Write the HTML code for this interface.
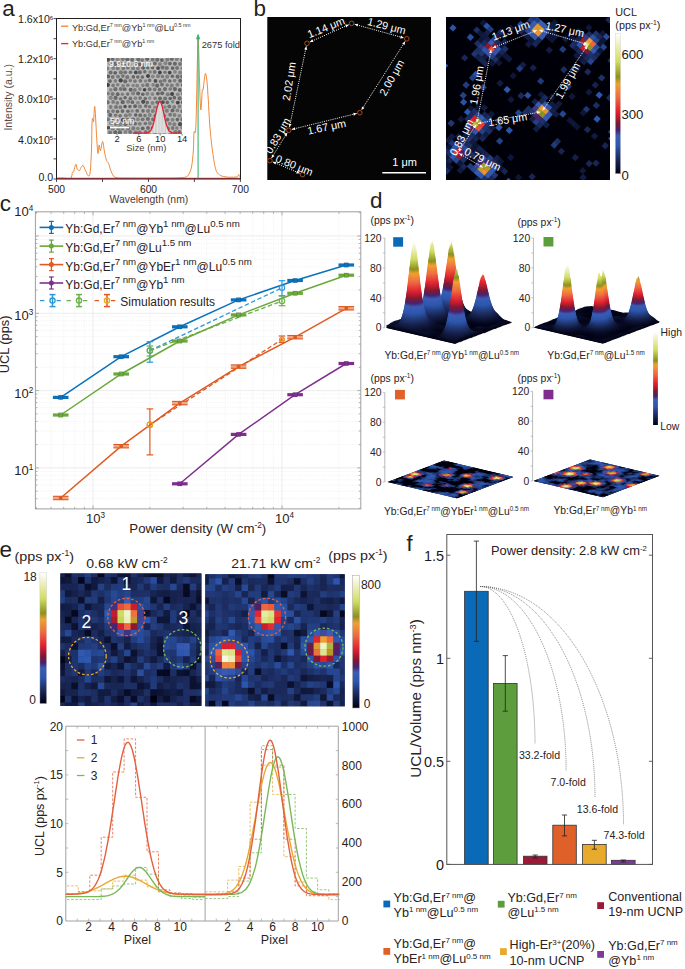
<!DOCTYPE html>
<html><head><meta charset="utf-8"><title>Figure</title>
<style>html,body{margin:0;padding:0;background:#fff;}body{width:685px;height:969px;overflow:hidden;font-family:"Liberation Sans", sans-serif;}svg{display:block;}</style>
</head><body>
<svg width="685" height="969" viewBox="0 0 685 969" font-family="&quot;Liberation Sans&quot;, sans-serif">
<rect width="685" height="969" fill="#ffffff"/>
<line x1="61.1" y1="26.2" x2="68.3" y2="26.2" stroke="#f08a3c" stroke-width="1.4"/>
<line x1="61.1" y1="43.6" x2="68.3" y2="43.6" stroke="#e0303e" stroke-width="1.4"/>
<text x="71.9" y="31.3" font-size="9.6" fill="#3a3030" textLength="118.6" lengthAdjust="spacingAndGlyphs"><tspan font-size="9.6">Yb:Gd,Er</tspan><tspan font-size="5.6" dy="-4">7 nm</tspan><tspan font-size="9.6" dy="4">@Yb</tspan><tspan font-size="5.6" dy="-4">1 nm</tspan><tspan font-size="9.6" dy="4">@Lu</tspan><tspan font-size="5.6" dy="-4">0.5 nm</tspan></text>
<text x="71.9" y="46.8" font-size="9.6" fill="#3a3030" textLength="82.4" lengthAdjust="spacingAndGlyphs"><tspan font-size="9.6">Yb:Gd,Er</tspan><tspan font-size="5.6" dy="-4">7 nm</tspan><tspan font-size="9.6" dy="4">@Yb</tspan><tspan font-size="5.6" dy="-4">1 nm</tspan></text>
<defs><clipPath id="temc"><rect x="107" y="58" width="75" height="76"/></clipPath></defs>
<rect x="107" y="58" width="75" height="76" fill="#b8b8b8"/>
<g clip-path="url(#temc)"><circle cx="108.1" cy="59.8" r="2" fill="#4e4e4e"/><circle cx="112.6" cy="59" r="1.9" fill="#6c6c6c"/><circle cx="117.6" cy="59.6" r="2" fill="#868686"/><circle cx="122.7" cy="59.1" r="2" fill="#7a7a7a"/><circle cx="127.4" cy="59.6" r="2.1" fill="#6a6a6a"/><circle cx="132.2" cy="59.8" r="1.9" fill="#6c6c6c"/><circle cx="138.3" cy="59.5" r="2.1" fill="#6f6f6f"/><circle cx="142.3" cy="60.1" r="1.9" fill="#7a7a7a"/><circle cx="147.2" cy="59.1" r="2" fill="#666666"/><circle cx="152.7" cy="59.6" r="1.9" fill="#777777"/><circle cx="157.3" cy="59.7" r="2" fill="#6d6d6d"/><circle cx="161.9" cy="60.1" r="1.9" fill="#636363"/><circle cx="167.3" cy="59.6" r="2" fill="#7c7c7c"/><circle cx="171.8" cy="59" r="2.1" fill="#6d6d6d"/><circle cx="176.8" cy="59.2" r="1.9" fill="#7f7f7f"/><circle cx="182.3" cy="59.8" r="2" fill="#686868"/><circle cx="110.3" cy="63.5" r="1.8" fill="#7d7d7d"/><circle cx="115.2" cy="63.9" r="2.1" fill="#6b6b6b"/><circle cx="120.4" cy="63.6" r="2" fill="#767676"/><circle cx="125.5" cy="64.1" r="1.8" fill="#757575"/><circle cx="129.7" cy="64.4" r="1.8" fill="#848484"/><circle cx="135.5" cy="63.6" r="1.9" fill="#727272"/><circle cx="139.6" cy="64.3" r="1.9" fill="#646464"/><circle cx="144.8" cy="64.4" r="2" fill="#868686"/><circle cx="150.4" cy="63.3" r="1.8" fill="#7d7d7d"/><circle cx="154.9" cy="63.4" r="1.9" fill="#6c6c6c"/><circle cx="160" cy="64.1" r="1.9" fill="#808080"/><circle cx="165.4" cy="63.3" r="2" fill="#848484"/><circle cx="169.9" cy="63.6" r="1.9" fill="#676767"/><circle cx="174.9" cy="63.8" r="2" fill="#666666"/><circle cx="180" cy="64" r="2" fill="#757575"/><circle cx="184.5" cy="63.8" r="1.9" fill="#747474"/><circle cx="107.6" cy="68.5" r="1.8" fill="#808080"/><circle cx="113.2" cy="68" r="2" fill="#828282"/><circle cx="117.7" cy="68.2" r="2" fill="#7c7c7c"/><circle cx="123.3" cy="68.3" r="1.9" fill="#797979"/><circle cx="127.8" cy="67.7" r="1.9" fill="#797979"/><circle cx="133" cy="68.3" r="2" fill="#7c7c7c"/><circle cx="137.8" cy="68.3" r="1.9" fill="#7c7c7c"/><circle cx="143.1" cy="67.8" r="2" fill="#636363"/><circle cx="147.7" cy="67.7" r="1.8" fill="#6d6d6d"/><circle cx="152.5" cy="67.7" r="1.8" fill="#656565"/><circle cx="158.1" cy="68.1" r="1.9" fill="#4e4e4e"/><circle cx="162.6" cy="67.6" r="2.1" fill="#6f6f6f"/><circle cx="166.8" cy="68" r="2.1" fill="#737373"/><circle cx="172.6" cy="68.1" r="1.9" fill="#646464"/><circle cx="177.1" cy="68.1" r="2" fill="#747474"/><circle cx="182.2" cy="68.4" r="1.8" fill="#848484"/><circle cx="110.6" cy="72.4" r="2" fill="#6e6e6e"/><circle cx="115.2" cy="72.8" r="1.9" fill="#626262"/><circle cx="120.9" cy="72.4" r="2.1" fill="#767676"/><circle cx="125.2" cy="72.3" r="1.9" fill="#707070"/><circle cx="130.5" cy="72.2" r="1.8" fill="#6c6c6c"/><circle cx="135.8" cy="72.4" r="1.9" fill="#494949"/><circle cx="139.9" cy="72.3" r="2.1" fill="#696969"/><circle cx="144.8" cy="71.8" r="1.8" fill="#6a6a6a"/><circle cx="150.1" cy="72.1" r="1.8" fill="#808080"/><circle cx="154.7" cy="71.9" r="2" fill="#747474"/><circle cx="159.9" cy="72.5" r="1.9" fill="#444444"/><circle cx="165" cy="72.2" r="1.8" fill="#747474"/><circle cx="169.7" cy="72.6" r="1.9" fill="#484848"/><circle cx="175" cy="71.9" r="1.9" fill="#848484"/><circle cx="180.1" cy="72.5" r="2" fill="#808080"/><circle cx="184.7" cy="72.6" r="1.9" fill="#6e6e6e"/><circle cx="108.3" cy="76.4" r="1.9" fill="#626262"/><circle cx="112.7" cy="77" r="1.9" fill="#757575"/><circle cx="118" cy="76.6" r="1.9" fill="#777777"/><circle cx="122.9" cy="76.1" r="1.8" fill="#707070"/><circle cx="127.3" cy="77.2" r="2.1" fill="#777777"/><circle cx="133.3" cy="76.9" r="1.8" fill="#656565"/><circle cx="137.8" cy="77" r="1.8" fill="#696969"/><circle cx="142.4" cy="77.1" r="1.8" fill="#6b6b6b"/><circle cx="148" cy="76.1" r="2" fill="#434343"/><circle cx="152.8" cy="76.4" r="2" fill="#868686"/><circle cx="158" cy="76.2" r="2" fill="#7d7d7d"/><circle cx="162.4" cy="76.5" r="1.8" fill="#797979"/><circle cx="167.2" cy="76.7" r="2.1" fill="#828282"/><circle cx="172.4" cy="76.3" r="1.8" fill="#666666"/><circle cx="177.6" cy="76.7" r="2.1" fill="#6a6a6a"/><circle cx="182.2" cy="76.5" r="2" fill="#6a6a6a"/><circle cx="110" cy="81.1" r="1.9" fill="#676767"/><circle cx="115.4" cy="80.8" r="1.9" fill="#7f7f7f"/><circle cx="120.7" cy="80.4" r="2.1" fill="#444444"/><circle cx="125.2" cy="81.3" r="2.1" fill="#696969"/><circle cx="130.3" cy="80.6" r="1.8" fill="#7a7a7a"/><circle cx="135" cy="81.1" r="1.9" fill="#787878"/><circle cx="140.4" cy="80.8" r="1.9" fill="#747474"/><circle cx="145.5" cy="81" r="1.8" fill="#868686"/><circle cx="149.6" cy="80.4" r="1.8" fill="#6d6d6d"/><circle cx="155.5" cy="80.9" r="1.9" fill="#4f4f4f"/><circle cx="160.5" cy="81.4" r="1.8" fill="#767676"/><circle cx="164.5" cy="80.5" r="2.1" fill="#797979"/><circle cx="169.8" cy="81" r="1.8" fill="#696969"/><circle cx="174.6" cy="80.6" r="1.9" fill="#808080"/><circle cx="180.1" cy="80.7" r="2" fill="#656565"/><circle cx="184.7" cy="81.5" r="1.9" fill="#696969"/><circle cx="107.9" cy="84.9" r="2" fill="#404040"/><circle cx="113.1" cy="85.4" r="1.8" fill="#797979"/><circle cx="117.7" cy="84.7" r="1.8" fill="#7f7f7f"/><circle cx="123.1" cy="85.7" r="1.8" fill="#7d7d7d"/><circle cx="127.8" cy="85.2" r="1.8" fill="#7c7c7c"/><circle cx="133.2" cy="85.6" r="1.8" fill="#868686"/><circle cx="137.2" cy="85.7" r="1.9" fill="#818181"/><circle cx="142.9" cy="85.4" r="1.8" fill="#818181"/><circle cx="147.3" cy="85.1" r="2.1" fill="#757575"/><circle cx="153.1" cy="84.9" r="1.8" fill="#828282"/><circle cx="157.2" cy="85.7" r="2.1" fill="#686868"/><circle cx="162" cy="84.7" r="1.9" fill="#6f6f6f"/><circle cx="167.2" cy="85.1" r="1.8" fill="#7a7a7a"/><circle cx="171.8" cy="85.5" r="2.1" fill="#7e7e7e"/><circle cx="177.4" cy="84.8" r="2" fill="#808080"/><circle cx="182.6" cy="85" r="1.9" fill="#6a6a6a"/><circle cx="110.7" cy="89.9" r="1.8" fill="#868686"/><circle cx="115.4" cy="89.2" r="2.1" fill="#6e6e6e"/><circle cx="120.8" cy="89" r="2" fill="#767676"/><circle cx="124.7" cy="89.2" r="1.9" fill="#6a6a6a"/><circle cx="130.7" cy="89.7" r="2" fill="#636363"/><circle cx="134.9" cy="89.9" r="1.9" fill="#7a7a7a"/><circle cx="139.9" cy="89.1" r="1.8" fill="#818181"/><circle cx="144.6" cy="89.8" r="1.8" fill="#434343"/><circle cx="149.6" cy="89.3" r="2" fill="#727272"/><circle cx="154.7" cy="89.4" r="1.9" fill="#797979"/><circle cx="159.6" cy="89.6" r="1.8" fill="#6c6c6c"/><circle cx="165" cy="89.1" r="2.1" fill="#6b6b6b"/><circle cx="170.2" cy="89" r="1.8" fill="#767676"/><circle cx="174.9" cy="89.1" r="2.1" fill="#656565"/><circle cx="179.8" cy="90.1" r="2" fill="#626262"/><circle cx="184.6" cy="89" r="1.8" fill="#525252"/><circle cx="108.2" cy="93.6" r="1.8" fill="#7f7f7f"/><circle cx="112.6" cy="93.9" r="2" fill="#787878"/><circle cx="117.7" cy="94.2" r="1.9" fill="#656565"/><circle cx="122.4" cy="94.2" r="1.8" fill="#818181"/><circle cx="127.7" cy="94.1" r="1.8" fill="#747474"/><circle cx="133.1" cy="93.6" r="2" fill="#808080"/><circle cx="138.1" cy="93.6" r="2" fill="#626262"/><circle cx="142.8" cy="94.2" r="1.8" fill="#636363"/><circle cx="147.4" cy="93.7" r="2" fill="#808080"/><circle cx="152.5" cy="94.1" r="1.9" fill="#858585"/><circle cx="157.9" cy="93.6" r="1.9" fill="#636363"/><circle cx="162.2" cy="93.3" r="2" fill="#676767"/><circle cx="167.8" cy="94.3" r="2.1" fill="#7c7c7c"/><circle cx="172.1" cy="94.1" r="2" fill="#424242"/><circle cx="177.8" cy="94.3" r="1.9" fill="#858585"/><circle cx="182.7" cy="93.5" r="2.1" fill="#848484"/><circle cx="110.7" cy="97.9" r="2.1" fill="#838383"/><circle cx="115.6" cy="97.9" r="2.1" fill="#686868"/><circle cx="120.6" cy="98.7" r="1.8" fill="#717171"/><circle cx="125.1" cy="97.8" r="1.8" fill="#666666"/><circle cx="130.4" cy="98.4" r="1.9" fill="#707070"/><circle cx="135.4" cy="98.2" r="1.9" fill="#848484"/><circle cx="140.1" cy="98.1" r="1.8" fill="#717171"/><circle cx="145.3" cy="98.6" r="1.8" fill="#6d6d6d"/><circle cx="149.8" cy="98.1" r="1.8" fill="#868686"/><circle cx="155.1" cy="98.3" r="1.8" fill="#777777"/><circle cx="160" cy="98.5" r="2" fill="#666666"/><circle cx="165.1" cy="98.6" r="2" fill="#707070"/><circle cx="170.2" cy="98.5" r="1.8" fill="#626262"/><circle cx="174.3" cy="97.7" r="1.9" fill="#686868"/><circle cx="179.6" cy="98.4" r="2.1" fill="#6d6d6d"/><circle cx="185.3" cy="98.2" r="2" fill="#686868"/><circle cx="107.6" cy="102.2" r="2" fill="#6d6d6d"/><circle cx="113.2" cy="101.9" r="1.9" fill="#7b7b7b"/><circle cx="117.3" cy="102.9" r="1.8" fill="#797979"/><circle cx="122.7" cy="102.2" r="2.1" fill="#666666"/><circle cx="128.1" cy="101.8" r="2" fill="#808080"/><circle cx="132.4" cy="102.2" r="1.9" fill="#6b6b6b"/><circle cx="137.9" cy="102.7" r="1.9" fill="#868686"/><circle cx="143.2" cy="101.8" r="2.1" fill="#4d4d4d"/><circle cx="147.3" cy="102.6" r="1.8" fill="#6b6b6b"/><circle cx="152.5" cy="102.9" r="2" fill="#848484"/><circle cx="157.2" cy="102.3" r="1.8" fill="#6a6a6a"/><circle cx="162.8" cy="102.2" r="1.9" fill="#515151"/><circle cx="167.3" cy="102.4" r="1.8" fill="#656565"/><circle cx="172.7" cy="101.8" r="1.8" fill="#838383"/><circle cx="177.8" cy="102.6" r="1.9" fill="#454545"/><circle cx="182.6" cy="102.3" r="1.9" fill="#646464"/><circle cx="110.7" cy="107" r="1.9" fill="#7d7d7d"/><circle cx="116" cy="107" r="2" fill="#777777"/><circle cx="120.3" cy="107.2" r="1.9" fill="#797979"/><circle cx="125.1" cy="106.6" r="1.8" fill="#545454"/><circle cx="129.9" cy="106.6" r="1.8" fill="#666666"/><circle cx="135.1" cy="106.2" r="1.9" fill="#636363"/><circle cx="140" cy="106.6" r="2.1" fill="#7f7f7f"/><circle cx="145.7" cy="106.1" r="1.8" fill="#6d6d6d"/><circle cx="149.6" cy="106.8" r="1.8" fill="#777777"/><circle cx="155" cy="107.2" r="1.8" fill="#858585"/><circle cx="160.1" cy="106.5" r="1.9" fill="#797979"/><circle cx="164.9" cy="107.1" r="1.8" fill="#868686"/><circle cx="169.3" cy="106.5" r="2" fill="#717171"/><circle cx="174.2" cy="107" r="2" fill="#7c7c7c"/><circle cx="179.5" cy="106.4" r="2" fill="#828282"/><circle cx="185.2" cy="107" r="1.9" fill="#858585"/><circle cx="108.2" cy="111.5" r="1.8" fill="#797979"/><circle cx="113" cy="111.1" r="1.9" fill="#7a7a7a"/><circle cx="117.5" cy="111.5" r="1.8" fill="#666666"/><circle cx="122.5" cy="111.1" r="1.9" fill="#686868"/><circle cx="127.9" cy="111.3" r="1.8" fill="#6a6a6a"/><circle cx="132.2" cy="111" r="1.8" fill="#868686"/><circle cx="137.2" cy="110.8" r="1.9" fill="#6b6b6b"/><circle cx="143" cy="110.9" r="1.8" fill="#6b6b6b"/><circle cx="148" cy="111.1" r="2" fill="#7a7a7a"/><circle cx="152.8" cy="111.1" r="2" fill="#7e7e7e"/><circle cx="157.6" cy="111" r="1.8" fill="#787878"/><circle cx="161.9" cy="111.3" r="2" fill="#818181"/><circle cx="166.8" cy="110.8" r="2" fill="#7c7c7c"/><circle cx="172.5" cy="110.6" r="2" fill="#696969"/><circle cx="177.4" cy="110.4" r="1.9" fill="#7f7f7f"/><circle cx="182.3" cy="111.3" r="2" fill="#737373"/><circle cx="110.2" cy="115" r="1.9" fill="#626262"/><circle cx="115.6" cy="115.2" r="1.8" fill="#7a7a7a"/><circle cx="120.1" cy="115.8" r="1.8" fill="#6f6f6f"/><circle cx="125.9" cy="115.4" r="2" fill="#7e7e7e"/><circle cx="129.9" cy="114.8" r="1.9" fill="#818181"/><circle cx="135.7" cy="115" r="1.8" fill="#636363"/><circle cx="140.2" cy="115.3" r="2" fill="#6f6f6f"/><circle cx="145" cy="115.6" r="1.8" fill="#767676"/><circle cx="149.8" cy="115.1" r="2" fill="#838383"/><circle cx="155.2" cy="115.8" r="1.8" fill="#696969"/><circle cx="159.5" cy="115.7" r="2" fill="#747474"/><circle cx="164.4" cy="115.8" r="1.9" fill="#7a7a7a"/><circle cx="170.2" cy="114.7" r="1.9" fill="#777777"/><circle cx="174.6" cy="115" r="1.9" fill="#7c7c7c"/><circle cx="179.4" cy="115.8" r="1.9" fill="#828282"/><circle cx="184.2" cy="115.1" r="2" fill="#868686"/><circle cx="108.2" cy="119.3" r="1.9" fill="#797979"/><circle cx="112.5" cy="119.8" r="1.8" fill="#696969"/><circle cx="118.1" cy="119.7" r="1.8" fill="#7a7a7a"/><circle cx="122.9" cy="120.1" r="2.1" fill="#505050"/><circle cx="127.4" cy="119.7" r="1.9" fill="#6d6d6d"/><circle cx="133.1" cy="119.5" r="2" fill="#6a6a6a"/><circle cx="137.9" cy="119.3" r="2" fill="#858585"/><circle cx="142.7" cy="119.3" r="1.9" fill="#727272"/><circle cx="147.9" cy="119" r="2.1" fill="#6e6e6e"/><circle cx="152.9" cy="119.4" r="1.8" fill="#707070"/><circle cx="157" cy="119.4" r="1.8" fill="#7f7f7f"/><circle cx="162.7" cy="119" r="2" fill="#727272"/><circle cx="167.5" cy="119.6" r="1.9" fill="#6f6f6f"/><circle cx="172.5" cy="119.7" r="1.9" fill="#818181"/><circle cx="177.4" cy="119.6" r="1.8" fill="#656565"/><circle cx="182.2" cy="119.4" r="1.8" fill="#6a6a6a"/><circle cx="111" cy="123.2" r="1.9" fill="#818181"/><circle cx="115.8" cy="124" r="2" fill="#7c7c7c"/><circle cx="120.3" cy="124.3" r="2" fill="#838383"/><circle cx="125.5" cy="124.2" r="2" fill="#6c6c6c"/><circle cx="130.3" cy="123.8" r="1.8" fill="#7f7f7f"/><circle cx="135.3" cy="123.8" r="1.8" fill="#696969"/><circle cx="139.8" cy="123.8" r="1.9" fill="#7b7b7b"/><circle cx="145.3" cy="123.5" r="1.8" fill="#737373"/><circle cx="149.8" cy="123.3" r="2" fill="#828282"/><circle cx="154.7" cy="123.3" r="2" fill="#858585"/><circle cx="159.9" cy="124" r="1.9" fill="#656565"/><circle cx="164.3" cy="123.7" r="1.8" fill="#464646"/><circle cx="169.8" cy="123.7" r="1.9" fill="#808080"/><circle cx="174.3" cy="124.2" r="2" fill="#7f7f7f"/><circle cx="180" cy="124.2" r="2.1" fill="#4e4e4e"/><circle cx="184.4" cy="123.3" r="1.9" fill="#777777"/><circle cx="108.5" cy="127.7" r="1.8" fill="#4d4d4d"/><circle cx="112.6" cy="128.5" r="2.1" fill="#7b7b7b"/><circle cx="118.4" cy="128.3" r="2.1" fill="#6f6f6f"/><circle cx="122.4" cy="128.6" r="2" fill="#737373"/><circle cx="128" cy="128.5" r="2.1" fill="#737373"/><circle cx="133.3" cy="128.4" r="2.1" fill="#7c7c7c"/><circle cx="137.8" cy="128.5" r="1.8" fill="#7e7e7e"/><circle cx="142.7" cy="128.3" r="1.9" fill="#646464"/><circle cx="148" cy="127.9" r="1.9" fill="#686868"/><circle cx="152.9" cy="128.2" r="2" fill="#444444"/><circle cx="158" cy="128.4" r="2" fill="#858585"/><circle cx="162.9" cy="128.4" r="1.9" fill="#676767"/><circle cx="168" cy="128.4" r="1.9" fill="#797979"/><circle cx="172.7" cy="128" r="1.9" fill="#777777"/><circle cx="176.9" cy="128" r="1.8" fill="#7e7e7e"/><circle cx="182.2" cy="127.6" r="1.9" fill="#828282"/><circle cx="110.1" cy="132.6" r="2" fill="#767676"/><circle cx="115.3" cy="132.2" r="2" fill="#646464"/><circle cx="119.9" cy="132.4" r="2.1" fill="#676767"/><circle cx="125.5" cy="131.9" r="1.9" fill="#818181"/><circle cx="130.2" cy="132" r="2" fill="#737373"/><circle cx="135.8" cy="132.4" r="2" fill="#747474"/><circle cx="139.7" cy="132.2" r="1.9" fill="#7c7c7c"/><circle cx="145.7" cy="131.9" r="1.9" fill="#777777"/><circle cx="149.6" cy="132.2" r="2" fill="#818181"/><circle cx="155" cy="132.8" r="2.1" fill="#656565"/><circle cx="159.7" cy="132.3" r="1.9" fill="#828282"/><circle cx="164.4" cy="132.4" r="1.8" fill="#7e7e7e"/><circle cx="170.1" cy="132.9" r="1.9" fill="#696969"/><circle cx="175.3" cy="132.1" r="2.1" fill="#797979"/><circle cx="179.3" cy="131.8" r="1.8" fill="#6b6b6b"/><circle cx="184.3" cy="132.7" r="1.8" fill="#656565"/><circle cx="108.2" cy="136.4" r="1.9" fill="#4e4e4e"/><circle cx="113.2" cy="136.7" r="1.9" fill="#828282"/><circle cx="117.9" cy="136.6" r="1.9" fill="#646464"/><circle cx="122.6" cy="136.8" r="1.8" fill="#696969"/><circle cx="128.3" cy="136.5" r="2" fill="#696969"/><circle cx="133.3" cy="136.2" r="1.8" fill="#848484"/><circle cx="137.3" cy="136.6" r="1.8" fill="#7b7b7b"/><circle cx="142.2" cy="137.2" r="1.9" fill="#838383"/><circle cx="147" cy="137" r="1.9" fill="#7b7b7b"/><circle cx="152.6" cy="136.7" r="1.9" fill="#696969"/><circle cx="157.3" cy="136.8" r="1.8" fill="#6c6c6c"/><circle cx="162.1" cy="136.1" r="1.8" fill="#808080"/><circle cx="167.1" cy="137.2" r="1.9" fill="#767676"/><circle cx="171.8" cy="136.2" r="2" fill="#6e6e6e"/><circle cx="176.8" cy="137.1" r="2.1" fill="#696969"/><circle cx="182.4" cy="137.2" r="1.8" fill="#787878"/></g>
<text x="109" y="67.2" font-size="8.8" fill="#ffffff">9.9±0.6 nm</text>
<text x="110" y="124" font-size="8.8" fill="#ffffff">50 nm</text>
<line x1="110" y1="127.6" x2="129" y2="127.6" stroke="#ffffff" stroke-width="1.5"/>
<defs><clipPath id="histc"><path d="M149,133.2 149,132.2 149.6,131.8 150.1,131.3 150.7,130.7 151.2,129.8 151.8,128.7 152.3,127.4 152.8,125.9 153.4,124.1 153.9,122.1 154.5,119.9 155.1,117.5 155.6,115 156.2,112.5 156.7,110.1 157.2,107.9 157.8,105.9 158.3,104.3 158.9,103.2 159.4,102.6 160,102.5 160.6,103 161.1,104 161.7,105.4 162.2,107.3 162.8,109.5 163.3,111.8 163.8,114.3 164.4,116.8 164.9,119.2 165.5,121.5 166.1,123.6 166.6,125.4 167.2,127 167.7,128.4 168.2,129.5 168.8,130.4 169.3,131.2 169.9,131.7 170.4,132.1 171,132.5 171,133.2Z"/></clipPath></defs>
<path d="M149,133.2 149,132.2 149.6,131.8 150.1,131.3 150.7,130.7 151.2,129.8 151.8,128.7 152.3,127.4 152.8,125.9 153.4,124.1 153.9,122.1 154.5,119.9 155.1,117.5 155.6,115 156.2,112.5 156.7,110.1 157.2,107.9 157.8,105.9 158.3,104.3 158.9,103.2 159.4,102.6 160,102.5 160.6,103 161.1,104 161.7,105.4 162.2,107.3 162.8,109.5 163.3,111.8 163.8,114.3 164.4,116.8 164.9,119.2 165.5,121.5 166.1,123.6 166.6,125.4 167.2,127 167.7,128.4 168.2,129.5 168.8,130.4 169.3,131.2 169.9,131.7 170.4,132.1 171,132.5 171,133.2Z" fill="#f6f6f6"/>
<g clip-path="url(#histc)"><line x1="149.6" y1="100" x2="149.6" y2="133.2" stroke="#8a8a8a" stroke-width="0.4"/><line x1="151" y1="100" x2="151" y2="133.2" stroke="#8a8a8a" stroke-width="0.4"/><line x1="152.5" y1="100" x2="152.5" y2="133.2" stroke="#8a8a8a" stroke-width="0.4"/><line x1="153.9" y1="100" x2="153.9" y2="133.2" stroke="#8a8a8a" stroke-width="0.4"/><line x1="155.4" y1="100" x2="155.4" y2="133.2" stroke="#8a8a8a" stroke-width="0.4"/><line x1="156.8" y1="100" x2="156.8" y2="133.2" stroke="#8a8a8a" stroke-width="0.4"/><line x1="158.3" y1="100" x2="158.3" y2="133.2" stroke="#8a8a8a" stroke-width="0.4"/><line x1="159.8" y1="100" x2="159.8" y2="133.2" stroke="#8a8a8a" stroke-width="0.4"/><line x1="161.2" y1="100" x2="161.2" y2="133.2" stroke="#8a8a8a" stroke-width="0.4"/><line x1="162.7" y1="100" x2="162.7" y2="133.2" stroke="#8a8a8a" stroke-width="0.4"/><line x1="164.1" y1="100" x2="164.1" y2="133.2" stroke="#8a8a8a" stroke-width="0.4"/><line x1="165.5" y1="100" x2="165.5" y2="133.2" stroke="#8a8a8a" stroke-width="0.4"/><line x1="167" y1="100" x2="167" y2="133.2" stroke="#8a8a8a" stroke-width="0.4"/><line x1="168.4" y1="100" x2="168.4" y2="133.2" stroke="#8a8a8a" stroke-width="0.4"/><line x1="169.9" y1="100" x2="169.9" y2="133.2" stroke="#8a8a8a" stroke-width="0.4"/><line x1="171.3" y1="100" x2="171.3" y2="133.2" stroke="#8a8a8a" stroke-width="0.4"/></g>
<path d="M132.8,133.2 146,133.1 146.4,133 146.9,133 147.3,132.9 147.8,132.8 148.2,132.6 148.7,132.4 149.2,132.1 149.6,131.8 150.1,131.3 150.5,130.8 150.9,130.1 151.4,129.3 151.8,128.4 152.3,127.3 152.8,126 153.2,124.5 153.7,122.9 154.1,121.1 154.6,119.2 155,117.2 155.4,115.1 155.9,113 156.3,111 156.8,108.9 157.2,107.1 157.7,105.4 158.2,104 158.6,102.8 159.1,102 159.5,101.6 159.9,101.5 160.4,101.8 160.8,102.5 161.3,103.6 161.8,104.9 162.2,106.5 162.7,108.3 163.1,110.3 163.6,112.3 164,114.4 164.4,116.5 164.9,118.6 165.3,120.5 165.8,122.3 166.2,124 166.7,125.5 167.2,126.8 167.6,128 168.1,129 168.5,129.9 168.9,130.6 169.4,131.2 169.8,131.6 170.3,132 170.8,132.3 171.2,132.5 171.7,132.7 172.1,132.8 172.6,132.9 173,133 182,133.2" fill="none" stroke="#e02030" stroke-width="1.3"/>
<text x="117.1" y="142.2" font-size="9.4" fill="#2a2222" text-anchor="middle">2</text>
<line x1="117.1" y1="134" x2="117.1" y2="135.5" stroke="#2a2222" stroke-width="0.6"/>
<text x="138.8" y="142.2" font-size="9.4" fill="#2a2222" text-anchor="middle">6</text>
<line x1="138.8" y1="134" x2="138.8" y2="135.5" stroke="#2a2222" stroke-width="0.6"/>
<text x="160.2" y="142.2" font-size="9.4" fill="#2a2222" text-anchor="middle">10</text>
<line x1="160.2" y1="134" x2="160.2" y2="135.5" stroke="#2a2222" stroke-width="0.6"/>
<text x="182.1" y="142.2" font-size="9.4" fill="#2a2222" text-anchor="middle">14</text>
<line x1="182.1" y1="134" x2="182.1" y2="135.5" stroke="#2a2222" stroke-width="0.6"/>
<text x="146.4" y="150.8" font-size="9.4" fill="#4a3a36" text-anchor="middle">Size (nm)</text>
<path d="M56.5,178.3 57.5,178.2 59,178.1 60.6,178 62,177.9 63.1,178 64,178.1 65,178.2 66,178.3 67.2,178.4 68.5,178.6 69.8,178.6 70.8,178.2 71.5,177 71.9,175.3 72.2,173.5 72.5,172.3 72.8,171.9 73,172 73.3,172.1 73.6,171.6 74.1,169.9 74.7,167.6 75.3,165.3 75.8,164.2 76.2,164.6 76.5,166 76.8,167.7 77.2,169 77.7,169.7 78.3,170.3 79,170.6 79.5,170.6 79.9,170.2 80.3,169.3 80.6,168.4 81,167.6 81.5,166.8 82,166 82.5,165.4 83,165.3 83.5,165.8 83.9,166.9 84.4,168.2 85,169.5 85.8,171.2 86.7,173.2 87.5,174.9 88.3,175.8 88.9,176 89.4,175.7 89.8,174.5 90.2,172 90.6,167.9 90.9,162.5 91.2,156.4 91.5,150 91.7,142.7 91.8,134.5 91.9,126.9 92.1,121.5 92.3,118.9 92.5,118.3 92.8,118.7 93,119 93.2,119.7 93.3,121 93.4,122 93.6,121.5 93.8,118.3 94.1,113.4 94.4,108.7 94.7,106.4 94.9,107.2 95.1,109.9 95.4,113.7 95.6,118 95.9,123 96.2,128.9 96.5,134.8 96.8,140 97.1,144.5 97.4,148.7 97.7,152 98,153.6 98.3,152.7 98.5,149.7 98.8,146.6 99.1,144.9 99.4,145.7 99.7,147.8 100.1,150 100.5,150.7 101,149 101.5,145.8 102.1,142.7 102.6,141.4 103.1,142.7 103.6,145.6 104,149 104.5,152 105,154.4 105.5,156.7 106,158.8 106.5,160.5 107,161.6 107.6,162.1 108.2,162.7 108.7,163.6 109.2,165.1 109.7,166.9 110.2,168.8 110.8,170.5 111.4,172.1 112.1,173.6 112.8,174.9 113.5,176 114.2,176.7 114.9,177.2 115.8,177.5 117,177.8 118.3,178 119.7,178.1 121.7,178.1 125,178.1 130.1,178.1 136.4,178.2 143.4,178.2 150,178.2 156.7,178.2 163.6,178.1 170,178.1 175,178 178.1,177.9 179.9,177.8 181,177.7 182,177.6 183,177.5 183.7,177.5 184.3,177.4 185,177.2 185.8,177 186.6,176.7 187.4,176.3 188.2,175.3 189.1,173.9 189.9,172.1 190.8,169.8 191.5,167 192.1,163.4 192.6,159.1 193,154.5 193.4,150 193.6,145.2 193.7,140.2 193.8,135.6 194,132.3 194.3,131.5 194.8,132.3 195.2,132.8 195.6,130.7 195.9,125.3 196.2,117.7 196.4,109 196.6,100 196.8,90.3 197,79.6 197.2,69.1 197.4,60 197.6,51.6 197.7,43.7 197.9,37.8 198.1,35.5 198.3,38 198.5,44.3 198.8,52.3 199,60 199.2,67.6 199.4,75.8 199.6,83.9 199.8,91 200,97.5 200.3,103.6 200.6,108.2 200.9,110 201.2,107.5 201.6,101.8 201.9,95.4 202.2,91 202.4,89.6 202.7,89.8 202.9,90 203.2,89 203.6,85.6 204.2,80.8 204.7,76.3 205.2,73.7 205.6,73.4 206,74.6 206.4,77 206.8,80 207.2,83.9 207.6,88.9 207.9,94.4 208.3,100 208.6,105.7 208.9,111.7 209.3,117.8 209.7,124 210.2,130.3 210.8,136.7 211.5,142.9 212.2,148.8 213,154.4 213.8,159.9 214.6,164.8 215.5,168.7 216.4,171.3 217.4,172.9 218.4,173.9 219.5,174.8 220.7,175.6 222.1,176.2 223.5,176.5 225,176.8 226.7,177 228.5,177.2 230.3,177.2 232,177.2 233.6,177.2 235.1,177.1 236.5,176.9 237.5,176.6 238.1,176.1 238.3,175.3 238.4,174.7 238.6,174.4 238.9,174.7 239.1,175.3 239.4,176 239.6,176.5 239.9,176.7 240.1,176.9 240.3,176.9 240.5,177" fill="none" stroke="#f08a3c" stroke-width="1" stroke-linejoin="round"/>
<line x1="57" y1="178.4" x2="240" y2="178.4" stroke="#e0404a" stroke-width="1.3"/>
<line x1="198.1" y1="178.6" x2="198.1" y2="38" stroke="#3cb371" stroke-width="1.1"/>
<path d="M198.1,33.4 L195.9,39.2 L200.3,39.2Z" fill="#3cb371"/>
<text x="201.7" y="48.4" font-size="9.3" fill="#3a3030">2675 fold</text>
<rect x="56.5" y="18.5" width="184" height="160.5" fill="none" stroke="#231f20" stroke-width="1"/>
<line x1="53.5" y1="179" x2="56.5" y2="179" stroke="#231f20" stroke-width="0.8"/>
<line x1="53.5" y1="158.9" x2="56.5" y2="158.9" stroke="#231f20" stroke-width="0.8"/>
<line x1="53.5" y1="138.9" x2="56.5" y2="138.9" stroke="#231f20" stroke-width="0.8"/>
<line x1="53.5" y1="118.8" x2="56.5" y2="118.8" stroke="#231f20" stroke-width="0.8"/>
<line x1="53.5" y1="98.8" x2="56.5" y2="98.8" stroke="#231f20" stroke-width="0.8"/>
<line x1="53.5" y1="78.8" x2="56.5" y2="78.8" stroke="#231f20" stroke-width="0.8"/>
<line x1="53.5" y1="58.7" x2="56.5" y2="58.7" stroke="#231f20" stroke-width="0.8"/>
<line x1="53.5" y1="38.7" x2="56.5" y2="38.7" stroke="#231f20" stroke-width="0.8"/>
<line x1="53.5" y1="18.6" x2="56.5" y2="18.6" stroke="#231f20" stroke-width="0.8"/>
<text x="53.2" y="180.8" font-size="10.6" fill="#222" text-anchor="end">0.0</text>
<text x="53.2" y="143.5" font-size="10.6" fill="#222" text-anchor="end">4.0x10<tspan font-size="6.0" dy="-3.6">5</tspan></text>
<text x="53.2" y="103.4" font-size="10.6" fill="#222" text-anchor="end">8.0x10<tspan font-size="6.0" dy="-3.6">5</tspan></text>
<text x="53.2" y="63.3" font-size="10.6" fill="#222" text-anchor="end">1.2x10<tspan font-size="6.0" dy="-3.6">6</tspan></text>
<text x="53.2" y="23.2" font-size="10.6" fill="#222" text-anchor="end">1.6x10<tspan font-size="6.0" dy="-3.6">6</tspan></text>
<line x1="56.5" y1="179" x2="56.5" y2="182" stroke="#231f20" stroke-width="0.8"/>
<line x1="102.5" y1="179" x2="102.5" y2="182" stroke="#231f20" stroke-width="0.8"/>
<line x1="148.5" y1="179" x2="148.5" y2="182" stroke="#231f20" stroke-width="0.8"/>
<line x1="194.4" y1="179" x2="194.4" y2="182" stroke="#231f20" stroke-width="0.8"/>
<line x1="240.4" y1="179" x2="240.4" y2="182" stroke="#231f20" stroke-width="0.8"/>
<text x="56.5" y="192.7" font-size="10.3" fill="#222" text-anchor="middle">500</text>
<text x="148.5" y="192.7" font-size="10.3" fill="#222" text-anchor="middle">600</text>
<text x="240.4" y="192.7" font-size="10.3" fill="#222" text-anchor="middle">700</text>
<text x="148.9" y="203.2" font-size="10.4" fill="#4a3a36" text-anchor="middle">Wavelength (nm)</text>
<text transform="translate(11.6,97.3) rotate(-90)" font-size="10.5" fill="#5a4844" text-anchor="middle">Intensity (a.u.)</text>
<rect x="267.3" y="17" width="163.7" height="163" fill="#050505"/>
<line x1="309.9" y1="42" x2="348.7" y2="24.7" stroke="#ffffff" stroke-width="0.9" stroke-dasharray="1.1,1.1"/><path d="M309.9,42 L313.5,42.1 L312.2,39.3 Z" fill="#ffffff"/><path d="M348.7,24.7 L346.4,27.4 L345.1,24.6 Z" fill="#ffffff"/>
<line x1="354.7" y1="24.3" x2="403.7" y2="37.9" stroke="#ffffff" stroke-width="0.9" stroke-dasharray="1.1,1.1"/><path d="M354.7,24.3 L357.4,26.6 L358.2,23.7 Z" fill="#ffffff"/><path d="M403.7,37.9 L400.2,38.5 L401,35.6 Z" fill="#ffffff"/>
<line x1="306.3" y1="46.4" x2="289.5" y2="127.1" stroke="#ffffff" stroke-width="0.9" stroke-dasharray="1.1,1.1"/><path d="M306.3,46.4 L304.2,49.3 L307.2,49.9 Z" fill="#ffffff"/><path d="M289.5,127.1 L288.6,123.6 L291.6,124.2 Z" fill="#ffffff"/>
<line x1="405.1" y1="41.5" x2="361.5" y2="110" stroke="#ffffff" stroke-width="0.9" stroke-dasharray="1.1,1.1"/><path d="M405.1,41.5 L402.1,43.4 L404.6,45 Z" fill="#ffffff"/><path d="M361.5,110 L362,106.5 L364.5,108.1 Z" fill="#ffffff"/>
<line x1="291.9" y1="129.4" x2="356.7" y2="113.5" stroke="#ffffff" stroke-width="0.9" stroke-dasharray="1.1,1.1"/><path d="M291.9,129.4 L295.4,130.1 L294.7,127.2 Z" fill="#ffffff"/><path d="M356.7,113.5 L353.9,115.7 L353.2,112.8 Z" fill="#ffffff"/>
<line x1="287.1" y1="132.9" x2="271.6" y2="157.9" stroke="#ffffff" stroke-width="0.9" stroke-dasharray="1.1,1.1"/><path d="M287.1,132.9 L284.1,134.8 L286.7,136.4 Z" fill="#ffffff"/><path d="M271.6,157.9 L272,154.4 L274.6,156 Z" fill="#ffffff"/>
<line x1="272.8" y1="161.9" x2="299.7" y2="173.3" stroke="#ffffff" stroke-width="0.9" stroke-dasharray="1.1,1.1"/><path d="M272.8,161.9 L275.2,164.5 L276.4,161.7 Z" fill="#ffffff"/><path d="M299.7,173.3 L296.1,173.5 L297.3,170.7 Z" fill="#ffffff"/>
<circle cx="307" cy="43.3" r="2.3" fill="none" stroke="#c0501c" stroke-width="0.9"/>
<circle cx="351.6" cy="23.4" r="2.3" fill="none" stroke="#c0501c" stroke-width="0.9"/>
<circle cx="406.8" cy="38.8" r="2.3" fill="none" stroke="#c0501c" stroke-width="0.9"/>
<circle cx="359.8" cy="112.7" r="2.3" fill="none" stroke="#c0501c" stroke-width="0.9"/>
<circle cx="288.8" cy="130.2" r="2.3" fill="none" stroke="#c0501c" stroke-width="0.9"/>
<circle cx="269.9" cy="160.6" r="2.3" fill="none" stroke="#c0501c" stroke-width="0.9"/>
<circle cx="302.6" cy="174.6" r="2.3" fill="none" stroke="#c0501c" stroke-width="0.9"/>
<text transform="translate(327.4,31) rotate(-22)" font-size="10.8" fill="#ffffff" text-anchor="middle">1.14 μm</text>
<text transform="translate(385.8,29.6) rotate(14)" font-size="10.8" fill="#ffffff" text-anchor="middle">1.29 μm</text>
<text transform="translate(292.8,82) rotate(-81)" font-size="10.8" fill="#ffffff" text-anchor="middle">2.02 μm</text>
<text transform="translate(395,79.5) rotate(-61)" font-size="10.8" fill="#ffffff" text-anchor="middle">2.00 μm</text>
<text transform="translate(327.4,130.6) rotate(-12)" font-size="10.8" fill="#ffffff" text-anchor="middle">1.67 μm</text>
<text transform="translate(281,137.5) rotate(-60)" font-size="10.8" fill="#ffffff" text-anchor="middle">0.83 μm</text>
<text transform="translate(293,168.8) rotate(22)" font-size="10.8" fill="#ffffff" text-anchor="middle">0.80 μm</text>
<text x="404.7" y="166" font-size="11" fill="#ffffff" text-anchor="middle">1 μm</text>
<line x1="382.3" y1="172.8" x2="426" y2="172.8" stroke="#ffffff" stroke-width="1.6"/>
<defs><clipPath id="cb2"><rect x="446" y="17" width="164" height="163"/></clipPath></defs>
<rect x="446" y="17" width="164" height="163" fill="#000008"/>
<g clip-path="url(#cb2)"><g transform="translate(528,98.5) rotate(42)"><rect x="-105.6" y="-4.8" width="5.2" height="5.2" fill="#2b54a9"/><rect x="-86.4" y="-28.8" width="5.2" height="5.2" fill="#0d1535"/><rect x="-86.4" y="-19.2" width="5.2" height="5.2" fill="#1c2e63"/><rect x="-86.4" y="-9.6" width="5.2" height="5.2" fill="#294e9e"/><rect x="-86.4" y="28.8" width="5.2" height="5.2" fill="#2a51a2"/><rect x="-81.6" y="-28.8" width="5.2" height="5.2" fill="#2b54a8"/><rect x="-81.6" y="-19.2" width="5.2" height="5.2" fill="#0f183a"/><rect x="-76.8" y="-28.8" width="5.2" height="5.2" fill="#213977"/><rect x="-76.8" y="-24" width="5.2" height="5.2" fill="#141f48"/><rect x="-76.8" y="-19.2" width="5.2" height="5.2" fill="#11193e"/><rect x="-76.8" y="-14.4" width="5.2" height="5.2" fill="#0e1537"/><rect x="-76.8" y="-9.6" width="5.2" height="5.2" fill="#1c2e63"/><rect x="-76.8" y="9.6" width="5.2" height="5.2" fill="#192756"/><rect x="-72" y="-19.2" width="5.2" height="5.2" fill="#141f48"/><rect x="-72" y="-14.4" width="5.2" height="5.2" fill="#1b2b5d"/><rect x="-72" y="-9.6" width="5.2" height="5.2" fill="#223e7f"/><rect x="-72" y="-4.8" width="5.2" height="5.2" fill="#1c2d61"/><rect x="-72" y="0" width="5.2" height="5.2" fill="#1f3671"/><rect x="-67.2" y="-33.6" width="5.2" height="5.2" fill="#1b2a5b"/><rect x="-67.2" y="-28.8" width="5.2" height="5.2" fill="#141f47"/><rect x="-67.2" y="-24" width="5.2" height="5.2" fill="#25448c"/><rect x="-67.2" y="-19.2" width="5.2" height="5.2" fill="#3a5cb4"/><rect x="-67.2" y="-14.4" width="5.2" height="5.2" fill="#8b1930"/><rect x="-67.2" y="-9.6" width="5.2" height="5.2" fill="#2c56ac"/><rect x="-67.2" y="-4.8" width="5.2" height="5.2" fill="#1f3671"/><rect x="-67.2" y="0" width="5.2" height="5.2" fill="#131e45"/><rect x="-62.4" y="-43.2" width="5.2" height="5.2" fill="#121c42"/><rect x="-62.4" y="-33.6" width="5.2" height="5.2" fill="#0f173a"/><rect x="-62.4" y="-24" width="5.2" height="5.2" fill="#1b2b5e"/><rect x="-62.4" y="-19.2" width="5.2" height="5.2" fill="#8c1930"/><rect x="-62.4" y="-14.4" width="5.2" height="5.2" fill="#e9513a"/><rect x="-62.4" y="-9.6" width="5.2" height="5.2" fill="#3d50a6"/><rect x="-62.4" y="-4.8" width="5.2" height="5.2" fill="#111a3f"/><rect x="-62.4" y="0" width="5.2" height="5.2" fill="#172450"/><rect x="-57.6" y="-52.8" width="5.2" height="5.2" fill="#274893"/><rect x="-57.6" y="-28.8" width="5.2" height="5.2" fill="#172451"/><rect x="-57.6" y="-24" width="5.2" height="5.2" fill="#0f183a"/><rect x="-57.6" y="-19.2" width="5.2" height="5.2" fill="#2d56ac"/><rect x="-57.6" y="-14.4" width="5.2" height="5.2" fill="#3d4ea4"/><rect x="-57.6" y="-9.6" width="5.2" height="5.2" fill="#244084"/><rect x="-57.6" y="0" width="5.2" height="5.2" fill="#182552"/><rect x="-57.6" y="14.4" width="5.2" height="5.2" fill="#294fa0"/><rect x="-57.6" y="19.2" width="5.2" height="5.2" fill="#223c7c"/><rect x="-57.6" y="28.8" width="5.2" height="5.2" fill="#223c7d"/><rect x="-52.8" y="-72" width="5.2" height="5.2" fill="#16224c"/><rect x="-52.8" y="-67.2" width="5.2" height="5.2" fill="#1d3168"/><rect x="-52.8" y="-62.4" width="5.2" height="5.2" fill="#233e80"/><rect x="-52.8" y="-57.6" width="5.2" height="5.2" fill="#10183c"/><rect x="-52.8" y="-52.8" width="5.2" height="5.2" fill="#0f1739"/><rect x="-52.8" y="-48" width="5.2" height="5.2" fill="#1b295a"/><rect x="-52.8" y="-24" width="5.2" height="5.2" fill="#1d3168"/><rect x="-52.8" y="-19.2" width="5.2" height="5.2" fill="#182654"/><rect x="-52.8" y="-14.4" width="5.2" height="5.2" fill="#10183c"/><rect x="-52.8" y="-9.6" width="5.2" height="5.2" fill="#1d3066"/><rect x="-52.8" y="-4.8" width="5.2" height="5.2" fill="#0f1739"/><rect x="-52.8" y="38.4" width="5.2" height="5.2" fill="#244288"/><rect x="-48" y="-67.2" width="5.2" height="5.2" fill="#223c7c"/><rect x="-48" y="-62.4" width="5.2" height="5.2" fill="#395cb4"/><rect x="-48" y="-57.6" width="5.2" height="5.2" fill="#385bb3"/><rect x="-48" y="-52.8" width="5.2" height="5.2" fill="#264791"/><rect x="-48" y="-48" width="5.2" height="5.2" fill="#0e1536"/><rect x="-48" y="-19.2" width="5.2" height="5.2" fill="#0f183b"/><rect x="-48" y="-9.6" width="5.2" height="5.2" fill="#0e1637"/><rect x="-48" y="43.2" width="5.2" height="5.2" fill="#2a51a2"/><rect x="-43.2" y="-67.2" width="5.2" height="5.2" fill="#395cb4"/><rect x="-43.2" y="-62.4" width="5.2" height="5.2" fill="#d79c2c"/><rect x="-43.2" y="-57.6" width="5.2" height="5.2" fill="#f09d31"/><rect x="-43.2" y="-52.8" width="5.2" height="5.2" fill="#355ab1"/><rect x="-43.2" y="-48" width="5.2" height="5.2" fill="#111a3f"/><rect x="-43.2" y="-19.2" width="5.2" height="5.2" fill="#10183c"/><rect x="-43.2" y="19.2" width="5.2" height="5.2" fill="#223d7e"/><rect x="-43.2" y="67.2" width="5.2" height="5.2" fill="#203773"/><rect x="-38.4" y="-67.2" width="5.2" height="5.2" fill="#385bb3"/><rect x="-38.4" y="-62.4" width="5.2" height="5.2" fill="#f09d31"/><rect x="-38.4" y="-57.6" width="5.2" height="5.2" fill="#f09434"/><rect x="-38.4" y="-52.8" width="5.2" height="5.2" fill="#3459b0"/><rect x="-38.4" y="-48" width="5.2" height="5.2" fill="#0e1638"/><rect x="-38.4" y="-43.2" width="5.2" height="5.2" fill="#111b40"/><rect x="-38.4" y="43.2" width="5.2" height="5.2" fill="#0e1537"/><rect x="-38.4" y="48" width="5.2" height="5.2" fill="#2d56ad"/><rect x="-38.4" y="57.6" width="5.2" height="5.2" fill="#0e1536"/><rect x="-33.6" y="-76.8" width="5.2" height="5.2" fill="#0f183a"/><rect x="-33.6" y="-72" width="5.2" height="5.2" fill="#121c42"/><rect x="-33.6" y="-67.2" width="5.2" height="5.2" fill="#223c7d"/><rect x="-33.6" y="-62.4" width="5.2" height="5.2" fill="#355ab1"/><rect x="-33.6" y="-57.6" width="5.2" height="5.2" fill="#3459b1"/><rect x="-33.6" y="-52.8" width="5.2" height="5.2" fill="#182553"/><rect x="-33.6" y="-48" width="5.2" height="5.2" fill="#192654"/><rect x="-33.6" y="4.8" width="5.2" height="5.2" fill="#121b41"/><rect x="-33.6" y="38.4" width="5.2" height="5.2" fill="#0e1637"/><rect x="-33.6" y="43.2" width="5.2" height="5.2" fill="#1c2e63"/><rect x="-33.6" y="48" width="5.2" height="5.2" fill="#1b2a5b"/><rect x="-33.6" y="52.8" width="5.2" height="5.2" fill="#1c2d60"/><rect x="-33.6" y="76.8" width="5.2" height="5.2" fill="#11193e"/><rect x="-33.6" y="81.6" width="5.2" height="5.2" fill="#121c42"/><rect x="-33.6" y="91.2" width="5.2" height="5.2" fill="#121c43"/><rect x="-28.8" y="-72" width="5.2" height="5.2" fill="#111b40"/><rect x="-28.8" y="-67.2" width="5.2" height="5.2" fill="#111a3f"/><rect x="-28.8" y="-62.4" width="5.2" height="5.2" fill="#0e1638"/><rect x="-28.8" y="-24" width="5.2" height="5.2" fill="#131e46"/><rect x="-28.8" y="-19.2" width="5.2" height="5.2" fill="#213a79"/><rect x="-28.8" y="-9.6" width="5.2" height="5.2" fill="#0e1536"/><rect x="-28.8" y="33.6" width="5.2" height="5.2" fill="#121b41"/><rect x="-28.8" y="43.2" width="5.2" height="5.2" fill="#25458c"/><rect x="-28.8" y="48" width="5.2" height="5.2" fill="#d81f30"/><rect x="-28.8" y="52.8" width="5.2" height="5.2" fill="#e32f33"/><rect x="-28.8" y="57.6" width="5.2" height="5.2" fill="#2b54a8"/><rect x="-28.8" y="72" width="5.2" height="5.2" fill="#10183c"/><rect x="-28.8" y="81.6" width="5.2" height="5.2" fill="#1f3570"/><rect x="-28.8" y="86.4" width="5.2" height="5.2" fill="#0d1435"/><rect x="-28.8" y="91.2" width="5.2" height="5.2" fill="#1a2857"/><rect x="-28.8" y="96" width="5.2" height="5.2" fill="#1c2d60"/><rect x="-24" y="-67.2" width="5.2" height="5.2" fill="#0e1637"/><rect x="-24" y="-62.4" width="5.2" height="5.2" fill="#0e1638"/><rect x="-24" y="4.8" width="5.2" height="5.2" fill="#2d56ad"/><rect x="-24" y="38.4" width="5.2" height="5.2" fill="#172350"/><rect x="-24" y="43.2" width="5.2" height="5.2" fill="#3a5bb3"/><rect x="-24" y="48" width="5.2" height="5.2" fill="#a1a733"/><rect x="-24" y="52.8" width="5.2" height="5.2" fill="#bdc74e"/><rect x="-24" y="57.6" width="5.2" height="5.2" fill="#581f5c"/><rect x="-24" y="62.4" width="5.2" height="5.2" fill="#1c2d61"/><rect x="-24" y="67.2" width="5.2" height="5.2" fill="#10183b"/><rect x="-24" y="72" width="5.2" height="5.2" fill="#233f82"/><rect x="-24" y="76.8" width="5.2" height="5.2" fill="#1a2859"/><rect x="-24" y="81.6" width="5.2" height="5.2" fill="#2f57ae"/><rect x="-24" y="86.4" width="5.2" height="5.2" fill="#365ab1"/><rect x="-24" y="91.2" width="5.2" height="5.2" fill="#1c2e63"/><rect x="-24" y="96" width="5.2" height="5.2" fill="#0e1536"/><rect x="-19.2" y="-52.8" width="5.2" height="5.2" fill="#121b41"/><rect x="-19.2" y="-28.8" width="5.2" height="5.2" fill="#15214b"/><rect x="-19.2" y="33.6" width="5.2" height="5.2" fill="#0f173a"/><rect x="-19.2" y="38.4" width="5.2" height="5.2" fill="#1b2b5d"/><rect x="-19.2" y="43.2" width="5.2" height="5.2" fill="#284d9b"/><rect x="-19.2" y="48" width="5.2" height="5.2" fill="#e53c36"/><rect x="-19.2" y="52.8" width="5.2" height="5.2" fill="#e9523a"/><rect x="-19.2" y="57.6" width="5.2" height="5.2" fill="#2f57ae"/><rect x="-19.2" y="62.4" width="5.2" height="5.2" fill="#1b2c5f"/><rect x="-19.2" y="67.2" width="5.2" height="5.2" fill="#1f346d"/><rect x="-19.2" y="72" width="5.2" height="5.2" fill="#1a295a"/><rect x="-19.2" y="76.8" width="5.2" height="5.2" fill="#264690"/><rect x="-19.2" y="81.6" width="5.2" height="5.2" fill="#c71e30"/><rect x="-19.2" y="86.4" width="5.2" height="5.2" fill="#e53d36"/><rect x="-19.2" y="91.2" width="5.2" height="5.2" fill="#3058ae"/><rect x="-19.2" y="96" width="5.2" height="5.2" fill="#172450"/><rect x="-19.2" y="100.8" width="5.2" height="5.2" fill="#0e1536"/><rect x="-14.4" y="-72" width="5.2" height="5.2" fill="#11193e"/><rect x="-14.4" y="9.6" width="5.2" height="5.2" fill="#10183b"/><rect x="-14.4" y="43.2" width="5.2" height="5.2" fill="#1f346f"/><rect x="-14.4" y="48" width="5.2" height="5.2" fill="#1f346e"/><rect x="-14.4" y="52.8" width="5.2" height="5.2" fill="#244186"/><rect x="-14.4" y="57.6" width="5.2" height="5.2" fill="#0f1739"/><rect x="-14.4" y="62.4" width="5.2" height="5.2" fill="#16224e"/><rect x="-14.4" y="67.2" width="5.2" height="5.2" fill="#111a3f"/><rect x="-14.4" y="72" width="5.2" height="5.2" fill="#1c2c5f"/><rect x="-14.4" y="76.8" width="5.2" height="5.2" fill="#284d9b"/><rect x="-14.4" y="81.6" width="5.2" height="5.2" fill="#551f5f"/><rect x="-14.4" y="86.4" width="5.2" height="5.2" fill="#8d1930"/><rect x="-14.4" y="91.2" width="5.2" height="5.2" fill="#264892"/><rect x="-14.4" y="100.8" width="5.2" height="5.2" fill="#0d1434"/><rect x="-14.4" y="105.6" width="5.2" height="5.2" fill="#1b2a5c"/><rect x="-9.6" y="-86.4" width="5.2" height="5.2" fill="#0f183b"/><rect x="-9.6" y="-76.8" width="5.2" height="5.2" fill="#10193e"/><rect x="-9.6" y="-62.4" width="5.2" height="5.2" fill="#213a79"/><rect x="-9.6" y="0" width="5.2" height="5.2" fill="#1a295a"/><rect x="-9.6" y="33.6" width="5.2" height="5.2" fill="#1b2c5e"/><rect x="-9.6" y="43.2" width="5.2" height="5.2" fill="#131d44"/><rect x="-9.6" y="48" width="5.2" height="5.2" fill="#1c2d61"/><rect x="-9.6" y="52.8" width="5.2" height="5.2" fill="#121b41"/><rect x="-9.6" y="57.6" width="5.2" height="5.2" fill="#192654"/><rect x="-9.6" y="67.2" width="5.2" height="5.2" fill="#0d1535"/><rect x="-9.6" y="72" width="5.2" height="5.2" fill="#0e1536"/><rect x="-9.6" y="76.8" width="5.2" height="5.2" fill="#1c2e62"/><rect x="-9.6" y="81.6" width="5.2" height="5.2" fill="#1a2857"/><rect x="-9.6" y="86.4" width="5.2" height="5.2" fill="#1c2e64"/><rect x="-9.6" y="91.2" width="5.2" height="5.2" fill="#0e1535"/><rect x="-4.8" y="-96" width="5.2" height="5.2" fill="#0f1638"/><rect x="-4.8" y="-86.4" width="5.2" height="5.2" fill="#1e3169"/><rect x="-4.8" y="-81.6" width="5.2" height="5.2" fill="#152049"/><rect x="-4.8" y="-76.8" width="5.2" height="5.2" fill="#192755"/><rect x="-4.8" y="-72" width="5.2" height="5.2" fill="#1c2e63"/><rect x="-4.8" y="-24" width="5.2" height="5.2" fill="#213977"/><rect x="-4.8" y="-4.8" width="5.2" height="5.2" fill="#294e9e"/><rect x="-4.8" y="38.4" width="5.2" height="5.2" fill="#2e57ad"/><rect x="-4.8" y="67.2" width="5.2" height="5.2" fill="#16234e"/><rect x="-4.8" y="72" width="5.2" height="5.2" fill="#10193d"/><rect x="-4.8" y="76.8" width="5.2" height="5.2" fill="#1c2d61"/><rect x="-4.8" y="91.2" width="5.2" height="5.2" fill="#192655"/><rect x="-4.8" y="96" width="5.2" height="5.2" fill="#111a3e"/><rect x="0" y="-91.2" width="5.2" height="5.2" fill="#1b2b5e"/><rect x="0" y="-86.4" width="5.2" height="5.2" fill="#423384"/><rect x="0" y="-81.6" width="5.2" height="5.2" fill="#9e1b30"/><rect x="0" y="-76.8" width="5.2" height="5.2" fill="#2c55aa"/><rect x="0" y="-72" width="5.2" height="5.2" fill="#15204a"/><rect x="0" y="14.4" width="5.2" height="5.2" fill="#25448a"/><rect x="0" y="67.2" width="5.2" height="5.2" fill="#16214c"/><rect x="0" y="76.8" width="5.2" height="5.2" fill="#0e1536"/><rect x="0" y="86.4" width="5.2" height="5.2" fill="#223c7c"/><rect x="0" y="110.4" width="5.2" height="5.2" fill="#10183c"/><rect x="4.8" y="-115.2" width="5.2" height="5.2" fill="#182552"/><rect x="4.8" y="-96" width="5.2" height="5.2" fill="#1e326a"/><rect x="4.8" y="-91.2" width="5.2" height="5.2" fill="#2b54a8"/><rect x="4.8" y="-86.4" width="5.2" height="5.2" fill="#f09d31"/><rect x="4.8" y="-81.6" width="5.2" height="5.2" fill="#d5df70"/><rect x="4.8" y="-76.8" width="5.2" height="5.2" fill="#ca1e30"/><rect x="4.8" y="-72" width="5.2" height="5.2" fill="#1b295a"/><rect x="4.8" y="-67.2" width="5.2" height="5.2" fill="#0f173a"/><rect x="4.8" y="-48" width="5.2" height="5.2" fill="#1c2c60"/><rect x="4.8" y="-14.4" width="5.2" height="5.2" fill="#10193d"/><rect x="4.8" y="-4.8" width="5.2" height="5.2" fill="#15204a"/><rect x="4.8" y="4.8" width="5.2" height="5.2" fill="#1b2c5f"/><rect x="4.8" y="9.6" width="5.2" height="5.2" fill="#1c2e62"/><rect x="4.8" y="33.6" width="5.2" height="5.2" fill="#2b55a9"/><rect x="4.8" y="48" width="5.2" height="5.2" fill="#244288"/><rect x="4.8" y="67.2" width="5.2" height="5.2" fill="#192756"/><rect x="4.8" y="72" width="5.2" height="5.2" fill="#2a50a1"/><rect x="4.8" y="76.8" width="5.2" height="5.2" fill="#452675"/><rect x="4.8" y="81.6" width="5.2" height="5.2" fill="#3e499e"/><rect x="4.8" y="86.4" width="5.2" height="5.2" fill="#26468e"/><rect x="9.6" y="-100.8" width="5.2" height="5.2" fill="#0e1537"/><rect x="9.6" y="-96" width="5.2" height="5.2" fill="#1a295a"/><rect x="9.6" y="-91.2" width="5.2" height="5.2" fill="#26468f"/><rect x="9.6" y="-86.4" width="5.2" height="5.2" fill="#ec653e"/><rect x="9.6" y="-81.6" width="5.2" height="5.2" fill="#8f9423"/><rect x="9.6" y="-76.8" width="5.2" height="5.2" fill="#7d1833"/><rect x="9.6" y="-72" width="5.2" height="5.2" fill="#152049"/><rect x="9.6" y="-67.2" width="5.2" height="5.2" fill="#0e1536"/><rect x="9.6" y="-14.4" width="5.2" height="5.2" fill="#1b2a5c"/><rect x="9.6" y="-9.6" width="5.2" height="5.2" fill="#182552"/><rect x="9.6" y="-4.8" width="5.2" height="5.2" fill="#385bb3"/><rect x="9.6" y="0" width="5.2" height="5.2" fill="#423789"/><rect x="9.6" y="4.8" width="5.2" height="5.2" fill="#203774"/><rect x="9.6" y="67.2" width="5.2" height="5.2" fill="#233e80"/><rect x="9.6" y="72" width="5.2" height="5.2" fill="#462371"/><rect x="9.6" y="76.8" width="5.2" height="5.2" fill="#9ca22f"/><rect x="9.6" y="81.6" width="5.2" height="5.2" fill="#c89a2a"/><rect x="9.6" y="86.4" width="5.2" height="5.2" fill="#345ab1"/><rect x="14.4" y="-100.8" width="5.2" height="5.2" fill="#284c9b"/><rect x="14.4" y="-96" width="5.2" height="5.2" fill="#0e1536"/><rect x="14.4" y="-91.2" width="5.2" height="5.2" fill="#0f1638"/><rect x="14.4" y="-86.4" width="5.2" height="5.2" fill="#294d9c"/><rect x="14.4" y="-81.6" width="5.2" height="5.2" fill="#3359b0"/><rect x="14.4" y="-76.8" width="5.2" height="5.2" fill="#1e3169"/><rect x="14.4" y="-72" width="5.2" height="5.2" fill="#1b295b"/><rect x="14.4" y="-67.2" width="5.2" height="5.2" fill="#131e45"/><rect x="14.4" y="-57.6" width="5.2" height="5.2" fill="#10183c"/><rect x="14.4" y="-19.2" width="5.2" height="5.2" fill="#0e1535"/><rect x="14.4" y="-9.6" width="5.2" height="5.2" fill="#3158af"/><rect x="14.4" y="-4.8" width="5.2" height="5.2" fill="#f09c31"/><rect x="14.4" y="0" width="5.2" height="5.2" fill="#9ca22f"/><rect x="14.4" y="4.8" width="5.2" height="5.2" fill="#542060"/><rect x="14.4" y="9.6" width="5.2" height="5.2" fill="#152049"/><rect x="14.4" y="62.4" width="5.2" height="5.2" fill="#141f48"/><rect x="14.4" y="67.2" width="5.2" height="5.2" fill="#1a2858"/><rect x="14.4" y="72" width="5.2" height="5.2" fill="#3f4396"/><rect x="14.4" y="76.8" width="5.2" height="5.2" fill="#bd9828"/><rect x="14.4" y="81.6" width="5.2" height="5.2" fill="#ef9135"/><rect x="14.4" y="86.4" width="5.2" height="5.2" fill="#3158af"/><rect x="14.4" y="91.2" width="5.2" height="5.2" fill="#10183b"/><rect x="19.2" y="-91.2" width="5.2" height="5.2" fill="#25448b"/><rect x="19.2" y="-86.4" width="5.2" height="5.2" fill="#0e1637"/><rect x="19.2" y="-81.6" width="5.2" height="5.2" fill="#192756"/><rect x="19.2" y="-76.8" width="5.2" height="5.2" fill="#1d2f65"/><rect x="19.2" y="-72" width="5.2" height="5.2" fill="#25458d"/><rect x="19.2" y="-38.4" width="5.2" height="5.2" fill="#1f346e"/><rect x="19.2" y="-14.4" width="5.2" height="5.2" fill="#121c42"/><rect x="19.2" y="-9.6" width="5.2" height="5.2" fill="#2f57ae"/><rect x="19.2" y="-4.8" width="5.2" height="5.2" fill="#ef9035"/><rect x="19.2" y="0" width="5.2" height="5.2" fill="#8c9120"/><rect x="19.2" y="4.8" width="5.2" height="5.2" fill="#47226f"/><rect x="19.2" y="9.6" width="5.2" height="5.2" fill="#233f81"/><rect x="19.2" y="62.4" width="5.2" height="5.2" fill="#0e1637"/><rect x="19.2" y="67.2" width="5.2" height="5.2" fill="#141f48"/><rect x="19.2" y="72" width="5.2" height="5.2" fill="#2c55aa"/><rect x="19.2" y="76.8" width="5.2" height="5.2" fill="#355ab1"/><rect x="19.2" y="81.6" width="5.2" height="5.2" fill="#3158af"/><rect x="19.2" y="86.4" width="5.2" height="5.2" fill="#1c2d62"/><rect x="24" y="-62.4" width="5.2" height="5.2" fill="#1a2959"/><rect x="24" y="-19.2" width="5.2" height="5.2" fill="#10183b"/><rect x="24" y="-14.4" width="5.2" height="5.2" fill="#111b40"/><rect x="24" y="-9.6" width="5.2" height="5.2" fill="#15214b"/><rect x="24" y="-4.8" width="5.2" height="5.2" fill="#3359b0"/><rect x="24" y="0" width="5.2" height="5.2" fill="#395cb3"/><rect x="24" y="4.8" width="5.2" height="5.2" fill="#1d3168"/><rect x="24" y="9.6" width="5.2" height="5.2" fill="#1a2959"/><rect x="24" y="14.4" width="5.2" height="5.2" fill="#121c43"/><rect x="24" y="52.8" width="5.2" height="5.2" fill="#0e1638"/><rect x="24" y="67.2" width="5.2" height="5.2" fill="#0d1535"/><rect x="24" y="76.8" width="5.2" height="5.2" fill="#213977"/><rect x="24" y="81.6" width="5.2" height="5.2" fill="#192756"/><rect x="24" y="86.4" width="5.2" height="5.2" fill="#0e1536"/><rect x="28.8" y="-33.6" width="5.2" height="5.2" fill="#0f1739"/><rect x="28.8" y="-9.6" width="5.2" height="5.2" fill="#121c42"/><rect x="28.8" y="4.8" width="5.2" height="5.2" fill="#131d43"/><rect x="28.8" y="67.2" width="5.2" height="5.2" fill="#182552"/><rect x="33.6" y="-86.4" width="5.2" height="5.2" fill="#1b2c5f"/><rect x="33.6" y="-14.4" width="5.2" height="5.2" fill="#264791"/><rect x="38.4" y="-67.2" width="5.2" height="5.2" fill="#1e3168"/><rect x="38.4" y="-57.6" width="5.2" height="5.2" fill="#16224d"/><rect x="38.4" y="-48" width="5.2" height="5.2" fill="#10183b"/><rect x="38.4" y="72" width="5.2" height="5.2" fill="#2e57ad"/><rect x="43.2" y="-14.4" width="5.2" height="5.2" fill="#0e1536"/><rect x="43.2" y="62.4" width="5.2" height="5.2" fill="#0e1536"/><rect x="48" y="-52.8" width="5.2" height="5.2" fill="#2c56ac"/><rect x="48" y="-33.6" width="5.2" height="5.2" fill="#203773"/><rect x="48" y="-28.8" width="5.2" height="5.2" fill="#0e1536"/><rect x="48" y="-14.4" width="5.2" height="5.2" fill="#10193c"/><rect x="48" y="9.6" width="5.2" height="5.2" fill="#1c2d62"/><rect x="48" y="14.4" width="5.2" height="5.2" fill="#213a79"/><rect x="52.8" y="-43.2" width="5.2" height="5.2" fill="#1c2e63"/><rect x="52.8" y="-14.4" width="5.2" height="5.2" fill="#0d1434"/><rect x="52.8" y="52.8" width="5.2" height="5.2" fill="#192655"/><rect x="57.6" y="-62.4" width="5.2" height="5.2" fill="#131d45"/><rect x="57.6" y="-57.6" width="5.2" height="5.2" fill="#1b295b"/><rect x="57.6" y="14.4" width="5.2" height="5.2" fill="#172451"/><rect x="57.6" y="57.6" width="5.2" height="5.2" fill="#223c7d"/><rect x="62.4" y="-33.6" width="5.2" height="5.2" fill="#2d56ad"/><rect x="62.4" y="-19.2" width="5.2" height="5.2" fill="#1a2858"/><rect x="72" y="-19.2" width="5.2" height="5.2" fill="#111a40"/><rect x="72" y="9.6" width="5.2" height="5.2" fill="#141f47"/><rect x="81.6" y="-33.6" width="5.2" height="5.2" fill="#1f346e"/><rect x="86.4" y="-28.8" width="5.2" height="5.2" fill="#26468e"/><rect x="86.4" y="-19.2" width="5.2" height="5.2" fill="#182452"/><rect x="86.4" y="4.8" width="5.2" height="5.2" fill="#192757"/><rect x="86.4" y="14.4" width="5.2" height="5.2" fill="#10183b"/><rect x="91.2" y="0" width="5.2" height="5.2" fill="#192756"/><rect x="91.2" y="19.2" width="5.2" height="5.2" fill="#131d44"/><rect x="115.2" y="0" width="5.2" height="5.2" fill="#0f1638"/></g></g>
<line x1="492.8" y1="47.8" x2="536.6" y2="30.4" stroke="#ffffff" stroke-width="0.9" stroke-dasharray="1.1,1.1"/><path d="M492.8,47.8 L496.3,48.1 L495.2,45.3 Z" fill="#ffffff"/><path d="M536.6,30.4 L534.2,32.9 L533.1,30.1 Z" fill="#ffffff"/>
<line x1="539.4" y1="30.2" x2="586.8" y2="44.3" stroke="#ffffff" stroke-width="0.9" stroke-dasharray="1.1,1.1"/><path d="M539.4,30.2 L542.1,32.6 L542.9,29.7 Z" fill="#ffffff"/><path d="M586.8,44.3 L583.3,44.8 L584.1,41.9 Z" fill="#ffffff"/>
<line x1="491.1" y1="49.9" x2="476.9" y2="122.2" stroke="#ffffff" stroke-width="0.9" stroke-dasharray="1.1,1.1"/><path d="M491.1,49.9 L489,52.7 L492,53.3 Z" fill="#ffffff"/><path d="M476.9,122.2 L476,118.8 L479,119.4 Z" fill="#ffffff"/>
<line x1="587.3" y1="45.9" x2="542.6" y2="110.5" stroke="#ffffff" stroke-width="0.9" stroke-dasharray="1.1,1.1"/><path d="M587.3,45.9 L584.3,47.7 L586.8,49.4 Z" fill="#ffffff"/><path d="M542.6,110.5 L543.1,107 L545.6,108.7 Z" fill="#ffffff"/>
<line x1="478.1" y1="123.4" x2="540.2" y2="112" stroke="#ffffff" stroke-width="0.9" stroke-dasharray="1.1,1.1"/><path d="M478.1,123.4 L481.5,124.3 L481,121.4 Z" fill="#ffffff"/><path d="M540.2,112 L537.3,114 L536.8,111.1 Z" fill="#ffffff"/>
<line x1="475.8" y1="125" x2="458.8" y2="151.4" stroke="#ffffff" stroke-width="0.9" stroke-dasharray="1.1,1.1"/><path d="M475.8,125 L472.8,126.8 L475.3,128.5 Z" fill="#ffffff"/><path d="M458.8,151.4 L459.3,147.9 L461.8,149.6 Z" fill="#ffffff"/>
<line x1="459.3" y1="153.5" x2="482.8" y2="167.4" stroke="#ffffff" stroke-width="0.9" stroke-dasharray="1.1,1.1"/><path d="M459.3,153.5 L461.3,156.4 L462.8,153.8 Z" fill="#ffffff"/><path d="M482.8,167.4 L479.3,167.1 L480.8,164.5 Z" fill="#ffffff"/>
<text transform="translate(511.9,34) rotate(-20)" font-size="10.8" fill="#ffffff" text-anchor="middle">1.13 μm</text>
<text transform="translate(564,33) rotate(12)" font-size="10.8" fill="#ffffff" text-anchor="middle">1.27 μm</text>
<text transform="translate(480.5,86) rotate(-80)" font-size="10.8" fill="#ffffff" text-anchor="middle">1.96 μm</text>
<text transform="translate(571,82.5) rotate(-61)" font-size="10.8" fill="#ffffff" text-anchor="middle">1.99 μm</text>
<text transform="translate(508.2,123.2) rotate(-9)" font-size="10.8" fill="#ffffff" text-anchor="middle">1.65 μm</text>
<text transform="translate(465,139) rotate(-63)" font-size="10.8" fill="#ffffff" text-anchor="middle">0.83 μm</text>
<text transform="translate(481,162.6) rotate(26)" font-size="10.8" fill="#ffffff" text-anchor="middle">0.79 μm</text>
<defs><linearGradient id="cbar" x1="0" y1="0" x2="0" y2="1"><stop offset="0" stop-color="#ffffff"/><stop offset="0.08" stop-color="#eef0c0"/><stop offset="0.2" stop-color="#d0dc60"/><stop offset="0.31" stop-color="#8c9020"/><stop offset="0.36" stop-color="#f0a030"/><stop offset="0.45" stop-color="#ee6e40"/><stop offset="0.56" stop-color="#e02030"/><stop offset="0.64" stop-color="#801830"/><stop offset="0.69" stop-color="#462270"/><stop offset="0.73" stop-color="#3a5cb4"/><stop offset="0.8" stop-color="#2c56ac"/><stop offset="0.9" stop-color="#1a2858"/><stop offset="1" stop-color="#000010"/></linearGradient></defs>
<rect x="615.3" y="33.4" width="5.3" height="140.3" fill="url(#cbar)" stroke="#cccccc" stroke-width="0.4"/>
<text x="615.3" y="15.6" font-size="10.8" fill="#2a2222">UCL</text>
<text x="615.3" y="28.8" font-size="10.8" fill="#2a2222"><tspan font-size="10.8">(pps px</tspan><tspan font-size="6.8" dy="-3.8">-1</tspan><tspan font-size="10.8" dy="3.8">)</tspan></text>
<text x="621.4" y="59.1" font-size="13.2" fill="#1a1a1a">600</text>
<text x="621.4" y="119.2" font-size="13.2" fill="#1a1a1a">300</text>
<text x="621.4" y="180.3" font-size="13.2" fill="#1a1a1a">0</text>
<line x1="36.1" y1="211.8" x2="36.1" y2="508.9" stroke="#ebebeb" stroke-width="0.6" stroke-dasharray="1.2,1.2"/><line x1="51.1" y1="211.8" x2="51.1" y2="508.9" stroke="#ebebeb" stroke-width="0.6" stroke-dasharray="1.2,1.2"/><line x1="63.7" y1="211.8" x2="63.7" y2="508.9" stroke="#ebebeb" stroke-width="0.6" stroke-dasharray="1.2,1.2"/><line x1="74.7" y1="211.8" x2="74.7" y2="508.9" stroke="#ebebeb" stroke-width="0.6" stroke-dasharray="1.2,1.2"/><line x1="84.4" y1="211.8" x2="84.4" y2="508.9" stroke="#ebebeb" stroke-width="0.6" stroke-dasharray="1.2,1.2"/><line x1="93" y1="211.8" x2="93" y2="508.9" stroke="#e4e4e4" stroke-width="0.7"/><line x1="149.9" y1="211.8" x2="149.9" y2="508.9" stroke="#ebebeb" stroke-width="0.6" stroke-dasharray="1.2,1.2"/><line x1="183.2" y1="211.8" x2="183.2" y2="508.9" stroke="#ebebeb" stroke-width="0.6" stroke-dasharray="1.2,1.2"/><line x1="206.8" y1="211.8" x2="206.8" y2="508.9" stroke="#ebebeb" stroke-width="0.6" stroke-dasharray="1.2,1.2"/><line x1="225.1" y1="211.8" x2="225.1" y2="508.9" stroke="#ebebeb" stroke-width="0.6" stroke-dasharray="1.2,1.2"/><line x1="240.1" y1="211.8" x2="240.1" y2="508.9" stroke="#ebebeb" stroke-width="0.6" stroke-dasharray="1.2,1.2"/><line x1="252.7" y1="211.8" x2="252.7" y2="508.9" stroke="#ebebeb" stroke-width="0.6" stroke-dasharray="1.2,1.2"/><line x1="263.7" y1="211.8" x2="263.7" y2="508.9" stroke="#ebebeb" stroke-width="0.6" stroke-dasharray="1.2,1.2"/><line x1="273.4" y1="211.8" x2="273.4" y2="508.9" stroke="#ebebeb" stroke-width="0.6" stroke-dasharray="1.2,1.2"/><line x1="282" y1="211.8" x2="282" y2="508.9" stroke="#e4e4e4" stroke-width="0.7"/><line x1="338.9" y1="211.8" x2="338.9" y2="508.9" stroke="#ebebeb" stroke-width="0.6" stroke-dasharray="1.2,1.2"/><line x1="35.4" y1="508.3" x2="360.8" y2="508.3" stroke="#ebebeb" stroke-width="0.6" stroke-dasharray="1.2,1.2"/><line x1="35.4" y1="498.7" x2="360.8" y2="498.7" stroke="#ebebeb" stroke-width="0.6" stroke-dasharray="1.2,1.2"/><line x1="35.4" y1="491.2" x2="360.8" y2="491.2" stroke="#ebebeb" stroke-width="0.6" stroke-dasharray="1.2,1.2"/><line x1="35.4" y1="485" x2="360.8" y2="485" stroke="#ebebeb" stroke-width="0.6" stroke-dasharray="1.2,1.2"/><line x1="35.4" y1="479.9" x2="360.8" y2="479.9" stroke="#ebebeb" stroke-width="0.6" stroke-dasharray="1.2,1.2"/><line x1="35.4" y1="475.4" x2="360.8" y2="475.4" stroke="#ebebeb" stroke-width="0.6" stroke-dasharray="1.2,1.2"/><line x1="35.4" y1="471.4" x2="360.8" y2="471.4" stroke="#ebebeb" stroke-width="0.6" stroke-dasharray="1.2,1.2"/><line x1="35.4" y1="467.9" x2="360.8" y2="467.9" stroke="#e4e4e4" stroke-width="0.7"/><line x1="35.4" y1="444.6" x2="360.8" y2="444.6" stroke="#ebebeb" stroke-width="0.6" stroke-dasharray="1.2,1.2"/><line x1="35.4" y1="431" x2="360.8" y2="431" stroke="#ebebeb" stroke-width="0.6" stroke-dasharray="1.2,1.2"/><line x1="35.4" y1="421.4" x2="360.8" y2="421.4" stroke="#ebebeb" stroke-width="0.6" stroke-dasharray="1.2,1.2"/><line x1="35.4" y1="413.9" x2="360.8" y2="413.9" stroke="#ebebeb" stroke-width="0.6" stroke-dasharray="1.2,1.2"/><line x1="35.4" y1="407.7" x2="360.8" y2="407.7" stroke="#ebebeb" stroke-width="0.6" stroke-dasharray="1.2,1.2"/><line x1="35.4" y1="402.6" x2="360.8" y2="402.6" stroke="#ebebeb" stroke-width="0.6" stroke-dasharray="1.2,1.2"/><line x1="35.4" y1="398.1" x2="360.8" y2="398.1" stroke="#ebebeb" stroke-width="0.6" stroke-dasharray="1.2,1.2"/><line x1="35.4" y1="394.1" x2="360.8" y2="394.1" stroke="#ebebeb" stroke-width="0.6" stroke-dasharray="1.2,1.2"/><line x1="35.4" y1="390.6" x2="360.8" y2="390.6" stroke="#e4e4e4" stroke-width="0.7"/><line x1="35.4" y1="367.3" x2="360.8" y2="367.3" stroke="#ebebeb" stroke-width="0.6" stroke-dasharray="1.2,1.2"/><line x1="35.4" y1="353.7" x2="360.8" y2="353.7" stroke="#ebebeb" stroke-width="0.6" stroke-dasharray="1.2,1.2"/><line x1="35.4" y1="344.1" x2="360.8" y2="344.1" stroke="#ebebeb" stroke-width="0.6" stroke-dasharray="1.2,1.2"/><line x1="35.4" y1="336.6" x2="360.8" y2="336.6" stroke="#ebebeb" stroke-width="0.6" stroke-dasharray="1.2,1.2"/><line x1="35.4" y1="330.4" x2="360.8" y2="330.4" stroke="#ebebeb" stroke-width="0.6" stroke-dasharray="1.2,1.2"/><line x1="35.4" y1="325.3" x2="360.8" y2="325.3" stroke="#ebebeb" stroke-width="0.6" stroke-dasharray="1.2,1.2"/><line x1="35.4" y1="320.8" x2="360.8" y2="320.8" stroke="#ebebeb" stroke-width="0.6" stroke-dasharray="1.2,1.2"/><line x1="35.4" y1="316.8" x2="360.8" y2="316.8" stroke="#ebebeb" stroke-width="0.6" stroke-dasharray="1.2,1.2"/><line x1="35.4" y1="313.3" x2="360.8" y2="313.3" stroke="#e4e4e4" stroke-width="0.7"/><line x1="35.4" y1="290" x2="360.8" y2="290" stroke="#ebebeb" stroke-width="0.6" stroke-dasharray="1.2,1.2"/><line x1="35.4" y1="276.4" x2="360.8" y2="276.4" stroke="#ebebeb" stroke-width="0.6" stroke-dasharray="1.2,1.2"/><line x1="35.4" y1="266.8" x2="360.8" y2="266.8" stroke="#ebebeb" stroke-width="0.6" stroke-dasharray="1.2,1.2"/><line x1="35.4" y1="259.3" x2="360.8" y2="259.3" stroke="#ebebeb" stroke-width="0.6" stroke-dasharray="1.2,1.2"/><line x1="35.4" y1="253.1" x2="360.8" y2="253.1" stroke="#ebebeb" stroke-width="0.6" stroke-dasharray="1.2,1.2"/><line x1="35.4" y1="248" x2="360.8" y2="248" stroke="#ebebeb" stroke-width="0.6" stroke-dasharray="1.2,1.2"/><line x1="35.4" y1="243.5" x2="360.8" y2="243.5" stroke="#ebebeb" stroke-width="0.6" stroke-dasharray="1.2,1.2"/><line x1="35.4" y1="239.5" x2="360.8" y2="239.5" stroke="#ebebeb" stroke-width="0.6" stroke-dasharray="1.2,1.2"/><line x1="35.4" y1="236" x2="360.8" y2="236" stroke="#e4e4e4" stroke-width="0.7"/><line x1="35.4" y1="212.7" x2="360.8" y2="212.7" stroke="#ebebeb" stroke-width="0.6" stroke-dasharray="1.2,1.2"/>
<line x1="36.1" y1="508.9" x2="36.1" y2="506.9" stroke="#909090" stroke-width="0.7"/><line x1="36.1" y1="211.8" x2="36.1" y2="213.8" stroke="#909090" stroke-width="0.7"/><line x1="51.1" y1="508.9" x2="51.1" y2="506.9" stroke="#909090" stroke-width="0.7"/><line x1="51.1" y1="211.8" x2="51.1" y2="213.8" stroke="#909090" stroke-width="0.7"/><line x1="63.7" y1="508.9" x2="63.7" y2="506.9" stroke="#909090" stroke-width="0.7"/><line x1="63.7" y1="211.8" x2="63.7" y2="213.8" stroke="#909090" stroke-width="0.7"/><line x1="74.7" y1="508.9" x2="74.7" y2="506.9" stroke="#909090" stroke-width="0.7"/><line x1="74.7" y1="211.8" x2="74.7" y2="213.8" stroke="#909090" stroke-width="0.7"/><line x1="84.4" y1="508.9" x2="84.4" y2="506.9" stroke="#909090" stroke-width="0.7"/><line x1="84.4" y1="211.8" x2="84.4" y2="213.8" stroke="#909090" stroke-width="0.7"/><line x1="93" y1="508.9" x2="93" y2="505.4" stroke="#909090" stroke-width="0.7"/><line x1="93" y1="211.8" x2="93" y2="215.3" stroke="#909090" stroke-width="0.7"/><line x1="149.9" y1="508.9" x2="149.9" y2="506.9" stroke="#909090" stroke-width="0.7"/><line x1="149.9" y1="211.8" x2="149.9" y2="213.8" stroke="#909090" stroke-width="0.7"/><line x1="183.2" y1="508.9" x2="183.2" y2="506.9" stroke="#909090" stroke-width="0.7"/><line x1="183.2" y1="211.8" x2="183.2" y2="213.8" stroke="#909090" stroke-width="0.7"/><line x1="206.8" y1="508.9" x2="206.8" y2="506.9" stroke="#909090" stroke-width="0.7"/><line x1="206.8" y1="211.8" x2="206.8" y2="213.8" stroke="#909090" stroke-width="0.7"/><line x1="225.1" y1="508.9" x2="225.1" y2="506.9" stroke="#909090" stroke-width="0.7"/><line x1="225.1" y1="211.8" x2="225.1" y2="213.8" stroke="#909090" stroke-width="0.7"/><line x1="240.1" y1="508.9" x2="240.1" y2="506.9" stroke="#909090" stroke-width="0.7"/><line x1="240.1" y1="211.8" x2="240.1" y2="213.8" stroke="#909090" stroke-width="0.7"/><line x1="252.7" y1="508.9" x2="252.7" y2="506.9" stroke="#909090" stroke-width="0.7"/><line x1="252.7" y1="211.8" x2="252.7" y2="213.8" stroke="#909090" stroke-width="0.7"/><line x1="263.7" y1="508.9" x2="263.7" y2="506.9" stroke="#909090" stroke-width="0.7"/><line x1="263.7" y1="211.8" x2="263.7" y2="213.8" stroke="#909090" stroke-width="0.7"/><line x1="273.4" y1="508.9" x2="273.4" y2="506.9" stroke="#909090" stroke-width="0.7"/><line x1="273.4" y1="211.8" x2="273.4" y2="213.8" stroke="#909090" stroke-width="0.7"/><line x1="282" y1="508.9" x2="282" y2="505.4" stroke="#909090" stroke-width="0.7"/><line x1="282" y1="211.8" x2="282" y2="215.3" stroke="#909090" stroke-width="0.7"/><line x1="338.9" y1="508.9" x2="338.9" y2="506.9" stroke="#909090" stroke-width="0.7"/><line x1="338.9" y1="211.8" x2="338.9" y2="213.8" stroke="#909090" stroke-width="0.7"/><line x1="35.4" y1="508.3" x2="37.4" y2="508.3" stroke="#909090" stroke-width="0.7"/><line x1="360.8" y1="508.3" x2="358.8" y2="508.3" stroke="#909090" stroke-width="0.7"/><line x1="35.4" y1="498.7" x2="37.4" y2="498.7" stroke="#909090" stroke-width="0.7"/><line x1="360.8" y1="498.7" x2="358.8" y2="498.7" stroke="#909090" stroke-width="0.7"/><line x1="35.4" y1="491.2" x2="37.4" y2="491.2" stroke="#909090" stroke-width="0.7"/><line x1="360.8" y1="491.2" x2="358.8" y2="491.2" stroke="#909090" stroke-width="0.7"/><line x1="35.4" y1="485" x2="37.4" y2="485" stroke="#909090" stroke-width="0.7"/><line x1="360.8" y1="485" x2="358.8" y2="485" stroke="#909090" stroke-width="0.7"/><line x1="35.4" y1="479.9" x2="37.4" y2="479.9" stroke="#909090" stroke-width="0.7"/><line x1="360.8" y1="479.9" x2="358.8" y2="479.9" stroke="#909090" stroke-width="0.7"/><line x1="35.4" y1="475.4" x2="37.4" y2="475.4" stroke="#909090" stroke-width="0.7"/><line x1="360.8" y1="475.4" x2="358.8" y2="475.4" stroke="#909090" stroke-width="0.7"/><line x1="35.4" y1="471.4" x2="37.4" y2="471.4" stroke="#909090" stroke-width="0.7"/><line x1="360.8" y1="471.4" x2="358.8" y2="471.4" stroke="#909090" stroke-width="0.7"/><line x1="35.4" y1="467.9" x2="38.9" y2="467.9" stroke="#909090" stroke-width="0.7"/><line x1="360.8" y1="467.9" x2="357.3" y2="467.9" stroke="#909090" stroke-width="0.7"/><line x1="35.4" y1="444.6" x2="37.4" y2="444.6" stroke="#909090" stroke-width="0.7"/><line x1="360.8" y1="444.6" x2="358.8" y2="444.6" stroke="#909090" stroke-width="0.7"/><line x1="35.4" y1="431" x2="37.4" y2="431" stroke="#909090" stroke-width="0.7"/><line x1="360.8" y1="431" x2="358.8" y2="431" stroke="#909090" stroke-width="0.7"/><line x1="35.4" y1="421.4" x2="37.4" y2="421.4" stroke="#909090" stroke-width="0.7"/><line x1="360.8" y1="421.4" x2="358.8" y2="421.4" stroke="#909090" stroke-width="0.7"/><line x1="35.4" y1="413.9" x2="37.4" y2="413.9" stroke="#909090" stroke-width="0.7"/><line x1="360.8" y1="413.9" x2="358.8" y2="413.9" stroke="#909090" stroke-width="0.7"/><line x1="35.4" y1="407.7" x2="37.4" y2="407.7" stroke="#909090" stroke-width="0.7"/><line x1="360.8" y1="407.7" x2="358.8" y2="407.7" stroke="#909090" stroke-width="0.7"/><line x1="35.4" y1="402.6" x2="37.4" y2="402.6" stroke="#909090" stroke-width="0.7"/><line x1="360.8" y1="402.6" x2="358.8" y2="402.6" stroke="#909090" stroke-width="0.7"/><line x1="35.4" y1="398.1" x2="37.4" y2="398.1" stroke="#909090" stroke-width="0.7"/><line x1="360.8" y1="398.1" x2="358.8" y2="398.1" stroke="#909090" stroke-width="0.7"/><line x1="35.4" y1="394.1" x2="37.4" y2="394.1" stroke="#909090" stroke-width="0.7"/><line x1="360.8" y1="394.1" x2="358.8" y2="394.1" stroke="#909090" stroke-width="0.7"/><line x1="35.4" y1="390.6" x2="38.9" y2="390.6" stroke="#909090" stroke-width="0.7"/><line x1="360.8" y1="390.6" x2="357.3" y2="390.6" stroke="#909090" stroke-width="0.7"/><line x1="35.4" y1="367.3" x2="37.4" y2="367.3" stroke="#909090" stroke-width="0.7"/><line x1="360.8" y1="367.3" x2="358.8" y2="367.3" stroke="#909090" stroke-width="0.7"/><line x1="35.4" y1="353.7" x2="37.4" y2="353.7" stroke="#909090" stroke-width="0.7"/><line x1="360.8" y1="353.7" x2="358.8" y2="353.7" stroke="#909090" stroke-width="0.7"/><line x1="35.4" y1="344.1" x2="37.4" y2="344.1" stroke="#909090" stroke-width="0.7"/><line x1="360.8" y1="344.1" x2="358.8" y2="344.1" stroke="#909090" stroke-width="0.7"/><line x1="35.4" y1="336.6" x2="37.4" y2="336.6" stroke="#909090" stroke-width="0.7"/><line x1="360.8" y1="336.6" x2="358.8" y2="336.6" stroke="#909090" stroke-width="0.7"/><line x1="35.4" y1="330.4" x2="37.4" y2="330.4" stroke="#909090" stroke-width="0.7"/><line x1="360.8" y1="330.4" x2="358.8" y2="330.4" stroke="#909090" stroke-width="0.7"/><line x1="35.4" y1="325.3" x2="37.4" y2="325.3" stroke="#909090" stroke-width="0.7"/><line x1="360.8" y1="325.3" x2="358.8" y2="325.3" stroke="#909090" stroke-width="0.7"/><line x1="35.4" y1="320.8" x2="37.4" y2="320.8" stroke="#909090" stroke-width="0.7"/><line x1="360.8" y1="320.8" x2="358.8" y2="320.8" stroke="#909090" stroke-width="0.7"/><line x1="35.4" y1="316.8" x2="37.4" y2="316.8" stroke="#909090" stroke-width="0.7"/><line x1="360.8" y1="316.8" x2="358.8" y2="316.8" stroke="#909090" stroke-width="0.7"/><line x1="35.4" y1="313.3" x2="38.9" y2="313.3" stroke="#909090" stroke-width="0.7"/><line x1="360.8" y1="313.3" x2="357.3" y2="313.3" stroke="#909090" stroke-width="0.7"/><line x1="35.4" y1="290" x2="37.4" y2="290" stroke="#909090" stroke-width="0.7"/><line x1="360.8" y1="290" x2="358.8" y2="290" stroke="#909090" stroke-width="0.7"/><line x1="35.4" y1="276.4" x2="37.4" y2="276.4" stroke="#909090" stroke-width="0.7"/><line x1="360.8" y1="276.4" x2="358.8" y2="276.4" stroke="#909090" stroke-width="0.7"/><line x1="35.4" y1="266.8" x2="37.4" y2="266.8" stroke="#909090" stroke-width="0.7"/><line x1="360.8" y1="266.8" x2="358.8" y2="266.8" stroke="#909090" stroke-width="0.7"/><line x1="35.4" y1="259.3" x2="37.4" y2="259.3" stroke="#909090" stroke-width="0.7"/><line x1="360.8" y1="259.3" x2="358.8" y2="259.3" stroke="#909090" stroke-width="0.7"/><line x1="35.4" y1="253.1" x2="37.4" y2="253.1" stroke="#909090" stroke-width="0.7"/><line x1="360.8" y1="253.1" x2="358.8" y2="253.1" stroke="#909090" stroke-width="0.7"/><line x1="35.4" y1="248" x2="37.4" y2="248" stroke="#909090" stroke-width="0.7"/><line x1="360.8" y1="248" x2="358.8" y2="248" stroke="#909090" stroke-width="0.7"/><line x1="35.4" y1="243.5" x2="37.4" y2="243.5" stroke="#909090" stroke-width="0.7"/><line x1="360.8" y1="243.5" x2="358.8" y2="243.5" stroke="#909090" stroke-width="0.7"/><line x1="35.4" y1="239.5" x2="37.4" y2="239.5" stroke="#909090" stroke-width="0.7"/><line x1="360.8" y1="239.5" x2="358.8" y2="239.5" stroke="#909090" stroke-width="0.7"/><line x1="35.4" y1="236" x2="38.9" y2="236" stroke="#909090" stroke-width="0.7"/><line x1="360.8" y1="236" x2="357.3" y2="236" stroke="#909090" stroke-width="0.7"/><line x1="35.4" y1="212.7" x2="37.4" y2="212.7" stroke="#909090" stroke-width="0.7"/><line x1="360.8" y1="212.7" x2="358.8" y2="212.7" stroke="#909090" stroke-width="0.7"/>
<rect x="35.4" y="211.8" width="325.4" height="297.1" fill="none" stroke="#a0a0a0" stroke-width="1"/>
<text x="33.4" y="216" font-size="13" fill="#2a2222" text-anchor="end"><tspan font-size="13">10</tspan><tspan font-size="8.2" dy="-5">4</tspan></text>
<text x="33.4" y="320.4" font-size="13" fill="#2a2222" text-anchor="end"><tspan font-size="13">10</tspan><tspan font-size="8.2" dy="-5">3</tspan></text>
<text x="33.4" y="398" font-size="13" fill="#2a2222" text-anchor="end"><tspan font-size="13">10</tspan><tspan font-size="8.2" dy="-5">2</tspan></text>
<text x="33.4" y="475" font-size="13" fill="#2a2222" text-anchor="end"><tspan font-size="13">10</tspan><tspan font-size="8.2" dy="-5">1</tspan></text>
<text x="95.5" y="522.6" font-size="13" fill="#2a2222" text-anchor="middle"><tspan font-size="13">10</tspan><tspan font-size="8.2" dy="-5">3</tspan></text>
<text x="284.5" y="522.6" font-size="13" fill="#2a2222" text-anchor="middle"><tspan font-size="13">10</tspan><tspan font-size="8.2" dy="-5">4</tspan></text>
<text x="197.8" y="533" font-size="13" fill="#2a2222" text-anchor="middle" textLength="137" lengthAdjust="spacingAndGlyphs"><tspan font-size="13">Power density (W cm</tspan><tspan font-size="8.2" dy="-4.6">-2</tspan><tspan font-size="13" dy="4.6">)</tspan></text>
<text transform="translate(9.4,344.4) rotate(-90)" font-size="12.8" fill="#2a2222" text-anchor="middle">UCL (pps)</text>
<path d="M149.9,350.6 282,287.8" fill="none" stroke="#2c98d8" stroke-width="1.3" stroke-dasharray="4.5,2.5"/>
<path d="M149.9,350.6 282,301" fill="none" stroke="#6ab04a" stroke-width="1.3" stroke-dasharray="4.5,2.5"/>
<path d="M149.9,424.7 282,339.4" fill="none" stroke="#df5a22" stroke-width="1.3" stroke-dasharray="4.5,2.5"/>
<path d="M60.7,415 121.2,374 179.8,341 238.6,314.9 295.1,293.3 346.3,275.2" fill="none" stroke="#6aa83a" stroke-width="1.5"/><rect x="52.9" y="413.4" width="15.6" height="3.2" fill="#6aa83a"/><rect x="58.5" y="412.8" width="4.4" height="4.4" fill="#6aa83a" stroke="#000" stroke-opacity="0.25" stroke-width="0.5"/><rect x="113.4" y="372.4" width="15.6" height="3.2" fill="#6aa83a"/><rect x="119" y="371.8" width="4.4" height="4.4" fill="#6aa83a" stroke="#000" stroke-opacity="0.25" stroke-width="0.5"/><rect x="172" y="339.4" width="15.6" height="3.2" fill="#6aa83a"/><rect x="177.6" y="338.8" width="4.4" height="4.4" fill="#6aa83a" stroke="#000" stroke-opacity="0.25" stroke-width="0.5"/><rect x="230.8" y="313.3" width="15.6" height="3.2" fill="#6aa83a"/><rect x="236.4" y="312.7" width="4.4" height="4.4" fill="#6aa83a" stroke="#000" stroke-opacity="0.25" stroke-width="0.5"/><rect x="287.3" y="291.7" width="15.6" height="3.2" fill="#6aa83a"/><rect x="292.9" y="291.1" width="4.4" height="4.4" fill="#6aa83a" stroke="#000" stroke-opacity="0.25" stroke-width="0.5"/><rect x="338.5" y="273.6" width="15.6" height="3.2" fill="#6aa83a"/><rect x="344.1" y="273" width="4.4" height="4.4" fill="#6aa83a" stroke="#000" stroke-opacity="0.25" stroke-width="0.5"/>
<path d="M60.7,397.4 121.2,356.7 179.8,326.8 238.6,299.9 295.1,280.5 346.3,265" fill="none" stroke="#0a72bd" stroke-width="1.5"/><rect x="52.9" y="395.8" width="15.6" height="3.2" fill="#0a72bd"/><rect x="58.5" y="395.2" width="4.4" height="4.4" fill="#0a72bd" stroke="#000" stroke-opacity="0.25" stroke-width="0.5"/><rect x="113.4" y="355.1" width="15.6" height="3.2" fill="#0a72bd"/><rect x="119" y="354.5" width="4.4" height="4.4" fill="#0a72bd" stroke="#000" stroke-opacity="0.25" stroke-width="0.5"/><rect x="172" y="325.2" width="15.6" height="3.2" fill="#0a72bd"/><rect x="177.6" y="324.6" width="4.4" height="4.4" fill="#0a72bd" stroke="#000" stroke-opacity="0.25" stroke-width="0.5"/><rect x="230.8" y="298.3" width="15.6" height="3.2" fill="#0a72bd"/><rect x="236.4" y="297.7" width="4.4" height="4.4" fill="#0a72bd" stroke="#000" stroke-opacity="0.25" stroke-width="0.5"/><rect x="287.3" y="278.9" width="15.6" height="3.2" fill="#0a72bd"/><rect x="292.9" y="278.3" width="4.4" height="4.4" fill="#0a72bd" stroke="#000" stroke-opacity="0.25" stroke-width="0.5"/><rect x="338.5" y="263.4" width="15.6" height="3.2" fill="#0a72bd"/><rect x="344.1" y="262.8" width="4.4" height="4.4" fill="#0a72bd" stroke="#000" stroke-opacity="0.25" stroke-width="0.5"/>
<path d="M60.7,498 121.2,446.2 179.8,403.1 238.6,366.6 295.1,337.2 346.3,308.3" fill="none" stroke="#df5a22" stroke-width="1.5"/><rect x="52.9" y="496.3" width="15.6" height="3.4" fill="#eea888"/><line x1="52.9" y1="496.3" x2="68.5" y2="496.3" stroke="#df5a22" stroke-width="1.1"/><line x1="52.9" y1="499.7" x2="68.5" y2="499.7" stroke="#df5a22" stroke-width="1.1"/><rect x="58.9" y="496.2" width="3.6" height="3.6" fill="#df5a22"/><rect x="113.4" y="444.5" width="15.6" height="3.4" fill="#eea888"/><line x1="113.4" y1="444.5" x2="129" y2="444.5" stroke="#df5a22" stroke-width="1.1"/><line x1="113.4" y1="447.9" x2="129" y2="447.9" stroke="#df5a22" stroke-width="1.1"/><rect x="119.4" y="444.4" width="3.6" height="3.6" fill="#df5a22"/><rect x="172" y="401.4" width="15.6" height="3.4" fill="#eea888"/><line x1="172" y1="401.4" x2="187.6" y2="401.4" stroke="#df5a22" stroke-width="1.1"/><line x1="172" y1="404.8" x2="187.6" y2="404.8" stroke="#df5a22" stroke-width="1.1"/><rect x="178" y="401.3" width="3.6" height="3.6" fill="#df5a22"/><rect x="230.8" y="364.9" width="15.6" height="3.4" fill="#eea888"/><line x1="230.8" y1="364.9" x2="246.4" y2="364.9" stroke="#df5a22" stroke-width="1.1"/><line x1="230.8" y1="368.3" x2="246.4" y2="368.3" stroke="#df5a22" stroke-width="1.1"/><rect x="236.8" y="364.8" width="3.6" height="3.6" fill="#df5a22"/><rect x="287.3" y="335.5" width="15.6" height="3.4" fill="#eea888"/><line x1="287.3" y1="335.5" x2="302.9" y2="335.5" stroke="#df5a22" stroke-width="1.1"/><line x1="287.3" y1="338.9" x2="302.9" y2="338.9" stroke="#df5a22" stroke-width="1.1"/><rect x="293.3" y="335.4" width="3.6" height="3.6" fill="#df5a22"/><rect x="338.5" y="306.6" width="15.6" height="3.4" fill="#eea888"/><line x1="338.5" y1="306.6" x2="354.1" y2="306.6" stroke="#df5a22" stroke-width="1.1"/><line x1="338.5" y1="310" x2="354.1" y2="310" stroke="#df5a22" stroke-width="1.1"/><rect x="344.5" y="306.5" width="3.6" height="3.6" fill="#df5a22"/>
<path d="M179.8,483.8 238.6,434.4 295.1,394.7 346.3,363.5" fill="none" stroke="#7e2f8e" stroke-width="1.5"/><rect x="172" y="482.2" width="15.6" height="3.2" fill="#7e2f8e"/><rect x="177.6" y="481.6" width="4.4" height="4.4" fill="#7e2f8e" stroke="#000" stroke-opacity="0.25" stroke-width="0.5"/><rect x="230.8" y="432.8" width="15.6" height="3.2" fill="#7e2f8e"/><rect x="236.4" y="432.2" width="4.4" height="4.4" fill="#7e2f8e" stroke="#000" stroke-opacity="0.25" stroke-width="0.5"/><rect x="287.3" y="393.1" width="15.6" height="3.2" fill="#7e2f8e"/><rect x="292.9" y="392.5" width="4.4" height="4.4" fill="#7e2f8e" stroke="#000" stroke-opacity="0.25" stroke-width="0.5"/><rect x="338.5" y="361.9" width="15.6" height="3.2" fill="#7e2f8e"/><rect x="344.1" y="361.3" width="4.4" height="4.4" fill="#7e2f8e" stroke="#000" stroke-opacity="0.25" stroke-width="0.5"/>
<line x1="149.9" y1="341.7" x2="149.9" y2="362.2" stroke="#2c98d8" stroke-width="1.2"/><line x1="146.6" y1="341.7" x2="153.2" y2="341.7" stroke="#2c98d8" stroke-width="1.2"/><line x1="146.6" y1="362.2" x2="153.2" y2="362.2" stroke="#2c98d8" stroke-width="1.2"/><circle cx="149.9" cy="350.6" r="2.7" fill="none" stroke="#2c98d8" stroke-width="1.1"/>
<line x1="149.9" y1="346" x2="149.9" y2="356" stroke="#6ab04a" stroke-width="1.2"/><line x1="146.6" y1="346" x2="153.2" y2="346" stroke="#6ab04a" stroke-width="1.2"/><line x1="146.6" y1="356" x2="153.2" y2="356" stroke="#6ab04a" stroke-width="1.2"/><circle cx="149.9" cy="350.6" r="2.7" fill="none" stroke="#6ab04a" stroke-width="1.1"/>
<line x1="149.9" y1="408.9" x2="149.9" y2="454.9" stroke="#df5a22" stroke-width="1.2"/><line x1="146.6" y1="408.9" x2="153.2" y2="408.9" stroke="#df5a22" stroke-width="1.2"/><line x1="146.6" y1="454.9" x2="153.2" y2="454.9" stroke="#df5a22" stroke-width="1.2"/><circle cx="149.9" cy="424.7" r="2.7" fill="none" stroke="#df5a22" stroke-width="1.1"/>
<circle cx="149.9" cy="424.7" r="2.7" fill="none" stroke="#e8a820" stroke-width="1.1"/>
<line x1="282" y1="280.7" x2="282" y2="295.7" stroke="#2c98d8" stroke-width="1.2"/><line x1="278.7" y1="280.7" x2="285.3" y2="280.7" stroke="#2c98d8" stroke-width="1.2"/><line x1="278.7" y1="295.7" x2="285.3" y2="295.7" stroke="#2c98d8" stroke-width="1.2"/><circle cx="282" cy="287.8" r="2.7" fill="none" stroke="#2c98d8" stroke-width="1.1"/>
<line x1="282" y1="296" x2="282" y2="305.7" stroke="#6ab04a" stroke-width="1.2"/><line x1="278.7" y1="296" x2="285.3" y2="296" stroke="#6ab04a" stroke-width="1.2"/><line x1="278.7" y1="305.7" x2="285.3" y2="305.7" stroke="#6ab04a" stroke-width="1.2"/><circle cx="282" cy="301" r="2.7" fill="none" stroke="#6ab04a" stroke-width="1.1"/>
<line x1="282" y1="336" x2="282" y2="342.5" stroke="#df5a22" stroke-width="1.2"/><line x1="278.7" y1="336" x2="285.3" y2="336" stroke="#df5a22" stroke-width="1.2"/><line x1="278.7" y1="342.5" x2="285.3" y2="342.5" stroke="#df5a22" stroke-width="1.2"/><circle cx="282" cy="339.4" r="2.2" fill="none" stroke="#df5a22" stroke-width="1.1"/>
<circle cx="282" cy="339.4" r="2.2" fill="none" stroke="#e8a820" stroke-width="1.1"/>
<line x1="39.6" y1="227.4" x2="63.2" y2="227.4" stroke="#0a72bd" stroke-width="1.6"/>
<line x1="51.4" y1="221.4" x2="51.4" y2="233.4" stroke="#0a72bd" stroke-width="1.2"/>
<line x1="49" y1="221.4" x2="53.8" y2="221.4" stroke="#0a72bd" stroke-width="1.2"/>
<line x1="49" y1="233.4" x2="53.8" y2="233.4" stroke="#0a72bd" stroke-width="1.2"/>
<circle cx="51.4" cy="227.4" r="2.5" fill="#0a72bd"/>
<text x="65.3" y="233.3" font-size="12" fill="#2a2222"><tspan font-size="12">Yb:Gd,Er</tspan><tspan font-size="9.7" dy="-5.9">7 nm</tspan><tspan font-size="12" dy="5.9">@Yb</tspan><tspan font-size="9.7" dy="-5.9">1 nm</tspan><tspan font-size="12" dy="5.9">@Lu</tspan><tspan font-size="9.7" dy="-5.9">0.5 nm</tspan></text>
<line x1="39.6" y1="246.1" x2="63.2" y2="246.1" stroke="#6aa83a" stroke-width="1.6"/>
<line x1="51.4" y1="240.1" x2="51.4" y2="252.1" stroke="#6aa83a" stroke-width="1.2"/>
<line x1="49" y1="240.1" x2="53.8" y2="240.1" stroke="#6aa83a" stroke-width="1.2"/>
<line x1="49" y1="252.1" x2="53.8" y2="252.1" stroke="#6aa83a" stroke-width="1.2"/>
<circle cx="51.4" cy="246.1" r="2.5" fill="#6aa83a"/>
<text x="65.3" y="252" font-size="12" fill="#2a2222"><tspan font-size="12">Yb:Gd,Er</tspan><tspan font-size="9.7" dy="-5.9">7 nm</tspan><tspan font-size="12" dy="5.9">@Lu</tspan><tspan font-size="9.7" dy="-5.9">1.5 nm</tspan></text>
<line x1="39.6" y1="264.6" x2="63.2" y2="264.6" stroke="#df5a22" stroke-width="1.6"/>
<line x1="51.4" y1="258.6" x2="51.4" y2="270.6" stroke="#df5a22" stroke-width="1.2"/>
<line x1="49" y1="258.6" x2="53.8" y2="258.6" stroke="#df5a22" stroke-width="1.2"/>
<line x1="49" y1="270.6" x2="53.8" y2="270.6" stroke="#df5a22" stroke-width="1.2"/>
<circle cx="51.4" cy="264.6" r="2.5" fill="#df5a22"/>
<text x="65.3" y="270.5" font-size="12" fill="#2a2222"><tspan font-size="12">Yb:Gd,Er</tspan><tspan font-size="9.7" dy="-5.9">7 nm</tspan><tspan font-size="12" dy="5.9">@YbEr</tspan><tspan font-size="9.7" dy="-5.9">1 nm</tspan><tspan font-size="12" dy="5.9">@Lu</tspan><tspan font-size="9.7" dy="-5.9">0.5 nm</tspan></text>
<line x1="39.6" y1="283" x2="63.2" y2="283" stroke="#7e2f8e" stroke-width="1.6"/>
<line x1="51.4" y1="277" x2="51.4" y2="289" stroke="#7e2f8e" stroke-width="1.2"/>
<line x1="49" y1="277" x2="53.8" y2="277" stroke="#7e2f8e" stroke-width="1.2"/>
<line x1="49" y1="289" x2="53.8" y2="289" stroke="#7e2f8e" stroke-width="1.2"/>
<circle cx="51.4" cy="283" r="2.5" fill="#7e2f8e"/>
<text x="65.3" y="288.9" font-size="12" fill="#2a2222"><tspan font-size="12">Yb:Gd,Er</tspan><tspan font-size="9.7" dy="-5.9">7 nm</tspan><tspan font-size="12" dy="5.9">@Yb</tspan><tspan font-size="9.7" dy="-5.9">1 nm</tspan></text>
<line x1="40" y1="300.6" x2="44.4" y2="300.6" stroke="#2c98d8" stroke-width="1.3"/>
<line x1="56.5" y1="300.6" x2="60.8" y2="300.6" stroke="#2c98d8" stroke-width="1.3"/>
<line x1="52.5" y1="294.6" x2="52.5" y2="306.6" stroke="#2c98d8" stroke-width="1.5"/>
<line x1="49.5" y1="294.6" x2="55.5" y2="294.6" stroke="#2c98d8" stroke-width="1.5"/>
<line x1="49.5" y1="306.6" x2="55.5" y2="306.6" stroke="#2c98d8" stroke-width="1.5"/>
<circle cx="52.5" cy="300.6" r="2.6" fill="none" stroke="#2c98d8" stroke-width="1.3"/>
<line x1="66.5" y1="300.6" x2="70.9" y2="300.6" stroke="#6ab04a" stroke-width="1.3"/>
<line x1="83" y1="300.6" x2="87.3" y2="300.6" stroke="#6ab04a" stroke-width="1.3"/>
<line x1="79" y1="294.6" x2="79" y2="306.6" stroke="#6ab04a" stroke-width="1.5"/>
<line x1="76" y1="294.6" x2="82" y2="294.6" stroke="#6ab04a" stroke-width="1.5"/>
<line x1="76" y1="306.6" x2="82" y2="306.6" stroke="#6ab04a" stroke-width="1.5"/>
<circle cx="79" cy="300.6" r="2.6" fill="none" stroke="#6ab04a" stroke-width="1.3"/>
<line x1="94.5" y1="300.6" x2="98.9" y2="300.6" stroke="#df5a22" stroke-width="1.3"/>
<line x1="111" y1="300.6" x2="115.3" y2="300.6" stroke="#df5a22" stroke-width="1.3"/>
<line x1="107" y1="294.6" x2="107" y2="306.6" stroke="#df5a22" stroke-width="1.5"/>
<line x1="104" y1="294.6" x2="110" y2="294.6" stroke="#df5a22" stroke-width="1.5"/>
<line x1="104" y1="306.6" x2="110" y2="306.6" stroke="#df5a22" stroke-width="1.5"/>
<circle cx="107" cy="300.6" r="2.6" fill="none" stroke="#e8a820" stroke-width="1.3"/>
<text x="120.3" y="306.2" font-size="12" fill="#2a2222">Simulation results</text>
<text x="370" y="208.2" font-size="22.5" fill="#231f20">d</text>
<line x1="384.8" y1="238.1" x2="384.8" y2="327.7" stroke="#a8a8a8" stroke-width="0.8"/><line x1="382.8" y1="327.7" x2="384.8" y2="327.7" stroke="#a8a8a8" stroke-width="0.7"/><line x1="382.8" y1="312.8" x2="384.8" y2="312.8" stroke="#a8a8a8" stroke-width="0.7"/><line x1="382.8" y1="297.8" x2="384.8" y2="297.8" stroke="#a8a8a8" stroke-width="0.7"/><line x1="382.8" y1="282.9" x2="384.8" y2="282.9" stroke="#a8a8a8" stroke-width="0.7"/><line x1="382.8" y1="267.9" x2="384.8" y2="267.9" stroke="#a8a8a8" stroke-width="0.7"/><line x1="382.8" y1="253" x2="384.8" y2="253" stroke="#a8a8a8" stroke-width="0.7"/><line x1="382.8" y1="238.1" x2="384.8" y2="238.1" stroke="#a8a8a8" stroke-width="0.7"/><text x="381.6" y="331.4" font-size="10.4" fill="#2a2222" text-anchor="end">0</text><text x="381.6" y="301.5" font-size="10.4" fill="#2a2222" text-anchor="end">40</text><text x="381.6" y="271.6" font-size="10.4" fill="#2a2222" text-anchor="end">80</text><text x="381.6" y="241.8" font-size="10.4" fill="#2a2222" text-anchor="end">120</text><text x="370.6" y="224" font-size="10.4" fill="#2a2222"><tspan font-size="10.4">(pps px</tspan><tspan font-size="6.5" dy="-3.8">-1</tspan><tspan font-size="10.4" dy="3.8">)</tspan></text><rect x="393.2" y="237.2" width="9.9" height="9.5" fill="#0a6ab8"/>
<defs><linearGradient id="g1" gradientUnits="userSpaceOnUse" x1="0" y1="0" x2="0" y2="-86.65"><stop offset="0" stop-color="#000010"/><stop offset="0.1" stop-color="#1a2858"/><stop offset="0.2" stop-color="#2c56ac"/><stop offset="0.27" stop-color="#3a5cb4"/><stop offset="0.31" stop-color="#462270"/><stop offset="0.36" stop-color="#801830"/><stop offset="0.44" stop-color="#e02030"/><stop offset="0.55" stop-color="#ee6e40"/><stop offset="0.64" stop-color="#f0a030"/><stop offset="0.69" stop-color="#8c9020"/><stop offset="0.8" stop-color="#d0dc60"/><stop offset="0.92" stop-color="#eef0c0"/><stop offset="1" stop-color="#ffffff"/></linearGradient></defs><g fill="url(#g1)"><path transform="matrix(0.69,0.16,0,1,443,306.4)" d="M0,-2.3 2.3,-2.3 4.5,-2.2 6.8,-2.1 9.1,-2.1 11.4,-2.3 13.6,-2.7 15.9,-3.3 18.2,-3.9 20.5,-4.5 22.7,-4.9 25,-5 27.3,-4.7 29.5,-4.1 31.8,-3.4 34.1,-2.8 36.4,-2.2 38.6,-1.7 40.9,-1.3 43.2,-1.1 45.5,-1 47.7,-1.1 50,-1.2 52.3,-1.4 54.5,-1.7 56.8,-2.2 59.1,-3.3 61.4,-4.7 63.6,-6.1 65.9,-7.1 68.2,-7.6 70.5,-7.7 72.7,-7.6 75,-7.1 77.3,-6.5 79.5,-5.5 81.8,-4.1 84.1,-2.8 86.4,-1.7 88.6,-1.1 90.9,-0.9 93.2,-0.7 95.5,-0.5 97.7,-0.4 100,-0.3 L98.2,1.1 L-1.8,1.1Z"/><path transform="matrix(0.69,0.16,0,1,441.74,306.87)" d="M0,-2.5 2.3,-2.5 4.5,-2.4 6.8,-2.4 9.1,-2.6 11.4,-3 13.6,-3.8 15.9,-4.7 18.2,-5.9 20.5,-7 22.7,-7.9 25,-8.2 27.3,-7.8 29.5,-6.8 31.8,-5.6 34.1,-4.4 36.4,-3.3 38.6,-2.4 40.9,-1.7 43.2,-1.3 45.5,-1.2 47.7,-1.2 50,-1.4 52.3,-1.7 54.5,-2.3 56.8,-3.1 59.1,-4.6 61.4,-6.6 63.6,-8.7 65.9,-10.3 68.2,-11.1 70.5,-11.3 72.7,-10.7 75,-9.5 77.3,-8.2 79.5,-6.6 81.8,-4.8 84.1,-3.2 86.4,-1.9 88.6,-1.2 90.9,-1.1 93.2,-0.9 95.5,-0.8 97.7,-0.7 100,-0.6 L98.2,1.1 L-1.8,1.1Z"/><path transform="matrix(0.69,0.16,0,1,440.49,307.35)" d="M0,-2.7 2.3,-2.8 4.5,-2.9 6.8,-3.1 9.1,-3.5 11.4,-4.3 13.6,-5.6 15.9,-7.2 18.2,-9.1 20.5,-11.2 22.7,-12.9 25,-13.7 27.3,-13.2 29.5,-11.6 31.8,-9.5 34.1,-7.2 36.4,-5.2 38.6,-3.5 40.9,-2.3 43.2,-1.6 45.5,-1.4 47.7,-1.4 50,-1.7 52.3,-2.2 54.5,-3.1 56.8,-4.4 59.1,-6.6 61.4,-9.4 63.6,-12.6 65.9,-15.2 68.2,-16.5 70.5,-16.5 72.7,-15.2 75,-13.1 77.3,-10.6 79.5,-8.1 81.8,-5.7 84.1,-3.8 86.4,-2.3 88.6,-1.5 90.9,-1.4 93.2,-1.3 95.5,-1.4 97.7,-1.5 100,-1.5 L98.2,1.1 L-1.8,1.1Z"/><path transform="matrix(0.69,0.16,0,1,439.23,307.82)" d="M0,-3.1 2.3,-3.2 4.5,-3.5 6.8,-3.9 9.1,-4.6 11.4,-6 13.6,-8 15.9,-10.7 18.2,-14.1 20.5,-17.7 22.7,-20.8 25,-22.2 27.3,-21.4 29.5,-18.7 31.8,-15 34.1,-11.2 36.4,-7.7 38.6,-5 40.9,-3.1 43.2,-2 45.5,-1.6 47.7,-1.7 50,-2.1 52.3,-2.8 54.5,-4 56.8,-5.9 59.1,-9 61.4,-13.1 63.6,-17.7 65.9,-21.6 68.2,-23.8 70.5,-23.7 72.7,-21.3 75,-17.7 77.3,-13.7 79.5,-10 81.8,-6.8 84.1,-4.4 86.4,-2.8 88.6,-1.9 90.9,-1.7 93.2,-1.8 95.5,-2.1 97.7,-2.4 100,-2.4 L98.2,1.1 L-1.8,1.1Z"/><path transform="matrix(0.69,0.16,0,1,437.98,308.29)" d="M0,-3.4 2.3,-3.6 4.5,-4 6.8,-4.6 9.1,-5.8 11.4,-7.8 13.6,-10.8 15.9,-15 18.2,-20.6 20.5,-26.6 22.7,-31.7 25,-34.1 27.3,-32.7 29.5,-28.1 31.8,-22 34.1,-15.9 36.4,-10.7 38.6,-6.7 40.9,-3.9 43.2,-2.3 45.5,-1.8 47.7,-1.9 50,-2.4 52.3,-3.3 54.5,-4.9 56.8,-7.4 59.1,-11.5 61.4,-17 63.6,-23.4 65.9,-29.1 68.2,-32.4 70.5,-32.1 72.7,-28.4 75,-22.8 77.3,-17 79.5,-12 81.8,-8 84.1,-5.1 86.4,-3.2 88.6,-2.2 90.9,-2 93.2,-2.2 95.5,-2.7 97.7,-3.1 100,-3.3 L98.2,1.1 L-1.8,1.1Z"/><path transform="matrix(0.69,0.16,0,1,436.72,308.77)" d="M0,-3.5 2.3,-3.8 4.5,-4.3 6.8,-5.1 9.1,-6.7 11.4,-9.4 13.6,-13.6 15.9,-19.7 18.2,-27.8 20.5,-37 22.7,-44.9 25,-48.4 27.3,-45.8 29.5,-38.5 31.8,-29.3 34.1,-20.6 36.4,-13.4 38.6,-8.1 40.9,-4.6 43.2,-2.7 45.5,-2 47.7,-2 50,-2.6 52.3,-3.7 54.5,-5.6 56.8,-8.7 59.1,-13.6 61.4,-20.4 63.6,-28.5 65.9,-36.1 68.2,-40.7 70.5,-40.1 72.7,-34.8 75,-27.3 77.3,-19.9 79.5,-13.7 81.8,-8.9 84.1,-5.6 86.4,-3.5 88.6,-2.4 90.9,-2.1 93.2,-2.4 95.5,-3 97.7,-3.4 100,-3.6 L98.2,1.1 L-1.8,1.1Z"/><path transform="matrix(0.69,0.16,0,1,435.47,309.24)" d="M0,-3.3 2.3,-3.6 4.5,-4.2 6.8,-5.3 9.1,-7.2 11.4,-10.5 13.6,-15.8 15.9,-23.7 18.2,-34.4 20.5,-46.8 22.7,-57.8 25,-62.6 27.3,-58.3 29.5,-47.8 31.8,-35.4 34.1,-24.2 36.4,-15.4 38.6,-9.2 40.9,-5.2 43.2,-3 45.5,-2.2 47.7,-2.2 50,-2.7 52.3,-3.9 54.5,-5.9 56.8,-9.3 59.1,-14.6 61.4,-22.2 63.6,-31.2 65.9,-40 68.2,-45.9 70.5,-45 72.7,-38.4 75,-29.7 77.3,-21.4 79.5,-14.5 81.8,-9.3 84.1,-5.8 86.4,-3.5 88.6,-2.3 90.9,-2.1 93.2,-2.4 95.5,-2.9 97.7,-3.4 100,-3.5 L98.2,1.1 L-1.8,1.1Z"/><path transform="matrix(0.69,0.16,0,1,434.21,309.71)" d="M0,-2.8 2.3,-3.2 4.5,-3.9 6.8,-5.2 9.1,-7.3 11.4,-11 13.6,-16.9 15.9,-25.9 18.2,-38.3 20.5,-52.6 22.7,-65.8 25,-72.1 27.3,-65.8 29.5,-52.9 31.8,-38.6 34.1,-26.1 36.4,-16.5 38.6,-9.9 40.9,-5.7 43.2,-3.4 45.5,-2.5 47.7,-2.4 50,-2.9 52.3,-3.9 54.5,-5.9 56.8,-9.1 59.1,-14.4 61.4,-21.7 63.6,-30.4 65.9,-38.9 68.2,-44.3 70.5,-43.5 72.7,-37.3 75,-29 77.3,-20.9 79.5,-14.2 81.8,-9.1 84.1,-5.5 86.4,-3.3 88.6,-2.1 90.9,-1.8 93.2,-2.2 95.5,-2.7 97.7,-3.2 100,-3.4 L98.2,1.1 L-1.8,1.1Z"/><path transform="matrix(0.69,0.16,0,1,432.96,310.19)" d="M0,-2.1 2.3,-2.6 4.5,-3.5 6.8,-4.9 9.1,-7.1 11.4,-10.7 13.6,-16.6 15.9,-25.6 18.2,-37.8 20.5,-51.8 22.7,-64.2 25,-69.5 27.3,-63.8 29.5,-51.5 31.8,-37.6 34.1,-25.5 36.4,-16.2 38.6,-9.9 40.9,-5.8 43.2,-3.6 45.5,-2.8 47.7,-2.6 50,-2.9 52.3,-3.8 54.5,-5.5 56.8,-8.3 59.1,-12.9 61.4,-19.1 63.6,-26.5 65.9,-33.3 68.2,-37.3 70.5,-36.8 72.7,-32.1 75,-25.4 77.3,-18.5 79.5,-12.7 81.8,-8.2 84.1,-5 86.4,-2.9 88.6,-1.8 90.9,-1.6 93.2,-1.9 95.5,-2.5 97.7,-3 100,-3.2 L98.2,1.1 L-1.8,1.1Z"/><path transform="matrix(0.69,0.16,0,1,431.7,310.66)" d="M0,-1.6 2.3,-2.1 4.5,-3 6.8,-4.5 9.1,-6.6 11.4,-9.9 13.6,-15.1 15.9,-23 18.2,-33.4 20.5,-45 22.7,-54.6 25,-58.3 27.3,-54.1 29.5,-44.3 31.8,-32.9 34.1,-22.7 36.4,-14.8 38.6,-9.2 40.9,-5.7 43.2,-3.7 45.5,-2.9 47.7,-2.7 50,-2.9 52.3,-3.5 54.5,-4.8 56.8,-7.1 59.1,-10.6 61.4,-15.4 63.6,-20.9 65.9,-25.8 68.2,-28.5 70.5,-28.3 72.7,-25.1 75,-20.2 77.3,-15.2 79.5,-10.7 81.8,-7 84.1,-4.2 86.4,-2.4 88.6,-1.4 90.9,-1.3 93.2,-1.7 95.5,-2.3 97.7,-2.8 100,-3 L98.2,1.1 L-1.8,1.1Z"/><path transform="matrix(0.69,0.16,0,1,430.44,311.13)" d="M0,-1.4 2.3,-1.8 4.5,-2.8 6.8,-4.2 9.1,-6.1 11.4,-8.7 13.6,-12.7 15.9,-18.9 18.2,-26.8 20.5,-35.2 22.7,-41.8 25,-44.2 27.3,-41.4 29.5,-34.5 31.8,-26.3 34.1,-18.7 36.4,-12.6 38.6,-8.1 40.9,-5.2 43.2,-3.5 45.5,-2.9 47.7,-2.7 50,-2.8 52.3,-3.2 54.5,-4.1 56.8,-5.7 59.1,-8.2 61.4,-11.5 63.6,-15.2 65.9,-18.4 68.2,-20.2 70.5,-20.1 72.7,-18.2 75,-15.1 77.3,-11.7 79.5,-8.5 81.8,-5.7 84.1,-3.5 86.4,-2 88.6,-1.2 90.9,-1.1 93.2,-1.6 95.5,-2.2 97.7,-2.7 100,-2.9 L98.2,1.1 L-1.8,1.1Z"/><path transform="matrix(0.69,0.16,0,1,429.19,311.61)" d="M0,-1.6 2.3,-2 4.5,-2.9 6.8,-4 9.1,-5.5 11.4,-7.5 13.6,-10.3 15.9,-14.5 18.2,-19.7 20.5,-25.1 22.7,-29.3 25,-30.8 27.3,-29.1 29.5,-24.9 31.8,-19.6 34.1,-14.5 36.4,-10.2 38.6,-6.9 40.9,-4.6 43.2,-3.3 45.5,-2.7 47.7,-2.6 50,-2.6 52.3,-2.9 54.5,-3.5 56.8,-4.5 59.1,-6.1 61.4,-8.2 63.6,-10.4 65.9,-12.3 68.2,-13.4 70.5,-13.4 72.7,-12.3 75,-10.5 77.3,-8.5 79.5,-6.4 81.8,-4.5 84.1,-2.9 86.4,-1.7 88.6,-1.1 90.9,-1.1 93.2,-1.6 95.5,-2.2 97.7,-2.8 100,-3 L98.2,1.1 L-1.8,1.1Z"/><path transform="matrix(0.69,0.16,0,1,427.93,312.08)" d="M0,-2.1 2.3,-2.5 4.5,-3.1 6.8,-4.1 9.1,-5.2 11.4,-6.5 13.6,-8.3 15.9,-10.8 18.2,-13.7 20.5,-16.8 22.7,-19.2 25,-20.1 27.3,-19.4 29.5,-17.1 31.8,-14.1 34.1,-11 36.4,-8.1 38.6,-5.8 40.9,-4.1 43.2,-3 45.5,-2.6 47.7,-2.5 50,-2.6 52.3,-2.8 54.5,-3.2 56.8,-3.8 59.1,-4.6 61.4,-5.6 63.6,-6.7 65.9,-7.6 68.2,-8.2 70.5,-8.2 72.7,-7.7 75,-6.8 77.3,-5.6 79.5,-4.4 81.8,-3.2 84.1,-2.2 86.4,-1.4 88.6,-1 90.9,-1.1 93.2,-1.6 95.5,-2.3 97.7,-2.9 100,-3.2 L98.2,1.1 L-1.8,1.1Z"/><path transform="matrix(0.69,0.16,0,1,426.68,312.55)" d="M0,-2.7 2.3,-3 4.5,-3.5 6.8,-4.2 9.1,-5 11.4,-6 13.6,-7 15.9,-8.3 18.2,-9.7 20.5,-11.2 22.7,-12.4 25,-13.1 27.3,-12.9 29.5,-11.9 31.8,-10.4 34.1,-8.5 36.4,-6.7 38.6,-5 40.9,-3.7 43.2,-2.9 45.5,-2.5 47.7,-2.5 50,-2.6 52.3,-2.8 54.5,-3 56.8,-3.3 59.1,-3.5 61.4,-3.8 63.6,-4.1 65.9,-4.4 68.2,-4.7 70.5,-4.7 72.7,-4.4 75,-4 77.3,-3.4 79.5,-2.7 81.8,-2.1 84.1,-1.6 86.4,-1.2 88.6,-1 90.9,-1.1 93.2,-1.7 95.5,-2.5 97.7,-3.1 100,-3.4 L98.2,1.1 L-1.8,1.1Z"/><path transform="matrix(0.69,0.16,0,1,425.42,313.03)" d="M0,-3.2 2.3,-3.5 4.5,-3.9 6.8,-4.4 9.1,-5.1 11.4,-5.9 13.6,-6.6 15.9,-7.2 18.2,-7.8 20.5,-8.5 22.7,-9.2 25,-9.7 27.3,-9.8 29.5,-9.4 31.8,-8.5 34.1,-7.2 36.4,-5.8 38.6,-4.5 40.9,-3.5 43.2,-2.8 45.5,-2.5 47.7,-2.5 50,-2.6 52.3,-2.8 54.5,-3 56.8,-3 59.1,-2.9 61.4,-2.6 63.6,-2.4 65.9,-2.3 68.2,-2.5 70.5,-2.5 72.7,-2.4 75,-2.1 77.3,-1.8 79.5,-1.5 81.8,-1.3 84.1,-1.2 86.4,-1.1 88.6,-1 90.9,-1.2 93.2,-1.8 95.5,-2.6 97.7,-3.3 100,-3.6 L98.2,1.1 L-1.8,1.1Z"/><path transform="matrix(0.69,0.16,0,1,424.17,313.5)" d="M0,-3.5 2.3,-3.7 4.5,-4.1 6.8,-4.6 9.1,-5.3 11.4,-6.3 13.6,-7.1 15.9,-7.8 18.2,-8.4 20.5,-9.1 22.7,-9.6 25,-9.9 27.3,-9.9 29.5,-9.3 31.8,-8.4 34.1,-7.1 36.4,-5.7 38.6,-4.4 40.9,-3.4 43.2,-2.7 45.5,-2.4 47.7,-2.4 50,-2.5 52.3,-2.7 54.5,-2.9 56.8,-2.9 59.1,-2.5 61.4,-2 63.6,-1.5 65.9,-1.3 68.2,-1.3 70.5,-1.3 72.7,-1.3 75,-1.2 77.3,-1 79.5,-0.9 81.8,-0.9 84.1,-0.9 86.4,-1 88.6,-0.9 90.9,-1.1 93.2,-1.8 95.5,-2.6 97.7,-3.4 100,-3.6 L98.2,1.1 L-1.8,1.1Z"/><path transform="matrix(0.69,0.16,0,1,422.91,313.97)" d="M0,-3.3 2.3,-3.6 4.5,-4.1 6.8,-4.7 9.1,-5.6 11.4,-7 13.6,-8.5 15.9,-10.1 18.2,-11.8 20.5,-13.2 22.7,-14.1 25,-14.1 27.3,-13.3 29.5,-11.7 31.8,-9.8 34.1,-7.9 36.4,-6.1 38.6,-4.6 40.9,-3.4 43.2,-2.7 45.5,-2.4 47.7,-2.4 50,-2.5 52.3,-2.6 54.5,-2.7 56.8,-2.7 59.1,-2.3 61.4,-1.8 63.6,-1.4 65.9,-1.1 68.2,-1.1 70.5,-1 72.7,-1 75,-0.8 77.3,-0.7 79.5,-0.7 81.8,-0.8 84.1,-1 86.4,-1.2 88.6,-1.2 90.9,-1.4 93.2,-1.9 95.5,-2.5 97.7,-3.1 100,-3.3 L98.2,1.1 L-1.8,1.1Z"/><path transform="matrix(0.69,0.16,0,1,421.66,314.45)" d="M0,-3 2.3,-3.3 4.5,-3.8 6.8,-4.6 9.1,-6 11.4,-8 13.6,-10.8 15.9,-14.3 18.2,-18 20.5,-21.2 22.7,-22.8 25,-22.3 27.3,-20 29.5,-16.4 31.8,-12.7 34.1,-9.4 36.4,-6.8 38.6,-4.9 40.9,-3.5 43.2,-2.7 45.5,-2.4 47.7,-2.3 50,-2.3 52.3,-2.5 54.5,-2.5 56.8,-2.5 59.1,-2.3 61.4,-1.9 63.6,-1.7 65.9,-1.5 68.2,-1.4 70.5,-1.3 72.7,-1 75,-0.8 77.3,-0.6 79.5,-0.7 81.8,-1 84.1,-1.4 86.4,-1.7 88.6,-1.9 90.9,-1.9 93.2,-2.1 95.5,-2.2 97.7,-2.4 100,-2.4 L98.2,1.1 L-1.8,1.1Z"/><path transform="matrix(0.69,0.16,0,1,420.4,314.92)" d="M0,-2.6 2.3,-2.9 4.5,-3.6 6.8,-4.6 9.1,-6.5 11.4,-9.5 13.6,-14.2 15.9,-20.3 18.2,-27 20.5,-32.8 22.7,-35.7 25,-34.5 27.3,-29.9 29.5,-23.4 31.8,-17 34.1,-11.7 36.4,-7.9 38.6,-5.3 40.9,-3.7 43.2,-2.8 45.5,-2.3 47.7,-2.2 50,-2.2 52.3,-2.3 54.5,-2.4 56.8,-2.3 59.1,-2.3 61.4,-2.2 63.6,-2.1 65.9,-2.1 68.2,-2 70.5,-1.7 72.7,-1.2 75,-0.8 77.3,-0.5 79.5,-0.7 81.8,-1.2 84.1,-1.9 86.4,-2.5 88.6,-2.8 90.9,-2.6 93.2,-2.3 95.5,-1.9 97.7,-1.5 100,-1.4 L98.2,1.1 L-1.8,1.1Z"/><path transform="matrix(0.69,0.16,0,1,419.14,315.39)" d="M0,-2.3 2.3,-2.7 4.5,-3.4 6.8,-4.7 9.1,-7.2 11.4,-11.4 13.6,-18.1 15.9,-27.3 18.2,-37.8 20.5,-47 22.7,-51.6 25,-49.6 27.3,-41.9 29.5,-31.7 31.8,-22 34.1,-14.5 36.4,-9.2 38.6,-5.9 40.9,-3.9 43.2,-2.8 45.5,-2.3 47.7,-2.1 50,-2.1 52.3,-2.2 54.5,-2.2 56.8,-2.2 59.1,-2.3 61.4,-2.4 63.6,-2.6 65.9,-2.7 68.2,-2.5 70.5,-2.1 72.7,-1.4 75,-0.8 77.3,-0.5 79.5,-0.7 81.8,-1.4 84.1,-2.3 86.4,-3.1 88.6,-3.5 90.9,-3.2 93.2,-2.5 95.5,-1.6 97.7,-0.8 100,-0.5 L98.2,1.1 L-1.8,1.1Z"/><path transform="matrix(0.69,0.16,0,1,417.89,315.87)" d="M0,-2.1 2.3,-2.6 4.5,-3.4 6.8,-5 9.1,-8.1 11.4,-13.4 13.6,-21.9 15.9,-33.9 18.2,-48 20.5,-60.9 22.7,-67.7 25,-64.6 27.3,-53.6 29.5,-39.7 31.8,-26.9 34.1,-17.1 36.4,-10.6 38.6,-6.5 40.9,-4.2 43.2,-2.9 45.5,-2.3 47.7,-2.1 50,-2.1 52.3,-2.2 54.5,-2.2 56.8,-2.2 59.1,-2.3 61.4,-2.5 63.6,-2.7 65.9,-2.9 68.2,-2.8 70.5,-2.2 72.7,-1.5 75,-0.8 77.3,-0.5 79.5,-0.7 81.8,-1.5 84.1,-2.5 86.4,-3.4 88.6,-3.8 90.9,-3.5 93.2,-2.6 95.5,-1.5 97.7,-0.6 100,-0.2 L98.2,1.1 L-1.8,1.1Z"/><path transform="matrix(0.69,0.16,0,1,416.63,316.34)" d="M0,-2.4 2.3,-2.8 4.5,-3.7 6.8,-5.4 9.1,-8.7 11.4,-14.6 13.6,-24.3 15.9,-38 18.2,-54.4 20.5,-70 22.7,-79.1 25,-74.9 27.3,-61.1 29.5,-44.6 31.8,-29.8 34.1,-18.7 36.4,-11.3 38.6,-6.8 40.9,-4.3 43.2,-2.9 45.5,-2.3 47.7,-2 50,-2 52.3,-2 54.5,-2 56.8,-2 59.1,-2.1 61.4,-2.3 63.6,-2.5 65.9,-2.7 68.2,-2.6 70.5,-2.1 72.7,-1.5 75,-1 77.3,-0.7 79.5,-0.9 81.8,-1.5 84.1,-2.4 86.4,-3.1 88.6,-3.5 90.9,-3.2 93.2,-2.4 95.5,-1.5 97.7,-0.8 100,-0.4 L98.2,1.1 L-1.8,1.1Z"/><path transform="matrix(0.69,0.16,0,1,415.38,316.81)" d="M0,-2.9 2.3,-3.3 4.5,-4 6.8,-5.6 9.1,-8.8 11.4,-14.6 13.6,-24.3 15.9,-37.8 18.2,-54.1 20.5,-69.7 22.7,-78.8 25,-74.6 27.3,-60.8 29.5,-44.3 31.8,-29.5 34.1,-18.4 36.4,-11 38.6,-6.6 40.9,-4.1 43.2,-2.8 45.5,-2.1 47.7,-1.8 50,-1.7 52.3,-1.6 54.5,-1.6 56.8,-1.6 59.1,-1.7 61.4,-1.9 63.6,-2.2 65.9,-2.3 68.2,-2.3 70.5,-2 72.7,-1.7 75,-1.4 77.3,-1.2 79.5,-1.3 81.8,-1.6 84.1,-2.1 86.4,-2.4 88.6,-2.6 90.9,-2.5 93.2,-2.1 95.5,-1.6 97.7,-1.3 100,-1.1 L98.2,1.1 L-1.8,1.1Z"/><path transform="matrix(0.69,0.16,0,1,414.12,317.29)" d="M0,-3.5 2.3,-3.8 4.5,-4.3 6.8,-5.5 9.1,-8.2 11.4,-13.4 13.6,-21.8 15.9,-33.6 18.2,-47.4 20.5,-60.1 22.7,-66.8 25,-63.8 27.3,-52.9 29.5,-39 31.8,-26.2 34.1,-16.4 36.4,-9.9 38.6,-5.9 40.9,-3.7 43.2,-2.5 45.5,-1.9 47.7,-1.6 50,-1.4 52.3,-1.2 54.5,-1.1 56.8,-1.1 59.1,-1.2 61.4,-1.5 63.6,-1.7 65.9,-1.9 68.2,-1.9 70.5,-1.9 72.7,-1.9 75,-1.8 77.3,-1.8 79.5,-1.8 81.8,-1.8 84.1,-1.7 86.4,-1.6 88.6,-1.6 90.9,-1.6 93.2,-1.7 95.5,-1.8 97.7,-1.8 100,-1.8 L98.2,1.1 L-1.8,1.1Z"/><path transform="matrix(0.69,0.16,0,1,412.87,317.76)" d="M0,-4 2.3,-4.1 4.5,-4.4 6.8,-5.1 9.1,-7.1 11.4,-11.2 13.6,-17.8 15.9,-26.8 18.2,-37 20.5,-46.1 22.7,-50.7 25,-48.6 27.3,-40.9 29.5,-30.7 31.8,-20.9 34.1,-13.3 36.4,-8.2 38.6,-5 40.9,-3.2 43.2,-2.2 45.5,-1.7 47.7,-1.3 50,-1.1 52.3,-0.9 54.5,-0.8 56.8,-0.7 59.1,-0.9 61.4,-1.1 63.6,-1.4 65.9,-1.5 68.2,-1.6 70.5,-1.8 72.7,-2 75,-2.3 77.3,-2.4 79.5,-2.3 81.8,-2 84.1,-1.5 86.4,-1 88.6,-0.8 90.9,-0.9 93.2,-1.4 95.5,-1.9 97.7,-2.3 100,-2.5 L98.2,1.1 L-1.8,1.1Z"/><path transform="matrix(0.69,0.16,0,1,411.61,318.23)" d="M0,-4.1 2.3,-4.2 4.5,-4.2 6.8,-4.6 9.1,-5.9 11.4,-8.8 13.6,-13.5 15.9,-19.6 18.2,-26.5 20.5,-32.3 22.7,-35.2 25,-33.9 27.3,-28.9 29.5,-22.1 31.8,-15.5 34.1,-10.2 36.4,-6.5 38.6,-4.1 40.9,-2.8 43.2,-2 45.5,-1.6 47.7,-1.2 50,-1 52.3,-0.8 54.5,-0.6 56.8,-0.6 59.1,-0.7 61.4,-1 63.6,-1.2 65.9,-1.4 68.2,-1.5 70.5,-1.8 72.7,-2.2 75,-2.5 77.3,-2.7 79.5,-2.6 81.8,-2.1 84.1,-1.5 86.4,-0.9 88.6,-0.6 90.9,-0.7 93.2,-1.3 95.5,-2 97.7,-2.6 100,-2.8 L98.2,1.1 L-1.8,1.1Z"/><path transform="matrix(0.69,0.16,0,1,410.36,318.71)" d="M0,-4.1 2.3,-4.2 4.5,-4.1 6.8,-4.3 9.1,-5.1 11.4,-6.9 13.6,-9.9 15.9,-13.7 18.2,-17.8 20.5,-21.3 22.7,-23 25,-22.3 27.3,-19.4 29.5,-15.3 31.8,-11.2 34.1,-7.8 36.4,-5.3 38.6,-3.7 40.9,-2.7 43.2,-2 45.5,-1.7 47.7,-1.4 50,-1.2 52.3,-1 54.5,-0.9 56.8,-0.8 59.1,-0.9 61.4,-1.1 63.6,-1.3 65.9,-1.4 68.2,-1.5 70.5,-1.9 72.7,-2.3 75,-2.8 77.3,-3 79.5,-3 81.8,-2.6 84.1,-2 86.4,-1.4 88.6,-1.1 90.9,-1.2 93.2,-1.7 95.5,-2.3 97.7,-2.9 100,-3 L98.2,1.1 L-1.8,1.1Z"/><path transform="matrix(0.69,0.16,0,1,409.1,319.18)" d="M0,-4.1 2.3,-4.2 4.5,-4.2 6.8,-4.2 9.1,-4.7 11.4,-5.9 13.6,-7.6 15.9,-9.7 18.2,-11.9 20.5,-13.7 22.7,-14.6 25,-14.4 27.3,-13 29.5,-10.9 31.8,-8.6 34.1,-6.6 36.4,-5 38.6,-3.8 40.9,-2.9 43.2,-2.3 45.5,-2 47.7,-1.8 50,-1.6 52.3,-1.5 54.5,-1.4 56.8,-1.4 59.1,-1.4 61.4,-1.3 63.6,-1.4 65.9,-1.4 68.2,-1.6 70.5,-2 72.7,-2.6 75,-3.3 77.3,-3.7 79.5,-3.7 81.8,-3.4 84.1,-3 86.4,-2.5 88.6,-2.2 90.9,-2.2 93.2,-2.5 95.5,-3 97.7,-3.3 100,-3.4 L98.2,1.1 L-1.8,1.1Z"/><path transform="matrix(0.69,0.16,0,1,407.84,319.65)" d="M0,-4.2 2.3,-4.3 4.5,-4.3 6.8,-4.4 9.1,-4.7 11.4,-5.5 13.6,-6.4 15.9,-7.4 18.2,-8.4 20.5,-9.3 22.7,-9.8 25,-9.9 27.3,-9.5 29.5,-8.7 31.8,-7.6 34.1,-6.4 36.4,-5.2 38.6,-4.2 40.9,-3.4 43.2,-2.8 45.5,-2.5 47.7,-2.3 50,-2.2 52.3,-2.2 54.5,-2.1 56.8,-2.1 59.1,-1.9 61.4,-1.6 63.6,-1.5 65.9,-1.4 68.2,-1.6 70.5,-2.2 72.7,-3.1 75,-4 77.3,-4.6 79.5,-4.9 81.8,-4.8 84.1,-4.6 86.4,-4.2 88.6,-3.8 90.9,-3.7 93.2,-3.7 95.5,-3.9 97.7,-4 100,-3.9 L98.2,1.1 L-1.8,1.1Z"/><path transform="matrix(0.69,0.16,0,1,406.59,320.13)" d="M0,-4.3 2.3,-4.4 4.5,-4.5 6.8,-4.7 9.1,-5 11.4,-5.5 13.6,-6.1 15.9,-6.6 18.2,-7 20.5,-7.5 22.7,-7.9 25,-8.4 27.3,-8.6 29.5,-8.4 31.8,-7.9 34.1,-7 36.4,-5.9 38.6,-4.8 40.9,-3.9 43.2,-3.2 45.5,-2.9 47.7,-2.7 50,-2.7 52.3,-2.7 54.5,-2.7 56.8,-2.6 59.1,-2.3 61.4,-1.9 63.6,-1.6 65.9,-1.4 68.2,-1.7 70.5,-2.5 72.7,-3.7 75,-4.9 77.3,-6 79.5,-6.6 81.8,-6.9 84.1,-7 86.4,-6.7 88.6,-6.1 90.9,-5.6 93.2,-5.2 95.5,-4.9 97.7,-4.7 100,-4.5 L98.2,1.1 L-1.8,1.1Z"/><path transform="matrix(0.69,0.16,0,1,405.33,320.6)" d="M0,-4.3 2.3,-4.5 4.5,-4.6 6.8,-4.8 9.1,-5.2 11.4,-5.7 13.6,-6.3 15.9,-6.8 18.2,-7.3 20.5,-7.9 22.7,-8.6 25,-9.4 27.3,-9.8 29.5,-9.7 31.8,-9.2 34.1,-8.1 36.4,-6.7 38.6,-5.4 40.9,-4.3 43.2,-3.5 45.5,-3.1 47.7,-3 50,-2.9 52.3,-3 54.5,-3 56.8,-2.9 59.1,-2.6 61.4,-2.1 63.6,-1.7 65.9,-1.5 68.2,-1.9 70.5,-3 72.7,-4.5 75,-6.2 77.3,-7.9 79.5,-9.2 81.8,-10.2 84.1,-10.6 86.4,-10.3 88.6,-9.4 90.9,-8.3 93.2,-7.2 95.5,-6.2 97.7,-5.5 100,-5 L98.2,1.1 L-1.8,1.1Z"/><path transform="matrix(0.69,0.16,0,1,404.08,321.07)" d="M0,-4.2 2.3,-4.4 4.5,-4.5 6.8,-4.7 9.1,-5.1 11.4,-5.8 13.6,-6.8 15.9,-7.9 18.2,-9.2 20.5,-10.7 22.7,-12.2 25,-13.2 27.3,-13.5 29.5,-12.9 31.8,-11.5 34.1,-9.7 36.4,-7.7 38.6,-6 40.9,-4.6 43.2,-3.7 45.5,-3.2 47.7,-3 50,-2.9 52.3,-2.9 54.5,-2.8 56.8,-2.7 59.1,-2.4 61.4,-2 63.6,-1.7 65.9,-1.6 68.2,-2.2 70.5,-3.5 72.7,-5.5 75,-8 77.3,-10.8 79.5,-13.3 81.8,-15.3 84.1,-16.4 86.4,-16 88.6,-14.4 90.9,-12.1 93.2,-9.7 95.5,-7.7 97.7,-6.3 100,-5.2 L98.2,1.1 L-1.8,1.1Z"/><path transform="matrix(0.69,0.16,0,1,402.82,321.55)" d="M0,-4 2.3,-4.1 4.5,-4.2 6.8,-4.3 9.1,-4.8 11.4,-5.9 13.6,-7.7 15.9,-10.1 18.2,-13.1 20.5,-16.3 22.7,-19 25,-20.6 27.3,-20.4 29.5,-18.5 31.8,-15.5 34.1,-12.2 36.4,-9.2 38.6,-6.8 40.9,-5.2 43.2,-4.1 45.5,-3.5 47.7,-3.1 50,-2.7 52.3,-2.5 54.5,-2.4 56.8,-2.3 59.1,-2 61.4,-1.7 63.6,-1.5 65.9,-1.6 68.2,-2.4 70.5,-4.1 72.7,-6.9 75,-10.6 77.3,-14.9 79.5,-19.3 81.8,-23 84.1,-25 86.4,-24.4 88.6,-21.6 90.9,-17.5 93.2,-13.2 95.5,-9.6 97.7,-7 100,-5.3 L98.2,1.1 L-1.8,1.1Z"/><path transform="matrix(0.69,0.16,0,1,401.57,322.02)" d="M0,-3.8 2.3,-3.9 4.5,-3.9 6.8,-4 9.1,-4.6 11.4,-6.3 13.6,-9.2 15.9,-13.4 18.2,-18.8 20.5,-24.6 22.7,-29.5 25,-31.9 27.3,-31.1 29.5,-27.3 31.8,-21.8 34.1,-16.2 36.4,-11.5 38.6,-8.1 40.9,-5.9 43.2,-4.6 45.5,-3.8 47.7,-3.1 50,-2.5 52.3,-2.1 54.5,-1.8 56.8,-1.7 59.1,-1.6 61.4,-1.4 63.6,-1.4 65.9,-1.6 68.2,-2.6 70.5,-4.9 72.7,-8.5 75,-13.7 77.3,-20.1 79.5,-27.1 81.8,-33.2 84.1,-36.6 86.4,-35.8 88.6,-31.2 90.9,-24.5 93.2,-17.6 95.5,-11.9 97.7,-7.9 100,-5.3 L98.2,1.1 L-1.8,1.1Z"/><path transform="matrix(0.69,0.16,0,1,400.31,322.49)" d="M0,-3.6 2.3,-3.7 4.5,-3.6 6.8,-3.8 9.1,-4.7 11.4,-7 13.6,-11.2 15.9,-17.7 18.2,-26.1 20.5,-35.4 22.7,-43.2 25,-47 27.3,-45.4 29.5,-39.1 31.8,-30.2 34.1,-21.5 36.4,-14.6 38.6,-9.8 40.9,-6.9 43.2,-5.2 45.5,-4.1 47.7,-3.2 50,-2.4 52.3,-1.7 54.5,-1.4 56.8,-1.3 59.1,-1.2 61.4,-1.1 63.6,-1.2 65.9,-1.6 68.2,-2.9 70.5,-5.6 72.7,-10.2 75,-16.9 77.3,-25.7 79.5,-35.6 81.8,-44.7 84.1,-50.1 86.4,-49.1 88.6,-42.1 90.9,-32.3 93.2,-22.4 95.5,-14.4 97.7,-8.9 100,-5.4 L98.2,1.1 L-1.8,1.1Z"/><path transform="matrix(0.69,0.16,0,1,399.06,322.97)" d="M0,-3.6 2.3,-3.6 4.5,-3.6 6.8,-3.9 9.1,-5.1 11.4,-8.1 13.6,-13.7 15.9,-22.4 18.2,-33.9 20.5,-46.9 22.7,-58.3 25,-64.2 27.3,-62 29.5,-52.6 31.8,-39.9 34.1,-27.7 36.4,-18.2 38.6,-11.7 40.9,-7.9 43.2,-5.7 45.5,-4.3 47.7,-3.3 50,-2.3 52.3,-1.6 54.5,-1.2 56.8,-1.1 59.1,-1 61.4,-1 63.6,-1.2 65.9,-1.7 68.2,-3.1 70.5,-6.2 72.7,-11.5 75,-19.5 77.3,-30.1 79.5,-42.6 81.8,-54.7 84.1,-62.5 86.4,-61.2 88.6,-51.7 90.9,-38.8 93.2,-26.4 95.5,-16.6 97.7,-9.9 100,-5.8 L98.2,1.1 L-1.8,1.1Z"/><path transform="matrix(0.69,0.16,0,1,397.8,323.44)" d="M0,-3.6 2.3,-3.7 4.5,-3.7 6.8,-4.1 9.1,-5.6 11.4,-9.1 13.6,-15.8 15.9,-26.1 18.2,-40.2 20.5,-56.5 22.7,-71.5 25,-80 27.3,-77.1 29.5,-64.5 31.8,-48.3 34.1,-33 36.4,-21.3 38.6,-13.4 40.9,-8.7 43.2,-6 45.5,-4.5 47.7,-3.3 50,-2.5 52.3,-1.8 54.5,-1.4 56.8,-1.3 59.1,-1.2 61.4,-1.1 63.6,-1.2 65.9,-1.8 68.2,-3.2 70.5,-6.5 72.7,-12 75,-20.3 77.3,-31.7 79.5,-45.3 81.8,-59 84.1,-68.5 86.4,-67.2 88.6,-56 90.9,-41.7 93.2,-28.2 95.5,-17.7 97.7,-10.6 100,-6.3 L98.2,1.1 L-1.8,1.1Z"/><path transform="matrix(0.69,0.16,0,1,396.54,323.91)" d="M0,-3.8 2.3,-3.8 4.5,-3.8 6.8,-4.2 9.1,-5.8 11.4,-9.5 13.6,-16.6 15.9,-27.7 18.2,-42.9 20.5,-60.9 22.7,-78 25,-88.8 27.3,-85.2 29.5,-70.4 31.8,-52.3 34.1,-35.6 36.4,-22.8 38.6,-14.2 40.9,-9 43.2,-6.1 45.5,-4.5 47.7,-3.4 50,-2.6 52.3,-2.1 54.5,-1.8 56.8,-1.7 59.1,-1.5 61.4,-1.3 63.6,-1.3 65.9,-1.7 68.2,-3.1 70.5,-6.1 72.7,-11.2 75,-18.9 77.3,-29.6 79.5,-42.3 81.8,-54.8 84.1,-63.1 86.4,-62.1 88.6,-52.4 90.9,-39.4 93.2,-27 95.5,-17.4 97.7,-10.8 100,-6.7 L98.2,1.1 L-1.8,1.1Z"/><path transform="matrix(0.69,0.16,0,1,395.29,324.39)" d="M0,-3.9 2.3,-3.9 4.5,-3.8 6.8,-4.1 9.1,-5.6 11.4,-9.2 13.6,-16 15.9,-26.6 18.2,-41.1 20.5,-58.1 22.7,-74.1 25,-83.6 27.3,-80.7 29.5,-67.4 31.8,-50.3 34.1,-34.4 36.4,-22.1 38.6,-13.8 40.9,-8.8 43.2,-6 45.5,-4.4 47.7,-3.4 50,-2.8 52.3,-2.4 54.5,-2.2 56.8,-2.1 59.1,-1.8 61.4,-1.5 63.6,-1.3 65.9,-1.6 68.2,-2.8 70.5,-5.2 72.7,-9.4 75,-15.8 77.3,-24.5 79.5,-34.8 81.8,-44.6 84.1,-50.7 86.4,-50.1 88.6,-43.1 90.9,-33.1 93.2,-23.3 95.5,-15.5 97.7,-10.3 100,-6.9 L98.2,1.1 L-1.8,1.1Z"/><path transform="matrix(0.69,0.16,0,1,394.03,324.86)" d="M0,-4 2.3,-4 4.5,-3.8 6.8,-3.9 9.1,-5.1 11.4,-8.2 13.6,-14.1 15.9,-23.1 18.2,-35.3 20.5,-49.3 22.7,-62 25,-69 27.3,-66.9 29.5,-56.8 31.8,-43.2 34.1,-29.9 36.4,-19.5 38.6,-12.3 40.9,-8 43.2,-5.5 45.5,-4.1 47.7,-3.4 50,-2.9 52.3,-2.7 54.5,-2.6 56.8,-2.5 59.1,-2.1 61.4,-1.6 63.6,-1.3 65.9,-1.4 68.2,-2.3 70.5,-4.2 72.7,-7.3 75,-12 77.3,-18.4 79.5,-25.7 81.8,-32.5 84.1,-36.7 86.4,-36.4 88.6,-31.8 90.9,-25 93.2,-18.3 95.5,-12.9 97.7,-9.2 100,-6.7 L98.2,1.1 L-1.8,1.1Z"/><path transform="matrix(0.69,0.16,0,1,392.78,325.33)" d="M0,-4 2.3,-3.9 4.5,-3.6 6.8,-3.6 9.1,-4.3 11.4,-6.8 13.6,-11.4 15.9,-18.4 18.2,-27.6 20.5,-37.9 22.7,-46.9 25,-51.5 27.3,-50.1 29.5,-43.2 31.8,-33.4 34.1,-23.6 36.4,-15.7 38.6,-10.3 40.9,-6.9 43.2,-5 45.5,-3.9 47.7,-3.2 50,-2.9 52.3,-2.8 54.5,-2.7 56.8,-2.6 59.1,-2.2 61.4,-1.7 63.6,-1.2 65.9,-1.2 68.2,-1.9 70.5,-3.2 72.7,-5.3 75,-8.6 77.3,-12.7 79.5,-17.4 81.8,-21.7 84.1,-24.3 86.4,-24.2 88.6,-21.5 90.9,-17.3 93.2,-13.3 95.5,-10 97.7,-7.7 100,-6.2 L98.2,1.1 L-1.8,1.1Z"/><path transform="matrix(0.69,0.16,0,1,391.52,325.81)" d="M0,-3.8 2.3,-3.8 4.5,-3.5 6.8,-3.3 9.1,-3.8 11.4,-5.5 13.6,-8.8 15.9,-13.8 18.2,-20.1 20.5,-27 22.7,-32.8 25,-35.7 27.3,-34.7 29.5,-30.3 31.8,-23.9 34.1,-17.4 36.4,-12 38.6,-8.2 40.9,-5.9 43.2,-4.5 45.5,-3.6 47.7,-3.2 50,-3 52.3,-2.9 54.5,-2.8 56.8,-2.7 59.1,-2.3 61.4,-1.7 63.6,-1.2 65.9,-1 68.2,-1.5 70.5,-2.4 72.7,-3.9 75,-6 77.3,-8.5 79.5,-11.3 81.8,-13.8 84.1,-15.3 86.4,-15.4 88.6,-13.8 90.9,-11.5 93.2,-9.3 95.5,-7.5 97.7,-6.3 100,-5.3 L98.2,1.1 L-1.8,1.1Z"/><path transform="matrix(0.69,0.16,0,1,390.27,326.28)" d="M0,-3.5 2.3,-3.5 4.5,-3.3 6.8,-3.3 9.1,-3.6 11.4,-4.8 13.6,-6.9 15.9,-10.1 18.2,-14.1 20.5,-18.3 22.7,-21.7 25,-23.5 27.3,-22.9 29.5,-20.3 31.8,-16.5 34.1,-12.6 36.4,-9.2 38.6,-6.7 40.9,-5.1 43.2,-4.2 45.5,-3.5 47.7,-3.2 50,-3.1 52.3,-3.1 54.5,-3.1 56.8,-3 59.1,-2.4 61.4,-1.7 63.6,-1.1 65.9,-0.9 68.2,-1.2 70.5,-1.9 72.7,-2.9 75,-4.2 77.3,-5.7 79.5,-7.3 81.8,-8.7 84.1,-9.7 86.4,-9.9 88.6,-9.1 90.9,-7.9 93.2,-6.7 95.5,-5.8 97.7,-5.1 100,-4.5 L98.2,1.1 L-1.8,1.1Z"/><path transform="matrix(0.69,0.16,0,1,389.01,326.75)" d="M0,-3.1 2.3,-3.2 4.5,-3.2 6.8,-3.3 9.1,-3.7 11.4,-4.4 13.6,-5.7 15.9,-7.6 18.2,-9.9 20.5,-12.3 22.7,-14.2 25,-15.2 27.3,-14.9 29.5,-13.6 31.8,-11.5 34.1,-9.3 36.4,-7.3 38.6,-5.7 40.9,-4.6 43.2,-3.9 45.5,-3.5 47.7,-3.4 50,-3.3 52.3,-3.4 54.5,-3.4 56.8,-3.3 59.1,-2.7 61.4,-1.9 63.6,-1.1 65.9,-0.7 68.2,-0.9 70.5,-1.5 72.7,-2.3 75,-3.2 77.3,-4.1 79.5,-5 81.8,-5.9 84.1,-6.6 86.4,-6.9 88.6,-6.7 90.9,-6 93.2,-5.3 95.5,-4.7 97.7,-4.2 100,-3.8 L98.2,1.1 L-1.8,1.1Z"/><path transform="matrix(0.69,0.16,0,1,387.76,327.23)" d="M0,-2.8 2.3,-2.9 4.5,-3.1 6.8,-3.4 9.1,-3.7 11.4,-4.2 13.6,-5 15.9,-6 18.2,-7.3 20.5,-8.5 22.7,-9.5 25,-10 27.3,-10 29.5,-9.5 31.8,-8.5 34.1,-7.3 36.4,-6.1 38.6,-5.1 40.9,-4.3 43.2,-3.8 45.5,-3.5 47.7,-3.4 50,-3.5 52.3,-3.6 54.5,-3.7 56.8,-3.5 59.1,-2.9 61.4,-1.9 63.6,-1.1 65.9,-0.6 68.2,-0.8 70.5,-1.3 72.7,-2 75,-2.7 77.3,-3.3 79.5,-3.7 81.8,-4.4 84.1,-5.1 86.4,-5.5 88.6,-5.5 90.9,-5.1 93.2,-4.6 95.5,-4 97.7,-3.6 100,-3.2 L98.2,1.1 L-1.8,1.1Z"/><path transform="matrix(0.69,0.16,0,1,386.5,327.7)" d="M0,-2.6 2.3,-2.8 4.5,-3 6.8,-3.3 9.1,-3.6 11.4,-4 13.6,-4.4 15.9,-5 18.2,-5.6 20.5,-6.2 22.7,-6.7 25,-7 27.3,-7.1 29.5,-7 31.8,-6.6 34.1,-6 36.4,-5.3 38.6,-4.6 40.9,-4 43.2,-3.6 45.5,-3.4 47.7,-3.4 50,-3.5 52.3,-3.6 54.5,-3.7 56.8,-3.6 59.1,-2.9 61.4,-2 63.6,-1 65.9,-0.5 68.2,-0.7 70.5,-1.1 72.7,-1.7 75,-2.3 77.3,-2.7 79.5,-3.1 81.8,-3.6 84.1,-4.2 86.4,-4.7 88.6,-4.8 90.9,-4.6 93.2,-4.2 95.5,-3.6 97.7,-3.2 100,-3 L100,0 L0,0Z"/></g>
<line x1="533.4" y1="238.1" x2="533.4" y2="327.7" stroke="#a8a8a8" stroke-width="0.8"/><line x1="531.4" y1="327.7" x2="533.4" y2="327.7" stroke="#a8a8a8" stroke-width="0.7"/><line x1="531.4" y1="312.8" x2="533.4" y2="312.8" stroke="#a8a8a8" stroke-width="0.7"/><line x1="531.4" y1="297.8" x2="533.4" y2="297.8" stroke="#a8a8a8" stroke-width="0.7"/><line x1="531.4" y1="282.9" x2="533.4" y2="282.9" stroke="#a8a8a8" stroke-width="0.7"/><line x1="531.4" y1="267.9" x2="533.4" y2="267.9" stroke="#a8a8a8" stroke-width="0.7"/><line x1="531.4" y1="253" x2="533.4" y2="253" stroke="#a8a8a8" stroke-width="0.7"/><line x1="531.4" y1="238.1" x2="533.4" y2="238.1" stroke="#a8a8a8" stroke-width="0.7"/><text x="530.2" y="331.4" font-size="10.4" fill="#2a2222" text-anchor="end">0</text><text x="530.2" y="301.5" font-size="10.4" fill="#2a2222" text-anchor="end">40</text><text x="530.2" y="271.6" font-size="10.4" fill="#2a2222" text-anchor="end">80</text><text x="530.2" y="241.8" font-size="10.4" fill="#2a2222" text-anchor="end">120</text><text x="517.5" y="225.6" font-size="10.4" fill="#2a2222"><tspan font-size="10.4">(pps px</tspan><tspan font-size="6.5" dy="-3.8">-1</tspan><tspan font-size="10.4" dy="3.8">)</tspan></text><rect x="543.5" y="237" width="9.9" height="9.5" fill="#5c9e3e"/>
<defs><linearGradient id="g2" gradientUnits="userSpaceOnUse" x1="0" y1="0" x2="0" y2="-64.99"><stop offset="0" stop-color="#000010"/><stop offset="0.1" stop-color="#1a2858"/><stop offset="0.2" stop-color="#2c56ac"/><stop offset="0.27" stop-color="#3a5cb4"/><stop offset="0.31" stop-color="#462270"/><stop offset="0.36" stop-color="#801830"/><stop offset="0.44" stop-color="#e02030"/><stop offset="0.55" stop-color="#ee6e40"/><stop offset="0.64" stop-color="#f0a030"/><stop offset="0.69" stop-color="#8c9020"/><stop offset="0.8" stop-color="#d0dc60"/><stop offset="0.92" stop-color="#eef0c0"/><stop offset="1" stop-color="#ffffff"/></linearGradient></defs><g fill="url(#g2)"><path transform="matrix(0.69,0.16,0,1,590.8,306.2)" d="M0,-0.2 2.3,-0.2 4.5,-0.2 6.8,-0.2 9.1,-0.2 11.4,-0.2 13.6,-0.2 15.9,-0.2 18.2,-0.3 20.5,-0.3 22.7,-0.3 25,-0.4 27.3,-0.7 29.5,-1.1 31.8,-1.3 34.1,-1.4 36.4,-1.3 38.6,-1.2 40.9,-1.1 43.2,-1 45.5,-1 47.7,-1.2 50,-1.6 52.3,-2 54.5,-2.2 56.8,-2.3 59.1,-2.2 61.4,-2 63.6,-1.9 65.9,-2 68.2,-2.3 70.5,-2.9 72.7,-3.6 75,-4.3 77.3,-4.9 79.5,-5.2 81.8,-5.3 84.1,-5.1 86.4,-4.7 88.6,-4.2 90.9,-3.5 93.2,-2.5 95.5,-1.6 97.7,-0.8 100,-0.4 L98.2,1.1 L-1.8,1.1Z"/><path transform="matrix(0.69,0.16,0,1,589.54,306.67)" d="M0,-0.4 2.3,-0.4 4.5,-0.4 6.8,-0.3 9.1,-0.3 11.4,-0.3 13.6,-0.3 15.9,-0.3 18.2,-0.3 20.5,-0.3 22.7,-0.3 25,-0.5 27.3,-0.7 29.5,-1.1 31.8,-1.3 34.1,-1.3 36.4,-1.3 38.6,-1.1 40.9,-1 43.2,-0.9 45.5,-1 47.7,-1.2 50,-1.5 52.3,-1.9 54.5,-2.1 56.8,-2.2 59.1,-2.1 61.4,-2.1 63.6,-2.1 65.9,-2.3 68.2,-2.8 70.5,-3.8 72.7,-5 75,-6.4 77.3,-7.5 79.5,-8.1 81.8,-8 84.1,-7.3 86.4,-6.3 88.6,-5.2 90.9,-4.1 93.2,-2.9 95.5,-1.8 97.7,-1 100,-0.6 L98.2,1.1 L-1.8,1.1Z"/><path transform="matrix(0.69,0.16,0,1,588.29,307.15)" d="M0,-0.9 2.3,-0.8 4.5,-0.7 6.8,-0.6 9.1,-0.5 11.4,-0.5 13.6,-0.4 15.9,-0.4 18.2,-0.4 20.5,-0.3 22.7,-0.3 25,-0.5 27.3,-0.7 29.5,-1 31.8,-1.2 34.1,-1.3 36.4,-1.2 38.6,-1.1 40.9,-0.9 43.2,-0.9 45.5,-0.9 47.7,-1.1 50,-1.4 52.3,-1.7 54.5,-1.9 56.8,-2 59.1,-2 61.4,-2 63.6,-2.2 65.9,-2.7 68.2,-3.6 70.5,-5.2 72.7,-7.3 75,-9.7 77.3,-11.8 79.5,-12.9 81.8,-12.6 84.1,-11.1 86.4,-8.9 88.6,-6.8 90.9,-4.9 93.2,-3.3 95.5,-2.1 97.7,-1.2 100,-0.8 L98.2,1.1 L-1.8,1.1Z"/><path transform="matrix(0.69,0.16,0,1,587.03,307.62)" d="M0,-1.4 2.3,-1.3 4.5,-1.1 6.8,-0.9 9.1,-0.7 11.4,-0.7 13.6,-0.6 15.9,-0.5 18.2,-0.5 20.5,-0.4 22.7,-0.4 25,-0.5 27.3,-0.7 29.5,-1 31.8,-1.2 34.1,-1.2 36.4,-1.1 38.6,-1 40.9,-0.9 43.2,-0.8 45.5,-0.8 47.7,-0.9 50,-1.2 52.3,-1.4 54.5,-1.6 56.8,-1.7 59.1,-1.8 61.4,-2 63.6,-2.3 65.9,-3.1 68.2,-4.6 70.5,-7.1 72.7,-10.6 75,-14.6 77.3,-18.3 79.5,-20.1 81.8,-19.4 84.1,-16.6 86.4,-12.7 88.6,-9 90.9,-6 93.2,-3.9 95.5,-2.4 97.7,-1.5 100,-1 L98.2,1.1 L-1.8,1.1Z"/><path transform="matrix(0.69,0.16,0,1,585.78,308.09)" d="M0,-1.8 2.3,-1.7 4.5,-1.5 6.8,-1.2 9.1,-0.9 11.4,-0.8 13.6,-0.8 15.9,-0.7 18.2,-0.5 20.5,-0.5 22.7,-0.4 25,-0.5 27.3,-0.7 29.5,-1 31.8,-1.1 34.1,-1.2 36.4,-1.1 38.6,-0.9 40.9,-0.8 43.2,-0.7 45.5,-0.7 47.7,-0.8 50,-1 52.3,-1.2 54.5,-1.4 56.8,-1.5 59.1,-1.7 61.4,-1.9 63.6,-2.5 65.9,-3.7 68.2,-5.8 70.5,-9.3 72.7,-14.4 75,-20.7 77.3,-26.5 79.5,-29.5 81.8,-28.3 84.1,-23.5 86.4,-17.3 88.6,-11.6 90.9,-7.4 93.2,-4.5 95.5,-2.7 97.7,-1.7 100,-1.3 L98.2,1.1 L-1.8,1.1Z"/><path transform="matrix(0.69,0.16,0,1,584.52,308.57)" d="M0,-2 2.3,-1.9 4.5,-1.6 6.8,-1.3 9.1,-1 11.4,-0.9 13.6,-0.8 15.9,-0.7 18.2,-0.6 20.5,-0.5 22.7,-0.4 25,-0.6 27.3,-0.7 29.5,-1 31.8,-1.1 34.1,-1.1 36.4,-1 38.6,-0.9 40.9,-0.8 43.2,-0.7 45.5,-0.7 47.7,-0.8 50,-1 52.3,-1.1 54.5,-1.3 56.8,-1.4 59.1,-1.6 61.4,-2 63.6,-2.7 65.9,-4.1 68.2,-6.8 70.5,-11.3 72.7,-18 75,-26.5 77.3,-34.6 79.5,-39.2 81.8,-37.2 84.1,-30.2 86.4,-21.6 88.6,-14.1 90.9,-8.6 93.2,-5.1 95.5,-3 97.7,-1.9 100,-1.4 L98.2,1.1 L-1.8,1.1Z"/><path transform="matrix(0.69,0.16,0,1,583.27,309.04)" d="M0,-2 2.3,-1.9 4.5,-1.6 6.8,-1.2 9.1,-1 11.4,-0.8 13.6,-0.8 15.9,-0.7 18.2,-0.6 20.5,-0.5 22.7,-0.5 25,-0.6 27.3,-0.7 29.5,-0.9 31.8,-1 34.1,-1.1 36.4,-1 38.6,-0.9 40.9,-0.8 43.2,-0.8 45.5,-0.8 47.7,-0.9 50,-1.1 52.3,-1.3 54.5,-1.5 56.8,-1.6 59.1,-1.7 61.4,-2.1 63.6,-2.8 65.9,-4.3 68.2,-7.3 70.5,-12.4 72.7,-20.1 75,-29.8 77.3,-39.7 79.5,-45.8 81.8,-42.9 84.1,-34.1 86.4,-24.1 88.6,-15.5 90.9,-9.3 93.2,-5.4 95.5,-3.1 97.7,-1.9 100,-1.3 L98.2,1.1 L-1.8,1.1Z"/><path transform="matrix(0.69,0.16,0,1,582.01,309.51)" d="M0,-2.1 2.3,-2 4.5,-1.6 6.8,-1.2 9.1,-0.9 11.4,-0.7 13.6,-0.7 15.9,-0.7 18.2,-0.7 20.5,-0.7 22.7,-0.7 25,-0.7 27.3,-0.8 29.5,-0.8 31.8,-0.9 34.1,-0.9 36.4,-0.9 38.6,-1 40.9,-1 43.2,-1 45.5,-1.1 47.7,-1.2 50,-1.4 52.3,-1.6 54.5,-1.8 56.8,-1.9 59.1,-2 61.4,-2.1 63.6,-2.7 65.9,-4.1 68.2,-7 70.5,-12 72.7,-19.6 75,-29.1 77.3,-38.6 79.5,-44.1 81.8,-41.5 84.1,-33.1 86.4,-23.3 88.6,-14.9 90.9,-8.9 93.2,-5.1 95.5,-2.9 97.7,-1.7 100,-1.1 L98.2,1.1 L-1.8,1.1Z"/><path transform="matrix(0.69,0.16,0,1,580.76,309.99)" d="M0,-2.2 2.3,-2 4.5,-1.6 6.8,-1.1 9.1,-0.8 11.4,-0.6 13.6,-0.6 15.9,-0.7 18.2,-0.8 20.5,-0.8 22.7,-0.8 25,-0.8 27.3,-0.8 29.5,-0.7 31.8,-0.7 34.1,-0.7 36.4,-0.8 38.6,-1 40.9,-1.2 43.2,-1.4 45.5,-1.4 47.7,-1.6 50,-1.8 52.3,-2.1 54.5,-2.3 56.8,-2.3 59.1,-2.2 61.4,-2.2 63.6,-2.5 65.9,-3.6 68.2,-6.1 70.5,-10.4 72.7,-16.9 75,-24.7 77.3,-32.1 79.5,-35.9 81.8,-34.1 84.1,-27.6 86.4,-19.7 88.6,-12.7 90.9,-7.7 93.2,-4.4 95.5,-2.5 97.7,-1.4 100,-0.9 L98.2,1.1 L-1.8,1.1Z"/><path transform="matrix(0.69,0.16,0,1,579.5,310.46)" d="M0,-2.3 2.3,-2.1 4.5,-1.6 6.8,-1.1 9.1,-0.7 11.4,-0.5 13.6,-0.6 15.9,-0.7 18.2,-0.8 20.5,-0.9 22.7,-1 25,-0.9 27.3,-0.8 29.5,-0.6 31.8,-0.5 34.1,-0.5 36.4,-0.7 38.6,-1 40.9,-1.4 43.2,-1.6 45.5,-1.7 47.7,-1.9 50,-2.1 52.3,-2.4 54.5,-2.6 56.8,-2.7 59.1,-2.4 61.4,-2.2 63.6,-2.2 65.9,-2.9 68.2,-4.8 70.5,-8.2 72.7,-13 75,-18.7 77.3,-23.7 79.5,-26.1 81.8,-24.8 84.1,-20.3 86.4,-14.7 88.6,-9.7 90.9,-6 93.2,-3.5 95.5,-1.9 97.7,-1.1 100,-0.6 L98.2,1.1 L-1.8,1.1Z"/><path transform="matrix(0.69,0.16,0,1,578.24,310.93)" d="M0,-2.3 2.3,-2.1 4.5,-1.6 6.8,-1.1 9.1,-0.6 11.4,-0.5 13.6,-0.5 15.9,-0.7 18.2,-0.9 20.5,-1 22.7,-1 25,-0.9 27.3,-0.8 29.5,-0.6 31.8,-0.5 34.1,-0.5 36.4,-0.7 38.6,-1.1 40.9,-1.5 43.2,-1.7 45.5,-1.8 47.7,-2 50,-2.3 52.3,-2.6 54.5,-2.8 56.8,-2.8 59.1,-2.5 61.4,-2.1 63.6,-1.9 65.9,-2.3 68.2,-3.6 70.5,-5.9 72.7,-9.2 75,-12.9 77.3,-16 79.5,-17.4 81.8,-16.4 84.1,-13.6 86.4,-10 88.6,-6.8 90.9,-4.4 93.2,-2.6 95.5,-1.5 97.7,-0.8 100,-0.5 L98.2,1.1 L-1.8,1.1Z"/><path transform="matrix(0.69,0.16,0,1,576.99,311.41)" d="M0,-2.2 2.3,-2.1 4.5,-1.6 6.8,-1.1 9.1,-0.7 11.4,-0.6 13.6,-0.7 15.9,-0.8 18.2,-0.9 20.5,-1 22.7,-1 25,-0.9 27.3,-0.8 29.5,-0.6 31.8,-0.5 34.1,-0.5 36.4,-0.7 38.6,-1 40.9,-1.3 43.2,-1.6 45.5,-1.6 47.7,-1.8 50,-2.1 52.3,-2.4 54.5,-2.6 56.8,-2.6 59.1,-2.4 61.4,-2 63.6,-1.7 65.9,-1.9 68.2,-2.7 70.5,-4.1 72.7,-6.2 75,-8.4 77.3,-10.1 79.5,-10.8 81.8,-10.2 84.1,-8.6 86.4,-6.5 88.6,-4.6 90.9,-3.2 93.2,-2.1 95.5,-1.4 97.7,-0.9 100,-0.6 L98.2,1.1 L-1.8,1.1Z"/><path transform="matrix(0.69,0.16,0,1,575.73,311.88)" d="M0,-2 2.3,-1.9 4.5,-1.6 6.8,-1.3 9.1,-1 11.4,-0.9 13.6,-0.9 15.9,-0.9 18.2,-0.9 20.5,-0.9 22.7,-0.9 25,-0.8 27.3,-0.7 29.5,-0.6 31.8,-0.5 34.1,-0.5 36.4,-0.6 38.6,-0.8 40.9,-1 43.2,-1.2 45.5,-1.2 47.7,-1.4 50,-1.7 52.3,-2 54.5,-2.2 56.8,-2.3 59.1,-2.1 61.4,-1.8 63.6,-1.5 65.9,-1.6 68.2,-2 70.5,-2.9 72.7,-4.1 75,-5.3 77.3,-6.2 79.5,-6.5 81.8,-6.2 84.1,-5.3 86.4,-4.1 88.6,-3.1 90.9,-2.4 93.2,-1.8 95.5,-1.5 97.7,-1.2 100,-1.1 L98.2,1.1 L-1.8,1.1Z"/><path transform="matrix(0.69,0.16,0,1,574.48,312.35)" d="M0,-1.7 2.3,-1.6 4.5,-1.6 6.8,-1.5 9.1,-1.4 11.4,-1.3 13.6,-1.3 15.9,-1.1 18.2,-0.9 20.5,-0.8 22.7,-0.7 25,-0.7 27.3,-0.7 29.5,-0.6 31.8,-0.6 34.1,-0.6 36.4,-0.6 38.6,-0.6 40.9,-0.7 43.2,-0.7 45.5,-0.8 47.7,-1 50,-1.2 52.3,-1.5 54.5,-1.8 56.8,-1.8 59.1,-1.7 61.4,-1.6 63.6,-1.4 65.9,-1.4 68.2,-1.7 70.5,-2.2 72.7,-2.8 75,-3.4 77.3,-3.9 79.5,-4 81.8,-3.8 84.1,-3.3 86.4,-2.8 88.6,-2.2 90.9,-1.9 93.2,-1.8 95.5,-1.7 97.7,-1.7 100,-1.7 L98.2,1.1 L-1.8,1.1Z"/><path transform="matrix(0.69,0.16,0,1,573.22,312.83)" d="M0,-1.4 2.3,-1.5 4.5,-1.5 6.8,-1.6 9.1,-1.7 11.4,-1.7 13.6,-1.6 15.9,-1.3 18.2,-0.9 20.5,-0.7 22.7,-0.6 25,-0.6 27.3,-0.6 29.5,-0.6 31.8,-0.6 34.1,-0.6 36.4,-0.6 38.6,-0.5 40.9,-0.4 43.2,-0.3 45.5,-0.4 47.7,-0.6 50,-0.9 52.3,-1.2 54.5,-1.4 56.8,-1.5 59.1,-1.5 61.4,-1.4 63.6,-1.4 65.9,-1.4 68.2,-1.5 70.5,-1.8 72.7,-2.1 75,-2.4 77.3,-2.6 79.5,-2.6 81.8,-2.5 84.1,-2.3 86.4,-2 88.6,-1.8 90.9,-1.7 93.2,-1.8 95.5,-2 97.7,-2.1 100,-2.2 L98.2,1.1 L-1.8,1.1Z"/><path transform="matrix(0.69,0.16,0,1,571.97,313.3)" d="M0,-1.3 2.3,-1.4 4.5,-1.5 6.8,-1.7 9.1,-1.8 11.4,-1.8 13.6,-1.7 15.9,-1.3 18.2,-1 20.5,-0.7 22.7,-0.6 25,-0.6 27.3,-0.6 29.5,-0.6 31.8,-0.7 34.1,-0.7 36.4,-0.6 38.6,-0.4 40.9,-0.3 43.2,-0.2 45.5,-0.2 47.7,-0.5 50,-0.8 52.3,-1.1 54.5,-1.4 56.8,-1.5 59.1,-1.5 61.4,-1.5 63.6,-1.5 65.9,-1.5 68.2,-1.5 70.5,-1.7 72.7,-1.8 75,-2 77.3,-2 79.5,-2 81.8,-1.9 84.1,-1.8 86.4,-1.7 88.6,-1.5 90.9,-1.5 93.2,-1.7 95.5,-2 97.7,-2.3 100,-2.3 L98.2,1.1 L-1.8,1.1Z"/><path transform="matrix(0.69,0.16,0,1,570.71,313.77)" d="M0,-1.4 2.3,-1.4 4.5,-1.6 6.8,-1.7 9.1,-1.9 11.4,-1.9 13.6,-1.7 15.9,-1.4 18.2,-1.1 20.5,-0.8 22.7,-0.7 25,-0.7 27.3,-0.7 29.5,-0.7 31.8,-0.7 34.1,-0.7 36.4,-0.7 38.6,-0.5 40.9,-0.4 43.2,-0.3 45.5,-0.3 47.7,-0.6 50,-0.9 52.3,-1.2 54.5,-1.5 56.8,-1.7 59.1,-1.8 61.4,-1.9 63.6,-1.9 65.9,-1.8 68.2,-1.8 70.5,-1.8 72.7,-1.8 75,-1.9 77.3,-1.9 79.5,-1.8 81.8,-1.7 84.1,-1.5 86.4,-1.4 88.6,-1.3 90.9,-1.3 93.2,-1.6 95.5,-1.9 97.7,-2.2 100,-2.3 L98.2,1.1 L-1.8,1.1Z"/><path transform="matrix(0.69,0.16,0,1,569.46,314.25)" d="M0,-1.5 2.3,-1.6 4.5,-1.7 6.8,-1.9 9.1,-2 11.4,-2.1 13.6,-1.9 15.9,-1.7 18.2,-1.4 20.5,-1.2 22.7,-1.2 25,-1.1 27.3,-1 29.5,-1 31.8,-0.9 34.1,-0.9 36.4,-0.8 38.6,-0.7 40.9,-0.5 43.2,-0.5 45.5,-0.5 47.7,-0.8 50,-1.1 52.3,-1.4 54.5,-1.8 56.8,-2.2 59.1,-2.5 61.4,-2.7 63.6,-2.7 65.9,-2.6 68.2,-2.3 70.5,-2.2 72.7,-2 75,-1.9 77.3,-1.9 79.5,-1.7 81.8,-1.6 84.1,-1.3 86.4,-1.1 88.6,-1 90.9,-1.1 93.2,-1.4 95.5,-1.8 97.7,-2.2 100,-2.3 L98.2,1.1 L-1.8,1.1Z"/><path transform="matrix(0.69,0.16,0,1,568.2,314.72)" d="M0,-1.7 2.3,-1.7 4.5,-1.9 6.8,-2.1 9.1,-2.2 11.4,-2.3 13.6,-2.2 15.9,-2 18.2,-1.8 20.5,-1.7 22.7,-1.6 25,-1.6 27.3,-1.4 29.5,-1.3 31.8,-1.2 34.1,-1.1 36.4,-1 38.6,-0.9 40.9,-0.7 43.2,-0.7 45.5,-0.8 47.7,-1 50,-1.4 52.3,-1.9 54.5,-2.5 56.8,-3.3 59.1,-4.1 61.4,-4.6 63.6,-4.6 65.9,-4.2 68.2,-3.5 70.5,-2.9 72.7,-2.4 75,-2.2 77.3,-2 79.5,-1.8 81.8,-1.5 84.1,-1.2 86.4,-0.9 88.6,-0.7 90.9,-0.8 93.2,-1.2 95.5,-1.8 97.7,-2.2 100,-2.4 L98.2,1.1 L-1.8,1.1Z"/><path transform="matrix(0.69,0.16,0,1,566.94,315.19)" d="M0,-1.8 2.3,-1.9 4.5,-2 6.8,-2.2 9.1,-2.4 11.4,-2.4 13.6,-2.4 15.9,-2.3 18.2,-2.2 20.5,-2.1 22.7,-2 25,-1.9 27.3,-1.7 29.5,-1.5 31.8,-1.3 34.1,-1.3 36.4,-1.2 38.6,-1.1 40.9,-0.9 43.2,-0.9 45.5,-1 47.7,-1.3 50,-1.8 52.3,-2.7 54.5,-4.1 56.8,-5.7 59.1,-7.4 61.4,-8.4 63.6,-8.3 65.9,-7.2 68.2,-5.5 70.5,-4.1 72.7,-3.1 75,-2.5 77.3,-2.2 79.5,-1.9 81.8,-1.5 84.1,-1.1 86.4,-0.7 88.6,-0.5 90.9,-0.6 93.2,-1.1 95.5,-1.7 97.7,-2.2 100,-2.4 L98.2,1.1 L-1.8,1.1Z"/><path transform="matrix(0.69,0.16,0,1,565.69,315.67)" d="M0,-1.8 2.3,-1.9 4.5,-2.1 6.8,-2.3 9.1,-2.4 11.4,-2.5 13.6,-2.5 15.9,-2.4 18.2,-2.3 20.5,-2.2 22.7,-2.2 25,-2.1 27.3,-1.9 29.5,-1.6 31.8,-1.4 34.1,-1.4 36.4,-1.3 38.6,-1.2 40.9,-1 43.2,-1 45.5,-1.3 47.7,-1.7 50,-2.6 52.3,-4.2 54.5,-6.8 56.8,-10.2 59.1,-13.6 61.4,-15.5 63.6,-15 65.9,-12.3 68.2,-8.9 70.5,-6 72.7,-4.1 75,-3 77.3,-2.4 79.5,-2 81.8,-1.5 84.1,-1 86.4,-0.6 88.6,-0.4 90.9,-0.5 93.2,-1 95.5,-1.7 97.7,-2.2 100,-2.4 L98.2,1.1 L-1.8,1.1Z"/><path transform="matrix(0.69,0.16,0,1,564.43,316.14)" d="M0,-1.8 2.3,-1.9 4.5,-2 6.8,-2.2 9.1,-2.4 11.4,-2.4 13.6,-2.4 15.9,-2.4 18.2,-2.3 20.5,-2.3 22.7,-2.2 25,-2.1 27.3,-1.9 29.5,-1.6 31.8,-1.4 34.1,-1.4 36.4,-1.3 38.6,-1.2 40.9,-1.1 43.2,-1.2 45.5,-1.5 47.7,-2.2 50,-3.7 52.3,-6.4 54.5,-11 56.8,-17.2 59.1,-23.4 61.4,-26.7 63.6,-25.2 65.9,-20 68.2,-13.7 70.5,-8.6 72.7,-5.3 75,-3.6 77.3,-2.7 79.5,-2.2 81.8,-1.6 84.1,-1.1 86.4,-0.7 88.6,-0.4 90.9,-0.5 93.2,-1 95.5,-1.6 97.7,-2.1 100,-2.3 L98.2,1.1 L-1.8,1.1Z"/><path transform="matrix(0.69,0.16,0,1,563.18,316.61)" d="M0,-1.7 2.3,-1.8 4.5,-1.9 6.8,-2.1 9.1,-2.2 11.4,-2.3 13.6,-2.3 15.9,-2.3 18.2,-2.3 20.5,-2.3 22.7,-2.3 25,-2.1 27.3,-1.8 29.5,-1.5 31.8,-1.3 34.1,-1.3 36.4,-1.3 38.6,-1.2 40.9,-1.2 43.2,-1.4 45.5,-1.8 47.7,-2.8 50,-4.9 52.3,-9.1 54.5,-16 56.8,-25.6 59.1,-35.4 61.4,-40.8 63.6,-38 65.9,-29.1 68.2,-19.2 70.5,-11.5 72.7,-6.8 75,-4.3 77.3,-3.2 79.5,-2.5 81.8,-1.8 84.1,-1.2 86.4,-0.7 88.6,-0.4 90.9,-0.5 93.2,-1 95.5,-1.5 97.7,-2 100,-2.2 L98.2,1.1 L-1.8,1.1Z"/><path transform="matrix(0.69,0.16,0,1,561.92,317.09)" d="M0,-1.6 2.3,-1.7 4.5,-1.8 6.8,-2 9.1,-2.1 11.4,-2.1 13.6,-2.2 15.9,-2.2 18.2,-2.3 20.5,-2.3 22.7,-2.3 25,-2.1 27.3,-1.8 29.5,-1.4 31.8,-1.2 34.1,-1.2 36.4,-1.2 38.6,-1.3 40.9,-1.4 43.2,-1.6 45.5,-2.1 47.7,-3.4 50,-6 52.3,-11.2 54.5,-20 56.8,-32.5 59.1,-45.8 61.4,-53.8 63.6,-49.3 65.9,-36.9 68.2,-23.8 70.5,-14 72.7,-8.1 75,-5.1 77.3,-3.6 79.5,-2.8 81.8,-2 84.1,-1.4 86.4,-0.8 88.6,-0.5 90.9,-0.5 93.2,-0.9 95.5,-1.4 97.7,-1.9 100,-2 L98.2,1.1 L-1.8,1.1Z"/><path transform="matrix(0.69,0.16,0,1,560.67,317.56)" d="M0,-1.6 2.3,-1.6 4.5,-1.7 6.8,-1.8 9.1,-2 11.4,-2 13.6,-2 15.9,-2.1 18.2,-2.3 20.5,-2.4 22.7,-2.4 25,-2.2 27.3,-1.8 29.5,-1.4 31.8,-1.1 34.1,-1.1 36.4,-1.2 38.6,-1.3 40.9,-1.5 43.2,-1.7 45.5,-2.3 47.7,-3.7 50,-6.6 52.3,-12.1 54.5,-21.4 56.8,-34.6 59.1,-49 61.4,-58 63.6,-53.4 65.9,-40.3 68.2,-26.5 70.5,-15.9 72.7,-9.3 75,-5.8 77.3,-4.1 79.5,-3.1 81.8,-2.2 84.1,-1.5 86.4,-0.8 88.6,-0.5 90.9,-0.6 93.2,-0.9 95.5,-1.3 97.7,-1.7 100,-1.9 L98.2,1.1 L-1.8,1.1Z"/><path transform="matrix(0.69,0.16,0,1,559.41,318.03)" d="M0,-1.5 2.3,-1.6 4.5,-1.7 6.8,-1.8 9.1,-1.9 11.4,-2 13.6,-2 15.9,-2.1 18.2,-2.3 20.5,-2.4 22.7,-2.4 25,-2.2 27.3,-1.8 29.5,-1.4 31.8,-1.1 34.1,-1.1 36.4,-1.2 38.6,-1.3 40.9,-1.5 43.2,-1.8 45.5,-2.4 47.7,-3.7 50,-6.4 52.3,-11.5 54.5,-19.9 56.8,-31.7 59.1,-44.3 61.4,-52.1 63.6,-50.1 65.9,-40.1 68.2,-27.8 70.5,-17.5 72.7,-10.5 75,-6.6 77.3,-4.6 79.5,-3.3 81.8,-2.4 84.1,-1.6 86.4,-0.9 88.6,-0.5 90.9,-0.6 93.2,-0.9 95.5,-1.3 97.7,-1.7 100,-1.8 L98.2,1.1 L-1.8,1.1Z"/><path transform="matrix(0.69,0.16,0,1,558.16,318.51)" d="M0,-1.5 2.3,-1.5 4.5,-1.7 6.8,-1.8 9.1,-1.9 11.4,-1.9 13.6,-2 15.9,-2.2 18.2,-2.3 20.5,-2.5 22.7,-2.5 25,-2.3 27.3,-1.9 29.5,-1.5 31.8,-1.3 34.1,-1.3 36.4,-1.3 38.6,-1.4 40.9,-1.6 43.2,-1.8 45.5,-2.3 47.7,-3.4 50,-5.7 52.3,-9.8 54.5,-16.8 56.8,-26.6 59.1,-37.5 61.4,-45.6 63.6,-46.8 65.9,-40.8 68.2,-30.6 70.5,-20.2 72.7,-12.4 75,-7.6 77.3,-5 79.5,-3.5 81.8,-2.4 84.1,-1.6 86.4,-0.9 88.6,-0.6 90.9,-0.6 93.2,-0.9 95.5,-1.4 97.7,-1.7 100,-1.9 L98.2,1.1 L-1.8,1.1Z"/><path transform="matrix(0.69,0.16,0,1,556.9,318.98)" d="M0,-1.5 2.3,-1.5 4.5,-1.6 6.8,-1.7 9.1,-1.9 11.4,-1.9 13.6,-2 15.9,-2.2 18.2,-2.4 20.5,-2.5 22.7,-2.6 25,-2.5 27.3,-2.1 29.5,-1.8 31.8,-1.6 34.1,-1.6 36.4,-1.6 38.6,-1.6 40.9,-1.6 43.2,-1.8 45.5,-2.1 47.7,-3 50,-4.7 52.3,-8 54.5,-13.7 56.8,-22.3 59.1,-33.1 61.4,-43.3 63.6,-48.6 65.9,-45.9 68.2,-36.3 70.5,-24.6 72.7,-15 75,-8.8 77.3,-5.4 79.5,-3.5 81.8,-2.4 84.1,-1.6 86.4,-1 88.6,-0.6 90.9,-0.7 93.2,-1 95.5,-1.5 97.7,-1.9 100,-2.1 L98.2,1.1 L-1.8,1.1Z"/><path transform="matrix(0.69,0.16,0,1,555.64,319.45)" d="M0,-1.4 2.3,-1.4 4.5,-1.6 6.8,-1.7 9.1,-1.8 11.4,-1.9 13.6,-2 15.9,-2.2 18.2,-2.4 20.5,-2.6 22.7,-2.7 25,-2.6 27.3,-2.4 29.5,-2.2 31.8,-2 34.1,-2 36.4,-1.9 38.6,-1.8 40.9,-1.7 43.2,-1.7 45.5,-1.9 47.7,-2.5 50,-3.8 52.3,-6.4 54.5,-11.3 56.8,-19.5 59.1,-31.3 61.4,-44.5 63.6,-54.2 65.9,-53.8 68.2,-43.1 70.5,-29.2 72.7,-17.5 75,-9.8 77.3,-5.6 79.5,-3.5 81.8,-2.3 84.1,-1.5 86.4,-1 88.6,-0.7 90.9,-0.8 93.2,-1.1 95.5,-1.6 97.7,-2.1 100,-2.3 L98.2,1.1 L-1.8,1.1Z"/><path transform="matrix(0.69,0.16,0,1,554.39,319.93)" d="M0,-1.3 2.3,-1.4 4.5,-1.5 6.8,-1.7 9.1,-1.8 11.4,-1.9 13.6,-2 15.9,-2.2 18.2,-2.5 20.5,-2.7 22.7,-2.9 25,-2.9 27.3,-2.8 29.5,-2.7 31.8,-2.6 34.1,-2.6 36.4,-2.4 38.6,-2.2 40.9,-1.9 43.2,-1.7 45.5,-1.8 47.7,-2.2 50,-3.2 52.3,-5.2 54.5,-9.5 56.8,-17.3 59.1,-29.4 61.4,-44.2 63.6,-56.6 65.9,-57.8 68.2,-46 70.5,-31 72.7,-18.4 75,-10.1 77.3,-5.5 79.5,-3.3 81.8,-2.2 84.1,-1.5 86.4,-1 88.6,-0.8 90.9,-0.8 93.2,-1.2 95.5,-1.8 97.7,-2.2 100,-2.4 L98.2,1.1 L-1.8,1.1Z"/><path transform="matrix(0.69,0.16,0,1,553.13,320.4)" d="M0,-1.3 2.3,-1.4 4.5,-1.5 6.8,-1.7 9.1,-1.8 11.4,-1.9 13.6,-2 15.9,-2.3 18.2,-2.6 20.5,-2.9 22.7,-3.2 25,-3.3 27.3,-3.4 29.5,-3.4 31.8,-3.5 34.1,-3.5 36.4,-3.3 38.6,-2.8 40.9,-2.3 43.2,-1.9 45.5,-1.9 47.7,-2.1 50,-2.7 52.3,-4.4 54.5,-7.9 56.8,-14.6 59.1,-25.2 61.4,-38.3 63.6,-49 65.9,-50.2 68.2,-40.9 70.5,-28 72.7,-16.8 75,-9.3 77.3,-5.1 79.5,-3.1 81.8,-2.1 84.1,-1.4 86.4,-1 88.6,-0.8 90.9,-0.8 93.2,-1.3 95.5,-1.8 97.7,-2.3 100,-2.5 L98.2,1.1 L-1.8,1.1Z"/><path transform="matrix(0.69,0.16,0,1,551.88,320.87)" d="M0,-1.3 2.3,-1.4 4.5,-1.5 6.8,-1.6 9.1,-1.7 11.4,-1.8 13.6,-2 15.9,-2.2 18.2,-2.6 20.5,-3 22.7,-3.4 25,-3.8 27.3,-4.3 29.5,-4.8 31.8,-5.2 34.1,-5.4 36.4,-5 38.6,-4.2 40.9,-3.3 43.2,-2.5 45.5,-2.2 47.7,-2.2 50,-2.6 52.3,-3.8 54.5,-6.4 56.8,-11.3 59.1,-19.1 61.4,-28.4 63.6,-35.6 65.9,-36.5 68.2,-30.5 70.5,-21.6 72.7,-13.4 75,-7.7 77.3,-4.5 79.5,-2.9 81.8,-2 84.1,-1.4 86.4,-1 88.6,-0.8 90.9,-0.9 93.2,-1.3 95.5,-1.8 97.7,-2.2 100,-2.4 L98.2,1.1 L-1.8,1.1Z"/><path transform="matrix(0.69,0.16,0,1,550.62,321.35)" d="M0,-1.2 2.3,-1.3 4.5,-1.3 6.8,-1.3 9.1,-1.4 11.4,-1.5 13.6,-1.7 15.9,-2 18.2,-2.4 20.5,-3 22.7,-3.7 25,-4.7 27.3,-6.1 29.5,-7.6 31.8,-8.8 34.1,-9.2 36.4,-8.5 38.6,-7 40.9,-5.1 43.2,-3.6 45.5,-2.7 47.7,-2.4 50,-2.6 52.3,-3.4 54.5,-5.1 56.8,-8.2 59.1,-12.9 61.4,-18.4 63.6,-22.5 65.9,-23.1 68.2,-19.7 70.5,-14.5 72.7,-9.5 75,-5.9 77.3,-3.7 79.5,-2.6 81.8,-1.9 84.1,-1.4 86.4,-1.1 88.6,-0.8 90.9,-0.9 93.2,-1.3 95.5,-1.7 97.7,-2.1 100,-2.3 L98.2,1.1 L-1.8,1.1Z"/><path transform="matrix(0.69,0.16,0,1,549.37,321.82)" d="M0,-1.1 2.3,-1.1 4.5,-1.1 6.8,-1.1 9.1,-1.1 11.4,-1.1 13.6,-1.3 15.9,-1.7 18.2,-2.2 20.5,-3 22.7,-4.3 25,-6.4 27.3,-9.3 29.5,-12.5 31.8,-15.1 34.1,-16 36.4,-14.7 38.6,-11.7 40.9,-8.3 43.2,-5.4 45.5,-3.6 47.7,-2.8 50,-2.7 52.3,-3.1 54.5,-4.1 56.8,-5.8 59.1,-8.2 61.4,-10.9 63.6,-12.9 65.9,-13.1 68.2,-11.4 70.5,-8.8 72.7,-6.2 75,-4.3 77.3,-3.2 79.5,-2.5 81.8,-1.9 84.1,-1.5 86.4,-1.1 88.6,-0.9 90.9,-1 93.2,-1.3 95.5,-1.6 97.7,-1.9 100,-2.1 L98.2,1.1 L-1.8,1.1Z"/><path transform="matrix(0.69,0.16,0,1,548.11,322.29)" d="M0,-1.1 2.3,-1 4.5,-0.9 6.8,-0.8 9.1,-0.8 11.4,-0.8 13.6,-1.1 15.9,-1.5 18.2,-2.2 20.5,-3.4 22.7,-5.5 25,-9 27.3,-14.2 29.5,-20 31.8,-24.8 34.1,-26.5 36.4,-24.2 38.6,-19 40.9,-13.1 43.2,-8.1 45.5,-4.9 47.7,-3.4 50,-2.9 52.3,-3.1 54.5,-3.6 56.8,-4.3 59.1,-5.3 61.4,-6.3 63.6,-7 65.9,-7 68.2,-6.2 70.5,-5.1 72.7,-4.1 75,-3.3 77.3,-2.7 79.5,-2.3 81.8,-1.9 84.1,-1.5 86.4,-1.2 88.6,-1 90.9,-1 93.2,-1.2 95.5,-1.5 97.7,-1.8 100,-1.9 L98.2,1.1 L-1.8,1.1Z"/><path transform="matrix(0.69,0.16,0,1,546.86,322.77)" d="M0,-1 2.3,-1 4.5,-0.9 6.8,-0.7 9.1,-0.6 11.4,-0.7 13.6,-1 15.9,-1.5 18.2,-2.4 20.5,-4.1 22.7,-7.1 25,-12.5 27.3,-20.4 29.5,-29.7 31.8,-37.5 34.1,-40.4 36.4,-36.7 38.6,-28.4 40.9,-19.1 43.2,-11.5 45.5,-6.6 47.7,-4.1 50,-3.1 52.3,-3 54.5,-3.2 56.8,-3.4 59.1,-3.6 61.4,-3.9 63.6,-4 65.9,-3.8 68.2,-3.5 70.5,-3.2 72.7,-2.9 75,-2.6 77.3,-2.4 79.5,-2.2 81.8,-1.8 84.1,-1.5 86.4,-1.2 88.6,-1 90.9,-1 93.2,-1.2 95.5,-1.5 97.7,-1.7 100,-1.8 L98.2,1.1 L-1.8,1.1Z"/><path transform="matrix(0.69,0.16,0,1,545.6,323.24)" d="M0,-1.1 2.3,-1 4.5,-0.9 6.8,-0.8 9.1,-0.8 11.4,-0.9 13.6,-1.1 15.9,-1.7 18.2,-2.7 20.5,-4.8 22.7,-8.8 25,-15.9 27.3,-26.5 29.5,-39.5 31.8,-51 34.1,-55.6 36.4,-50 38.6,-37.9 40.9,-25 43.2,-14.7 45.5,-8.1 47.7,-4.7 50,-3.3 52.3,-2.8 54.5,-2.8 56.8,-2.8 59.1,-2.7 61.4,-2.6 63.6,-2.5 65.9,-2.4 68.2,-2.2 70.5,-2.2 72.7,-2.2 75,-2.2 77.3,-2.1 79.5,-1.9 81.8,-1.7 84.1,-1.4 86.4,-1.1 88.6,-1 90.9,-1 93.2,-1.3 95.5,-1.5 97.7,-1.8 100,-1.9 L98.2,1.1 L-1.8,1.1Z"/><path transform="matrix(0.69,0.16,0,1,544.34,323.71)" d="M0,-1.1 2.3,-1.1 4.5,-1.1 6.8,-1 9.1,-1 11.4,-1.1 13.6,-1.4 15.9,-1.9 18.2,-3 20.5,-5.3 22.7,-9.8 25,-17.9 27.3,-30.3 29.5,-45.8 31.8,-60.3 34.1,-66.8 36.4,-59 38.6,-44 40.9,-28.6 43.2,-16.6 45.5,-9 47.7,-5 50,-3.2 52.3,-2.6 54.5,-2.4 56.8,-2.2 59.1,-2 61.4,-1.9 63.6,-1.7 65.9,-1.5 68.2,-1.5 70.5,-1.5 72.7,-1.6 75,-1.7 77.3,-1.7 79.5,-1.6 81.8,-1.4 84.1,-1.3 86.4,-1.1 88.6,-1 90.9,-1.1 93.2,-1.3 95.5,-1.6 97.7,-1.9 100,-2 L98.2,1.1 L-1.8,1.1Z"/><path transform="matrix(0.69,0.16,0,1,543.09,324.19)" d="M0,-1.2 2.3,-1.2 4.5,-1.2 6.8,-1.2 9.1,-1.3 11.4,-1.4 13.6,-1.6 15.9,-2 18.2,-3 20.5,-5.2 22.7,-9.7 25,-17.7 27.3,-30 29.5,-45.2 31.8,-59.5 34.1,-65.7 36.4,-58.3 38.6,-43.5 40.9,-28.3 43.2,-16.5 45.5,-8.9 47.7,-4.9 50,-3 52.3,-2.2 54.5,-1.9 56.8,-1.7 59.1,-1.5 61.4,-1.3 63.6,-1.1 65.9,-0.9 68.2,-0.9 70.5,-1 72.7,-1.1 75,-1.3 77.3,-1.3 79.5,-1.2 81.8,-1.2 84.1,-1.1 86.4,-1.1 88.6,-1.1 90.9,-1.1 93.2,-1.4 95.5,-1.8 97.7,-2 100,-2.2 L98.2,1.1 L-1.8,1.1Z"/><path transform="matrix(0.69,0.16,0,1,541.83,324.66)" d="M0,-1.2 2.3,-1.3 4.5,-1.3 6.8,-1.4 9.1,-1.5 11.4,-1.6 13.6,-1.8 15.9,-2.1 18.2,-2.8 20.5,-4.7 22.7,-8.5 25,-15.4 27.3,-25.7 29.5,-38.1 31.8,-49.1 34.1,-53.5 36.4,-48.2 38.6,-36.7 40.9,-24.2 43.2,-14.3 45.5,-7.9 47.7,-4.3 50,-2.6 52.3,-1.9 54.5,-1.6 56.8,-1.4 59.1,-1.1 61.4,-0.9 63.6,-0.7 65.9,-0.5 68.2,-0.5 70.5,-0.6 72.7,-0.8 75,-0.9 77.3,-1 79.5,-1 81.8,-1 84.1,-1 86.4,-1.1 88.6,-1.1 90.9,-1.2 93.2,-1.5 95.5,-1.9 97.7,-2.2 100,-2.3 L98.2,1.1 L-1.8,1.1Z"/><path transform="matrix(0.69,0.16,0,1,540.58,325.13)" d="M0,-1.2 2.3,-1.3 4.5,-1.4 6.8,-1.5 9.1,-1.6 11.4,-1.7 13.6,-1.8 15.9,-2 18.2,-2.5 20.5,-3.9 22.7,-6.7 25,-11.8 27.3,-19.3 29.5,-28.1 31.8,-35.5 34.1,-38.2 36.4,-34.8 38.6,-27 40.9,-18.2 43.2,-10.9 45.5,-6.2 47.7,-3.5 50,-2.2 52.3,-1.6 54.5,-1.3 56.8,-1.2 59.1,-0.9 61.4,-0.7 63.6,-0.5 65.9,-0.3 68.2,-0.3 70.5,-0.4 72.7,-0.6 75,-0.7 77.3,-0.8 79.5,-0.8 81.8,-0.9 84.1,-1 86.4,-1.1 88.6,-1.1 90.9,-1.2 93.2,-1.5 95.5,-1.9 97.7,-2.2 100,-2.4 L98.2,1.1 L-1.8,1.1Z"/><path transform="matrix(0.69,0.16,0,1,539.32,325.61)" d="M0,-1.2 2.3,-1.2 4.5,-1.4 6.8,-1.5 9.1,-1.7 11.4,-1.8 13.6,-1.8 15.9,-1.9 18.2,-2.2 20.5,-3 22.7,-4.9 25,-8.3 27.3,-13.1 29.5,-18.6 31.8,-23.1 34.1,-24.7 36.4,-22.6 38.6,-17.8 40.9,-12.2 43.2,-7.5 45.5,-4.5 47.7,-2.7 50,-1.8 52.3,-1.4 54.5,-1.2 56.8,-1.1 59.1,-0.9 61.4,-0.8 63.6,-0.6 65.9,-0.5 68.2,-0.5 70.5,-0.6 72.7,-0.6 75,-0.7 77.3,-0.8 79.5,-0.8 81.8,-0.9 84.1,-1 86.4,-1.1 88.6,-1.1 90.9,-1.2 93.2,-1.5 95.5,-1.8 97.7,-2.1 100,-2.2 L98.2,1.1 L-1.8,1.1Z"/><path transform="matrix(0.69,0.16,0,1,538.07,326.08)" d="M0,-1 2.3,-1.1 4.5,-1.4 6.8,-1.6 9.1,-1.9 11.4,-2 13.6,-2 15.9,-1.9 18.2,-1.9 20.5,-2.3 22.7,-3.3 25,-5.4 27.3,-8.3 29.5,-11.4 31.8,-14 34.1,-14.8 36.4,-13.6 38.6,-10.8 40.9,-7.6 43.2,-4.8 45.5,-3 47.7,-2 50,-1.5 52.3,-1.2 54.5,-1.1 56.8,-1 59.1,-1 61.4,-1 63.6,-1.1 65.9,-1.1 68.2,-1.1 70.5,-1 72.7,-0.9 75,-0.8 77.3,-0.7 79.5,-0.7 81.8,-0.9 84.1,-1 86.4,-1.2 88.6,-1.3 90.9,-1.3 93.2,-1.5 95.5,-1.7 97.7,-1.9 100,-2 L98.2,1.1 L-1.8,1.1Z"/><path transform="matrix(0.69,0.16,0,1,536.81,326.55)" d="M0,-0.8 2.3,-1 4.5,-1.4 6.8,-1.8 9.1,-2.2 11.4,-2.4 13.6,-2.2 15.9,-2 18.2,-1.7 20.5,-1.7 22.7,-2.2 25,-3.4 27.3,-5.1 29.5,-6.9 31.8,-8.2 34.1,-8.7 36.4,-7.9 38.6,-6.4 40.9,-4.5 43.2,-3 45.5,-2 47.7,-1.5 50,-1.2 52.3,-1.1 54.5,-1 56.8,-1 59.1,-1.1 61.4,-1.4 63.6,-1.7 65.9,-1.8 68.2,-1.7 70.5,-1.5 72.7,-1.1 75,-0.8 77.3,-0.6 79.5,-0.7 81.8,-0.9 84.1,-1.1 86.4,-1.4 88.6,-1.5 90.9,-1.5 93.2,-1.5 95.5,-1.6 97.7,-1.6 100,-1.6 L98.2,1.1 L-1.8,1.1Z"/><path transform="matrix(0.69,0.16,0,1,535.56,327.03)" d="M0,-0.7 2.3,-0.9 4.5,-1.4 6.8,-1.9 9.1,-2.4 11.4,-2.6 13.6,-2.4 15.9,-2 18.2,-1.5 20.5,-1.3 22.7,-1.5 25,-2.2 27.3,-3.2 29.5,-4.3 31.8,-5.1 34.1,-5.3 36.4,-4.8 38.6,-3.9 40.9,-2.8 43.2,-1.9 45.5,-1.4 47.7,-1.1 50,-1 52.3,-1 54.5,-1 56.8,-1 59.1,-1.2 61.4,-1.7 63.6,-2.1 65.9,-2.4 68.2,-2.3 70.5,-1.9 72.7,-1.4 75,-0.9 77.3,-0.6 79.5,-0.6 81.8,-0.9 84.1,-1.2 86.4,-1.5 88.6,-1.6 90.9,-1.6 93.2,-1.5 95.5,-1.4 97.7,-1.4 100,-1.3 L98.2,1.1 L-1.8,1.1Z"/><path transform="matrix(0.69,0.16,0,1,534.3,327.5)" d="M0,-0.6 2.3,-0.8 4.5,-1.4 6.8,-2 9.1,-2.5 11.4,-2.7 13.6,-2.5 15.9,-2 18.2,-1.4 20.5,-1.1 22.7,-1.1 25,-1.6 27.3,-2.2 29.5,-3 31.8,-3.5 34.1,-3.6 36.4,-3.2 38.6,-2.6 40.9,-1.8 43.2,-1.3 45.5,-1 47.7,-0.9 50,-0.9 52.3,-0.9 54.5,-0.9 56.8,-0.9 59.1,-1.3 61.4,-1.8 63.6,-2.3 65.9,-2.6 68.2,-2.5 70.5,-2.1 72.7,-1.5 75,-0.9 77.3,-0.6 79.5,-0.6 81.8,-0.9 84.1,-1.2 86.4,-1.5 88.6,-1.7 90.9,-1.6 93.2,-1.5 95.5,-1.4 97.7,-1.3 100,-1.2 L100,0 L0,0Z"/></g>
<line x1="384.8" y1="392.4" x2="384.8" y2="482" stroke="#a8a8a8" stroke-width="0.8"/><line x1="382.8" y1="482" x2="384.8" y2="482" stroke="#a8a8a8" stroke-width="0.7"/><line x1="382.8" y1="467.1" x2="384.8" y2="467.1" stroke="#a8a8a8" stroke-width="0.7"/><line x1="382.8" y1="452.1" x2="384.8" y2="452.1" stroke="#a8a8a8" stroke-width="0.7"/><line x1="382.8" y1="437.2" x2="384.8" y2="437.2" stroke="#a8a8a8" stroke-width="0.7"/><line x1="382.8" y1="422.2" x2="384.8" y2="422.2" stroke="#a8a8a8" stroke-width="0.7"/><line x1="382.8" y1="407.3" x2="384.8" y2="407.3" stroke="#a8a8a8" stroke-width="0.7"/><line x1="382.8" y1="392.4" x2="384.8" y2="392.4" stroke="#a8a8a8" stroke-width="0.7"/><text x="381.6" y="485.7" font-size="10.4" fill="#2a2222" text-anchor="end">0</text><text x="381.6" y="455.8" font-size="10.4" fill="#2a2222" text-anchor="end">40</text><text x="381.6" y="425.9" font-size="10.4" fill="#2a2222" text-anchor="end">80</text><text x="381.6" y="396.1" font-size="10.4" fill="#2a2222" text-anchor="end">120</text><text x="370.6" y="381.5" font-size="10.4" fill="#2a2222"><tspan font-size="10.4">(pps px</tspan><tspan font-size="6.5" dy="-3.8">-1</tspan><tspan font-size="10.4" dy="3.8">)</tspan></text><rect x="395" y="389.9" width="9.9" height="9.5" fill="#e0622a"/>
<defs><filter id="fb3" x="-5%" y="-5%" width="110%" height="110%"><feGaussianBlur stdDeviation="0.55"/></filter></defs><g filter="url(#fb3)"><g transform="matrix(2.04,0.48,1.66,-0.63,387.6,482)"><rect x="0" y="0" width="34" height="34" fill="#000010"/><rect x="0" y="0" width="3.7" height="1.7" fill="#000010"/><rect x="3" y="0" width="1.7" height="1.7" fill="#1e346d"/><rect x="4" y="0" width="1.7" height="1.7" fill="#2c56ac"/><rect x="5" y="0" width="1.7" height="1.7" fill="#284a97"/><rect x="6" y="0" width="1.7" height="1.7" fill="#1a2858"/><rect x="7" y="0" width="2.7" height="1.7" fill="#000010"/><rect x="9" y="0" width="4.7" height="1.7" fill="#233f82"/><rect x="13" y="0" width="2.7" height="1.7" fill="#2c56ac"/><rect x="15" y="0" width="2.7" height="1.7" fill="#284a97"/><rect x="17" y="0" width="3.7" height="1.7" fill="#000010"/><rect x="20" y="0" width="1.7" height="1.7" fill="#1a2858"/><rect x="21" y="0" width="1.7" height="1.7" fill="#000010"/><rect x="22" y="0" width="1.7" height="1.7" fill="#233f82"/><rect x="23" y="0" width="4.7" height="1.7" fill="#2c56ac"/><rect x="27" y="0" width="1.7" height="1.7" fill="#284a97"/><rect x="28" y="0" width="2.7" height="1.7" fill="#3158af"/><rect x="30" y="0" width="1.7" height="1.7" fill="#233f82"/><rect x="31" y="0" width="1.7" height="1.7" fill="#1e346d"/><rect x="32" y="0" width="1.7" height="1.7" fill="#233f82"/><rect x="33" y="0" width="1" height="1.7" fill="#000010"/><rect x="0" y="1" width="5.7" height="1.7" fill="#000010"/><rect x="5" y="1" width="1.7" height="1.7" fill="#1a2858"/><rect x="6" y="1" width="3.7" height="1.7" fill="#000010"/><rect x="9" y="1" width="1.7" height="1.7" fill="#1e346d"/><rect x="10" y="1" width="2.7" height="1.7" fill="#000010"/><rect x="12" y="1" width="2.7" height="1.7" fill="#1e346d"/><rect x="14" y="1" width="2.7" height="1.7" fill="#284a97"/><rect x="16" y="1" width="1.7" height="1.7" fill="#233f82"/><rect x="17" y="1" width="2.7" height="1.7" fill="#1e346d"/><rect x="19" y="1" width="3.7" height="1.7" fill="#000010"/><rect x="22" y="1" width="1.7" height="1.7" fill="#1a2858"/><rect x="23" y="1" width="1.7" height="1.7" fill="#1e346d"/><rect x="24" y="1" width="1.7" height="1.7" fill="#3158af"/><rect x="25" y="1" width="2.7" height="1.7" fill="#2c56ac"/><rect x="27" y="1" width="1.7" height="1.7" fill="#233f82"/><rect x="28" y="1" width="1.7" height="1.7" fill="#284a97"/><rect x="29" y="1" width="2.7" height="1.7" fill="#2c56ac"/><rect x="31" y="1" width="1.7" height="1.7" fill="#284a97"/><rect x="32" y="1" width="1.7" height="1.7" fill="#1a2858"/><rect x="33" y="1" width="1" height="1.7" fill="#000010"/><rect x="0" y="2" width="1.7" height="1.7" fill="#284a97"/><rect x="1" y="2" width="2.7" height="1.7" fill="#000010"/><rect x="3" y="2" width="1.7" height="1.7" fill="#1a2858"/><rect x="4" y="2" width="11.7" height="1.7" fill="#000010"/><rect x="15" y="2" width="1.7" height="1.7" fill="#233f82"/><rect x="16" y="2" width="1.7" height="1.7" fill="#1e346d"/><rect x="17" y="2" width="1.7" height="1.7" fill="#233f82"/><rect x="18" y="2" width="1.7" height="1.7" fill="#2c56ac"/><rect x="19" y="2" width="4.7" height="1.7" fill="#000010"/><rect x="23" y="2" width="1.7" height="1.7" fill="#1a2858"/><rect x="24" y="2" width="1.7" height="1.7" fill="#233f82"/><rect x="25" y="2" width="1.7" height="1.7" fill="#2c56ac"/><rect x="26" y="2" width="1.7" height="1.7" fill="#3158af"/><rect x="27" y="2" width="2.7" height="1.7" fill="#233f82"/><rect x="29" y="2" width="2.7" height="1.7" fill="#3158af"/><rect x="31" y="2" width="1.7" height="1.7" fill="#2c56ac"/><rect x="32" y="2" width="1.7" height="1.7" fill="#1a2858"/><rect x="33" y="2" width="1" height="1.7" fill="#000010"/><rect x="0" y="3" width="1.7" height="1.7" fill="#233f82"/><rect x="1" y="3" width="1.7" height="1.7" fill="#000010"/><rect x="2" y="3" width="2.7" height="1.7" fill="#1e346d"/><rect x="4" y="3" width="13.7" height="1.7" fill="#000010"/><rect x="17" y="3" width="1.7" height="1.7" fill="#1e346d"/><rect x="18" y="3" width="1.7" height="1.7" fill="#284a97"/><rect x="19" y="3" width="6.7" height="1.7" fill="#000010"/><rect x="25" y="3" width="1.7" height="1.7" fill="#1e346d"/><rect x="26" y="3" width="1.7" height="1.7" fill="#2c56ac"/><rect x="27" y="3" width="1.7" height="1.7" fill="#1a2858"/><rect x="28" y="3" width="1.7" height="1.7" fill="#233f82"/><rect x="29" y="3" width="1.7" height="1.7" fill="#3158af"/><rect x="30" y="3" width="1.7" height="1.7" fill="#2c56ac"/><rect x="31" y="3" width="1.7" height="1.7" fill="#284a97"/><rect x="32" y="3" width="2" height="1.7" fill="#000010"/><rect x="0" y="4" width="1.7" height="1.7" fill="#000010"/><rect x="1" y="4" width="1.7" height="1.7" fill="#233f82"/><rect x="2" y="4" width="1.7" height="1.7" fill="#1e346d"/><rect x="3" y="4" width="7.7" height="1.7" fill="#000010"/><rect x="10" y="4" width="2.7" height="1.7" fill="#1e346d"/><rect x="12" y="4" width="1.7" height="1.7" fill="#1a2858"/><rect x="13" y="4" width="1.7" height="1.7" fill="#284a97"/><rect x="14" y="4" width="1.7" height="1.7" fill="#3158af"/><rect x="15" y="4" width="1.7" height="1.7" fill="#284a97"/><rect x="16" y="4" width="2.7" height="1.7" fill="#000010"/><rect x="18" y="4" width="2.7" height="1.7" fill="#1e346d"/><rect x="20" y="4" width="8.7" height="1.7" fill="#000010"/><rect x="28" y="4" width="1.7" height="1.7" fill="#1e346d"/><rect x="29" y="4" width="1.7" height="1.7" fill="#233f82"/><rect x="30" y="4" width="1.7" height="1.7" fill="#1a2858"/><rect x="31" y="4" width="3" height="1.7" fill="#000010"/><rect x="0" y="5" width="1.7" height="1.7" fill="#000010"/><rect x="1" y="5" width="2.7" height="1.7" fill="#233f82"/><rect x="3" y="5" width="7.7" height="1.7" fill="#000010"/><rect x="10" y="5" width="2.7" height="1.7" fill="#1e346d"/><rect x="12" y="5" width="1.7" height="1.7" fill="#284a97"/><rect x="13" y="5" width="1.7" height="1.7" fill="#921a30"/><rect x="14" y="5" width="1.7" height="1.7" fill="#e84b39"/><rect x="15" y="5" width="1.7" height="1.7" fill="#921a30"/><rect x="16" y="5" width="1.7" height="1.7" fill="#233f82"/><rect x="17" y="5" width="11.7" height="1.7" fill="#000010"/><rect x="28" y="5" width="1.7" height="1.7" fill="#233f82"/><rect x="29" y="5" width="1.7" height="1.7" fill="#365ab2"/><rect x="30" y="5" width="1.7" height="1.7" fill="#571f5d"/><rect x="31" y="5" width="1.7" height="1.7" fill="#3c55ac"/><rect x="32" y="5" width="1.7" height="1.7" fill="#233f82"/><rect x="33" y="5" width="1" height="1.7" fill="#000010"/><rect x="0" y="6" width="7.7" height="1.7" fill="#000010"/><rect x="7" y="6" width="1.7" height="1.7" fill="#1a2858"/><rect x="8" y="6" width="2.7" height="1.7" fill="#000010"/><rect x="10" y="6" width="2.7" height="1.7" fill="#1e346d"/><rect x="12" y="6" width="1.7" height="1.7" fill="#3158af"/><rect x="13" y="6" width="1.7" height="1.7" fill="#e43935"/><rect x="14" y="6" width="1.7" height="1.7" fill="#ef8a37"/><rect x="15" y="6" width="1.7" height="1.7" fill="#e12731"/><rect x="16" y="6" width="1.7" height="1.7" fill="#2c56ac"/><rect x="17" y="6" width="11.7" height="1.7" fill="#000010"/><rect x="28" y="6" width="1.7" height="1.7" fill="#365ab2"/><rect x="29" y="6" width="1.7" height="1.7" fill="#e84b39"/><rect x="30" y="6" width="1.7" height="1.7" fill="#dc9d2d"/><rect x="31" y="6" width="1.7" height="1.7" fill="#ee6e40"/><rect x="32" y="6" width="1.7" height="1.7" fill="#433181"/><rect x="33" y="6" width="1" height="1.7" fill="#000010"/><rect x="0" y="7" width="7.7" height="1.7" fill="#000010"/><rect x="7" y="7" width="1.7" height="1.7" fill="#284a97"/><rect x="8" y="7" width="2.7" height="1.7" fill="#2c56ac"/><rect x="10" y="7" width="1.7" height="1.7" fill="#1e346d"/><rect x="11" y="7" width="1.7" height="1.7" fill="#233f82"/><rect x="12" y="7" width="1.7" height="1.7" fill="#2c56ac"/><rect x="13" y="7" width="1.7" height="1.7" fill="#571f5d"/><rect x="14" y="7" width="1.7" height="1.7" fill="#ce1e30"/><rect x="15" y="7" width="1.7" height="1.7" fill="#571f5d"/><rect x="16" y="7" width="1.7" height="1.7" fill="#1e346d"/><rect x="17" y="7" width="11.7" height="1.7" fill="#000010"/><rect x="28" y="7" width="1.7" height="1.7" fill="#571f5d"/><rect x="29" y="7" width="1.7" height="1.7" fill="#dc9d2d"/><rect x="30" y="7" width="1.7" height="1.7" fill="#dce488"/><rect x="31" y="7" width="1.7" height="1.7" fill="#a2a834"/><rect x="32" y="7" width="1.7" height="1.7" fill="#b01c30"/><rect x="33" y="7" width="1" height="1.7" fill="#233f82"/><rect x="0" y="8" width="1.7" height="1.7" fill="#000010"/><rect x="1" y="8" width="1.7" height="1.7" fill="#3158af"/><rect x="2" y="8" width="1.7" height="1.7" fill="#571f5d"/><rect x="3" y="8" width="1.7" height="1.7" fill="#3c55ac"/><rect x="4" y="8" width="1.7" height="1.7" fill="#1e346d"/><rect x="5" y="8" width="2.7" height="1.7" fill="#000010"/><rect x="7" y="8" width="1.7" height="1.7" fill="#284a97"/><rect x="8" y="8" width="2.7" height="1.7" fill="#3158af"/><rect x="10" y="8" width="3.7" height="1.7" fill="#2c56ac"/><rect x="13" y="8" width="1.7" height="1.7" fill="#233f82"/><rect x="14" y="8" width="1.7" height="1.7" fill="#284a97"/><rect x="15" y="8" width="3.7" height="1.7" fill="#000010"/><rect x="18" y="8" width="1.7" height="1.7" fill="#1a2858"/><rect x="19" y="8" width="1.7" height="1.7" fill="#1e346d"/><rect x="20" y="8" width="1.7" height="1.7" fill="#284a97"/><rect x="21" y="8" width="7.7" height="1.7" fill="#000010"/><rect x="28" y="8" width="1.7" height="1.7" fill="#3c55ac"/><rect x="29" y="8" width="1.7" height="1.7" fill="#ee6e40"/><rect x="30" y="8" width="1.7" height="1.7" fill="#a2a834"/><rect x="31" y="8" width="1.7" height="1.7" fill="#ef8a37"/><rect x="32" y="8" width="1.7" height="1.7" fill="#571f5d"/><rect x="33" y="8" width="1" height="1.7" fill="#1e346d"/><rect x="0" y="9" width="1.7" height="1.7" fill="#2c56ac"/><rect x="1" y="9" width="1.7" height="1.7" fill="#e43935"/><rect x="2" y="9" width="1.7" height="1.7" fill="#dc9d2d"/><rect x="3" y="9" width="1.7" height="1.7" fill="#ee6e40"/><rect x="4" y="9" width="1.7" height="1.7" fill="#3c55ac"/><rect x="5" y="9" width="2.7" height="1.7" fill="#000010"/><rect x="7" y="9" width="1.7" height="1.7" fill="#233f82"/><rect x="8" y="9" width="1.7" height="1.7" fill="#2c56ac"/><rect x="9" y="9" width="4.7" height="1.7" fill="#3158af"/><rect x="13" y="9" width="1.7" height="1.7" fill="#284a97"/><rect x="14" y="9" width="2.7" height="1.7" fill="#233f82"/><rect x="16" y="9" width="2.7" height="1.7" fill="#000010"/><rect x="18" y="9" width="1.7" height="1.7" fill="#1a2858"/><rect x="19" y="9" width="1.7" height="1.7" fill="#571f5d"/><rect x="20" y="9" width="1.7" height="1.7" fill="#ce1e30"/><rect x="21" y="9" width="1.7" height="1.7" fill="#3c55ac"/><rect x="22" y="9" width="1.7" height="1.7" fill="#1a2858"/><rect x="23" y="9" width="5.7" height="1.7" fill="#000010"/><rect x="28" y="9" width="1.7" height="1.7" fill="#233f82"/><rect x="29" y="9" width="1.7" height="1.7" fill="#433181"/><rect x="30" y="9" width="1.7" height="1.7" fill="#b01c30"/><rect x="31" y="9" width="1.7" height="1.7" fill="#571f5d"/><rect x="32" y="9" width="1.7" height="1.7" fill="#284a97"/><rect x="33" y="9" width="1" height="1.7" fill="#000010"/><rect x="0" y="10" width="1.7" height="1.7" fill="#3158af"/><rect x="1" y="10" width="1.7" height="1.7" fill="#ee6e40"/><rect x="2" y="10" width="1.7" height="1.7" fill="#d0dc60"/><rect x="3" y="10" width="1.7" height="1.7" fill="#dc9d2d"/><rect x="4" y="10" width="1.7" height="1.7" fill="#571f5d"/><rect x="5" y="10" width="2.7" height="1.7" fill="#000010"/><rect x="7" y="10" width="1.7" height="1.7" fill="#1a2858"/><rect x="8" y="10" width="1.7" height="1.7" fill="#284a97"/><rect x="9" y="10" width="1.7" height="1.7" fill="#2c56ac"/><rect x="10" y="10" width="3.7" height="1.7" fill="#3158af"/><rect x="13" y="10" width="1.7" height="1.7" fill="#284a97"/><rect x="14" y="10" width="1.7" height="1.7" fill="#1a2858"/><rect x="15" y="10" width="1.7" height="1.7" fill="#000010"/><rect x="16" y="10" width="1.7" height="1.7" fill="#1e346d"/><rect x="17" y="10" width="1.7" height="1.7" fill="#000010"/><rect x="18" y="10" width="1.7" height="1.7" fill="#1e346d"/><rect x="19" y="10" width="1.7" height="1.7" fill="#921a30"/><rect x="20" y="10" width="1.7" height="1.7" fill="#e43935"/><rect x="21" y="10" width="1.7" height="1.7" fill="#571f5d"/><rect x="22" y="10" width="2.7" height="1.7" fill="#233f82"/><rect x="24" y="10" width="1.7" height="1.7" fill="#000010"/><rect x="25" y="10" width="2.7" height="1.7" fill="#233f82"/><rect x="27" y="10" width="3.7" height="1.7" fill="#000010"/><rect x="30" y="10" width="2.7" height="1.7" fill="#233f82"/><rect x="32" y="10" width="1.7" height="1.7" fill="#1a2858"/><rect x="33" y="10" width="1" height="1.7" fill="#000010"/><rect x="0" y="11" width="1.7" height="1.7" fill="#2c56ac"/><rect x="1" y="11" width="1.7" height="1.7" fill="#921a30"/><rect x="2" y="11" width="1.7" height="1.7" fill="#ee6e40"/><rect x="3" y="11" width="1.7" height="1.7" fill="#e12731"/><rect x="4" y="11" width="1.7" height="1.7" fill="#3158af"/><rect x="5" y="11" width="2.7" height="1.7" fill="#000010"/><rect x="7" y="11" width="1.7" height="1.7" fill="#1e346d"/><rect x="8" y="11" width="1.7" height="1.7" fill="#284a97"/><rect x="9" y="11" width="4.7" height="1.7" fill="#2c56ac"/><rect x="13" y="11" width="1.7" height="1.7" fill="#1e346d"/><rect x="14" y="11" width="2.7" height="1.7" fill="#000010"/><rect x="16" y="11" width="2.7" height="1.7" fill="#1e346d"/><rect x="18" y="11" width="1.7" height="1.7" fill="#000010"/><rect x="19" y="11" width="1.7" height="1.7" fill="#2c56ac"/><rect x="20" y="11" width="1.7" height="1.7" fill="#3c55ac"/><rect x="21" y="11" width="1.7" height="1.7" fill="#284a97"/><rect x="22" y="11" width="2.7" height="1.7" fill="#1e346d"/><rect x="24" y="11" width="1.7" height="1.7" fill="#000010"/><rect x="25" y="11" width="1.7" height="1.7" fill="#233f82"/><rect x="26" y="11" width="2.7" height="1.7" fill="#284a97"/><rect x="28" y="11" width="1.7" height="1.7" fill="#233f82"/><rect x="29" y="11" width="2.7" height="1.7" fill="#000010"/><rect x="31" y="11" width="1.7" height="1.7" fill="#233f82"/><rect x="32" y="11" width="1.7" height="1.7" fill="#1a2858"/><rect x="33" y="11" width="1" height="1.7" fill="#000010"/><rect x="0" y="12" width="1.7" height="1.7" fill="#ce1e30"/><rect x="1" y="12" width="1.7" height="1.7" fill="#ef7c3c"/><rect x="2" y="12" width="1.7" height="1.7" fill="#ee6e40"/><rect x="3" y="12" width="1.7" height="1.7" fill="#741a3d"/><rect x="4" y="12" width="1.7" height="1.7" fill="#284a97"/><rect x="5" y="12" width="1.7" height="1.7" fill="#000010"/><rect x="6" y="12" width="2.7" height="1.7" fill="#1e346d"/><rect x="8" y="12" width="2.7" height="1.7" fill="#284a97"/><rect x="10" y="12" width="2.7" height="1.7" fill="#233f82"/><rect x="12" y="12" width="1.7" height="1.7" fill="#1e346d"/><rect x="13" y="12" width="2.7" height="1.7" fill="#000010"/><rect x="15" y="12" width="2.7" height="1.7" fill="#1e346d"/><rect x="17" y="12" width="2.7" height="1.7" fill="#233f82"/><rect x="19" y="12" width="1.7" height="1.7" fill="#1a2858"/><rect x="20" y="12" width="4.7" height="1.7" fill="#000010"/><rect x="24" y="12" width="1.7" height="1.7" fill="#233f82"/><rect x="25" y="12" width="1.7" height="1.7" fill="#3c55ac"/><rect x="26" y="12" width="1.7" height="1.7" fill="#b01c30"/><rect x="27" y="12" width="1.7" height="1.7" fill="#e12731"/><rect x="28" y="12" width="1.7" height="1.7" fill="#741a3d"/><rect x="29" y="12" width="1.7" height="1.7" fill="#284a97"/><rect x="30" y="12" width="1.7" height="1.7" fill="#1a2858"/><rect x="31" y="12" width="1.7" height="1.7" fill="#1e346d"/><rect x="32" y="12" width="1.7" height="1.7" fill="#000010"/><rect x="33" y="12" width="1" height="1.7" fill="#1e346d"/><rect x="0" y="13" width="1.7" height="1.7" fill="#dc9d2d"/><rect x="1" y="13" width="1.7" height="1.7" fill="#dce488"/><rect x="2" y="13" width="1.7" height="1.7" fill="#d6e074"/><rect x="3" y="13" width="1.7" height="1.7" fill="#ee6e40"/><rect x="4" y="13" width="1.7" height="1.7" fill="#365ab2"/><rect x="5" y="13" width="2.7" height="1.7" fill="#000010"/><rect x="7" y="13" width="1.7" height="1.7" fill="#284a97"/><rect x="8" y="13" width="1.7" height="1.7" fill="#3158af"/><rect x="9" y="13" width="1.7" height="1.7" fill="#2c56ac"/><rect x="10" y="13" width="1.7" height="1.7" fill="#3158af"/><rect x="11" y="13" width="1.7" height="1.7" fill="#284a97"/><rect x="12" y="13" width="1.7" height="1.7" fill="#1e346d"/><rect x="13" y="13" width="11.7" height="1.7" fill="#000010"/><rect x="24" y="13" width="1.7" height="1.7" fill="#3158af"/><rect x="25" y="13" width="1.7" height="1.7" fill="#e12731"/><rect x="26" y="13" width="1.7" height="1.7" fill="#929726"/><rect x="27" y="13" width="1.7" height="1.7" fill="#c1cb51"/><rect x="28" y="13" width="1.7" height="1.7" fill="#ef7c3c"/><rect x="29" y="13" width="1.7" height="1.7" fill="#571f5d"/><rect x="30" y="13" width="1.7" height="1.7" fill="#233f82"/><rect x="31" y="13" width="2.7" height="1.7" fill="#000010"/><rect x="33" y="13" width="1" height="1.7" fill="#233f82"/><rect x="0" y="14" width="1.7" height="1.7" fill="#aa9525"/><rect x="1" y="14" width="1.7" height="1.7" fill="#eff1c4"/><rect x="2" y="14" width="1.7" height="1.7" fill="#e3e89c"/><rect x="3" y="14" width="1.7" height="1.7" fill="#ef7c3c"/><rect x="4" y="14" width="1.7" height="1.7" fill="#3c55ac"/><rect x="5" y="14" width="2.7" height="1.7" fill="#000010"/><rect x="7" y="14" width="3.7" height="1.7" fill="#3158af"/><rect x="10" y="14" width="1.7" height="1.7" fill="#2c56ac"/><rect x="11" y="14" width="1.7" height="1.7" fill="#233f82"/><rect x="12" y="14" width="12.7" height="1.7" fill="#000010"/><rect x="24" y="14" width="1.7" height="1.7" fill="#365ab2"/><rect x="25" y="14" width="1.7" height="1.7" fill="#ef7c3c"/><rect x="26" y="14" width="1.7" height="1.7" fill="#e3e89c"/><rect x="27" y="14" width="1.7" height="1.7" fill="#eff1c4"/><rect x="28" y="14" width="1.7" height="1.7" fill="#a2a834"/><rect x="29" y="14" width="1.7" height="1.7" fill="#b01c30"/><rect x="30" y="14" width="1.7" height="1.7" fill="#233f82"/><rect x="31" y="14" width="2.7" height="1.7" fill="#1e346d"/><rect x="33" y="14" width="1" height="1.7" fill="#233f82"/><rect x="0" y="15" width="1.7" height="1.7" fill="#eb5c3c"/><rect x="1" y="15" width="1.7" height="1.7" fill="#929726"/><rect x="2" y="15" width="1.7" height="1.7" fill="#dc9d2d"/><rect x="3" y="15" width="1.7" height="1.7" fill="#ce1e30"/><rect x="4" y="15" width="1.7" height="1.7" fill="#2c56ac"/><rect x="5" y="15" width="1.7" height="1.7" fill="#000010"/><rect x="6" y="15" width="1.7" height="1.7" fill="#1e346d"/><rect x="7" y="15" width="3.7" height="1.7" fill="#3158af"/><rect x="10" y="15" width="1.7" height="1.7" fill="#284a97"/><rect x="11" y="15" width="1.7" height="1.7" fill="#1a2858"/><rect x="12" y="15" width="5.7" height="1.7" fill="#000010"/><rect x="17" y="15" width="1.7" height="1.7" fill="#233f82"/><rect x="18" y="15" width="6.7" height="1.7" fill="#000010"/><rect x="24" y="15" width="1.7" height="1.7" fill="#3158af"/><rect x="25" y="15" width="1.7" height="1.7" fill="#e84b39"/><rect x="26" y="15" width="1.7" height="1.7" fill="#b1b943"/><rect x="27" y="15" width="1.7" height="1.7" fill="#d0dc60"/><rect x="28" y="15" width="1.7" height="1.7" fill="#f09833"/><rect x="29" y="15" width="1.7" height="1.7" fill="#741a3d"/><rect x="30" y="15" width="2.7" height="1.7" fill="#233f82"/><rect x="32" y="15" width="2" height="1.7" fill="#284a97"/><rect x="0" y="16" width="1.7" height="1.7" fill="#3c55ac"/><rect x="1" y="16" width="1.7" height="1.7" fill="#921a30"/><rect x="2" y="16" width="1.7" height="1.7" fill="#741a3d"/><rect x="3" y="16" width="1.7" height="1.7" fill="#3158af"/><rect x="4" y="16" width="2.7" height="1.7" fill="#1e346d"/><rect x="6" y="16" width="1.7" height="1.7" fill="#284a97"/><rect x="7" y="16" width="3.7" height="1.7" fill="#3158af"/><rect x="10" y="16" width="1.7" height="1.7" fill="#1e346d"/><rect x="11" y="16" width="1.7" height="1.7" fill="#1a2858"/><rect x="12" y="16" width="6.7" height="1.7" fill="#000010"/><rect x="18" y="16" width="1.7" height="1.7" fill="#1e346d"/><rect x="19" y="16" width="1.7" height="1.7" fill="#1a2858"/><rect x="20" y="16" width="4.7" height="1.7" fill="#000010"/><rect x="24" y="16" width="1.7" height="1.7" fill="#233f82"/><rect x="25" y="16" width="1.7" height="1.7" fill="#433181"/><rect x="26" y="16" width="1.7" height="1.7" fill="#e12731"/><rect x="27" y="16" width="1.7" height="1.7" fill="#e84b39"/><rect x="28" y="16" width="1.7" height="1.7" fill="#921a30"/><rect x="29" y="16" width="1.7" height="1.7" fill="#2c56ac"/><rect x="30" y="16" width="2.7" height="1.7" fill="#284a97"/><rect x="32" y="16" width="1.7" height="1.7" fill="#233f82"/><rect x="33" y="16" width="1" height="1.7" fill="#1e346d"/><rect x="0" y="17" width="4.7" height="1.7" fill="#233f82"/><rect x="4" y="17" width="1.7" height="1.7" fill="#284a97"/><rect x="5" y="17" width="4.7" height="1.7" fill="#2c56ac"/><rect x="9" y="17" width="1.7" height="1.7" fill="#284a97"/><rect x="10" y="17" width="1.7" height="1.7" fill="#000010"/><rect x="11" y="17" width="1.7" height="1.7" fill="#1e346d"/><rect x="12" y="17" width="1.7" height="1.7" fill="#233f82"/><rect x="13" y="17" width="1.7" height="1.7" fill="#1a2858"/><rect x="14" y="17" width="1.7" height="1.7" fill="#1e346d"/><rect x="15" y="17" width="1.7" height="1.7" fill="#2c56ac"/><rect x="16" y="17" width="1.7" height="1.7" fill="#1a2858"/><rect x="17" y="17" width="1.7" height="1.7" fill="#000010"/><rect x="18" y="17" width="1.7" height="1.7" fill="#233f82"/><rect x="19" y="17" width="1.7" height="1.7" fill="#1e346d"/><rect x="20" y="17" width="1.7" height="1.7" fill="#1a2858"/><rect x="21" y="17" width="4.7" height="1.7" fill="#000010"/><rect x="25" y="17" width="1.7" height="1.7" fill="#233f82"/><rect x="26" y="17" width="1.7" height="1.7" fill="#2c56ac"/><rect x="27" y="17" width="1.7" height="1.7" fill="#3158af"/><rect x="28" y="17" width="1.7" height="1.7" fill="#284a97"/><rect x="29" y="17" width="1.7" height="1.7" fill="#233f82"/><rect x="30" y="17" width="1.7" height="1.7" fill="#2c56ac"/><rect x="31" y="17" width="1.7" height="1.7" fill="#284a97"/><rect x="32" y="17" width="1.7" height="1.7" fill="#1e346d"/><rect x="33" y="17" width="1" height="1.7" fill="#233f82"/><rect x="0" y="18" width="1.7" height="1.7" fill="#233f82"/><rect x="1" y="18" width="1.7" height="1.7" fill="#1e346d"/><rect x="2" y="18" width="1.7" height="1.7" fill="#1a2858"/><rect x="3" y="18" width="1.7" height="1.7" fill="#1e346d"/><rect x="4" y="18" width="1.7" height="1.7" fill="#284a97"/><rect x="5" y="18" width="2.7" height="1.7" fill="#3158af"/><rect x="7" y="18" width="2.7" height="1.7" fill="#1e346d"/><rect x="9" y="18" width="1.7" height="1.7" fill="#000010"/><rect x="10" y="18" width="1.7" height="1.7" fill="#3158af"/><rect x="11" y="18" width="2.7" height="1.7" fill="#571f5d"/><rect x="13" y="18" width="1.7" height="1.7" fill="#365ab2"/><rect x="14" y="18" width="1.7" height="1.7" fill="#233f82"/><rect x="15" y="18" width="1.7" height="1.7" fill="#3158af"/><rect x="16" y="18" width="1.7" height="1.7" fill="#233f82"/><rect x="17" y="18" width="1.7" height="1.7" fill="#1e346d"/><rect x="18" y="18" width="1.7" height="1.7" fill="#284a97"/><rect x="19" y="18" width="8.7" height="1.7" fill="#000010"/><rect x="27" y="18" width="1.7" height="1.7" fill="#233f82"/><rect x="28" y="18" width="1.7" height="1.7" fill="#2c56ac"/><rect x="29" y="18" width="1.7" height="1.7" fill="#284a97"/><rect x="30" y="18" width="1.7" height="1.7" fill="#2c56ac"/><rect x="31" y="18" width="1.7" height="1.7" fill="#1e346d"/><rect x="32" y="18" width="1.7" height="1.7" fill="#000010"/><rect x="33" y="18" width="1" height="1.7" fill="#233f82"/><rect x="0" y="19" width="5.7" height="1.7" fill="#000010"/><rect x="5" y="19" width="1.7" height="1.7" fill="#1a2858"/><rect x="6" y="19" width="1.7" height="1.7" fill="#1e346d"/><rect x="7" y="19" width="1.7" height="1.7" fill="#233f82"/><rect x="8" y="19" width="1.7" height="1.7" fill="#1e346d"/><rect x="9" y="19" width="1.7" height="1.7" fill="#2c56ac"/><rect x="10" y="19" width="1.7" height="1.7" fill="#b01c30"/><rect x="11" y="19" width="2.7" height="1.7" fill="#ef7c3c"/><rect x="13" y="19" width="1.7" height="1.7" fill="#ce1e30"/><rect x="14" y="19" width="1.7" height="1.7" fill="#2c56ac"/><rect x="15" y="19" width="1.7" height="1.7" fill="#1e346d"/><rect x="16" y="19" width="1.7" height="1.7" fill="#1a2858"/><rect x="17" y="19" width="1.7" height="1.7" fill="#1e346d"/><rect x="18" y="19" width="1.7" height="1.7" fill="#233f82"/><rect x="19" y="19" width="1.7" height="1.7" fill="#1a2858"/><rect x="20" y="19" width="6.7" height="1.7" fill="#000010"/><rect x="26" y="19" width="1.7" height="1.7" fill="#1e346d"/><rect x="27" y="19" width="1.7" height="1.7" fill="#233f82"/><rect x="28" y="19" width="1.7" height="1.7" fill="#2c56ac"/><rect x="29" y="19" width="2.7" height="1.7" fill="#3158af"/><rect x="31" y="19" width="1.7" height="1.7" fill="#284a97"/><rect x="32" y="19" width="1.7" height="1.7" fill="#000010"/><rect x="33" y="19" width="1" height="1.7" fill="#1e346d"/><rect x="0" y="20" width="7.7" height="1.7" fill="#000010"/><rect x="7" y="20" width="2.7" height="1.7" fill="#1e346d"/><rect x="9" y="20" width="1.7" height="1.7" fill="#365ab2"/><rect x="10" y="20" width="1.7" height="1.7" fill="#e84b39"/><rect x="11" y="20" width="1.7" height="1.7" fill="#929726"/><rect x="12" y="20" width="1.7" height="1.7" fill="#a2a834"/><rect x="13" y="20" width="1.7" height="1.7" fill="#eb5c3c"/><rect x="14" y="20" width="1.7" height="1.7" fill="#365ab2"/><rect x="15" y="20" width="2.7" height="1.7" fill="#000010"/><rect x="17" y="20" width="1.7" height="1.7" fill="#1e346d"/><rect x="18" y="20" width="1.7" height="1.7" fill="#233f82"/><rect x="19" y="20" width="4.7" height="1.7" fill="#000010"/><rect x="23" y="20" width="1.7" height="1.7" fill="#1e346d"/><rect x="24" y="20" width="1.7" height="1.7" fill="#1a2858"/><rect x="25" y="20" width="1.7" height="1.7" fill="#1e346d"/><rect x="26" y="20" width="1.7" height="1.7" fill="#284a97"/><rect x="27" y="20" width="1.7" height="1.7" fill="#233f82"/><rect x="28" y="20" width="1.7" height="1.7" fill="#284a97"/><rect x="29" y="20" width="3.7" height="1.7" fill="#3158af"/><rect x="32" y="20" width="1.7" height="1.7" fill="#1e346d"/><rect x="33" y="20" width="1" height="1.7" fill="#233f82"/><rect x="0" y="21" width="7.7" height="1.7" fill="#000010"/><rect x="7" y="21" width="2.7" height="1.7" fill="#233f82"/><rect x="9" y="21" width="1.7" height="1.7" fill="#3158af"/><rect x="10" y="21" width="1.7" height="1.7" fill="#ce1e30"/><rect x="11" y="21" width="2.7" height="1.7" fill="#f09833"/><rect x="13" y="21" width="1.7" height="1.7" fill="#e12731"/><rect x="14" y="21" width="1.7" height="1.7" fill="#3158af"/><rect x="15" y="21" width="2.7" height="1.7" fill="#000010"/><rect x="17" y="21" width="1.7" height="1.7" fill="#1e346d"/><rect x="18" y="21" width="1.7" height="1.7" fill="#233f82"/><rect x="19" y="21" width="4.7" height="1.7" fill="#000010"/><rect x="23" y="21" width="1.7" height="1.7" fill="#233f82"/><rect x="24" y="21" width="2.7" height="1.7" fill="#1e346d"/><rect x="26" y="21" width="1.7" height="1.7" fill="#284a97"/><rect x="27" y="21" width="5.7" height="1.7" fill="#2c56ac"/><rect x="32" y="21" width="1.7" height="1.7" fill="#284a97"/><rect x="33" y="21" width="1" height="1.7" fill="#233f82"/><rect x="0" y="22" width="1.7" height="1.7" fill="#000010"/><rect x="1" y="22" width="1.7" height="1.7" fill="#1e346d"/><rect x="2" y="22" width="4.7" height="1.7" fill="#000010"/><rect x="6" y="22" width="1.7" height="1.7" fill="#1e346d"/><rect x="7" y="22" width="1.7" height="1.7" fill="#2c56ac"/><rect x="8" y="22" width="2.7" height="1.7" fill="#3158af"/><rect x="10" y="22" width="1.7" height="1.7" fill="#3c55ac"/><rect x="11" y="22" width="1.7" height="1.7" fill="#921a30"/><rect x="12" y="22" width="1.7" height="1.7" fill="#b01c30"/><rect x="13" y="22" width="1.7" height="1.7" fill="#3c55ac"/><rect x="14" y="22" width="1.7" height="1.7" fill="#233f82"/><rect x="15" y="22" width="2.7" height="1.7" fill="#000010"/><rect x="17" y="22" width="1.7" height="1.7" fill="#3158af"/><rect x="18" y="22" width="1.7" height="1.7" fill="#433181"/><rect x="19" y="22" width="1.7" height="1.7" fill="#3c55ac"/><rect x="20" y="22" width="1.7" height="1.7" fill="#233f82"/><rect x="21" y="22" width="1.7" height="1.7" fill="#1a2858"/><rect x="22" y="22" width="1.7" height="1.7" fill="#284a97"/><rect x="23" y="22" width="1.7" height="1.7" fill="#2c56ac"/><rect x="24" y="22" width="1.7" height="1.7" fill="#1e346d"/><rect x="25" y="22" width="2.7" height="1.7" fill="#000010"/><rect x="27" y="22" width="1.7" height="1.7" fill="#1e346d"/><rect x="28" y="22" width="1.7" height="1.7" fill="#1a2858"/><rect x="29" y="22" width="1.7" height="1.7" fill="#000010"/><rect x="30" y="22" width="1.7" height="1.7" fill="#1a2858"/><rect x="31" y="22" width="1.7" height="1.7" fill="#1e346d"/><rect x="32" y="22" width="1.7" height="1.7" fill="#233f82"/><rect x="33" y="22" width="1" height="1.7" fill="#284a97"/><rect x="0" y="23" width="1.7" height="1.7" fill="#000010"/><rect x="1" y="23" width="2.7" height="1.7" fill="#284a97"/><rect x="3" y="23" width="1.7" height="1.7" fill="#000010"/><rect x="4" y="23" width="1.7" height="1.7" fill="#1a2858"/><rect x="5" y="23" width="1.7" height="1.7" fill="#000010"/><rect x="6" y="23" width="1.7" height="1.7" fill="#1e346d"/><rect x="7" y="23" width="5.7" height="1.7" fill="#3158af"/><rect x="12" y="23" width="1.7" height="1.7" fill="#284a97"/><rect x="13" y="23" width="3.7" height="1.7" fill="#000010"/><rect x="16" y="23" width="1.7" height="1.7" fill="#2c56ac"/><rect x="17" y="23" width="1.7" height="1.7" fill="#e12731"/><rect x="18" y="23" width="1.7" height="1.7" fill="#f09833"/><rect x="19" y="23" width="1.7" height="1.7" fill="#ee6e40"/><rect x="20" y="23" width="1.7" height="1.7" fill="#571f5d"/><rect x="21" y="23" width="1.7" height="1.7" fill="#2c56ac"/><rect x="22" y="23" width="2.7" height="1.7" fill="#3158af"/><rect x="24" y="23" width="1.7" height="1.7" fill="#233f82"/><rect x="25" y="23" width="7.7" height="1.7" fill="#000010"/><rect x="32" y="23" width="1.7" height="1.7" fill="#233f82"/><rect x="33" y="23" width="1" height="1.7" fill="#2c56ac"/><rect x="0" y="24" width="2.7" height="1.7" fill="#233f82"/><rect x="2" y="24" width="1.7" height="1.7" fill="#284a97"/><rect x="3" y="24" width="1.7" height="1.7" fill="#1e346d"/><rect x="4" y="24" width="2.7" height="1.7" fill="#000010"/><rect x="6" y="24" width="2.7" height="1.7" fill="#233f82"/><rect x="8" y="24" width="2.7" height="1.7" fill="#2c56ac"/><rect x="10" y="24" width="1.7" height="1.7" fill="#3158af"/><rect x="11" y="24" width="1.7" height="1.7" fill="#2c56ac"/><rect x="12" y="24" width="1.7" height="1.7" fill="#233f82"/><rect x="13" y="24" width="3.7" height="1.7" fill="#000010"/><rect x="16" y="24" width="1.7" height="1.7" fill="#3c55ac"/><rect x="17" y="24" width="1.7" height="1.7" fill="#ef8a37"/><rect x="18" y="24" width="1.7" height="1.7" fill="#d6e074"/><rect x="19" y="24" width="1.7" height="1.7" fill="#b1b943"/><rect x="20" y="24" width="1.7" height="1.7" fill="#e12731"/><rect x="21" y="24" width="1.7" height="1.7" fill="#3158af"/><rect x="22" y="24" width="1.7" height="1.7" fill="#284a97"/><rect x="23" y="24" width="1.7" height="1.7" fill="#233f82"/><rect x="24" y="24" width="1.7" height="1.7" fill="#2c56ac"/><rect x="25" y="24" width="1.7" height="1.7" fill="#1e346d"/><rect x="26" y="24" width="4.7" height="1.7" fill="#000010"/><rect x="30" y="24" width="2.7" height="1.7" fill="#1e346d"/><rect x="32" y="24" width="1.7" height="1.7" fill="#000010"/><rect x="33" y="24" width="1" height="1.7" fill="#2c56ac"/><rect x="0" y="25" width="1.7" height="1.7" fill="#3158af"/><rect x="1" y="25" width="2.7" height="1.7" fill="#2c56ac"/><rect x="3" y="25" width="4.7" height="1.7" fill="#233f82"/><rect x="7" y="25" width="1.7" height="1.7" fill="#284a97"/><rect x="8" y="25" width="3.7" height="1.7" fill="#3158af"/><rect x="11" y="25" width="1.7" height="1.7" fill="#284a97"/><rect x="12" y="25" width="4.7" height="1.7" fill="#000010"/><rect x="16" y="25" width="1.7" height="1.7" fill="#365ab2"/><rect x="17" y="25" width="1.7" height="1.7" fill="#eb5c3c"/><rect x="18" y="25" width="1.7" height="1.7" fill="#a2a834"/><rect x="19" y="25" width="1.7" height="1.7" fill="#dc9d2d"/><rect x="20" y="25" width="1.7" height="1.7" fill="#b01c30"/><rect x="21" y="25" width="1.7" height="1.7" fill="#284a97"/><rect x="22" y="25" width="2.7" height="1.7" fill="#1e346d"/><rect x="24" y="25" width="1.7" height="1.7" fill="#284a97"/><rect x="25" y="25" width="1.7" height="1.7" fill="#1a2858"/><rect x="26" y="25" width="4.7" height="1.7" fill="#000010"/><rect x="30" y="25" width="1.7" height="1.7" fill="#1a2858"/><rect x="31" y="25" width="1.7" height="1.7" fill="#1e346d"/><rect x="32" y="25" width="1.7" height="1.7" fill="#1a2858"/><rect x="33" y="25" width="1" height="1.7" fill="#1e346d"/><rect x="0" y="26" width="4.7" height="1.7" fill="#2c56ac"/><rect x="4" y="26" width="1.7" height="1.7" fill="#3158af"/><rect x="5" y="26" width="1.7" height="1.7" fill="#233f82"/><rect x="6" y="26" width="1.7" height="1.7" fill="#1e346d"/><rect x="7" y="26" width="1.7" height="1.7" fill="#433181"/><rect x="8" y="26" width="1.7" height="1.7" fill="#ce1e30"/><rect x="9" y="26" width="1.7" height="1.7" fill="#433181"/><rect x="10" y="26" width="1.7" height="1.7" fill="#3158af"/><rect x="11" y="26" width="1.7" height="1.7" fill="#233f82"/><rect x="12" y="26" width="4.7" height="1.7" fill="#000010"/><rect x="16" y="26" width="1.7" height="1.7" fill="#233f82"/><rect x="17" y="26" width="1.7" height="1.7" fill="#433181"/><rect x="18" y="26" width="1.7" height="1.7" fill="#ce1e30"/><rect x="19" y="26" width="1.7" height="1.7" fill="#921a30"/><rect x="20" y="26" width="1.7" height="1.7" fill="#3158af"/><rect x="21" y="26" width="2.7" height="1.7" fill="#1e346d"/><rect x="23" y="26" width="1.7" height="1.7" fill="#233f82"/><rect x="24" y="26" width="1.7" height="1.7" fill="#284a97"/><rect x="25" y="26" width="1.7" height="1.7" fill="#1a2858"/><rect x="26" y="26" width="1.7" height="1.7" fill="#000010"/><rect x="27" y="26" width="1.7" height="1.7" fill="#233f82"/><rect x="28" y="26" width="1.7" height="1.7" fill="#3158af"/><rect x="29" y="26" width="1.7" height="1.7" fill="#3c55ac"/><rect x="30" y="26" width="1.7" height="1.7" fill="#3158af"/><rect x="31" y="26" width="1.7" height="1.7" fill="#233f82"/><rect x="32" y="26" width="1.7" height="1.7" fill="#1e346d"/><rect x="33" y="26" width="1" height="1.7" fill="#000010"/><rect x="0" y="27" width="1.7" height="1.7" fill="#1a2858"/><rect x="1" y="27" width="3.7" height="1.7" fill="#000010"/><rect x="4" y="27" width="1.7" height="1.7" fill="#1e346d"/><rect x="5" y="27" width="2.7" height="1.7" fill="#000010"/><rect x="7" y="27" width="1.7" height="1.7" fill="#741a3d"/><rect x="8" y="27" width="1.7" height="1.7" fill="#e43935"/><rect x="9" y="27" width="1.7" height="1.7" fill="#741a3d"/><rect x="10" y="27" width="1.7" height="1.7" fill="#2c56ac"/><rect x="11" y="27" width="1.7" height="1.7" fill="#233f82"/><rect x="12" y="27" width="5.7" height="1.7" fill="#000010"/><rect x="17" y="27" width="1.7" height="1.7" fill="#233f82"/><rect x="18" y="27" width="1.7" height="1.7" fill="#284a97"/><rect x="19" y="27" width="1.7" height="1.7" fill="#2c56ac"/><rect x="20" y="27" width="1.7" height="1.7" fill="#3158af"/><rect x="21" y="27" width="1.7" height="1.7" fill="#233f82"/><rect x="22" y="27" width="2.7" height="1.7" fill="#284a97"/><rect x="24" y="27" width="3.7" height="1.7" fill="#000010"/><rect x="27" y="27" width="1.7" height="1.7" fill="#365ab2"/><rect x="28" y="27" width="1.7" height="1.7" fill="#e12731"/><rect x="29" y="27" width="1.7" height="1.7" fill="#ef7c3c"/><rect x="30" y="27" width="1.7" height="1.7" fill="#e84b39"/><rect x="31" y="27" width="1.7" height="1.7" fill="#571f5d"/><rect x="32" y="27" width="1.7" height="1.7" fill="#233f82"/><rect x="33" y="27" width="1" height="1.7" fill="#000010"/><rect x="0" y="28" width="7.7" height="1.7" fill="#000010"/><rect x="7" y="28" width="1.7" height="1.7" fill="#2c56ac"/><rect x="8" y="28" width="1.7" height="1.7" fill="#3c55ac"/><rect x="9" y="28" width="1.7" height="1.7" fill="#2c56ac"/><rect x="10" y="28" width="1.7" height="1.7" fill="#1e346d"/><rect x="11" y="28" width="8.7" height="1.7" fill="#000010"/><rect x="19" y="28" width="1.7" height="1.7" fill="#284a97"/><rect x="20" y="28" width="1.7" height="1.7" fill="#3158af"/><rect x="21" y="28" width="2.7" height="1.7" fill="#2c56ac"/><rect x="23" y="28" width="1.7" height="1.7" fill="#284a97"/><rect x="24" y="28" width="1.7" height="1.7" fill="#1e346d"/><rect x="25" y="28" width="1.7" height="1.7" fill="#1a2858"/><rect x="26" y="28" width="1.7" height="1.7" fill="#284a97"/><rect x="27" y="28" width="1.7" height="1.7" fill="#b01c30"/><rect x="28" y="28" width="1.7" height="1.7" fill="#929726"/><rect x="29" y="28" width="1.7" height="1.7" fill="#e3e89c"/><rect x="30" y="28" width="1.7" height="1.7" fill="#c1cb51"/><rect x="31" y="28" width="1.7" height="1.7" fill="#e43935"/><rect x="32" y="28" width="1.7" height="1.7" fill="#3158af"/><rect x="33" y="28" width="1" height="1.7" fill="#000010"/><rect x="0" y="29" width="10.7" height="1.7" fill="#000010"/><rect x="10" y="29" width="1.7" height="1.7" fill="#1a2858"/><rect x="11" y="29" width="8.7" height="1.7" fill="#000010"/><rect x="19" y="29" width="1.7" height="1.7" fill="#233f82"/><rect x="20" y="29" width="1.7" height="1.7" fill="#3158af"/><rect x="21" y="29" width="1.7" height="1.7" fill="#2c56ac"/><rect x="22" y="29" width="1.7" height="1.7" fill="#284a97"/><rect x="23" y="29" width="1.7" height="1.7" fill="#233f82"/><rect x="24" y="29" width="1.7" height="1.7" fill="#1e346d"/><rect x="25" y="29" width="1.7" height="1.7" fill="#1a2858"/><rect x="26" y="29" width="1.7" height="1.7" fill="#284a97"/><rect x="27" y="29" width="1.7" height="1.7" fill="#ce1e30"/><rect x="28" y="29" width="1.7" height="1.7" fill="#b1b943"/><rect x="29" y="29" width="1.7" height="1.7" fill="#eff1c4"/><rect x="30" y="29" width="1.7" height="1.7" fill="#d6e074"/><rect x="31" y="29" width="1.7" height="1.7" fill="#eb5c3c"/><rect x="32" y="29" width="1.7" height="1.7" fill="#3158af"/><rect x="33" y="29" width="1" height="1.7" fill="#000010"/><rect x="0" y="30" width="12.7" height="1.7" fill="#000010"/><rect x="12" y="30" width="1.7" height="1.7" fill="#233f82"/><rect x="13" y="30" width="1.7" height="1.7" fill="#1e346d"/><rect x="14" y="30" width="4.7" height="1.7" fill="#000010"/><rect x="18" y="30" width="1.7" height="1.7" fill="#233f82"/><rect x="19" y="30" width="2.7" height="1.7" fill="#1e346d"/><rect x="21" y="30" width="2.7" height="1.7" fill="#284a97"/><rect x="23" y="30" width="1.7" height="1.7" fill="#233f82"/><rect x="24" y="30" width="1.7" height="1.7" fill="#1e346d"/><rect x="25" y="30" width="2.7" height="1.7" fill="#233f82"/><rect x="27" y="30" width="1.7" height="1.7" fill="#571f5d"/><rect x="28" y="30" width="1.7" height="1.7" fill="#ef7c3c"/><rect x="29" y="30" width="1.7" height="1.7" fill="#929726"/><rect x="30" y="30" width="1.7" height="1.7" fill="#f09833"/><rect x="31" y="30" width="1.7" height="1.7" fill="#b01c30"/><rect x="32" y="30" width="1.7" height="1.7" fill="#284a97"/><rect x="33" y="30" width="1" height="1.7" fill="#000010"/><rect x="0" y="31" width="11.7" height="1.7" fill="#000010"/><rect x="11" y="31" width="1.7" height="1.7" fill="#1e346d"/><rect x="12" y="31" width="1.7" height="1.7" fill="#284a97"/><rect x="13" y="31" width="1.7" height="1.7" fill="#233f82"/><rect x="14" y="31" width="4.7" height="1.7" fill="#000010"/><rect x="18" y="31" width="1.7" height="1.7" fill="#1e346d"/><rect x="19" y="31" width="6.7" height="1.7" fill="#000010"/><rect x="25" y="31" width="2.7" height="1.7" fill="#1e346d"/><rect x="27" y="31" width="1.7" height="1.7" fill="#284a97"/><rect x="28" y="31" width="1.7" height="1.7" fill="#433181"/><rect x="29" y="31" width="1.7" height="1.7" fill="#921a30"/><rect x="30" y="31" width="1.7" height="1.7" fill="#571f5d"/><rect x="31" y="31" width="1.7" height="1.7" fill="#2c56ac"/><rect x="32" y="31" width="2" height="1.7" fill="#000010"/><rect x="0" y="32" width="6.7" height="1.7" fill="#000010"/><rect x="6" y="32" width="1.7" height="1.7" fill="#233f82"/><rect x="7" y="32" width="1.7" height="1.7" fill="#2c56ac"/><rect x="8" y="32" width="1.7" height="1.7" fill="#284a97"/><rect x="9" y="32" width="1.7" height="1.7" fill="#1e346d"/><rect x="10" y="32" width="1.7" height="1.7" fill="#2c56ac"/><rect x="11" y="32" width="1.7" height="1.7" fill="#284a97"/><rect x="12" y="32" width="2.7" height="1.7" fill="#233f82"/><rect x="14" y="32" width="11.7" height="1.7" fill="#000010"/><rect x="25" y="32" width="2.7" height="1.7" fill="#1a2858"/><rect x="27" y="32" width="1.7" height="1.7" fill="#000010"/><rect x="28" y="32" width="1.7" height="1.7" fill="#1e346d"/><rect x="29" y="32" width="2.7" height="1.7" fill="#233f82"/><rect x="31" y="32" width="2.7" height="1.7" fill="#284a97"/><rect x="33" y="32" width="1" height="1.7" fill="#1e346d"/><rect x="0" y="33" width="1.7" height="1" fill="#233f82"/><rect x="1" y="33" width="1.7" height="1" fill="#1a2858"/><rect x="2" y="33" width="4.7" height="1" fill="#000010"/><rect x="6" y="33" width="1.7" height="1" fill="#233f82"/><rect x="7" y="33" width="6.7" height="1" fill="#3158af"/><rect x="13" y="33" width="1.7" height="1" fill="#2c56ac"/><rect x="14" y="33" width="1.7" height="1" fill="#1a2858"/><rect x="15" y="33" width="12.7" height="1" fill="#000010"/><rect x="27" y="33" width="3.7" height="1" fill="#284a97"/><rect x="30" y="33" width="1.7" height="1" fill="#2c56ac"/><rect x="31" y="33" width="2.7" height="1" fill="#3158af"/><rect x="33" y="33" width="1" height="1" fill="#233f82"/></g></g>
<line x1="532.6" y1="391.4" x2="532.6" y2="481" stroke="#a8a8a8" stroke-width="0.8"/><line x1="530.6" y1="481" x2="532.6" y2="481" stroke="#a8a8a8" stroke-width="0.7"/><line x1="530.6" y1="466.1" x2="532.6" y2="466.1" stroke="#a8a8a8" stroke-width="0.7"/><line x1="530.6" y1="451.1" x2="532.6" y2="451.1" stroke="#a8a8a8" stroke-width="0.7"/><line x1="530.6" y1="436.2" x2="532.6" y2="436.2" stroke="#a8a8a8" stroke-width="0.7"/><line x1="530.6" y1="421.2" x2="532.6" y2="421.2" stroke="#a8a8a8" stroke-width="0.7"/><line x1="530.6" y1="406.3" x2="532.6" y2="406.3" stroke="#a8a8a8" stroke-width="0.7"/><line x1="530.6" y1="391.4" x2="532.6" y2="391.4" stroke="#a8a8a8" stroke-width="0.7"/><text x="529.4" y="484.7" font-size="10.4" fill="#2a2222" text-anchor="end">0</text><text x="529.4" y="454.8" font-size="10.4" fill="#2a2222" text-anchor="end">40</text><text x="529.4" y="424.9" font-size="10.4" fill="#2a2222" text-anchor="end">80</text><text x="529.4" y="395.1" font-size="10.4" fill="#2a2222" text-anchor="end">120</text><text x="517.5" y="381.5" font-size="10.4" fill="#2a2222"><tspan font-size="10.4">(pps px</tspan><tspan font-size="6.5" dy="-3.8">-1</tspan><tspan font-size="10.4" dy="3.8">)</tspan></text><rect x="543.5" y="389.8" width="9.9" height="9.5" fill="#7e2f8e"/>
<defs><filter id="fb4" x="-5%" y="-5%" width="110%" height="110%"><feGaussianBlur stdDeviation="0.55"/></filter></defs><g filter="url(#fb4)"><g transform="matrix(2.04,0.48,1.66,-0.63,533.6,480.9)"><rect x="0" y="0" width="34" height="34" fill="#000010"/><rect x="0" y="0" width="1.7" height="1.7" fill="#000010"/><rect x="1" y="0" width="1.7" height="1.7" fill="#1e346d"/><rect x="2" y="0" width="1.7" height="1.7" fill="#3158af"/><rect x="3" y="0" width="1.7" height="1.7" fill="#2c56ac"/><rect x="4" y="0" width="1.7" height="1.7" fill="#1a2858"/><rect x="5" y="0" width="1.7" height="1.7" fill="#233f82"/><rect x="6" y="0" width="1.7" height="1.7" fill="#2c56ac"/><rect x="7" y="0" width="3.7" height="1.7" fill="#3158af"/><rect x="10" y="0" width="1.7" height="1.7" fill="#1e346d"/><rect x="11" y="0" width="1.7" height="1.7" fill="#365ab2"/><rect x="12" y="0" width="1.7" height="1.7" fill="#e12731"/><rect x="13" y="0" width="2.7" height="1.7" fill="#ee6e40"/><rect x="15" y="0" width="1.7" height="1.7" fill="#b01c30"/><rect x="16" y="0" width="1.7" height="1.7" fill="#3158af"/><rect x="17" y="0" width="3.7" height="1.7" fill="#000010"/><rect x="20" y="0" width="2.7" height="1.7" fill="#1a2858"/><rect x="22" y="0" width="8.7" height="1.7" fill="#000010"/><rect x="30" y="0" width="1.7" height="1.7" fill="#1a2858"/><rect x="31" y="0" width="1.7" height="1.7" fill="#1e346d"/><rect x="32" y="0" width="1.7" height="1.7" fill="#000010"/><rect x="33" y="0" width="1" height="1.7" fill="#1e346d"/><rect x="0" y="1" width="1.7" height="1.7" fill="#1a2858"/><rect x="1" y="1" width="3.7" height="1.7" fill="#3158af"/><rect x="4" y="1" width="1.7" height="1.7" fill="#2c56ac"/><rect x="5" y="1" width="1.7" height="1.7" fill="#284a97"/><rect x="6" y="1" width="1.7" height="1.7" fill="#1e346d"/><rect x="7" y="1" width="2.7" height="1.7" fill="#284a97"/><rect x="9" y="1" width="1.7" height="1.7" fill="#1e346d"/><rect x="10" y="1" width="1.7" height="1.7" fill="#284a97"/><rect x="11" y="1" width="1.7" height="1.7" fill="#921a30"/><rect x="12" y="1" width="1.7" height="1.7" fill="#dc9d2d"/><rect x="13" y="1" width="1.7" height="1.7" fill="#d6e074"/><rect x="14" y="1" width="1.7" height="1.7" fill="#d0dc60"/><rect x="15" y="1" width="1.7" height="1.7" fill="#ef7c3c"/><rect x="16" y="1" width="1.7" height="1.7" fill="#571f5d"/><rect x="17" y="1" width="1.7" height="1.7" fill="#233f82"/><rect x="18" y="1" width="7.7" height="1.7" fill="#000010"/><rect x="25" y="1" width="2.7" height="1.7" fill="#1a2858"/><rect x="27" y="1" width="3.7" height="1.7" fill="#000010"/><rect x="30" y="1" width="1.7" height="1.7" fill="#1a2858"/><rect x="31" y="1" width="3" height="1.7" fill="#000010"/><rect x="0" y="2" width="1.7" height="1.7" fill="#2c56ac"/><rect x="1" y="2" width="1.7" height="1.7" fill="#3158af"/><rect x="2" y="2" width="1.7" height="1.7" fill="#2c56ac"/><rect x="3" y="2" width="1.7" height="1.7" fill="#284a97"/><rect x="4" y="2" width="1.7" height="1.7" fill="#233f82"/><rect x="5" y="2" width="1.7" height="1.7" fill="#1a2858"/><rect x="6" y="2" width="4.7" height="1.7" fill="#000010"/><rect x="10" y="2" width="1.7" height="1.7" fill="#284a97"/><rect x="11" y="2" width="1.7" height="1.7" fill="#ce1e30"/><rect x="12" y="2" width="1.7" height="1.7" fill="#a2a834"/><rect x="13" y="2" width="1.7" height="1.7" fill="#eff1c4"/><rect x="14" y="2" width="1.7" height="1.7" fill="#e9edb0"/><rect x="15" y="2" width="1.7" height="1.7" fill="#dc9d2d"/><rect x="16" y="2" width="1.7" height="1.7" fill="#741a3d"/><rect x="17" y="2" width="1.7" height="1.7" fill="#233f82"/><rect x="18" y="2" width="5.7" height="1.7" fill="#000010"/><rect x="23" y="2" width="1.7" height="1.7" fill="#131e46"/><rect x="24" y="2" width="1.7" height="1.7" fill="#233f82"/><rect x="25" y="2" width="1.7" height="1.7" fill="#2c56ac"/><rect x="26" y="2" width="1.7" height="1.7" fill="#233f82"/><rect x="27" y="2" width="1.7" height="1.7" fill="#1a2858"/><rect x="28" y="2" width="1.7" height="1.7" fill="#233f82"/><rect x="29" y="2" width="1.7" height="1.7" fill="#284a97"/><rect x="30" y="2" width="1.7" height="1.7" fill="#1a2858"/><rect x="31" y="2" width="3" height="1.7" fill="#000010"/><rect x="0" y="3" width="2.7" height="1.7" fill="#3158af"/><rect x="2" y="3" width="2.7" height="1.7" fill="#233f82"/><rect x="4" y="3" width="1.7" height="1.7" fill="#1e346d"/><rect x="5" y="3" width="1.7" height="1.7" fill="#1a2858"/><rect x="6" y="3" width="4.7" height="1.7" fill="#000010"/><rect x="10" y="3" width="1.7" height="1.7" fill="#284a97"/><rect x="11" y="3" width="1.7" height="1.7" fill="#741a3d"/><rect x="12" y="3" width="1.7" height="1.7" fill="#ef8a37"/><rect x="13" y="3" width="1.7" height="1.7" fill="#c1cb51"/><rect x="14" y="3" width="1.7" height="1.7" fill="#b1b943"/><rect x="15" y="3" width="1.7" height="1.7" fill="#ee6e40"/><rect x="16" y="3" width="1.7" height="1.7" fill="#433181"/><rect x="17" y="3" width="1.7" height="1.7" fill="#233f82"/><rect x="18" y="3" width="6.7" height="1.7" fill="#000010"/><rect x="24" y="3" width="1.7" height="1.7" fill="#284a97"/><rect x="25" y="3" width="1.7" height="1.7" fill="#2c56ac"/><rect x="26" y="3" width="2.7" height="1.7" fill="#284a97"/><rect x="28" y="3" width="1.7" height="1.7" fill="#2c56ac"/><rect x="29" y="3" width="1.7" height="1.7" fill="#3158af"/><rect x="30" y="3" width="1.7" height="1.7" fill="#1a2858"/><rect x="31" y="3" width="3" height="1.7" fill="#000010"/><rect x="0" y="4" width="1.7" height="1.7" fill="#3158af"/><rect x="1" y="4" width="1.7" height="1.7" fill="#284a97"/><rect x="2" y="4" width="1.7" height="1.7" fill="#1e346d"/><rect x="3" y="4" width="1.7" height="1.7" fill="#284a97"/><rect x="4" y="4" width="1.7" height="1.7" fill="#233f82"/><rect x="5" y="4" width="1.7" height="1.7" fill="#1a2858"/><rect x="6" y="4" width="5.7" height="1.7" fill="#000010"/><rect x="11" y="4" width="1.7" height="1.7" fill="#3158af"/><rect x="12" y="4" width="1.7" height="1.7" fill="#921a30"/><rect x="13" y="4" width="1.7" height="1.7" fill="#e84b39"/><rect x="14" y="4" width="1.7" height="1.7" fill="#e43935"/><rect x="15" y="4" width="1.7" height="1.7" fill="#741a3d"/><rect x="16" y="4" width="1.7" height="1.7" fill="#2c56ac"/><rect x="17" y="4" width="1.7" height="1.7" fill="#1a2858"/><rect x="18" y="4" width="6.7" height="1.7" fill="#000010"/><rect x="24" y="4" width="1.7" height="1.7" fill="#1e346d"/><rect x="25" y="4" width="2.7" height="1.7" fill="#284a97"/><rect x="27" y="4" width="1.7" height="1.7" fill="#233f82"/><rect x="28" y="4" width="1.7" height="1.7" fill="#284a97"/><rect x="29" y="4" width="1.7" height="1.7" fill="#2c56ac"/><rect x="30" y="4" width="1.7" height="1.7" fill="#1a2858"/><rect x="31" y="4" width="1.7" height="1.7" fill="#131e46"/><rect x="32" y="4" width="1.7" height="1.7" fill="#233f82"/><rect x="33" y="4" width="1" height="1.7" fill="#1e346d"/><rect x="0" y="5" width="1.7" height="1.7" fill="#233f82"/><rect x="1" y="5" width="1.7" height="1.7" fill="#1a2858"/><rect x="2" y="5" width="1.7" height="1.7" fill="#000010"/><rect x="3" y="5" width="1.7" height="1.7" fill="#1a2858"/><rect x="4" y="5" width="1.7" height="1.7" fill="#284a97"/><rect x="5" y="5" width="1.7" height="1.7" fill="#233f82"/><rect x="6" y="5" width="1.7" height="1.7" fill="#1a2858"/><rect x="7" y="5" width="1.7" height="1.7" fill="#233f82"/><rect x="8" y="5" width="1.7" height="1.7" fill="#1e346d"/><rect x="9" y="5" width="1.7" height="1.7" fill="#131e46"/><rect x="10" y="5" width="2.7" height="1.7" fill="#000010"/><rect x="12" y="5" width="1.7" height="1.7" fill="#284a97"/><rect x="13" y="5" width="2.7" height="1.7" fill="#3158af"/><rect x="15" y="5" width="1.7" height="1.7" fill="#284a97"/><rect x="16" y="5" width="1.7" height="1.7" fill="#233f82"/><rect x="17" y="5" width="1.7" height="1.7" fill="#1a2858"/><rect x="18" y="5" width="1.7" height="1.7" fill="#131e46"/><rect x="19" y="5" width="1.7" height="1.7" fill="#1a2858"/><rect x="20" y="5" width="4.7" height="1.7" fill="#000010"/><rect x="24" y="5" width="1.7" height="1.7" fill="#131e46"/><rect x="25" y="5" width="1.7" height="1.7" fill="#1e346d"/><rect x="26" y="5" width="1.7" height="1.7" fill="#233f82"/><rect x="27" y="5" width="1.7" height="1.7" fill="#1e346d"/><rect x="28" y="5" width="1.7" height="1.7" fill="#233f82"/><rect x="29" y="5" width="1.7" height="1.7" fill="#1e346d"/><rect x="30" y="5" width="1.7" height="1.7" fill="#233f82"/><rect x="31" y="5" width="1.7" height="1.7" fill="#1e346d"/><rect x="32" y="5" width="1.7" height="1.7" fill="#1a2858"/><rect x="33" y="5" width="1" height="1.7" fill="#1e346d"/><rect x="0" y="6" width="4.7" height="1.7" fill="#000010"/><rect x="4" y="6" width="2.7" height="1.7" fill="#284a97"/><rect x="6" y="6" width="1.7" height="1.7" fill="#2c56ac"/><rect x="7" y="6" width="1.7" height="1.7" fill="#3158af"/><rect x="8" y="6" width="1.7" height="1.7" fill="#2c56ac"/><rect x="9" y="6" width="1.7" height="1.7" fill="#1e346d"/><rect x="10" y="6" width="1.7" height="1.7" fill="#000010"/><rect x="11" y="6" width="1.7" height="1.7" fill="#1a2858"/><rect x="12" y="6" width="1.7" height="1.7" fill="#233f82"/><rect x="13" y="6" width="1.7" height="1.7" fill="#284a97"/><rect x="14" y="6" width="1.7" height="1.7" fill="#3c55ac"/><rect x="15" y="6" width="1.7" height="1.7" fill="#741a3d"/><rect x="16" y="6" width="1.7" height="1.7" fill="#571f5d"/><rect x="17" y="6" width="1.7" height="1.7" fill="#3158af"/><rect x="18" y="6" width="1.7" height="1.7" fill="#1e346d"/><rect x="19" y="6" width="1.7" height="1.7" fill="#1a2858"/><rect x="20" y="6" width="5.7" height="1.7" fill="#000010"/><rect x="25" y="6" width="1.7" height="1.7" fill="#1a2858"/><rect x="26" y="6" width="1.7" height="1.7" fill="#1e346d"/><rect x="27" y="6" width="1.7" height="1.7" fill="#233f82"/><rect x="28" y="6" width="1.7" height="1.7" fill="#1a2858"/><rect x="29" y="6" width="1.7" height="1.7" fill="#131e46"/><rect x="30" y="6" width="2.7" height="1.7" fill="#233f82"/><rect x="32" y="6" width="1.7" height="1.7" fill="#000010"/><rect x="33" y="6" width="1" height="1.7" fill="#1e346d"/><rect x="0" y="7" width="3.7" height="1.7" fill="#000010"/><rect x="3" y="7" width="2.7" height="1.7" fill="#131e46"/><rect x="5" y="7" width="1.7" height="1.7" fill="#233f82"/><rect x="6" y="7" width="1.7" height="1.7" fill="#2c56ac"/><rect x="7" y="7" width="1.7" height="1.7" fill="#3158af"/><rect x="8" y="7" width="1.7" height="1.7" fill="#233f82"/><rect x="9" y="7" width="1.7" height="1.7" fill="#131e46"/><rect x="10" y="7" width="2.7" height="1.7" fill="#1e346d"/><rect x="12" y="7" width="1.7" height="1.7" fill="#233f82"/><rect x="13" y="7" width="1.7" height="1.7" fill="#433181"/><rect x="14" y="7" width="1.7" height="1.7" fill="#e43935"/><rect x="15" y="7" width="1.7" height="1.7" fill="#f09833"/><rect x="16" y="7" width="1.7" height="1.7" fill="#ef7c3c"/><rect x="17" y="7" width="1.7" height="1.7" fill="#ce1e30"/><rect x="18" y="7" width="1.7" height="1.7" fill="#3158af"/><rect x="19" y="7" width="1.7" height="1.7" fill="#1a2858"/><rect x="20" y="7" width="3.7" height="1.7" fill="#000010"/><rect x="23" y="7" width="2.7" height="1.7" fill="#1a2858"/><rect x="25" y="7" width="1.7" height="1.7" fill="#1e346d"/><rect x="26" y="7" width="2.7" height="1.7" fill="#233f82"/><rect x="28" y="7" width="1.7" height="1.7" fill="#1a2858"/><rect x="29" y="7" width="1.7" height="1.7" fill="#000010"/><rect x="30" y="7" width="2.7" height="1.7" fill="#233f82"/><rect x="32" y="7" width="1.7" height="1.7" fill="#1a2858"/><rect x="33" y="7" width="1" height="1.7" fill="#131e46"/><rect x="0" y="8" width="5.7" height="1.7" fill="#000010"/><rect x="5" y="8" width="1.7" height="1.7" fill="#131e46"/><rect x="6" y="8" width="1.7" height="1.7" fill="#1a2858"/><rect x="7" y="8" width="1.7" height="1.7" fill="#2c56ac"/><rect x="8" y="8" width="1.7" height="1.7" fill="#1e346d"/><rect x="9" y="8" width="1.7" height="1.7" fill="#000010"/><rect x="10" y="8" width="1.7" height="1.7" fill="#1a2858"/><rect x="11" y="8" width="1.7" height="1.7" fill="#1e346d"/><rect x="12" y="8" width="1.7" height="1.7" fill="#284a97"/><rect x="13" y="8" width="1.7" height="1.7" fill="#921a30"/><rect x="14" y="8" width="1.7" height="1.7" fill="#dc9d2d"/><rect x="15" y="8" width="1.7" height="1.7" fill="#d0dc60"/><rect x="16" y="8" width="1.7" height="1.7" fill="#c1cb51"/><rect x="17" y="8" width="1.7" height="1.7" fill="#ee6e40"/><rect x="18" y="8" width="1.7" height="1.7" fill="#433181"/><rect x="19" y="8" width="1.7" height="1.7" fill="#233f82"/><rect x="20" y="8" width="2.7" height="1.7" fill="#284a97"/><rect x="22" y="8" width="1.7" height="1.7" fill="#1e346d"/><rect x="23" y="8" width="1.7" height="1.7" fill="#1a2858"/><rect x="24" y="8" width="1.7" height="1.7" fill="#000010"/><rect x="25" y="8" width="1.7" height="1.7" fill="#131e46"/><rect x="26" y="8" width="1.7" height="1.7" fill="#1a2858"/><rect x="27" y="8" width="1.7" height="1.7" fill="#233f82"/><rect x="28" y="8" width="1.7" height="1.7" fill="#131e46"/><rect x="29" y="8" width="1.7" height="1.7" fill="#000010"/><rect x="30" y="8" width="1.7" height="1.7" fill="#1a2858"/><rect x="31" y="8" width="1.7" height="1.7" fill="#284a97"/><rect x="32" y="8" width="1.7" height="1.7" fill="#233f82"/><rect x="33" y="8" width="1" height="1.7" fill="#1a2858"/><rect x="0" y="9" width="1.7" height="1.7" fill="#000010"/><rect x="1" y="9" width="2.7" height="1.7" fill="#131e46"/><rect x="3" y="9" width="1.7" height="1.7" fill="#000010"/><rect x="4" y="9" width="1.7" height="1.7" fill="#1a2858"/><rect x="5" y="9" width="2.7" height="1.7" fill="#000010"/><rect x="7" y="9" width="1.7" height="1.7" fill="#233f82"/><rect x="8" y="9" width="1.7" height="1.7" fill="#1a2858"/><rect x="9" y="9" width="2.7" height="1.7" fill="#000010"/><rect x="11" y="9" width="1.7" height="1.7" fill="#1a2858"/><rect x="12" y="9" width="1.7" height="1.7" fill="#284a97"/><rect x="13" y="9" width="1.7" height="1.7" fill="#921a30"/><rect x="14" y="9" width="1.7" height="1.7" fill="#dc9d2d"/><rect x="15" y="9" width="1.7" height="1.7" fill="#d0dc60"/><rect x="16" y="9" width="1.7" height="1.7" fill="#c1cb51"/><rect x="17" y="9" width="1.7" height="1.7" fill="#ee6e40"/><rect x="18" y="9" width="1.7" height="1.7" fill="#433181"/><rect x="19" y="9" width="1.7" height="1.7" fill="#571f5d"/><rect x="20" y="9" width="1.7" height="1.7" fill="#b01c30"/><rect x="21" y="9" width="1.7" height="1.7" fill="#921a30"/><rect x="22" y="9" width="1.7" height="1.7" fill="#365ab2"/><rect x="23" y="9" width="1.7" height="1.7" fill="#233f82"/><rect x="24" y="9" width="3.7" height="1.7" fill="#000010"/><rect x="27" y="9" width="1.7" height="1.7" fill="#233f82"/><rect x="28" y="9" width="1.7" height="1.7" fill="#131e46"/><rect x="29" y="9" width="1.7" height="1.7" fill="#000010"/><rect x="30" y="9" width="1.7" height="1.7" fill="#1a2858"/><rect x="31" y="9" width="2.7" height="1.7" fill="#2c56ac"/><rect x="33" y="9" width="1" height="1.7" fill="#1a2858"/><rect x="0" y="10" width="1.7" height="1.7" fill="#233f82"/><rect x="1" y="10" width="1.7" height="1.7" fill="#1a2858"/><rect x="2" y="10" width="1.7" height="1.7" fill="#1e346d"/><rect x="3" y="10" width="1.7" height="1.7" fill="#233f82"/><rect x="4" y="10" width="1.7" height="1.7" fill="#1a2858"/><rect x="5" y="10" width="1.7" height="1.7" fill="#131e46"/><rect x="6" y="10" width="5.7" height="1.7" fill="#000010"/><rect x="11" y="10" width="1.7" height="1.7" fill="#131e46"/><rect x="12" y="10" width="1.7" height="1.7" fill="#233f82"/><rect x="13" y="10" width="1.7" height="1.7" fill="#3c55ac"/><rect x="14" y="10" width="1.7" height="1.7" fill="#e43935"/><rect x="15" y="10" width="1.7" height="1.7" fill="#ef8a37"/><rect x="16" y="10" width="1.7" height="1.7" fill="#ef7c3c"/><rect x="17" y="10" width="1.7" height="1.7" fill="#b01c30"/><rect x="18" y="10" width="1.7" height="1.7" fill="#741a3d"/><rect x="19" y="10" width="1.7" height="1.7" fill="#ef7c3c"/><rect x="20" y="10" width="1.7" height="1.7" fill="#929726"/><rect x="21" y="10" width="1.7" height="1.7" fill="#dc9d2d"/><rect x="22" y="10" width="1.7" height="1.7" fill="#e12731"/><rect x="23" y="10" width="1.7" height="1.7" fill="#3158af"/><rect x="24" y="10" width="2.7" height="1.7" fill="#000010"/><rect x="26" y="10" width="1.7" height="1.7" fill="#131e46"/><rect x="27" y="10" width="1.7" height="1.7" fill="#1e346d"/><rect x="28" y="10" width="1.7" height="1.7" fill="#131e46"/><rect x="29" y="10" width="1.7" height="1.7" fill="#000010"/><rect x="30" y="10" width="1.7" height="1.7" fill="#1e346d"/><rect x="31" y="10" width="1.7" height="1.7" fill="#2c56ac"/><rect x="32" y="10" width="1.7" height="1.7" fill="#284a97"/><rect x="33" y="10" width="1" height="1.7" fill="#233f82"/><rect x="0" y="11" width="1.7" height="1.7" fill="#921a30"/><rect x="1" y="11" width="1.7" height="1.7" fill="#3158af"/><rect x="2" y="11" width="1.7" height="1.7" fill="#1a2858"/><rect x="3" y="11" width="1.7" height="1.7" fill="#233f82"/><rect x="4" y="11" width="2.7" height="1.7" fill="#284a97"/><rect x="6" y="11" width="1.7" height="1.7" fill="#233f82"/><rect x="7" y="11" width="5.7" height="1.7" fill="#000010"/><rect x="12" y="11" width="1.7" height="1.7" fill="#1e346d"/><rect x="13" y="11" width="1.7" height="1.7" fill="#284a97"/><rect x="14" y="11" width="1.7" height="1.7" fill="#3c55ac"/><rect x="15" y="11" width="2.7" height="1.7" fill="#571f5d"/><rect x="17" y="11" width="1.7" height="1.7" fill="#3158af"/><rect x="18" y="11" width="1.7" height="1.7" fill="#e43935"/><rect x="19" y="11" width="1.7" height="1.7" fill="#b1b943"/><rect x="20" y="11" width="1.7" height="1.7" fill="#eff1c4"/><rect x="21" y="11" width="1.7" height="1.7" fill="#dce488"/><rect x="22" y="11" width="1.7" height="1.7" fill="#ef7c3c"/><rect x="23" y="11" width="1.7" height="1.7" fill="#433181"/><rect x="24" y="11" width="1.7" height="1.7" fill="#1e346d"/><rect x="25" y="11" width="1.7" height="1.7" fill="#000010"/><rect x="26" y="11" width="2.7" height="1.7" fill="#131e46"/><rect x="28" y="11" width="2.7" height="1.7" fill="#000010"/><rect x="30" y="11" width="1.7" height="1.7" fill="#1e346d"/><rect x="31" y="11" width="1.7" height="1.7" fill="#3158af"/><rect x="32" y="11" width="1.7" height="1.7" fill="#2c56ac"/><rect x="33" y="11" width="1" height="1.7" fill="#284a97"/><rect x="0" y="12" width="1.7" height="1.7" fill="#ee6e40"/><rect x="1" y="12" width="1.7" height="1.7" fill="#571f5d"/><rect x="2" y="12" width="1.7" height="1.7" fill="#284a97"/><rect x="3" y="12" width="1.7" height="1.7" fill="#3c55ac"/><rect x="4" y="12" width="2.7" height="1.7" fill="#741a3d"/><rect x="6" y="12" width="1.7" height="1.7" fill="#3c55ac"/><rect x="7" y="12" width="1.7" height="1.7" fill="#284a97"/><rect x="8" y="12" width="1.7" height="1.7" fill="#1a2858"/><rect x="9" y="12" width="3.7" height="1.7" fill="#000010"/><rect x="12" y="12" width="1.7" height="1.7" fill="#1a2858"/><rect x="13" y="12" width="1.7" height="1.7" fill="#131e46"/><rect x="14" y="12" width="1.7" height="1.7" fill="#1e346d"/><rect x="15" y="12" width="1.7" height="1.7" fill="#2c56ac"/><rect x="16" y="12" width="1.7" height="1.7" fill="#284a97"/><rect x="17" y="12" width="1.7" height="1.7" fill="#3158af"/><rect x="18" y="12" width="1.7" height="1.7" fill="#e12731"/><rect x="19" y="12" width="1.7" height="1.7" fill="#b1b943"/><rect x="20" y="12" width="1.7" height="1.7" fill="#e9edb0"/><rect x="21" y="12" width="1.7" height="1.7" fill="#d6e074"/><rect x="22" y="12" width="1.7" height="1.7" fill="#ef7c3c"/><rect x="23" y="12" width="1.7" height="1.7" fill="#433181"/><rect x="24" y="12" width="1.7" height="1.7" fill="#1e346d"/><rect x="25" y="12" width="1.7" height="1.7" fill="#000010"/><rect x="26" y="12" width="1.7" height="1.7" fill="#1a2858"/><rect x="27" y="12" width="3.7" height="1.7" fill="#000010"/><rect x="30" y="12" width="1.7" height="1.7" fill="#1e346d"/><rect x="31" y="12" width="3" height="1.7" fill="#2c56ac"/><rect x="0" y="13" width="1.7" height="1.7" fill="#e43935"/><rect x="1" y="13" width="2.7" height="1.7" fill="#3c55ac"/><rect x="3" y="13" width="1.7" height="1.7" fill="#e43935"/><rect x="4" y="13" width="2.7" height="1.7" fill="#f09833"/><rect x="6" y="13" width="1.7" height="1.7" fill="#e84b39"/><rect x="7" y="13" width="1.7" height="1.7" fill="#571f5d"/><rect x="8" y="13" width="1.7" height="1.7" fill="#284a97"/><rect x="9" y="13" width="1.7" height="1.7" fill="#000010"/><rect x="10" y="13" width="1.7" height="1.7" fill="#131e46"/><rect x="11" y="13" width="4.7" height="1.7" fill="#000010"/><rect x="15" y="13" width="1.7" height="1.7" fill="#284a97"/><rect x="16" y="13" width="1.7" height="1.7" fill="#3158af"/><rect x="17" y="13" width="1.7" height="1.7" fill="#284a97"/><rect x="18" y="13" width="1.7" height="1.7" fill="#741a3d"/><rect x="19" y="13" width="1.7" height="1.7" fill="#ee6e40"/><rect x="20" y="13" width="1.7" height="1.7" fill="#aa9525"/><rect x="21" y="13" width="1.7" height="1.7" fill="#ef8a37"/><rect x="22" y="13" width="1.7" height="1.7" fill="#ce1e30"/><rect x="23" y="13" width="1.7" height="1.7" fill="#3158af"/><rect x="24" y="13" width="2.7" height="1.7" fill="#000010"/><rect x="26" y="13" width="1.7" height="1.7" fill="#1a2858"/><rect x="27" y="13" width="2.7" height="1.7" fill="#233f82"/><rect x="29" y="13" width="1.7" height="1.7" fill="#2c56ac"/><rect x="30" y="13" width="2.7" height="1.7" fill="#3158af"/><rect x="32" y="13" width="1.7" height="1.7" fill="#2c56ac"/><rect x="33" y="13" width="1" height="1.7" fill="#233f82"/><rect x="0" y="14" width="1.7" height="1.7" fill="#365ab2"/><rect x="1" y="14" width="1.7" height="1.7" fill="#2c56ac"/><rect x="2" y="14" width="1.7" height="1.7" fill="#b01c30"/><rect x="3" y="14" width="1.7" height="1.7" fill="#aa9525"/><rect x="4" y="14" width="1.7" height="1.7" fill="#e3e89c"/><rect x="5" y="14" width="1.7" height="1.7" fill="#e9edb0"/><rect x="6" y="14" width="1.7" height="1.7" fill="#a2a834"/><rect x="7" y="14" width="1.7" height="1.7" fill="#e12731"/><rect x="8" y="14" width="1.7" height="1.7" fill="#3158af"/><rect x="9" y="14" width="1.7" height="1.7" fill="#000010"/><rect x="10" y="14" width="1.7" height="1.7" fill="#1e346d"/><rect x="11" y="14" width="1.7" height="1.7" fill="#131e46"/><rect x="12" y="14" width="1.7" height="1.7" fill="#000010"/><rect x="13" y="14" width="1.7" height="1.7" fill="#131e46"/><rect x="14" y="14" width="1.7" height="1.7" fill="#1a2858"/><rect x="15" y="14" width="1.7" height="1.7" fill="#233f82"/><rect x="16" y="14" width="1.7" height="1.7" fill="#284a97"/><rect x="17" y="14" width="1.7" height="1.7" fill="#1a2858"/><rect x="18" y="14" width="1.7" height="1.7" fill="#2c56ac"/><rect x="19" y="14" width="1.7" height="1.7" fill="#433181"/><rect x="20" y="14" width="1.7" height="1.7" fill="#921a30"/><rect x="21" y="14" width="1.7" height="1.7" fill="#571f5d"/><rect x="22" y="14" width="1.7" height="1.7" fill="#3158af"/><rect x="23" y="14" width="1.7" height="1.7" fill="#233f82"/><rect x="24" y="14" width="2.7" height="1.7" fill="#000010"/><rect x="26" y="14" width="1.7" height="1.7" fill="#1e346d"/><rect x="27" y="14" width="1.7" height="1.7" fill="#233f82"/><rect x="28" y="14" width="1.7" height="1.7" fill="#284a97"/><rect x="29" y="14" width="3.7" height="1.7" fill="#3158af"/><rect x="32" y="14" width="1.7" height="1.7" fill="#2c56ac"/><rect x="33" y="14" width="1" height="1.7" fill="#233f82"/><rect x="0" y="15" width="1.7" height="1.7" fill="#1e346d"/><rect x="1" y="15" width="1.7" height="1.7" fill="#2c56ac"/><rect x="2" y="15" width="1.7" height="1.7" fill="#e12731"/><rect x="3" y="15" width="1.7" height="1.7" fill="#a2a834"/><rect x="4" y="15" width="1.7" height="1.7" fill="#f4f6d8"/><rect x="5" y="15" width="1.7" height="1.7" fill="#fafaeb"/><rect x="6" y="15" width="1.7" height="1.7" fill="#d0dc60"/><rect x="7" y="15" width="1.7" height="1.7" fill="#e84b39"/><rect x="8" y="15" width="1.7" height="1.7" fill="#365ab2"/><rect x="9" y="15" width="1.7" height="1.7" fill="#131e46"/><rect x="10" y="15" width="1.7" height="1.7" fill="#1e346d"/><rect x="11" y="15" width="1.7" height="1.7" fill="#1a2858"/><rect x="12" y="15" width="1.7" height="1.7" fill="#233f82"/><rect x="13" y="15" width="1.7" height="1.7" fill="#3158af"/><rect x="14" y="15" width="1.7" height="1.7" fill="#2c56ac"/><rect x="15" y="15" width="1.7" height="1.7" fill="#131e46"/><rect x="16" y="15" width="3.7" height="1.7" fill="#000010"/><rect x="19" y="15" width="1.7" height="1.7" fill="#233f82"/><rect x="20" y="15" width="1.7" height="1.7" fill="#284a97"/><rect x="21" y="15" width="1.7" height="1.7" fill="#233f82"/><rect x="22" y="15" width="3.7" height="1.7" fill="#000010"/><rect x="25" y="15" width="1.7" height="1.7" fill="#131e46"/><rect x="26" y="15" width="1.7" height="1.7" fill="#233f82"/><rect x="27" y="15" width="1.7" height="1.7" fill="#1a2858"/><rect x="28" y="15" width="1.7" height="1.7" fill="#233f82"/><rect x="29" y="15" width="1.7" height="1.7" fill="#2c56ac"/><rect x="30" y="15" width="2.7" height="1.7" fill="#3158af"/><rect x="32" y="15" width="2" height="1.7" fill="#284a97"/><rect x="0" y="16" width="1.7" height="1.7" fill="#131e46"/><rect x="1" y="16" width="1.7" height="1.7" fill="#284a97"/><rect x="2" y="16" width="1.7" height="1.7" fill="#921a30"/><rect x="3" y="16" width="1.7" height="1.7" fill="#f09833"/><rect x="4" y="16" width="1.7" height="1.7" fill="#d6e074"/><rect x="5" y="16" width="1.7" height="1.7" fill="#dce488"/><rect x="6" y="16" width="1.7" height="1.7" fill="#aa9525"/><rect x="7" y="16" width="1.7" height="1.7" fill="#ce1e30"/><rect x="8" y="16" width="1.7" height="1.7" fill="#3158af"/><rect x="9" y="16" width="2.7" height="1.7" fill="#2c56ac"/><rect x="11" y="16" width="2.7" height="1.7" fill="#233f82"/><rect x="13" y="16" width="1.7" height="1.7" fill="#3158af"/><rect x="14" y="16" width="1.7" height="1.7" fill="#284a97"/><rect x="15" y="16" width="1.7" height="1.7" fill="#000010"/><rect x="16" y="16" width="1.7" height="1.7" fill="#131e46"/><rect x="17" y="16" width="2.7" height="1.7" fill="#000010"/><rect x="19" y="16" width="1.7" height="1.7" fill="#233f82"/><rect x="20" y="16" width="1.7" height="1.7" fill="#284a97"/><rect x="21" y="16" width="1.7" height="1.7" fill="#233f82"/><rect x="22" y="16" width="1.7" height="1.7" fill="#000010"/><rect x="23" y="16" width="4.7" height="1.7" fill="#233f82"/><rect x="27" y="16" width="1.7" height="1.7" fill="#2c56ac"/><rect x="28" y="16" width="1.7" height="1.7" fill="#284a97"/><rect x="29" y="16" width="1.7" height="1.7" fill="#1e346d"/><rect x="30" y="16" width="1.7" height="1.7" fill="#233f82"/><rect x="31" y="16" width="1.7" height="1.7" fill="#433181"/><rect x="32" y="16" width="1.7" height="1.7" fill="#b01c30"/><rect x="33" y="16" width="1" height="1.7" fill="#ce1e30"/><rect x="0" y="17" width="1.7" height="1.7" fill="#000010"/><rect x="1" y="17" width="1.7" height="1.7" fill="#233f82"/><rect x="2" y="17" width="1.7" height="1.7" fill="#365ab2"/><rect x="3" y="17" width="1.7" height="1.7" fill="#ce1e30"/><rect x="4" y="17" width="2.7" height="1.7" fill="#ef7c3c"/><rect x="6" y="17" width="1.7" height="1.7" fill="#e43935"/><rect x="7" y="17" width="1.7" height="1.7" fill="#433181"/><rect x="8" y="17" width="1.7" height="1.7" fill="#365ab2"/><rect x="9" y="17" width="1.7" height="1.7" fill="#b01c30"/><rect x="10" y="17" width="1.7" height="1.7" fill="#ce1e30"/><rect x="11" y="17" width="1.7" height="1.7" fill="#433181"/><rect x="12" y="17" width="1.7" height="1.7" fill="#233f82"/><rect x="13" y="17" width="2.7" height="1.7" fill="#1e346d"/><rect x="15" y="17" width="1.7" height="1.7" fill="#131e46"/><rect x="16" y="17" width="2.7" height="1.7" fill="#1e346d"/><rect x="18" y="17" width="1.7" height="1.7" fill="#131e46"/><rect x="19" y="17" width="2.7" height="1.7" fill="#1e346d"/><rect x="21" y="17" width="1.7" height="1.7" fill="#131e46"/><rect x="22" y="17" width="1.7" height="1.7" fill="#284a97"/><rect x="23" y="17" width="1.7" height="1.7" fill="#433181"/><rect x="24" y="17" width="1.7" height="1.7" fill="#921a30"/><rect x="25" y="17" width="1.7" height="1.7" fill="#741a3d"/><rect x="26" y="17" width="1.7" height="1.7" fill="#365ab2"/><rect x="27" y="17" width="1.7" height="1.7" fill="#3158af"/><rect x="28" y="17" width="1.7" height="1.7" fill="#233f82"/><rect x="29" y="17" width="1.7" height="1.7" fill="#000010"/><rect x="30" y="17" width="1.7" height="1.7" fill="#3158af"/><rect x="31" y="17" width="1.7" height="1.7" fill="#e43935"/><rect x="32" y="17" width="2" height="1.7" fill="#aa9525"/><rect x="0" y="18" width="2.7" height="1.7" fill="#1a2858"/><rect x="2" y="18" width="2.7" height="1.7" fill="#3158af"/><rect x="4" y="18" width="2.7" height="1.7" fill="#433181"/><rect x="6" y="18" width="1.7" height="1.7" fill="#365ab2"/><rect x="7" y="18" width="1.7" height="1.7" fill="#2c56ac"/><rect x="8" y="18" width="1.7" height="1.7" fill="#571f5d"/><rect x="9" y="18" width="1.7" height="1.7" fill="#eb5c3c"/><rect x="10" y="18" width="1.7" height="1.7" fill="#ef7c3c"/><rect x="11" y="18" width="1.7" height="1.7" fill="#ce1e30"/><rect x="12" y="18" width="1.7" height="1.7" fill="#2c56ac"/><rect x="13" y="18" width="1.7" height="1.7" fill="#131e46"/><rect x="14" y="18" width="1.7" height="1.7" fill="#1a2858"/><rect x="15" y="18" width="3.7" height="1.7" fill="#1e346d"/><rect x="18" y="18" width="1.7" height="1.7" fill="#000010"/><rect x="19" y="18" width="2.7" height="1.7" fill="#1a2858"/><rect x="21" y="18" width="1.7" height="1.7" fill="#233f82"/><rect x="22" y="18" width="1.7" height="1.7" fill="#433181"/><rect x="23" y="18" width="1.7" height="1.7" fill="#e84b39"/><rect x="24" y="18" width="1.7" height="1.7" fill="#f09833"/><rect x="25" y="18" width="1.7" height="1.7" fill="#ef8a37"/><rect x="26" y="18" width="1.7" height="1.7" fill="#ce1e30"/><rect x="27" y="18" width="1.7" height="1.7" fill="#3158af"/><rect x="28" y="18" width="1.7" height="1.7" fill="#233f82"/><rect x="29" y="18" width="1.7" height="1.7" fill="#000010"/><rect x="30" y="18" width="1.7" height="1.7" fill="#3c55ac"/><rect x="31" y="18" width="1.7" height="1.7" fill="#eb5c3c"/><rect x="32" y="18" width="2" height="1.7" fill="#c1cb51"/><rect x="0" y="19" width="1.7" height="1.7" fill="#284a97"/><rect x="1" y="19" width="1.7" height="1.7" fill="#365ab2"/><rect x="2" y="19" width="1.7" height="1.7" fill="#3c55ac"/><rect x="3" y="19" width="1.7" height="1.7" fill="#3158af"/><rect x="4" y="19" width="2.7" height="1.7" fill="#233f82"/><rect x="6" y="19" width="1.7" height="1.7" fill="#2c56ac"/><rect x="7" y="19" width="1.7" height="1.7" fill="#233f82"/><rect x="8" y="19" width="1.7" height="1.7" fill="#3c55ac"/><rect x="9" y="19" width="1.7" height="1.7" fill="#e43935"/><rect x="10" y="19" width="1.7" height="1.7" fill="#eb5c3c"/><rect x="11" y="19" width="1.7" height="1.7" fill="#921a30"/><rect x="12" y="19" width="1.7" height="1.7" fill="#284a97"/><rect x="13" y="19" width="1.7" height="1.7" fill="#000010"/><rect x="14" y="19" width="1.7" height="1.7" fill="#131e46"/><rect x="15" y="19" width="1.7" height="1.7" fill="#233f82"/><rect x="16" y="19" width="4.7" height="1.7" fill="#1e346d"/><rect x="20" y="19" width="1.7" height="1.7" fill="#1a2858"/><rect x="21" y="19" width="1.7" height="1.7" fill="#284a97"/><rect x="22" y="19" width="1.7" height="1.7" fill="#b01c30"/><rect x="23" y="19" width="1.7" height="1.7" fill="#dc9d2d"/><rect x="24" y="19" width="1.7" height="1.7" fill="#d6e074"/><rect x="25" y="19" width="1.7" height="1.7" fill="#c1cb51"/><rect x="26" y="19" width="1.7" height="1.7" fill="#ee6e40"/><rect x="27" y="19" width="1.7" height="1.7" fill="#433181"/><rect x="28" y="19" width="1.7" height="1.7" fill="#233f82"/><rect x="29" y="19" width="1.7" height="1.7" fill="#284a97"/><rect x="30" y="19" width="1.7" height="1.7" fill="#3158af"/><rect x="31" y="19" width="1.7" height="1.7" fill="#ce1e30"/><rect x="32" y="19" width="2" height="1.7" fill="#f09833"/><rect x="0" y="20" width="1.7" height="1.7" fill="#571f5d"/><rect x="1" y="20" width="1.7" height="1.7" fill="#e84b39"/><rect x="2" y="20" width="1.7" height="1.7" fill="#ee6e40"/><rect x="3" y="20" width="1.7" height="1.7" fill="#e43935"/><rect x="4" y="20" width="1.7" height="1.7" fill="#433181"/><rect x="5" y="20" width="1.7" height="1.7" fill="#233f82"/><rect x="6" y="20" width="1.7" height="1.7" fill="#1e346d"/><rect x="7" y="20" width="1.7" height="1.7" fill="#1a2858"/><rect x="8" y="20" width="1.7" height="1.7" fill="#233f82"/><rect x="9" y="20" width="1.7" height="1.7" fill="#3c55ac"/><rect x="10" y="20" width="1.7" height="1.7" fill="#433181"/><rect x="11" y="20" width="1.7" height="1.7" fill="#2c56ac"/><rect x="12" y="20" width="2.7" height="1.7" fill="#000010"/><rect x="14" y="20" width="1.7" height="1.7" fill="#1a2858"/><rect x="15" y="20" width="2.7" height="1.7" fill="#284a97"/><rect x="17" y="20" width="1.7" height="1.7" fill="#233f82"/><rect x="18" y="20" width="1.7" height="1.7" fill="#2c56ac"/><rect x="19" y="20" width="1.7" height="1.7" fill="#284a97"/><rect x="20" y="20" width="1.7" height="1.7" fill="#1e346d"/><rect x="21" y="20" width="1.7" height="1.7" fill="#284a97"/><rect x="22" y="20" width="1.7" height="1.7" fill="#921a30"/><rect x="23" y="20" width="1.7" height="1.7" fill="#f09833"/><rect x="24" y="20" width="1.7" height="1.7" fill="#d0dc60"/><rect x="25" y="20" width="1.7" height="1.7" fill="#b1b943"/><rect x="26" y="20" width="1.7" height="1.7" fill="#eb5c3c"/><rect x="27" y="20" width="1.7" height="1.7" fill="#3c55ac"/><rect x="28" y="20" width="1.7" height="1.7" fill="#1e346d"/><rect x="29" y="20" width="1.7" height="1.7" fill="#3158af"/><rect x="30" y="20" width="1.7" height="1.7" fill="#2c56ac"/><rect x="31" y="20" width="1.7" height="1.7" fill="#365ab2"/><rect x="32" y="20" width="2" height="1.7" fill="#741a3d"/><rect x="0" y="21" width="1.7" height="1.7" fill="#e84b39"/><rect x="1" y="21" width="1.7" height="1.7" fill="#b1b943"/><rect x="2" y="21" width="1.7" height="1.7" fill="#d6e074"/><rect x="3" y="21" width="1.7" height="1.7" fill="#929726"/><rect x="4" y="21" width="1.7" height="1.7" fill="#e12731"/><rect x="5" y="21" width="1.7" height="1.7" fill="#3158af"/><rect x="6" y="21" width="7.7" height="1.7" fill="#000010"/><rect x="13" y="21" width="1.7" height="1.7" fill="#233f82"/><rect x="14" y="21" width="1.7" height="1.7" fill="#284a97"/><rect x="15" y="21" width="1.7" height="1.7" fill="#2c56ac"/><rect x="16" y="21" width="1.7" height="1.7" fill="#3158af"/><rect x="17" y="21" width="1.7" height="1.7" fill="#284a97"/><rect x="18" y="21" width="1.7" height="1.7" fill="#2c56ac"/><rect x="19" y="21" width="2.7" height="1.7" fill="#3158af"/><rect x="21" y="21" width="1.7" height="1.7" fill="#1e346d"/><rect x="22" y="21" width="1.7" height="1.7" fill="#3c55ac"/><rect x="23" y="21" width="1.7" height="1.7" fill="#e43935"/><rect x="24" y="21" width="1.7" height="1.7" fill="#ef7c3c"/><rect x="25" y="21" width="1.7" height="1.7" fill="#ee6e40"/><rect x="26" y="21" width="1.7" height="1.7" fill="#921a30"/><rect x="27" y="21" width="1.7" height="1.7" fill="#2c56ac"/><rect x="28" y="21" width="1.7" height="1.7" fill="#000010"/><rect x="29" y="21" width="1.7" height="1.7" fill="#284a97"/><rect x="30" y="21" width="1.7" height="1.7" fill="#233f82"/><rect x="31" y="21" width="1.7" height="1.7" fill="#131e46"/><rect x="32" y="21" width="2" height="1.7" fill="#233f82"/><rect x="0" y="22" width="1.7" height="1.7" fill="#ee6e40"/><rect x="1" y="22" width="1.7" height="1.7" fill="#dce488"/><rect x="2" y="22" width="1.7" height="1.7" fill="#f4f6d8"/><rect x="3" y="22" width="1.7" height="1.7" fill="#d0dc60"/><rect x="4" y="22" width="1.7" height="1.7" fill="#e84b39"/><rect x="5" y="22" width="1.7" height="1.7" fill="#365ab2"/><rect x="6" y="22" width="1.7" height="1.7" fill="#131e46"/><rect x="7" y="22" width="5.7" height="1.7" fill="#000010"/><rect x="12" y="22" width="1.7" height="1.7" fill="#1a2858"/><rect x="13" y="22" width="1.7" height="1.7" fill="#1e346d"/><rect x="14" y="22" width="1.7" height="1.7" fill="#233f82"/><rect x="15" y="22" width="1.7" height="1.7" fill="#2c56ac"/><rect x="16" y="22" width="1.7" height="1.7" fill="#284a97"/><rect x="17" y="22" width="2.7" height="1.7" fill="#233f82"/><rect x="19" y="22" width="1.7" height="1.7" fill="#2c56ac"/><rect x="20" y="22" width="1.7" height="1.7" fill="#3158af"/><rect x="21" y="22" width="2.7" height="1.7" fill="#2c56ac"/><rect x="23" y="22" width="1.7" height="1.7" fill="#365ab2"/><rect x="24" y="22" width="1.7" height="1.7" fill="#571f5d"/><rect x="25" y="22" width="1.7" height="1.7" fill="#433181"/><rect x="26" y="22" width="1.7" height="1.7" fill="#2c56ac"/><rect x="27" y="22" width="1.7" height="1.7" fill="#000010"/><rect x="28" y="22" width="1.7" height="1.7" fill="#131e46"/><rect x="29" y="22" width="1.7" height="1.7" fill="#284a97"/><rect x="30" y="22" width="1.7" height="1.7" fill="#131e46"/><rect x="31" y="22" width="3" height="1.7" fill="#000010"/><rect x="0" y="23" width="1.7" height="1.7" fill="#e43935"/><rect x="1" y="23" width="1.7" height="1.7" fill="#a2a834"/><rect x="2" y="23" width="1.7" height="1.7" fill="#d0dc60"/><rect x="3" y="23" width="1.7" height="1.7" fill="#aa9525"/><rect x="4" y="23" width="1.7" height="1.7" fill="#ce1e30"/><rect x="5" y="23" width="1.7" height="1.7" fill="#2c56ac"/><rect x="6" y="23" width="1.7" height="1.7" fill="#131e46"/><rect x="7" y="23" width="5.7" height="1.7" fill="#000010"/><rect x="12" y="23" width="2.7" height="1.7" fill="#131e46"/><rect x="14" y="23" width="1.7" height="1.7" fill="#1e346d"/><rect x="15" y="23" width="1.7" height="1.7" fill="#3158af"/><rect x="16" y="23" width="1.7" height="1.7" fill="#571f5d"/><rect x="17" y="23" width="1.7" height="1.7" fill="#741a3d"/><rect x="18" y="23" width="1.7" height="1.7" fill="#3c55ac"/><rect x="19" y="23" width="1.7" height="1.7" fill="#284a97"/><rect x="20" y="23" width="1.7" height="1.7" fill="#1e346d"/><rect x="21" y="23" width="1.7" height="1.7" fill="#284a97"/><rect x="22" y="23" width="1.7" height="1.7" fill="#233f82"/><rect x="23" y="23" width="1.7" height="1.7" fill="#1e346d"/><rect x="24" y="23" width="1.7" height="1.7" fill="#233f82"/><rect x="25" y="23" width="1.7" height="1.7" fill="#1e346d"/><rect x="26" y="23" width="2.7" height="1.7" fill="#000010"/><rect x="28" y="23" width="1.7" height="1.7" fill="#1e346d"/><rect x="29" y="23" width="1.7" height="1.7" fill="#2c56ac"/><rect x="30" y="23" width="1.7" height="1.7" fill="#131e46"/><rect x="31" y="23" width="3" height="1.7" fill="#000010"/><rect x="0" y="24" width="1.7" height="1.7" fill="#433181"/><rect x="1" y="24" width="1.7" height="1.7" fill="#e12731"/><rect x="2" y="24" width="1.7" height="1.7" fill="#eb5c3c"/><rect x="3" y="24" width="1.7" height="1.7" fill="#ce1e30"/><rect x="4" y="24" width="1.7" height="1.7" fill="#3c55ac"/><rect x="5" y="24" width="1.7" height="1.7" fill="#233f82"/><rect x="6" y="24" width="1.7" height="1.7" fill="#000010"/><rect x="7" y="24" width="1.7" height="1.7" fill="#131e46"/><rect x="8" y="24" width="5.7" height="1.7" fill="#000010"/><rect x="13" y="24" width="1.7" height="1.7" fill="#284a97"/><rect x="14" y="24" width="1.7" height="1.7" fill="#2c56ac"/><rect x="15" y="24" width="1.7" height="1.7" fill="#b01c30"/><rect x="16" y="24" width="1.7" height="1.7" fill="#ef7c3c"/><rect x="17" y="24" width="1.7" height="1.7" fill="#ef8a37"/><rect x="18" y="24" width="1.7" height="1.7" fill="#e43935"/><rect x="19" y="24" width="1.7" height="1.7" fill="#433181"/><rect x="20" y="24" width="1.7" height="1.7" fill="#233f82"/><rect x="21" y="24" width="1.7" height="1.7" fill="#1e346d"/><rect x="22" y="24" width="1.7" height="1.7" fill="#131e46"/><rect x="23" y="24" width="1.7" height="1.7" fill="#000010"/><rect x="24" y="24" width="2.7" height="1.7" fill="#284a97"/><rect x="26" y="24" width="1.7" height="1.7" fill="#1e346d"/><rect x="27" y="24" width="1.7" height="1.7" fill="#1a2858"/><rect x="28" y="24" width="2.7" height="1.7" fill="#233f82"/><rect x="30" y="24" width="2.7" height="1.7" fill="#2c56ac"/><rect x="32" y="24" width="1.7" height="1.7" fill="#233f82"/><rect x="33" y="24" width="1" height="1.7" fill="#000010"/><rect x="0" y="25" width="1.7" height="1.7" fill="#2c56ac"/><rect x="1" y="25" width="1.7" height="1.7" fill="#3158af"/><rect x="2" y="25" width="1.7" height="1.7" fill="#365ab2"/><rect x="3" y="25" width="1.7" height="1.7" fill="#2c56ac"/><rect x="4" y="25" width="1.7" height="1.7" fill="#233f82"/><rect x="5" y="25" width="5.7" height="1.7" fill="#000010"/><rect x="10" y="25" width="1.7" height="1.7" fill="#1a2858"/><rect x="11" y="25" width="1.7" height="1.7" fill="#131e46"/><rect x="12" y="25" width="1.7" height="1.7" fill="#000010"/><rect x="13" y="25" width="1.7" height="1.7" fill="#2c56ac"/><rect x="14" y="25" width="1.7" height="1.7" fill="#3c55ac"/><rect x="15" y="25" width="1.7" height="1.7" fill="#e84b39"/><rect x="16" y="25" width="1.7" height="1.7" fill="#a2a834"/><rect x="17" y="25" width="1.7" height="1.7" fill="#c1cb51"/><rect x="18" y="25" width="1.7" height="1.7" fill="#f09833"/><rect x="19" y="25" width="1.7" height="1.7" fill="#921a30"/><rect x="20" y="25" width="1.7" height="1.7" fill="#284a97"/><rect x="21" y="25" width="1.7" height="1.7" fill="#1a2858"/><rect x="22" y="25" width="1.7" height="1.7" fill="#000010"/><rect x="23" y="25" width="1.7" height="1.7" fill="#131e46"/><rect x="24" y="25" width="1.7" height="1.7" fill="#233f82"/><rect x="25" y="25" width="1.7" height="1.7" fill="#2c56ac"/><rect x="26" y="25" width="1.7" height="1.7" fill="#284a97"/><rect x="27" y="25" width="1.7" height="1.7" fill="#1a2858"/><rect x="28" y="25" width="1.7" height="1.7" fill="#1e346d"/><rect x="29" y="25" width="3.7" height="1.7" fill="#233f82"/><rect x="32" y="25" width="1.7" height="1.7" fill="#1e346d"/><rect x="33" y="25" width="1" height="1.7" fill="#000010"/><rect x="0" y="26" width="1.7" height="1.7" fill="#3158af"/><rect x="1" y="26" width="1.7" height="1.7" fill="#2c56ac"/><rect x="2" y="26" width="1.7" height="1.7" fill="#1a2858"/><rect x="3" y="26" width="1.7" height="1.7" fill="#131e46"/><rect x="4" y="26" width="1.7" height="1.7" fill="#1e346d"/><rect x="5" y="26" width="1.7" height="1.7" fill="#1a2858"/><rect x="6" y="26" width="3.7" height="1.7" fill="#000010"/><rect x="9" y="26" width="1.7" height="1.7" fill="#131e46"/><rect x="10" y="26" width="2.7" height="1.7" fill="#284a97"/><rect x="12" y="26" width="1.7" height="1.7" fill="#1e346d"/><rect x="13" y="26" width="1.7" height="1.7" fill="#284a97"/><rect x="14" y="26" width="1.7" height="1.7" fill="#365ab2"/><rect x="15" y="26" width="1.7" height="1.7" fill="#e84b39"/><rect x="16" y="26" width="1.7" height="1.7" fill="#929726"/><rect x="17" y="26" width="1.7" height="1.7" fill="#b1b943"/><rect x="18" y="26" width="1.7" height="1.7" fill="#ef8a37"/><rect x="19" y="26" width="1.7" height="1.7" fill="#921a30"/><rect x="20" y="26" width="1.7" height="1.7" fill="#284a97"/><rect x="21" y="26" width="1.7" height="1.7" fill="#233f82"/><rect x="22" y="26" width="1.7" height="1.7" fill="#1a2858"/><rect x="23" y="26" width="2.7" height="1.7" fill="#1e346d"/><rect x="25" y="26" width="1.7" height="1.7" fill="#2c56ac"/><rect x="26" y="26" width="1.7" height="1.7" fill="#3158af"/><rect x="27" y="26" width="1.7" height="1.7" fill="#1e346d"/><rect x="28" y="26" width="1.7" height="1.7" fill="#131e46"/><rect x="29" y="26" width="1.7" height="1.7" fill="#1a2858"/><rect x="30" y="26" width="4" height="1.7" fill="#000010"/><rect x="0" y="27" width="2.7" height="1.7" fill="#233f82"/><rect x="2" y="27" width="1.7" height="1.7" fill="#1e346d"/><rect x="3" y="27" width="1.7" height="1.7" fill="#1a2858"/><rect x="4" y="27" width="1.7" height="1.7" fill="#000010"/><rect x="5" y="27" width="1.7" height="1.7" fill="#131e46"/><rect x="6" y="27" width="3.7" height="1.7" fill="#000010"/><rect x="9" y="27" width="1.7" height="1.7" fill="#131e46"/><rect x="10" y="27" width="3.7" height="1.7" fill="#233f82"/><rect x="13" y="27" width="1.7" height="1.7" fill="#284a97"/><rect x="14" y="27" width="1.7" height="1.7" fill="#2c56ac"/><rect x="15" y="27" width="1.7" height="1.7" fill="#741a3d"/><rect x="16" y="27" width="1.7" height="1.7" fill="#e84b39"/><rect x="17" y="27" width="1.7" height="1.7" fill="#ee6e40"/><rect x="18" y="27" width="1.7" height="1.7" fill="#ce1e30"/><rect x="19" y="27" width="1.7" height="1.7" fill="#3c55ac"/><rect x="20" y="27" width="1.7" height="1.7" fill="#284a97"/><rect x="21" y="27" width="1.7" height="1.7" fill="#131e46"/><rect x="22" y="27" width="1.7" height="1.7" fill="#000010"/><rect x="23" y="27" width="1.7" height="1.7" fill="#131e46"/><rect x="24" y="27" width="1.7" height="1.7" fill="#1e346d"/><rect x="25" y="27" width="1.7" height="1.7" fill="#2c56ac"/><rect x="26" y="27" width="2.7" height="1.7" fill="#3158af"/><rect x="28" y="27" width="1.7" height="1.7" fill="#1e346d"/><rect x="29" y="27" width="5" height="1.7" fill="#000010"/><rect x="0" y="28" width="1.7" height="1.7" fill="#1e346d"/><rect x="1" y="28" width="1.7" height="1.7" fill="#284a97"/><rect x="2" y="28" width="1.7" height="1.7" fill="#1e346d"/><rect x="3" y="28" width="1.7" height="1.7" fill="#1a2858"/><rect x="4" y="28" width="2.7" height="1.7" fill="#131e46"/><rect x="6" y="28" width="2.7" height="1.7" fill="#000010"/><rect x="8" y="28" width="1.7" height="1.7" fill="#1a2858"/><rect x="9" y="28" width="1.7" height="1.7" fill="#284a97"/><rect x="10" y="28" width="1.7" height="1.7" fill="#3c55ac"/><rect x="11" y="28" width="1.7" height="1.7" fill="#741a3d"/><rect x="12" y="28" width="1.7" height="1.7" fill="#571f5d"/><rect x="13" y="28" width="1.7" height="1.7" fill="#365ab2"/><rect x="14" y="28" width="2.7" height="1.7" fill="#3158af"/><rect x="16" y="28" width="1.7" height="1.7" fill="#3c55ac"/><rect x="17" y="28" width="1.7" height="1.7" fill="#433181"/><rect x="18" y="28" width="1.7" height="1.7" fill="#365ab2"/><rect x="19" y="28" width="1.7" height="1.7" fill="#284a97"/><rect x="20" y="28" width="1.7" height="1.7" fill="#1a2858"/><rect x="21" y="28" width="1.7" height="1.7" fill="#000010"/><rect x="22" y="28" width="3.7" height="1.7" fill="#1a2858"/><rect x="25" y="28" width="1.7" height="1.7" fill="#233f82"/><rect x="26" y="28" width="2.7" height="1.7" fill="#2c56ac"/><rect x="28" y="28" width="1.7" height="1.7" fill="#1e346d"/><rect x="29" y="28" width="3.7" height="1.7" fill="#000010"/><rect x="32" y="28" width="2" height="1.7" fill="#1a2858"/><rect x="0" y="29" width="1.7" height="1.7" fill="#233f82"/><rect x="1" y="29" width="1.7" height="1.7" fill="#284a97"/><rect x="2" y="29" width="1.7" height="1.7" fill="#233f82"/><rect x="3" y="29" width="2.7" height="1.7" fill="#1e346d"/><rect x="5" y="29" width="1.7" height="1.7" fill="#131e46"/><rect x="6" y="29" width="1.7" height="1.7" fill="#000010"/><rect x="7" y="29" width="1.7" height="1.7" fill="#1a2858"/><rect x="8" y="29" width="1.7" height="1.7" fill="#284a97"/><rect x="9" y="29" width="1.7" height="1.7" fill="#3c55ac"/><rect x="10" y="29" width="1.7" height="1.7" fill="#e43935"/><rect x="11" y="29" width="1.7" height="1.7" fill="#f09833"/><rect x="12" y="29" width="1.7" height="1.7" fill="#ef7c3c"/><rect x="13" y="29" width="1.7" height="1.7" fill="#ce1e30"/><rect x="14" y="29" width="5.7" height="1.7" fill="#3158af"/><rect x="19" y="29" width="1.7" height="1.7" fill="#1e346d"/><rect x="20" y="29" width="2.7" height="1.7" fill="#000010"/><rect x="22" y="29" width="1.7" height="1.7" fill="#1e346d"/><rect x="23" y="29" width="1.7" height="1.7" fill="#233f82"/><rect x="24" y="29" width="1.7" height="1.7" fill="#000010"/><rect x="25" y="29" width="1.7" height="1.7" fill="#1e346d"/><rect x="26" y="29" width="1.7" height="1.7" fill="#2c56ac"/><rect x="27" y="29" width="2.7" height="1.7" fill="#233f82"/><rect x="29" y="29" width="3.7" height="1.7" fill="#000010"/><rect x="32" y="29" width="2" height="1.7" fill="#1e346d"/><rect x="0" y="30" width="1.7" height="1.7" fill="#1e346d"/><rect x="1" y="30" width="1.7" height="1.7" fill="#233f82"/><rect x="2" y="30" width="1.7" height="1.7" fill="#284a97"/><rect x="3" y="30" width="1.7" height="1.7" fill="#2c56ac"/><rect x="4" y="30" width="1.7" height="1.7" fill="#284a97"/><rect x="5" y="30" width="1.7" height="1.7" fill="#233f82"/><rect x="6" y="30" width="1.7" height="1.7" fill="#1e346d"/><rect x="7" y="30" width="1.7" height="1.7" fill="#284a97"/><rect x="8" y="30" width="1.7" height="1.7" fill="#3158af"/><rect x="9" y="30" width="1.7" height="1.7" fill="#921a30"/><rect x="10" y="30" width="1.7" height="1.7" fill="#dc9d2d"/><rect x="11" y="30" width="1.7" height="1.7" fill="#d0dc60"/><rect x="12" y="30" width="1.7" height="1.7" fill="#c1cb51"/><rect x="13" y="30" width="1.7" height="1.7" fill="#ee6e40"/><rect x="14" y="30" width="1.7" height="1.7" fill="#433181"/><rect x="15" y="30" width="1.7" height="1.7" fill="#3158af"/><rect x="16" y="30" width="1.7" height="1.7" fill="#2c56ac"/><rect x="17" y="30" width="2.7" height="1.7" fill="#3158af"/><rect x="19" y="30" width="1.7" height="1.7" fill="#284a97"/><rect x="20" y="30" width="1.7" height="1.7" fill="#1a2858"/><rect x="21" y="30" width="1.7" height="1.7" fill="#000010"/><rect x="22" y="30" width="2.7" height="1.7" fill="#131e46"/><rect x="24" y="30" width="1.7" height="1.7" fill="#1a2858"/><rect x="25" y="30" width="1.7" height="1.7" fill="#284a97"/><rect x="26" y="30" width="1.7" height="1.7" fill="#3158af"/><rect x="27" y="30" width="1.7" height="1.7" fill="#741a3d"/><rect x="28" y="30" width="1.7" height="1.7" fill="#921a30"/><rect x="29" y="30" width="1.7" height="1.7" fill="#433181"/><rect x="30" y="30" width="1.7" height="1.7" fill="#233f82"/><rect x="31" y="30" width="2.7" height="1.7" fill="#000010"/><rect x="33" y="30" width="1" height="1.7" fill="#1a2858"/><rect x="0" y="31" width="2.7" height="1.7" fill="#1a2858"/><rect x="2" y="31" width="1.7" height="1.7" fill="#1e346d"/><rect x="3" y="31" width="1.7" height="1.7" fill="#2c56ac"/><rect x="4" y="31" width="1.7" height="1.7" fill="#3158af"/><rect x="5" y="31" width="2.7" height="1.7" fill="#2c56ac"/><rect x="7" y="31" width="2.7" height="1.7" fill="#3158af"/><rect x="9" y="31" width="1.7" height="1.7" fill="#921a30"/><rect x="10" y="31" width="1.7" height="1.7" fill="#f09833"/><rect x="11" y="31" width="1.7" height="1.7" fill="#d0dc60"/><rect x="12" y="31" width="1.7" height="1.7" fill="#c1cb51"/><rect x="13" y="31" width="1.7" height="1.7" fill="#ee6e40"/><rect x="14" y="31" width="1.7" height="1.7" fill="#433181"/><rect x="15" y="31" width="1.7" height="1.7" fill="#284a97"/><rect x="16" y="31" width="1.7" height="1.7" fill="#233f82"/><rect x="17" y="31" width="2.7" height="1.7" fill="#284a97"/><rect x="19" y="31" width="1.7" height="1.7" fill="#233f82"/><rect x="20" y="31" width="1.7" height="1.7" fill="#1a2858"/><rect x="21" y="31" width="3.7" height="1.7" fill="#000010"/><rect x="24" y="31" width="1.7" height="1.7" fill="#1a2858"/><rect x="25" y="31" width="1.7" height="1.7" fill="#284a97"/><rect x="26" y="31" width="1.7" height="1.7" fill="#921a30"/><rect x="27" y="31" width="1.7" height="1.7" fill="#ef7c3c"/><rect x="28" y="31" width="1.7" height="1.7" fill="#f09833"/><rect x="29" y="31" width="1.7" height="1.7" fill="#e43935"/><rect x="30" y="31" width="1.7" height="1.7" fill="#3c55ac"/><rect x="31" y="31" width="3" height="1.7" fill="#000010"/><rect x="0" y="32" width="1.7" height="1.7" fill="#131e46"/><rect x="1" y="32" width="2.7" height="1.7" fill="#1a2858"/><rect x="3" y="32" width="1.7" height="1.7" fill="#284a97"/><rect x="4" y="32" width="4.7" height="1.7" fill="#3158af"/><rect x="8" y="32" width="1.7" height="1.7" fill="#2c56ac"/><rect x="9" y="32" width="1.7" height="1.7" fill="#3c55ac"/><rect x="10" y="32" width="1.7" height="1.7" fill="#e43935"/><rect x="11" y="32" width="1.7" height="1.7" fill="#ef8a37"/><rect x="12" y="32" width="1.7" height="1.7" fill="#ef7c3c"/><rect x="13" y="32" width="1.7" height="1.7" fill="#b01c30"/><rect x="14" y="32" width="1.7" height="1.7" fill="#3158af"/><rect x="15" y="32" width="2.7" height="1.7" fill="#233f82"/><rect x="17" y="32" width="1.7" height="1.7" fill="#284a97"/><rect x="18" y="32" width="1.7" height="1.7" fill="#1e346d"/><rect x="19" y="32" width="1.7" height="1.7" fill="#1a2858"/><rect x="20" y="32" width="2.7" height="1.7" fill="#000010"/><rect x="22" y="32" width="2.7" height="1.7" fill="#1e346d"/><rect x="24" y="32" width="1.7" height="1.7" fill="#000010"/><rect x="25" y="32" width="1.7" height="1.7" fill="#2c56ac"/><rect x="26" y="32" width="1.7" height="1.7" fill="#e12731"/><rect x="27" y="32" width="1.7" height="1.7" fill="#aa9525"/><rect x="28" y="32" width="1.7" height="1.7" fill="#b1b943"/><rect x="29" y="32" width="1.7" height="1.7" fill="#ef7c3c"/><rect x="30" y="32" width="1.7" height="1.7" fill="#571f5d"/><rect x="31" y="32" width="2.7" height="1.7" fill="#1a2858"/><rect x="33" y="32" width="1" height="1.7" fill="#000010"/><rect x="0" y="33" width="1.7" height="1" fill="#131e46"/><rect x="1" y="33" width="2.7" height="1" fill="#284a97"/><rect x="3" y="33" width="3.7" height="1" fill="#3158af"/><rect x="6" y="33" width="1.7" height="1" fill="#284a97"/><rect x="7" y="33" width="2.7" height="1" fill="#1a2858"/><rect x="9" y="33" width="1.7" height="1" fill="#233f82"/><rect x="10" y="33" width="1.7" height="1" fill="#3c55ac"/><rect x="11" y="33" width="2.7" height="1" fill="#571f5d"/><rect x="13" y="33" width="1.7" height="1" fill="#3158af"/><rect x="14" y="33" width="1.7" height="1" fill="#1e346d"/><rect x="15" y="33" width="1.7" height="1" fill="#000010"/><rect x="16" y="33" width="1.7" height="1" fill="#131e46"/><rect x="17" y="33" width="1.7" height="1" fill="#233f82"/><rect x="18" y="33" width="1.7" height="1" fill="#284a97"/><rect x="19" y="33" width="1.7" height="1" fill="#1a2858"/><rect x="20" y="33" width="2.7" height="1" fill="#000010"/><rect x="22" y="33" width="2.7" height="1" fill="#233f82"/><rect x="24" y="33" width="1.7" height="1" fill="#1a2858"/><rect x="25" y="33" width="1.7" height="1" fill="#284a97"/><rect x="26" y="33" width="1.7" height="1" fill="#921a30"/><rect x="27" y="33" width="1.7" height="1" fill="#ef7c3c"/><rect x="28" y="33" width="1.7" height="1" fill="#f09833"/><rect x="29" y="33" width="1.7" height="1" fill="#e43935"/><rect x="30" y="33" width="1.7" height="1" fill="#365ab2"/><rect x="31" y="33" width="2.7" height="1" fill="#233f82"/><rect x="33" y="33" width="1" height="1" fill="#1a2858"/></g></g>
<text x="384.5" y="359" font-size="10.3" fill="#2a2222"><tspan font-size="10.3">Yb:Gd,Er</tspan><tspan font-size="6.3" dy="-3.6">7 nm</tspan><tspan font-size="10.3" dy="3.6">@Yb</tspan><tspan font-size="6.3" dy="-3.6">1 nm</tspan><tspan font-size="10.3" dy="3.6">@Lu</tspan><tspan font-size="6.3" dy="-3.6">0.5 nm</tspan></text>
<text x="547.3" y="359" font-size="10.3" fill="#2a2222"><tspan font-size="10.3">Yb:Gd,Er</tspan><tspan font-size="6.3" dy="-3.6">7 nm</tspan><tspan font-size="10.3" dy="3.6">@Lu</tspan><tspan font-size="6.3" dy="-3.6">1.5 nm</tspan></text>
<text x="384" y="514.6" font-size="10.3" fill="#2a2222"><tspan font-size="10.3">Yb:Gd,Er</tspan><tspan font-size="6.3" dy="-3.6">7 nm</tspan><tspan font-size="10.3" dy="3.6">@YbEr</tspan><tspan font-size="6.3" dy="-3.6">1 nm</tspan><tspan font-size="10.3" dy="3.6">@Lu</tspan><tspan font-size="6.3" dy="-3.6">0.5 nm</tspan></text>
<text x="553.5" y="514.2" font-size="10.3" fill="#2a2222"><tspan font-size="10.3">Yb:Gd,Er</tspan><tspan font-size="6.3" dy="-3.6">7 nm</tspan><tspan font-size="10.3" dy="3.6">@Yb</tspan><tspan font-size="6.3" dy="-3.6">1 nm</tspan></text>
<defs><linearGradient id="cbd" x1="0" y1="0" x2="0" y2="1"><stop offset="0" stop-color="#ffffff"/><stop offset="0.08" stop-color="#eef0c0"/><stop offset="0.2" stop-color="#d0dc60"/><stop offset="0.31" stop-color="#8c9020"/><stop offset="0.36" stop-color="#f0a030"/><stop offset="0.45" stop-color="#ee6e40"/><stop offset="0.56" stop-color="#e02030"/><stop offset="0.64" stop-color="#801830"/><stop offset="0.69" stop-color="#462270"/><stop offset="0.73" stop-color="#3a5cb4"/><stop offset="0.8" stop-color="#2c56ac"/><stop offset="0.9" stop-color="#1a2858"/><stop offset="1" stop-color="#000010"/></linearGradient></defs>
<rect x="653.1" y="331.4" width="4.8" height="93.6" fill="url(#cbd)"/>
<text x="660.6" y="336.3" font-size="10.4" fill="#2a2222">High</text>
<text x="660.2" y="429.5" font-size="10.4" fill="#2a2222">Low</text>
<text x="-0.4" y="556.6" font-size="22.5" fill="#231f20">e</text>
<text x="14.4" y="561" font-size="13.6" fill="#2a2222" textLength="59.6" lengthAdjust="spacingAndGlyphs"><tspan font-size="13.6">(pps px</tspan><tspan font-size="8.2" dy="-5">-1</tspan><tspan font-size="13.6" dy="5">)</tspan></text>
<text x="86.2" y="567.8" font-size="13.7" fill="#2a2222" textLength="81.6" lengthAdjust="spacingAndGlyphs"><tspan font-size="13.7">0.68 kW cm</tspan><tspan font-size="8.2" dy="-5">-2</tspan></text>
<text x="231.3" y="568.2" font-size="13.7" fill="#2a2222" textLength="89.2" lengthAdjust="spacingAndGlyphs"><tspan font-size="13.7">21.71 kW cm</tspan><tspan font-size="8.2" dy="-5">-2</tspan></text>
<text x="328.2" y="560.4" font-size="13.6" fill="#2a2222" textLength="59.4" lengthAdjust="spacingAndGlyphs"><tspan font-size="13.6">(pps px</tspan><tspan font-size="8.2" dy="-5">-1</tspan><tspan font-size="13.6" dy="5">)</tspan></text>
<defs><linearGradient id="cbe" x1="0" y1="0" x2="0" y2="1"><stop offset="0" stop-color="#ffffff"/><stop offset="0.08" stop-color="#eef0c0"/><stop offset="0.2" stop-color="#d0dc60"/><stop offset="0.31" stop-color="#8c9020"/><stop offset="0.36" stop-color="#f0a030"/><stop offset="0.45" stop-color="#ee6e40"/><stop offset="0.56" stop-color="#e02030"/><stop offset="0.64" stop-color="#801830"/><stop offset="0.69" stop-color="#462270"/><stop offset="0.73" stop-color="#3a5cb4"/><stop offset="0.8" stop-color="#2c56ac"/><stop offset="0.9" stop-color="#1a2858"/><stop offset="1" stop-color="#000010"/></linearGradient></defs>
<rect x="39.9" y="572.4" width="6.7" height="131.2" fill="url(#cbe)" stroke="#c8c8c8" stroke-width="0.4"/>
<rect x="352.6" y="575.3" width="6.8" height="132.7" fill="url(#cbe)" stroke="#a0a0a0" stroke-width="0.5"/>
<text x="36.8" y="581.4" font-size="12" fill="#2a2222" text-anchor="end">18</text>
<text x="36" y="704" font-size="12" fill="#2a2222" text-anchor="end">0</text>
<text x="360.9" y="588.9" font-size="12" fill="#2a2222">800</text>
<text x="363.7" y="707.8" font-size="12" fill="#2a2222">0</text>
<defs><clipPath id="hm1"><rect x="60.4" y="573.4" width="141" height="132.5"/></clipPath></defs><rect x="60.4" y="573.4" width="141" height="132.5" fill="#182552"/><g clip-path="url(#hm1)"><rect x="58.33" y="570.5" width="7.02" height="7.05" fill="#16224d"/><rect x="64.9" y="570.5" width="7.02" height="7.05" fill="#090e29"/><rect x="71.47" y="570.5" width="7.02" height="7.05" fill="#1d3168"/><rect x="78.04" y="570.5" width="7.02" height="7.05" fill="#1c2c60"/><rect x="84.61" y="570.5" width="7.02" height="7.05" fill="#233f82"/><rect x="91.18" y="570.5" width="7.02" height="7.05" fill="#1c2d61"/><rect x="97.75" y="570.5" width="7.02" height="7.05" fill="#04061b"/><rect x="104.32" y="570.5" width="7.02" height="7.05" fill="#1e326b"/><rect x="110.89" y="570.5" width="7.02" height="7.05" fill="#1c2c60"/><rect x="117.46" y="570.5" width="7.02" height="7.05" fill="#0e1536"/><rect x="124.03" y="570.5" width="7.02" height="7.05" fill="#0e1637"/><rect x="130.6" y="570.5" width="7.02" height="7.05" fill="#1e326b"/><rect x="137.17" y="570.5" width="7.02" height="7.05" fill="#15214c"/><rect x="143.74" y="570.5" width="7.02" height="7.05" fill="#0f1739"/><rect x="150.31" y="570.5" width="7.02" height="7.05" fill="#0a0f2a"/><rect x="156.88" y="570.5" width="7.02" height="7.05" fill="#090e29"/><rect x="163.45" y="570.5" width="7.02" height="7.05" fill="#192654"/><rect x="170.02" y="570.5" width="7.02" height="7.05" fill="#141f47"/><rect x="176.59" y="570.5" width="7.02" height="7.05" fill="#1b2c5f"/><rect x="183.16" y="570.5" width="7.02" height="7.05" fill="#131d45"/><rect x="189.73" y="570.5" width="7.02" height="7.05" fill="#0e1536"/><rect x="196.3" y="570.5" width="7.02" height="7.05" fill="#192655"/><rect x="58.33" y="577.1" width="7.02" height="7.05" fill="#0e1638"/><rect x="64.9" y="577.1" width="7.02" height="7.05" fill="#10193c"/><rect x="71.47" y="577.1" width="7.02" height="7.05" fill="#1a295a"/><rect x="78.04" y="577.1" width="7.02" height="7.05" fill="#05071d"/><rect x="84.61" y="577.1" width="7.02" height="7.05" fill="#1e326b"/><rect x="91.18" y="577.1" width="7.02" height="7.05" fill="#111a3f"/><rect x="97.75" y="577.1" width="7.02" height="7.05" fill="#16224d"/><rect x="104.32" y="577.1" width="7.02" height="7.05" fill="#1a2858"/><rect x="110.89" y="577.1" width="7.02" height="7.05" fill="#0d1333"/><rect x="117.46" y="577.1" width="7.02" height="7.05" fill="#203774"/><rect x="124.03" y="577.1" width="7.02" height="7.05" fill="#0e1536"/><rect x="130.6" y="577.1" width="7.02" height="7.05" fill="#182654"/><rect x="137.17" y="577.1" width="7.02" height="7.05" fill="#1b2a5c"/><rect x="143.74" y="577.1" width="7.02" height="7.05" fill="#203875"/><rect x="150.31" y="577.1" width="7.02" height="7.05" fill="#284c9a"/><rect x="156.88" y="577.1" width="7.02" height="7.05" fill="#10183b"/><rect x="163.45" y="577.1" width="7.02" height="7.05" fill="#1c2d62"/><rect x="170.02" y="577.1" width="7.02" height="7.05" fill="#11193e"/><rect x="176.59" y="577.1" width="7.02" height="7.05" fill="#1d2f65"/><rect x="183.16" y="577.1" width="7.02" height="7.05" fill="#213a79"/><rect x="189.73" y="577.1" width="7.02" height="7.05" fill="#1b2a5b"/><rect x="196.3" y="577.1" width="7.02" height="7.05" fill="#1b2a5c"/><rect x="58.33" y="583.7" width="7.02" height="7.05" fill="#192655"/><rect x="64.9" y="583.7" width="7.02" height="7.05" fill="#192655"/><rect x="71.47" y="583.7" width="7.02" height="7.05" fill="#182552"/><rect x="78.04" y="583.7" width="7.02" height="7.05" fill="#1d3067"/><rect x="84.61" y="583.7" width="7.02" height="7.05" fill="#0a102c"/><rect x="91.18" y="583.7" width="7.02" height="7.05" fill="#111a3e"/><rect x="97.75" y="583.7" width="7.02" height="7.05" fill="#244186"/><rect x="104.32" y="583.7" width="7.02" height="7.05" fill="#1b2c5f"/><rect x="110.89" y="583.7" width="7.02" height="7.05" fill="#213b7a"/><rect x="117.46" y="583.7" width="7.02" height="7.05" fill="#213b7b"/><rect x="124.03" y="583.7" width="7.02" height="7.05" fill="#182452"/><rect x="130.6" y="583.7" width="7.02" height="7.05" fill="#182654"/><rect x="137.17" y="583.7" width="7.02" height="7.05" fill="#203874"/><rect x="143.74" y="583.7" width="7.02" height="7.05" fill="#192655"/><rect x="150.31" y="583.7" width="7.02" height="7.05" fill="#213b7a"/><rect x="156.88" y="583.7" width="7.02" height="7.05" fill="#1d2f65"/><rect x="163.45" y="583.7" width="7.02" height="7.05" fill="#1b2c5f"/><rect x="170.02" y="583.7" width="7.02" height="7.05" fill="#26468f"/><rect x="176.59" y="583.7" width="7.02" height="7.05" fill="#1a2859"/><rect x="183.16" y="583.7" width="7.02" height="7.05" fill="#070b23"/><rect x="189.73" y="583.7" width="7.02" height="7.05" fill="#223d7e"/><rect x="196.3" y="583.7" width="7.02" height="7.05" fill="#17234f"/><rect x="58.33" y="590.3" width="7.02" height="7.05" fill="#213a79"/><rect x="64.9" y="590.3" width="7.02" height="7.05" fill="#10193d"/><rect x="71.47" y="590.3" width="7.02" height="7.05" fill="#15214b"/><rect x="78.04" y="590.3" width="7.02" height="7.05" fill="#1a2857"/><rect x="84.61" y="590.3" width="7.02" height="7.05" fill="#141e47"/><rect x="91.18" y="590.3" width="7.02" height="7.05" fill="#203773"/><rect x="97.75" y="590.3" width="7.02" height="7.05" fill="#1d3066"/><rect x="104.32" y="590.3" width="7.02" height="7.05" fill="#213b7a"/><rect x="110.89" y="590.3" width="7.02" height="7.05" fill="#274a97"/><rect x="117.46" y="590.3" width="7.02" height="7.05" fill="#233f81"/><rect x="124.03" y="590.3" width="7.02" height="7.05" fill="#25458c"/><rect x="130.6" y="590.3" width="7.02" height="7.05" fill="#1c2e63"/><rect x="137.17" y="590.3" width="7.02" height="7.05" fill="#1d2f64"/><rect x="143.74" y="590.3" width="7.02" height="7.05" fill="#1d3168"/><rect x="150.31" y="590.3" width="7.02" height="7.05" fill="#182553"/><rect x="156.88" y="590.3" width="7.02" height="7.05" fill="#141f48"/><rect x="163.45" y="590.3" width="7.02" height="7.05" fill="#131e45"/><rect x="170.02" y="590.3" width="7.02" height="7.05" fill="#17234f"/><rect x="176.59" y="590.3" width="7.02" height="7.05" fill="#172450"/><rect x="183.16" y="590.3" width="7.02" height="7.05" fill="#070a22"/><rect x="189.73" y="590.3" width="7.02" height="7.05" fill="#182552"/><rect x="196.3" y="590.3" width="7.02" height="7.05" fill="#0d1333"/><rect x="58.33" y="596.9" width="7.02" height="7.05" fill="#223e7f"/><rect x="64.9" y="596.9" width="7.02" height="7.05" fill="#1b2c5f"/><rect x="71.47" y="596.9" width="7.02" height="7.05" fill="#1c2e62"/><rect x="78.04" y="596.9" width="7.02" height="7.05" fill="#0b112e"/><rect x="84.61" y="596.9" width="7.02" height="7.05" fill="#223c7d"/><rect x="91.18" y="596.9" width="7.02" height="7.05" fill="#213a78"/><rect x="97.75" y="596.9" width="7.02" height="7.05" fill="#141e47"/><rect x="104.32" y="596.9" width="7.02" height="7.05" fill="#203773"/><rect x="110.89" y="596.9" width="7.02" height="7.05" fill="#264790"/><rect x="117.46" y="596.9" width="7.02" height="7.05" fill="#233f82"/><rect x="124.03" y="596.9" width="7.02" height="7.05" fill="#385bb3"/><rect x="130.6" y="596.9" width="7.02" height="7.05" fill="#213b7b"/><rect x="137.17" y="596.9" width="7.02" height="7.05" fill="#223d7e"/><rect x="143.74" y="596.9" width="7.02" height="7.05" fill="#26468f"/><rect x="150.31" y="596.9" width="7.02" height="7.05" fill="#0f1739"/><rect x="156.88" y="596.9" width="7.02" height="7.05" fill="#1d2f65"/><rect x="163.45" y="596.9" width="7.02" height="7.05" fill="#060a21"/><rect x="170.02" y="596.9" width="7.02" height="7.05" fill="#16214c"/><rect x="176.59" y="596.9" width="7.02" height="7.05" fill="#192655"/><rect x="183.16" y="596.9" width="7.02" height="7.05" fill="#182553"/><rect x="189.73" y="596.9" width="7.02" height="7.05" fill="#182552"/><rect x="196.3" y="596.9" width="7.02" height="7.05" fill="#090e29"/><rect x="58.33" y="603.5" width="7.02" height="7.05" fill="#121b41"/><rect x="64.9" y="603.5" width="7.02" height="7.05" fill="#141f48"/><rect x="71.47" y="603.5" width="7.02" height="7.05" fill="#172451"/><rect x="78.04" y="603.5" width="7.02" height="7.05" fill="#203773"/><rect x="84.61" y="603.5" width="7.02" height="7.05" fill="#0e1638"/><rect x="91.18" y="603.5" width="7.02" height="7.05" fill="#182553"/><rect x="97.75" y="603.5" width="7.02" height="7.05" fill="#1a2858"/><rect x="104.32" y="603.5" width="7.02" height="7.05" fill="#264791"/><rect x="110.89" y="603.5" width="7.02" height="7.05" fill="#433182"/><rect x="117.46" y="603.5" width="7.02" height="7.05" fill="#e84d39"/><rect x="124.03" y="603.5" width="7.02" height="7.05" fill="#ed6b3f"/><rect x="130.6" y="603.5" width="7.02" height="7.05" fill="#c71e30"/><rect x="137.17" y="603.5" width="7.02" height="7.05" fill="#2a51a3"/><rect x="143.74" y="603.5" width="7.02" height="7.05" fill="#254389"/><rect x="150.31" y="603.5" width="7.02" height="7.05" fill="#1f3671"/><rect x="156.88" y="603.5" width="7.02" height="7.05" fill="#182452"/><rect x="163.45" y="603.5" width="7.02" height="7.05" fill="#223d7e"/><rect x="170.02" y="603.5" width="7.02" height="7.05" fill="#1b2a5c"/><rect x="176.59" y="603.5" width="7.02" height="7.05" fill="#1d2f65"/><rect x="183.16" y="603.5" width="7.02" height="7.05" fill="#172350"/><rect x="189.73" y="603.5" width="7.02" height="7.05" fill="#0d1433"/><rect x="196.3" y="603.5" width="7.02" height="7.05" fill="#1a295a"/><rect x="58.33" y="610.1" width="7.02" height="7.05" fill="#17234f"/><rect x="64.9" y="610.1" width="7.02" height="7.05" fill="#142049"/><rect x="71.47" y="610.1" width="7.02" height="7.05" fill="#05081f"/><rect x="78.04" y="610.1" width="7.02" height="7.05" fill="#1d2f65"/><rect x="84.61" y="610.1" width="7.02" height="7.05" fill="#213977"/><rect x="91.18" y="610.1" width="7.02" height="7.05" fill="#1d2f65"/><rect x="97.75" y="610.1" width="7.02" height="7.05" fill="#192655"/><rect x="104.32" y="610.1" width="7.02" height="7.05" fill="#3158af"/><rect x="110.89" y="610.1" width="7.02" height="7.05" fill="#c11d30"/><rect x="117.46" y="610.1" width="7.02" height="7.05" fill="#d0dc60"/><rect x="124.03" y="610.1" width="7.02" height="7.05" fill="#f1f3cb"/><rect x="130.6" y="610.1" width="7.02" height="7.05" fill="#ee713f"/><rect x="137.17" y="610.1" width="7.02" height="7.05" fill="#404194"/><rect x="143.74" y="610.1" width="7.02" height="7.05" fill="#0d1535"/><rect x="150.31" y="610.1" width="7.02" height="7.05" fill="#1a2857"/><rect x="156.88" y="610.1" width="7.02" height="7.05" fill="#1e336d"/><rect x="163.45" y="610.1" width="7.02" height="7.05" fill="#111a3f"/><rect x="170.02" y="610.1" width="7.02" height="7.05" fill="#213a79"/><rect x="176.59" y="610.1" width="7.02" height="7.05" fill="#1a2857"/><rect x="183.16" y="610.1" width="7.02" height="7.05" fill="#04051a"/><rect x="189.73" y="610.1" width="7.02" height="7.05" fill="#1d2e64"/><rect x="196.3" y="610.1" width="7.02" height="7.05" fill="#141e47"/><rect x="58.33" y="616.7" width="7.02" height="7.05" fill="#192654"/><rect x="64.9" y="616.7" width="7.02" height="7.05" fill="#070a23"/><rect x="71.47" y="616.7" width="7.02" height="7.05" fill="#182654"/><rect x="78.04" y="616.7" width="7.02" height="7.05" fill="#1f3570"/><rect x="84.61" y="616.7" width="7.02" height="7.05" fill="#182451"/><rect x="91.18" y="616.7" width="7.02" height="7.05" fill="#203875"/><rect x="97.75" y="616.7" width="7.02" height="7.05" fill="#1c2d61"/><rect x="104.32" y="616.7" width="7.02" height="7.05" fill="#294e9e"/><rect x="110.89" y="616.7" width="7.02" height="7.05" fill="#aa1b30"/><rect x="117.46" y="616.7" width="7.02" height="7.05" fill="#c9d55a"/><rect x="124.03" y="616.7" width="7.02" height="7.05" fill="#ecefba"/><rect x="130.6" y="616.7" width="7.02" height="7.05" fill="#c69929"/><rect x="137.17" y="616.7" width="7.02" height="7.05" fill="#3f4296"/><rect x="143.74" y="616.7" width="7.02" height="7.05" fill="#2b53a7"/><rect x="150.31" y="616.7" width="7.02" height="7.05" fill="#223c7c"/><rect x="156.88" y="616.7" width="7.02" height="7.05" fill="#0f1739"/><rect x="163.45" y="616.7" width="7.02" height="7.05" fill="#0f1739"/><rect x="170.02" y="616.7" width="7.02" height="7.05" fill="#213a79"/><rect x="176.59" y="616.7" width="7.02" height="7.05" fill="#16214c"/><rect x="183.16" y="616.7" width="7.02" height="7.05" fill="#1b2a5c"/><rect x="189.73" y="616.7" width="7.02" height="7.05" fill="#1b295a"/><rect x="196.3" y="616.7" width="7.02" height="7.05" fill="#1d2f65"/><rect x="58.33" y="623.3" width="7.02" height="7.05" fill="#1b2b5e"/><rect x="64.9" y="623.3" width="7.02" height="7.05" fill="#1a295a"/><rect x="71.47" y="623.3" width="7.02" height="7.05" fill="#0b112e"/><rect x="78.04" y="623.3" width="7.02" height="7.05" fill="#1f346e"/><rect x="84.61" y="623.3" width="7.02" height="7.05" fill="#1d2f64"/><rect x="91.18" y="623.3" width="7.02" height="7.05" fill="#16214c"/><rect x="97.75" y="623.3" width="7.02" height="7.05" fill="#1a2959"/><rect x="104.32" y="623.3" width="7.02" height="7.05" fill="#213a79"/><rect x="110.89" y="623.3" width="7.02" height="7.05" fill="#452776"/><rect x="117.46" y="623.3" width="7.02" height="7.05" fill="#d31f30"/><rect x="124.03" y="623.3" width="7.02" height="7.05" fill="#ed673f"/><rect x="130.6" y="623.3" width="7.02" height="7.05" fill="#8c1930"/><rect x="137.17" y="623.3" width="7.02" height="7.05" fill="#2a50a1"/><rect x="143.74" y="623.3" width="7.02" height="7.05" fill="#182552"/><rect x="150.31" y="623.3" width="7.02" height="7.05" fill="#233e81"/><rect x="156.88" y="623.3" width="7.02" height="7.05" fill="#203774"/><rect x="163.45" y="623.3" width="7.02" height="7.05" fill="#182654"/><rect x="170.02" y="623.3" width="7.02" height="7.05" fill="#1a2959"/><rect x="176.59" y="623.3" width="7.02" height="7.05" fill="#1c2d62"/><rect x="183.16" y="623.3" width="7.02" height="7.05" fill="#0d1333"/><rect x="189.73" y="623.3" width="7.02" height="7.05" fill="#16224e"/><rect x="196.3" y="623.3" width="7.02" height="7.05" fill="#182553"/><rect x="58.33" y="629.9" width="7.02" height="7.05" fill="#1e326a"/><rect x="64.9" y="629.9" width="7.02" height="7.05" fill="#274995"/><rect x="71.47" y="629.9" width="7.02" height="7.05" fill="#192655"/><rect x="78.04" y="629.9" width="7.02" height="7.05" fill="#15214b"/><rect x="84.61" y="629.9" width="7.02" height="7.05" fill="#080c26"/><rect x="91.18" y="629.9" width="7.02" height="7.05" fill="#1b2b5e"/><rect x="97.75" y="629.9" width="7.02" height="7.05" fill="#141f48"/><rect x="104.32" y="629.9" width="7.02" height="7.05" fill="#1e326b"/><rect x="110.89" y="629.9" width="7.02" height="7.05" fill="#203876"/><rect x="117.46" y="629.9" width="7.02" height="7.05" fill="#375bb2"/><rect x="124.03" y="629.9" width="7.02" height="7.05" fill="#433182"/><rect x="130.6" y="629.9" width="7.02" height="7.05" fill="#2f57ae"/><rect x="137.17" y="629.9" width="7.02" height="7.05" fill="#284c9a"/><rect x="143.74" y="629.9" width="7.02" height="7.05" fill="#25448b"/><rect x="150.31" y="629.9" width="7.02" height="7.05" fill="#1a2959"/><rect x="156.88" y="629.9" width="7.02" height="7.05" fill="#1d2f65"/><rect x="163.45" y="629.9" width="7.02" height="7.05" fill="#1e336c"/><rect x="170.02" y="629.9" width="7.02" height="7.05" fill="#1b2a5b"/><rect x="176.59" y="629.9" width="7.02" height="7.05" fill="#1a2857"/><rect x="183.16" y="629.9" width="7.02" height="7.05" fill="#172451"/><rect x="189.73" y="629.9" width="7.02" height="7.05" fill="#141f48"/><rect x="196.3" y="629.9" width="7.02" height="7.05" fill="#182452"/><rect x="58.33" y="636.5" width="7.02" height="7.05" fill="#111a3f"/><rect x="64.9" y="636.5" width="7.02" height="7.05" fill="#131d44"/><rect x="71.47" y="636.5" width="7.02" height="7.05" fill="#1a2959"/><rect x="78.04" y="636.5" width="7.02" height="7.05" fill="#1c2d61"/><rect x="84.61" y="636.5" width="7.02" height="7.05" fill="#233e81"/><rect x="91.18" y="636.5" width="7.02" height="7.05" fill="#1f346e"/><rect x="97.75" y="636.5" width="7.02" height="7.05" fill="#192654"/><rect x="104.32" y="636.5" width="7.02" height="7.05" fill="#0d1333"/><rect x="110.89" y="636.5" width="7.02" height="7.05" fill="#1f346e"/><rect x="117.46" y="636.5" width="7.02" height="7.05" fill="#1d2f65"/><rect x="124.03" y="636.5" width="7.02" height="7.05" fill="#182452"/><rect x="130.6" y="636.5" width="7.02" height="7.05" fill="#223c7d"/><rect x="137.17" y="636.5" width="7.02" height="7.05" fill="#284c99"/><rect x="143.74" y="636.5" width="7.02" height="7.05" fill="#223b7b"/><rect x="150.31" y="636.5" width="7.02" height="7.05" fill="#182452"/><rect x="156.88" y="636.5" width="7.02" height="7.05" fill="#111a3e"/><rect x="163.45" y="636.5" width="7.02" height="7.05" fill="#264892"/><rect x="170.02" y="636.5" width="7.02" height="7.05" fill="#264790"/><rect x="176.59" y="636.5" width="7.02" height="7.05" fill="#203875"/><rect x="183.16" y="636.5" width="7.02" height="7.05" fill="#1e336d"/><rect x="189.73" y="636.5" width="7.02" height="7.05" fill="#244287"/><rect x="196.3" y="636.5" width="7.02" height="7.05" fill="#1c2c5f"/><rect x="58.33" y="643.1" width="7.02" height="7.05" fill="#1e336c"/><rect x="64.9" y="643.1" width="7.02" height="7.05" fill="#1b2b5d"/><rect x="71.47" y="643.1" width="7.02" height="7.05" fill="#0c1333"/><rect x="78.04" y="643.1" width="7.02" height="7.05" fill="#203876"/><rect x="84.61" y="643.1" width="7.02" height="7.05" fill="#213b7a"/><rect x="91.18" y="643.1" width="7.02" height="7.05" fill="#234084"/><rect x="97.75" y="643.1" width="7.02" height="7.05" fill="#1d3066"/><rect x="104.32" y="643.1" width="7.02" height="7.05" fill="#1a295a"/><rect x="110.89" y="643.1" width="7.02" height="7.05" fill="#0a102c"/><rect x="117.46" y="643.1" width="7.02" height="7.05" fill="#233f82"/><rect x="124.03" y="643.1" width="7.02" height="7.05" fill="#121b41"/><rect x="130.6" y="643.1" width="7.02" height="7.05" fill="#1b2b5d"/><rect x="137.17" y="643.1" width="7.02" height="7.05" fill="#1f346d"/><rect x="143.74" y="643.1" width="7.02" height="7.05" fill="#203773"/><rect x="150.31" y="643.1" width="7.02" height="7.05" fill="#16214c"/><rect x="156.88" y="643.1" width="7.02" height="7.05" fill="#0c1331"/><rect x="163.45" y="643.1" width="7.02" height="7.05" fill="#274893"/><rect x="170.02" y="643.1" width="7.02" height="7.05" fill="#25448c"/><rect x="176.59" y="643.1" width="7.02" height="7.05" fill="#3258af"/><rect x="183.16" y="643.1" width="7.02" height="7.05" fill="#355ab1"/><rect x="189.73" y="643.1" width="7.02" height="7.05" fill="#203774"/><rect x="196.3" y="643.1" width="7.02" height="7.05" fill="#17234f"/><rect x="58.33" y="649.7" width="7.02" height="7.05" fill="#141e46"/><rect x="64.9" y="649.7" width="7.02" height="7.05" fill="#1d2f65"/><rect x="71.47" y="649.7" width="7.02" height="7.05" fill="#1e326a"/><rect x="78.04" y="649.7" width="7.02" height="7.05" fill="#3259af"/><rect x="84.61" y="649.7" width="7.02" height="7.05" fill="#2b53a7"/><rect x="91.18" y="649.7" width="7.02" height="7.05" fill="#25458e"/><rect x="97.75" y="649.7" width="7.02" height="7.05" fill="#274a95"/><rect x="104.32" y="649.7" width="7.02" height="7.05" fill="#1d3068"/><rect x="110.89" y="649.7" width="7.02" height="7.05" fill="#10183c"/><rect x="117.46" y="649.7" width="7.02" height="7.05" fill="#1a2959"/><rect x="124.03" y="649.7" width="7.02" height="7.05" fill="#26468f"/><rect x="130.6" y="649.7" width="7.02" height="7.05" fill="#0b112e"/><rect x="137.17" y="649.7" width="7.02" height="7.05" fill="#1a2858"/><rect x="143.74" y="649.7" width="7.02" height="7.05" fill="#1e3168"/><rect x="150.31" y="649.7" width="7.02" height="7.05" fill="#1b2b5d"/><rect x="156.88" y="649.7" width="7.02" height="7.05" fill="#0c1231"/><rect x="163.45" y="649.7" width="7.02" height="7.05" fill="#203773"/><rect x="170.02" y="649.7" width="7.02" height="7.05" fill="#1f3671"/><rect x="176.59" y="649.7" width="7.02" height="7.05" fill="#2c56ac"/><rect x="183.16" y="649.7" width="7.02" height="7.05" fill="#3158af"/><rect x="189.73" y="649.7" width="7.02" height="7.05" fill="#1e3169"/><rect x="196.3" y="649.7" width="7.02" height="7.05" fill="#141f47"/><rect x="58.33" y="656.3" width="7.02" height="7.05" fill="#030519"/><rect x="64.9" y="656.3" width="7.02" height="7.05" fill="#111b40"/><rect x="71.47" y="656.3" width="7.02" height="7.05" fill="#1f346f"/><rect x="78.04" y="656.3" width="7.02" height="7.05" fill="#2c56ac"/><rect x="84.61" y="656.3" width="7.02" height="7.05" fill="#3158af"/><rect x="91.18" y="656.3" width="7.02" height="7.05" fill="#1f346e"/><rect x="97.75" y="656.3" width="7.02" height="7.05" fill="#203874"/><rect x="104.32" y="656.3" width="7.02" height="7.05" fill="#1e326a"/><rect x="110.89" y="656.3" width="7.02" height="7.05" fill="#244287"/><rect x="117.46" y="656.3" width="7.02" height="7.05" fill="#1a2858"/><rect x="124.03" y="656.3" width="7.02" height="7.05" fill="#0c1331"/><rect x="130.6" y="656.3" width="7.02" height="7.05" fill="#111a3f"/><rect x="137.17" y="656.3" width="7.02" height="7.05" fill="#223c7c"/><rect x="143.74" y="656.3" width="7.02" height="7.05" fill="#1b2a5c"/><rect x="150.31" y="656.3" width="7.02" height="7.05" fill="#111a3f"/><rect x="156.88" y="656.3" width="7.02" height="7.05" fill="#1b2c5f"/><rect x="163.45" y="656.3" width="7.02" height="7.05" fill="#233e81"/><rect x="170.02" y="656.3" width="7.02" height="7.05" fill="#1e326a"/><rect x="176.59" y="656.3" width="7.02" height="7.05" fill="#213a79"/><rect x="183.16" y="656.3" width="7.02" height="7.05" fill="#16224d"/><rect x="189.73" y="656.3" width="7.02" height="7.05" fill="#213978"/><rect x="196.3" y="656.3" width="7.02" height="7.05" fill="#0a0f2b"/><rect x="58.33" y="662.9" width="7.02" height="7.05" fill="#0b1230"/><rect x="64.9" y="662.9" width="7.02" height="7.05" fill="#1c2e62"/><rect x="71.47" y="662.9" width="7.02" height="7.05" fill="#1f346e"/><rect x="78.04" y="662.9" width="7.02" height="7.05" fill="#1c2c60"/><rect x="84.61" y="662.9" width="7.02" height="7.05" fill="#244084"/><rect x="91.18" y="662.9" width="7.02" height="7.05" fill="#213a79"/><rect x="97.75" y="662.9" width="7.02" height="7.05" fill="#2b53a6"/><rect x="104.32" y="662.9" width="7.02" height="7.05" fill="#111b40"/><rect x="110.89" y="662.9" width="7.02" height="7.05" fill="#172350"/><rect x="117.46" y="662.9" width="7.02" height="7.05" fill="#0d1333"/><rect x="124.03" y="662.9" width="7.02" height="7.05" fill="#223c7d"/><rect x="130.6" y="662.9" width="7.02" height="7.05" fill="#1c2d61"/><rect x="137.17" y="662.9" width="7.02" height="7.05" fill="#182552"/><rect x="143.74" y="662.9" width="7.02" height="7.05" fill="#274893"/><rect x="150.31" y="662.9" width="7.02" height="7.05" fill="#1e326b"/><rect x="156.88" y="662.9" width="7.02" height="7.05" fill="#223d7e"/><rect x="163.45" y="662.9" width="7.02" height="7.05" fill="#121b41"/><rect x="170.02" y="662.9" width="7.02" height="7.05" fill="#203876"/><rect x="176.59" y="662.9" width="7.02" height="7.05" fill="#294f9f"/><rect x="183.16" y="662.9" width="7.02" height="7.05" fill="#213a79"/><rect x="189.73" y="662.9" width="7.02" height="7.05" fill="#0c1230"/><rect x="196.3" y="662.9" width="7.02" height="7.05" fill="#1e326b"/><rect x="58.33" y="669.5" width="7.02" height="7.05" fill="#0f1739"/><rect x="64.9" y="669.5" width="7.02" height="7.05" fill="#1c2e63"/><rect x="71.47" y="669.5" width="7.02" height="7.05" fill="#203774"/><rect x="78.04" y="669.5" width="7.02" height="7.05" fill="#111b40"/><rect x="84.61" y="669.5" width="7.02" height="7.05" fill="#203875"/><rect x="91.18" y="669.5" width="7.02" height="7.05" fill="#1a2858"/><rect x="97.75" y="669.5" width="7.02" height="7.05" fill="#223d7f"/><rect x="104.32" y="669.5" width="7.02" height="7.05" fill="#1e326b"/><rect x="110.89" y="669.5" width="7.02" height="7.05" fill="#1a2858"/><rect x="117.46" y="669.5" width="7.02" height="7.05" fill="#1c2d61"/><rect x="124.03" y="669.5" width="7.02" height="7.05" fill="#1e326a"/><rect x="130.6" y="669.5" width="7.02" height="7.05" fill="#182552"/><rect x="137.17" y="669.5" width="7.02" height="7.05" fill="#294e9d"/><rect x="143.74" y="669.5" width="7.02" height="7.05" fill="#1c2d62"/><rect x="150.31" y="669.5" width="7.02" height="7.05" fill="#1e336d"/><rect x="156.88" y="669.5" width="7.02" height="7.05" fill="#060920"/><rect x="163.45" y="669.5" width="7.02" height="7.05" fill="#060920"/><rect x="170.02" y="669.5" width="7.02" height="7.05" fill="#1c2e63"/><rect x="176.59" y="669.5" width="7.02" height="7.05" fill="#0c1332"/><rect x="183.16" y="669.5" width="7.02" height="7.05" fill="#0a0f2b"/><rect x="189.73" y="669.5" width="7.02" height="7.05" fill="#182553"/><rect x="196.3" y="669.5" width="7.02" height="7.05" fill="#1e3169"/><rect x="58.33" y="676.1" width="7.02" height="7.05" fill="#1b2c5f"/><rect x="64.9" y="676.1" width="7.02" height="7.05" fill="#1a2757"/><rect x="71.47" y="676.1" width="7.02" height="7.05" fill="#182553"/><rect x="78.04" y="676.1" width="7.02" height="7.05" fill="#1c2d61"/><rect x="84.61" y="676.1" width="7.02" height="7.05" fill="#25458d"/><rect x="91.18" y="676.1" width="7.02" height="7.05" fill="#1c2d61"/><rect x="97.75" y="676.1" width="7.02" height="7.05" fill="#1d3066"/><rect x="104.32" y="676.1" width="7.02" height="7.05" fill="#0f1739"/><rect x="110.89" y="676.1" width="7.02" height="7.05" fill="#16214c"/><rect x="117.46" y="676.1" width="7.02" height="7.05" fill="#0e1638"/><rect x="124.03" y="676.1" width="7.02" height="7.05" fill="#1c2c60"/><rect x="130.6" y="676.1" width="7.02" height="7.05" fill="#0e1638"/><rect x="137.17" y="676.1" width="7.02" height="7.05" fill="#17234f"/><rect x="143.74" y="676.1" width="7.02" height="7.05" fill="#1d2f64"/><rect x="150.31" y="676.1" width="7.02" height="7.05" fill="#213977"/><rect x="156.88" y="676.1" width="7.02" height="7.05" fill="#1c2c60"/><rect x="163.45" y="676.1" width="7.02" height="7.05" fill="#131d45"/><rect x="170.02" y="676.1" width="7.02" height="7.05" fill="#172450"/><rect x="176.59" y="676.1" width="7.02" height="7.05" fill="#192755"/><rect x="183.16" y="676.1" width="7.02" height="7.05" fill="#1b2a5b"/><rect x="189.73" y="676.1" width="7.02" height="7.05" fill="#0c1332"/><rect x="196.3" y="676.1" width="7.02" height="7.05" fill="#15214b"/><rect x="58.33" y="682.7" width="7.02" height="7.05" fill="#17234e"/><rect x="64.9" y="682.7" width="7.02" height="7.05" fill="#182552"/><rect x="71.47" y="682.7" width="7.02" height="7.05" fill="#090e2a"/><rect x="78.04" y="682.7" width="7.02" height="7.05" fill="#1e326a"/><rect x="84.61" y="682.7" width="7.02" height="7.05" fill="#16224d"/><rect x="91.18" y="682.7" width="7.02" height="7.05" fill="#111a3e"/><rect x="97.75" y="682.7" width="7.02" height="7.05" fill="#274893"/><rect x="104.32" y="682.7" width="7.02" height="7.05" fill="#1a295a"/><rect x="110.89" y="682.7" width="7.02" height="7.05" fill="#182654"/><rect x="117.46" y="682.7" width="7.02" height="7.05" fill="#192756"/><rect x="124.03" y="682.7" width="7.02" height="7.05" fill="#1d3066"/><rect x="130.6" y="682.7" width="7.02" height="7.05" fill="#1d3066"/><rect x="137.17" y="682.7" width="7.02" height="7.05" fill="#0c1332"/><rect x="143.74" y="682.7" width="7.02" height="7.05" fill="#121c42"/><rect x="150.31" y="682.7" width="7.02" height="7.05" fill="#213b7a"/><rect x="156.88" y="682.7" width="7.02" height="7.05" fill="#131d45"/><rect x="163.45" y="682.7" width="7.02" height="7.05" fill="#192756"/><rect x="170.02" y="682.7" width="7.02" height="7.05" fill="#16224c"/><rect x="176.59" y="682.7" width="7.02" height="7.05" fill="#1e326a"/><rect x="183.16" y="682.7" width="7.02" height="7.05" fill="#1b2b5d"/><rect x="189.73" y="682.7" width="7.02" height="7.05" fill="#0b112e"/><rect x="196.3" y="682.7" width="7.02" height="7.05" fill="#0d1434"/><rect x="58.33" y="689.3" width="7.02" height="7.05" fill="#10183b"/><rect x="64.9" y="689.3" width="7.02" height="7.05" fill="#17234f"/><rect x="71.47" y="689.3" width="7.02" height="7.05" fill="#17234f"/><rect x="78.04" y="689.3" width="7.02" height="7.05" fill="#1f346d"/><rect x="84.61" y="689.3" width="7.02" height="7.05" fill="#1e336c"/><rect x="91.18" y="689.3" width="7.02" height="7.05" fill="#1c2d62"/><rect x="97.75" y="689.3" width="7.02" height="7.05" fill="#111b40"/><rect x="104.32" y="689.3" width="7.02" height="7.05" fill="#121c42"/><rect x="110.89" y="689.3" width="7.02" height="7.05" fill="#1b2b5d"/><rect x="117.46" y="689.3" width="7.02" height="7.05" fill="#141e46"/><rect x="124.03" y="689.3" width="7.02" height="7.05" fill="#080c25"/><rect x="130.6" y="689.3" width="7.02" height="7.05" fill="#121b41"/><rect x="137.17" y="689.3" width="7.02" height="7.05" fill="#141f48"/><rect x="143.74" y="689.3" width="7.02" height="7.05" fill="#1d2f65"/><rect x="150.31" y="689.3" width="7.02" height="7.05" fill="#0a102d"/><rect x="156.88" y="689.3" width="7.02" height="7.05" fill="#0d1333"/><rect x="163.45" y="689.3" width="7.02" height="7.05" fill="#111a3e"/><rect x="170.02" y="689.3" width="7.02" height="7.05" fill="#141f48"/><rect x="176.59" y="689.3" width="7.02" height="7.05" fill="#10193d"/><rect x="183.16" y="689.3" width="7.02" height="7.05" fill="#1d2f66"/><rect x="189.73" y="689.3" width="7.02" height="7.05" fill="#1d2f65"/><rect x="196.3" y="689.3" width="7.02" height="7.05" fill="#1e336b"/><rect x="58.33" y="695.9" width="7.02" height="7.05" fill="#030519"/><rect x="64.9" y="695.9" width="7.02" height="7.05" fill="#1e326a"/><rect x="71.47" y="695.9" width="7.02" height="7.05" fill="#0c1332"/><rect x="78.04" y="695.9" width="7.02" height="7.05" fill="#17234f"/><rect x="84.61" y="695.9" width="7.02" height="7.05" fill="#121c43"/><rect x="91.18" y="695.9" width="7.02" height="7.05" fill="#1c2e63"/><rect x="97.75" y="695.9" width="7.02" height="7.05" fill="#131d44"/><rect x="104.32" y="695.9" width="7.02" height="7.05" fill="#1e326b"/><rect x="110.89" y="695.9" width="7.02" height="7.05" fill="#131d43"/><rect x="117.46" y="695.9" width="7.02" height="7.05" fill="#0a102d"/><rect x="124.03" y="695.9" width="7.02" height="7.05" fill="#1c2c60"/><rect x="130.6" y="695.9" width="7.02" height="7.05" fill="#080c26"/><rect x="137.17" y="695.9" width="7.02" height="7.05" fill="#1d3067"/><rect x="143.74" y="695.9" width="7.02" height="7.05" fill="#182553"/><rect x="150.31" y="695.9" width="7.02" height="7.05" fill="#000010"/><rect x="156.88" y="695.9" width="7.02" height="7.05" fill="#131d44"/><rect x="163.45" y="695.9" width="7.02" height="7.05" fill="#0a0f2a"/><rect x="170.02" y="695.9" width="7.02" height="7.05" fill="#16224d"/><rect x="176.59" y="695.9" width="7.02" height="7.05" fill="#1b2a5b"/><rect x="183.16" y="695.9" width="7.02" height="7.05" fill="#1c2e63"/><rect x="189.73" y="695.9" width="7.02" height="7.05" fill="#070a23"/><rect x="196.3" y="695.9" width="7.02" height="7.05" fill="#0e1637"/><rect x="58.33" y="702.5" width="7.02" height="7.05" fill="#1a295a"/><rect x="64.9" y="702.5" width="7.02" height="7.05" fill="#121b41"/><rect x="71.47" y="702.5" width="7.02" height="7.05" fill="#121c42"/><rect x="78.04" y="702.5" width="7.02" height="7.05" fill="#233f81"/><rect x="84.61" y="702.5" width="7.02" height="7.05" fill="#141f48"/><rect x="91.18" y="702.5" width="7.02" height="7.05" fill="#16234e"/><rect x="97.75" y="702.5" width="7.02" height="7.05" fill="#1a2859"/><rect x="104.32" y="702.5" width="7.02" height="7.05" fill="#1d2f64"/><rect x="110.89" y="702.5" width="7.02" height="7.05" fill="#1a2858"/><rect x="117.46" y="702.5" width="7.02" height="7.05" fill="#141f49"/><rect x="124.03" y="702.5" width="7.02" height="7.05" fill="#1c2d61"/><rect x="130.6" y="702.5" width="7.02" height="7.05" fill="#25458d"/><rect x="137.17" y="702.5" width="7.02" height="7.05" fill="#141f47"/><rect x="143.74" y="702.5" width="7.02" height="7.05" fill="#1c2c5f"/><rect x="150.31" y="702.5" width="7.02" height="7.05" fill="#0f183b"/><rect x="156.88" y="702.5" width="7.02" height="7.05" fill="#1e326a"/><rect x="163.45" y="702.5" width="7.02" height="7.05" fill="#1e326a"/><rect x="170.02" y="702.5" width="7.02" height="7.05" fill="#1d3066"/><rect x="176.59" y="702.5" width="7.02" height="7.05" fill="#16224e"/><rect x="183.16" y="702.5" width="7.02" height="7.05" fill="#1e326a"/><rect x="189.73" y="702.5" width="7.02" height="7.05" fill="#141f48"/><rect x="196.3" y="702.5" width="7.02" height="7.05" fill="#121b41"/></g>
<defs><clipPath id="hm2"><rect x="205.3" y="574.3" width="139.4" height="132"/></clipPath></defs><rect x="205.3" y="574.3" width="139.4" height="132" fill="#1c2e62"/><g clip-path="url(#hm2)"><rect x="202.25" y="571.75" width="7" height="6.9" fill="#16224c"/><rect x="208.8" y="571.75" width="7" height="6.9" fill="#1d3168"/><rect x="215.35" y="571.75" width="7" height="6.9" fill="#213b7a"/><rect x="221.9" y="571.75" width="7" height="6.9" fill="#1e3168"/><rect x="228.45" y="571.75" width="7" height="6.9" fill="#121b41"/><rect x="235" y="571.75" width="7" height="6.9" fill="#16224d"/><rect x="241.55" y="571.75" width="7" height="6.9" fill="#1c2d61"/><rect x="248.1" y="571.75" width="7" height="6.9" fill="#203875"/><rect x="254.65" y="571.75" width="7" height="6.9" fill="#223d7e"/><rect x="261.2" y="571.75" width="7" height="6.9" fill="#1e3168"/><rect x="267.75" y="571.75" width="7" height="6.9" fill="#04071c"/><rect x="274.3" y="571.75" width="7" height="6.9" fill="#203774"/><rect x="280.85" y="571.75" width="7" height="6.9" fill="#203773"/><rect x="287.4" y="571.75" width="7" height="6.9" fill="#233f81"/><rect x="293.95" y="571.75" width="7" height="6.9" fill="#223d7f"/><rect x="300.5" y="571.75" width="7" height="6.9" fill="#223d7e"/><rect x="307.05" y="571.75" width="7" height="6.9" fill="#203876"/><rect x="313.6" y="571.75" width="7" height="6.9" fill="#1f346e"/><rect x="320.15" y="571.75" width="7" height="6.9" fill="#192756"/><rect x="326.7" y="571.75" width="7" height="6.9" fill="#213a7a"/><rect x="333.25" y="571.75" width="7" height="6.9" fill="#1e326b"/><rect x="339.8" y="571.75" width="7" height="6.9" fill="#0f173a"/><rect x="202.25" y="578.2" width="7" height="6.9" fill="#121c43"/><rect x="208.8" y="578.2" width="7" height="6.9" fill="#244186"/><rect x="215.35" y="578.2" width="7" height="6.9" fill="#2b54a8"/><rect x="221.9" y="578.2" width="7" height="6.9" fill="#16214c"/><rect x="228.45" y="578.2" width="7" height="6.9" fill="#213977"/><rect x="235" y="578.2" width="7" height="6.9" fill="#090e29"/><rect x="241.55" y="578.2" width="7" height="6.9" fill="#1f3570"/><rect x="248.1" y="578.2" width="7" height="6.9" fill="#1b2a5b"/><rect x="254.65" y="578.2" width="7" height="6.9" fill="#1b2c5f"/><rect x="261.2" y="578.2" width="7" height="6.9" fill="#1c2c5f"/><rect x="267.75" y="578.2" width="7" height="6.9" fill="#0c1331"/><rect x="274.3" y="578.2" width="7" height="6.9" fill="#1f346d"/><rect x="280.85" y="578.2" width="7" height="6.9" fill="#1f346d"/><rect x="287.4" y="578.2" width="7" height="6.9" fill="#1b2c5f"/><rect x="293.95" y="578.2" width="7" height="6.9" fill="#0b112e"/><rect x="300.5" y="578.2" width="7" height="6.9" fill="#1d2f65"/><rect x="307.05" y="578.2" width="7" height="6.9" fill="#234083"/><rect x="313.6" y="578.2" width="7" height="6.9" fill="#1e326a"/><rect x="320.15" y="578.2" width="7" height="6.9" fill="#182552"/><rect x="326.7" y="578.2" width="7" height="6.9" fill="#213a79"/><rect x="333.25" y="578.2" width="7" height="6.9" fill="#2c56ab"/><rect x="339.8" y="578.2" width="7" height="6.9" fill="#1a2857"/><rect x="202.25" y="584.65" width="7" height="6.9" fill="#25458d"/><rect x="208.8" y="584.65" width="7" height="6.9" fill="#25448b"/><rect x="215.35" y="584.65" width="7" height="6.9" fill="#1c2d61"/><rect x="221.9" y="584.65" width="7" height="6.9" fill="#233e81"/><rect x="228.45" y="584.65" width="7" height="6.9" fill="#213978"/><rect x="235" y="584.65" width="7" height="6.9" fill="#15214b"/><rect x="241.55" y="584.65" width="7" height="6.9" fill="#274a96"/><rect x="248.1" y="584.65" width="7" height="6.9" fill="#182654"/><rect x="254.65" y="584.65" width="7" height="6.9" fill="#213977"/><rect x="261.2" y="584.65" width="7" height="6.9" fill="#192756"/><rect x="267.75" y="584.65" width="7" height="6.9" fill="#1d2f64"/><rect x="274.3" y="584.65" width="7" height="6.9" fill="#213a79"/><rect x="280.85" y="584.65" width="7" height="6.9" fill="#15204a"/><rect x="287.4" y="584.65" width="7" height="6.9" fill="#16224d"/><rect x="293.95" y="584.65" width="7" height="6.9" fill="#203773"/><rect x="300.5" y="584.65" width="7" height="6.9" fill="#182654"/><rect x="307.05" y="584.65" width="7" height="6.9" fill="#1e3169"/><rect x="313.6" y="584.65" width="7" height="6.9" fill="#1b2c5f"/><rect x="320.15" y="584.65" width="7" height="6.9" fill="#192655"/><rect x="326.7" y="584.65" width="7" height="6.9" fill="#1c2d62"/><rect x="333.25" y="584.65" width="7" height="6.9" fill="#1c2c5f"/><rect x="339.8" y="584.65" width="7" height="6.9" fill="#1c2d61"/><rect x="202.25" y="591.1" width="7" height="6.9" fill="#203773"/><rect x="208.8" y="591.1" width="7" height="6.9" fill="#213978"/><rect x="215.35" y="591.1" width="7" height="6.9" fill="#203672"/><rect x="221.9" y="591.1" width="7" height="6.9" fill="#1d3066"/><rect x="228.45" y="591.1" width="7" height="6.9" fill="#1f3570"/><rect x="235" y="591.1" width="7" height="6.9" fill="#25448b"/><rect x="241.55" y="591.1" width="7" height="6.9" fill="#192654"/><rect x="248.1" y="591.1" width="7" height="6.9" fill="#223c7d"/><rect x="254.65" y="591.1" width="7" height="6.9" fill="#223c7c"/><rect x="261.2" y="591.1" width="7" height="6.9" fill="#111b40"/><rect x="267.75" y="591.1" width="7" height="6.9" fill="#264791"/><rect x="274.3" y="591.1" width="7" height="6.9" fill="#1a2858"/><rect x="280.85" y="591.1" width="7" height="6.9" fill="#080c26"/><rect x="287.4" y="591.1" width="7" height="6.9" fill="#223c7c"/><rect x="293.95" y="591.1" width="7" height="6.9" fill="#203774"/><rect x="300.5" y="591.1" width="7" height="6.9" fill="#0d1433"/><rect x="307.05" y="591.1" width="7" height="6.9" fill="#1b2a5c"/><rect x="313.6" y="591.1" width="7" height="6.9" fill="#1b295a"/><rect x="320.15" y="591.1" width="7" height="6.9" fill="#223e80"/><rect x="326.7" y="591.1" width="7" height="6.9" fill="#1f346e"/><rect x="333.25" y="591.1" width="7" height="6.9" fill="#203672"/><rect x="339.8" y="591.1" width="7" height="6.9" fill="#233f83"/><rect x="202.25" y="597.55" width="7" height="6.9" fill="#0e1536"/><rect x="208.8" y="597.55" width="7" height="6.9" fill="#1e326a"/><rect x="215.35" y="597.55" width="7" height="6.9" fill="#1e326b"/><rect x="221.9" y="597.55" width="7" height="6.9" fill="#1c2d61"/><rect x="228.45" y="597.55" width="7" height="6.9" fill="#1e326a"/><rect x="235" y="597.55" width="7" height="6.9" fill="#1d2f64"/><rect x="241.55" y="597.55" width="7" height="6.9" fill="#26468f"/><rect x="248.1" y="597.55" width="7" height="6.9" fill="#17234f"/><rect x="254.65" y="597.55" width="7" height="6.9" fill="#233f82"/><rect x="261.2" y="597.55" width="7" height="6.9" fill="#2b54a8"/><rect x="267.75" y="597.55" width="7" height="6.9" fill="#213a7a"/><rect x="274.3" y="597.55" width="7" height="6.9" fill="#284c99"/><rect x="280.85" y="597.55" width="7" height="6.9" fill="#25438a"/><rect x="287.4" y="597.55" width="7" height="6.9" fill="#1e336b"/><rect x="293.95" y="597.55" width="7" height="6.9" fill="#1a2858"/><rect x="300.5" y="597.55" width="7" height="6.9" fill="#172350"/><rect x="307.05" y="597.55" width="7" height="6.9" fill="#1a295a"/><rect x="313.6" y="597.55" width="7" height="6.9" fill="#1d2f65"/><rect x="320.15" y="597.55" width="7" height="6.9" fill="#16224e"/><rect x="326.7" y="597.55" width="7" height="6.9" fill="#141f47"/><rect x="333.25" y="597.55" width="7" height="6.9" fill="#192756"/><rect x="339.8" y="597.55" width="7" height="6.9" fill="#111a3e"/><rect x="202.25" y="604" width="7" height="6.9" fill="#1d2f65"/><rect x="208.8" y="604" width="7" height="6.9" fill="#192655"/><rect x="215.35" y="604" width="7" height="6.9" fill="#203976"/><rect x="221.9" y="604" width="7" height="6.9" fill="#1c2c60"/><rect x="228.45" y="604" width="7" height="6.9" fill="#213978"/><rect x="235" y="604" width="7" height="6.9" fill="#1f3570"/><rect x="241.55" y="604" width="7" height="6.9" fill="#1f3671"/><rect x="248.1" y="604" width="7" height="6.9" fill="#2b52a5"/><rect x="254.65" y="604" width="7" height="6.9" fill="#512064"/><rect x="261.2" y="604" width="7" height="6.9" fill="#ed683f"/><rect x="267.75" y="604" width="7" height="6.9" fill="#eb5b3c"/><rect x="274.3" y="604" width="7" height="6.9" fill="#3459b0"/><rect x="280.85" y="604" width="7" height="6.9" fill="#2a50a1"/><rect x="287.4" y="604" width="7" height="6.9" fill="#1b2a5b"/><rect x="293.95" y="604" width="7" height="6.9" fill="#223d7f"/><rect x="300.5" y="604" width="7" height="6.9" fill="#203774"/><rect x="307.05" y="604" width="7" height="6.9" fill="#0e1637"/><rect x="313.6" y="604" width="7" height="6.9" fill="#1b2c5f"/><rect x="320.15" y="604" width="7" height="6.9" fill="#1c2c5f"/><rect x="326.7" y="604" width="7" height="6.9" fill="#1a2757"/><rect x="333.25" y="604" width="7" height="6.9" fill="#1b2b5e"/><rect x="339.8" y="604" width="7" height="6.9" fill="#244288"/><rect x="202.25" y="610.45" width="7" height="6.9" fill="#26468f"/><rect x="208.8" y="610.45" width="7" height="6.9" fill="#1d2f64"/><rect x="215.35" y="610.45" width="7" height="6.9" fill="#213977"/><rect x="221.9" y="610.45" width="7" height="6.9" fill="#1e3168"/><rect x="228.45" y="610.45" width="7" height="6.9" fill="#1d3066"/><rect x="235" y="610.45" width="7" height="6.9" fill="#1b2a5c"/><rect x="241.55" y="610.45" width="7" height="6.9" fill="#152049"/><rect x="248.1" y="610.45" width="7" height="6.9" fill="#3459b1"/><rect x="254.65" y="610.45" width="7" height="6.9" fill="#e12731"/><rect x="261.2" y="610.45" width="7" height="6.9" fill="#e5eaa4"/><rect x="267.75" y="610.45" width="7" height="6.9" fill="#dbe485"/><rect x="274.3" y="610.45" width="7" height="6.9" fill="#e43534"/><rect x="280.85" y="610.45" width="7" height="6.9" fill="#2b53a7"/><rect x="287.4" y="610.45" width="7" height="6.9" fill="#294e9e"/><rect x="293.95" y="610.45" width="7" height="6.9" fill="#182654"/><rect x="300.5" y="610.45" width="7" height="6.9" fill="#1f356f"/><rect x="307.05" y="610.45" width="7" height="6.9" fill="#1f3570"/><rect x="313.6" y="610.45" width="7" height="6.9" fill="#1b2b5e"/><rect x="320.15" y="610.45" width="7" height="6.9" fill="#05081f"/><rect x="326.7" y="610.45" width="7" height="6.9" fill="#111a3e"/><rect x="333.25" y="610.45" width="7" height="6.9" fill="#233f82"/><rect x="339.8" y="610.45" width="7" height="6.9" fill="#04071c"/><rect x="202.25" y="616.9" width="7" height="6.9" fill="#213a79"/><rect x="208.8" y="616.9" width="7" height="6.9" fill="#1a2858"/><rect x="215.35" y="616.9" width="7" height="6.9" fill="#234083"/><rect x="221.9" y="616.9" width="7" height="6.9" fill="#1e336c"/><rect x="228.45" y="616.9" width="7" height="6.9" fill="#264791"/><rect x="235" y="616.9" width="7" height="6.9" fill="#1c2e62"/><rect x="241.55" y="616.9" width="7" height="6.9" fill="#1f346d"/><rect x="248.1" y="616.9" width="7" height="6.9" fill="#2c56ac"/><rect x="254.65" y="616.9" width="7" height="6.9" fill="#e9503a"/><rect x="261.2" y="616.9" width="7" height="6.9" fill="#dde58a"/><rect x="267.75" y="616.9" width="7" height="6.9" fill="#d2dd65"/><rect x="274.3" y="616.9" width="7" height="6.9" fill="#e12331"/><rect x="280.85" y="616.9" width="7" height="6.9" fill="#233f82"/><rect x="287.4" y="616.9" width="7" height="6.9" fill="#1b2a5c"/><rect x="293.95" y="616.9" width="7" height="6.9" fill="#2a50a0"/><rect x="300.5" y="616.9" width="7" height="6.9" fill="#1f3570"/><rect x="307.05" y="616.9" width="7" height="6.9" fill="#203875"/><rect x="313.6" y="616.9" width="7" height="6.9" fill="#203875"/><rect x="320.15" y="616.9" width="7" height="6.9" fill="#244085"/><rect x="326.7" y="616.9" width="7" height="6.9" fill="#1f346e"/><rect x="333.25" y="616.9" width="7" height="6.9" fill="#213a78"/><rect x="339.8" y="616.9" width="7" height="6.9" fill="#182452"/><rect x="202.25" y="623.35" width="7" height="6.9" fill="#1a2857"/><rect x="208.8" y="623.35" width="7" height="6.9" fill="#17234e"/><rect x="215.35" y="623.35" width="7" height="6.9" fill="#203773"/><rect x="221.9" y="623.35" width="7" height="6.9" fill="#1f356f"/><rect x="228.45" y="623.35" width="7" height="6.9" fill="#1c2c5f"/><rect x="235" y="623.35" width="7" height="6.9" fill="#192755"/><rect x="241.55" y="623.35" width="7" height="6.9" fill="#1c2d61"/><rect x="248.1" y="623.35" width="7" height="6.9" fill="#274a95"/><rect x="254.65" y="623.35" width="7" height="6.9" fill="#3459b1"/><rect x="261.2" y="623.35" width="7" height="6.9" fill="#c91e30"/><rect x="267.75" y="623.35" width="7" height="6.9" fill="#e22e33"/><rect x="274.3" y="623.35" width="7" height="6.9" fill="#3b55ac"/><rect x="280.85" y="623.35" width="7" height="6.9" fill="#244187"/><rect x="287.4" y="623.35" width="7" height="6.9" fill="#26468e"/><rect x="293.95" y="623.35" width="7" height="6.9" fill="#223c7c"/><rect x="300.5" y="623.35" width="7" height="6.9" fill="#182451"/><rect x="307.05" y="623.35" width="7" height="6.9" fill="#234083"/><rect x="313.6" y="623.35" width="7" height="6.9" fill="#233f81"/><rect x="320.15" y="623.35" width="7" height="6.9" fill="#1a2757"/><rect x="326.7" y="623.35" width="7" height="6.9" fill="#1d3067"/><rect x="333.25" y="623.35" width="7" height="6.9" fill="#1f346d"/><rect x="339.8" y="623.35" width="7" height="6.9" fill="#16224d"/><rect x="202.25" y="629.8" width="7" height="6.9" fill="#131d44"/><rect x="208.8" y="629.8" width="7" height="6.9" fill="#1b2c5e"/><rect x="215.35" y="629.8" width="7" height="6.9" fill="#1e326a"/><rect x="221.9" y="629.8" width="7" height="6.9" fill="#192655"/><rect x="228.45" y="629.8" width="7" height="6.9" fill="#3058ae"/><rect x="235" y="629.8" width="7" height="6.9" fill="#213a79"/><rect x="241.55" y="629.8" width="7" height="6.9" fill="#1d3067"/><rect x="248.1" y="629.8" width="7" height="6.9" fill="#182552"/><rect x="254.65" y="629.8" width="7" height="6.9" fill="#2b52a6"/><rect x="261.2" y="629.8" width="7" height="6.9" fill="#2b52a6"/><rect x="267.75" y="629.8" width="7" height="6.9" fill="#2f57ae"/><rect x="274.3" y="629.8" width="7" height="6.9" fill="#2c56ac"/><rect x="280.85" y="629.8" width="7" height="6.9" fill="#1d2f66"/><rect x="287.4" y="629.8" width="7" height="6.9" fill="#1e336c"/><rect x="293.95" y="629.8" width="7" height="6.9" fill="#0b102e"/><rect x="300.5" y="629.8" width="7" height="6.9" fill="#111a3f"/><rect x="307.05" y="629.8" width="7" height="6.9" fill="#274a96"/><rect x="313.6" y="629.8" width="7" height="6.9" fill="#385bb3"/><rect x="320.15" y="629.8" width="7" height="6.9" fill="#3d4ca1"/><rect x="326.7" y="629.8" width="7" height="6.9" fill="#3a5cb4"/><rect x="333.25" y="629.8" width="7" height="6.9" fill="#284b99"/><rect x="339.8" y="629.8" width="7" height="6.9" fill="#203773"/><rect x="202.25" y="636.25" width="7" height="6.9" fill="#182552"/><rect x="208.8" y="636.25" width="7" height="6.9" fill="#264790"/><rect x="215.35" y="636.25" width="7" height="6.9" fill="#294e9e"/><rect x="221.9" y="636.25" width="7" height="6.9" fill="#3459b0"/><rect x="228.45" y="636.25" width="7" height="6.9" fill="#284d9b"/><rect x="235" y="636.25" width="7" height="6.9" fill="#244186"/><rect x="241.55" y="636.25" width="7" height="6.9" fill="#1a295a"/><rect x="248.1" y="636.25" width="7" height="6.9" fill="#223d7f"/><rect x="254.65" y="636.25" width="7" height="6.9" fill="#203774"/><rect x="261.2" y="636.25" width="7" height="6.9" fill="#284b98"/><rect x="267.75" y="636.25" width="7" height="6.9" fill="#294fa0"/><rect x="274.3" y="636.25" width="7" height="6.9" fill="#1e3169"/><rect x="280.85" y="636.25" width="7" height="6.9" fill="#223c7d"/><rect x="287.4" y="636.25" width="7" height="6.9" fill="#1e326a"/><rect x="293.95" y="636.25" width="7" height="6.9" fill="#182654"/><rect x="300.5" y="636.25" width="7" height="6.9" fill="#284c99"/><rect x="307.05" y="636.25" width="7" height="6.9" fill="#3459b0"/><rect x="313.6" y="636.25" width="7" height="6.9" fill="#e12631"/><rect x="320.15" y="636.25" width="7" height="6.9" fill="#f09f30"/><rect x="326.7" y="636.25" width="7" height="6.9" fill="#ed663e"/><rect x="333.25" y="636.25" width="7" height="6.9" fill="#2e57ad"/><rect x="339.8" y="636.25" width="7" height="6.9" fill="#274a96"/><rect x="202.25" y="642.7" width="7" height="6.9" fill="#1d3066"/><rect x="208.8" y="642.7" width="7" height="6.9" fill="#2a51a2"/><rect x="215.35" y="642.7" width="7" height="6.9" fill="#375bb2"/><rect x="221.9" y="642.7" width="7" height="6.9" fill="#d81f30"/><rect x="228.45" y="642.7" width="7" height="6.9" fill="#de2030"/><rect x="235" y="642.7" width="7" height="6.9" fill="#3b58af"/><rect x="241.55" y="642.7" width="7" height="6.9" fill="#2c56ac"/><rect x="248.1" y="642.7" width="7" height="6.9" fill="#233e81"/><rect x="254.65" y="642.7" width="7" height="6.9" fill="#15214b"/><rect x="261.2" y="642.7" width="7" height="6.9" fill="#25458d"/><rect x="267.75" y="642.7" width="7" height="6.9" fill="#1d3168"/><rect x="274.3" y="642.7" width="7" height="6.9" fill="#1c2d62"/><rect x="280.85" y="642.7" width="7" height="6.9" fill="#070b23"/><rect x="287.4" y="642.7" width="7" height="6.9" fill="#213b7a"/><rect x="293.95" y="642.7" width="7" height="6.9" fill="#17234f"/><rect x="300.5" y="642.7" width="7" height="6.9" fill="#2d56ac"/><rect x="307.05" y="642.7" width="7" height="6.9" fill="#6a1c48"/><rect x="313.6" y="642.7" width="7" height="6.9" fill="#de9d2d"/><rect x="320.15" y="642.7" width="7" height="6.9" fill="#f0f2c8"/><rect x="326.7" y="642.7" width="7" height="6.9" fill="#aeb640"/><rect x="333.25" y="642.7" width="7" height="6.9" fill="#5f1e55"/><rect x="339.8" y="642.7" width="7" height="6.9" fill="#284c99"/><rect x="202.25" y="649.15" width="7" height="6.9" fill="#1a2859"/><rect x="208.8" y="649.15" width="7" height="6.9" fill="#365ab2"/><rect x="215.35" y="649.15" width="7" height="6.9" fill="#ec633e"/><rect x="221.9" y="649.15" width="7" height="6.9" fill="#dfe68f"/><rect x="228.45" y="649.15" width="7" height="6.9" fill="#dbe383"/><rect x="235" y="649.15" width="7" height="6.9" fill="#db2030"/><rect x="241.55" y="649.15" width="7" height="6.9" fill="#2d56ac"/><rect x="248.1" y="649.15" width="7" height="6.9" fill="#2b53a7"/><rect x="254.65" y="649.15" width="7" height="6.9" fill="#213976"/><rect x="261.2" y="649.15" width="7" height="6.9" fill="#15204a"/><rect x="267.75" y="649.15" width="7" height="6.9" fill="#203773"/><rect x="274.3" y="649.15" width="7" height="6.9" fill="#1b2b5e"/><rect x="280.85" y="649.15" width="7" height="6.9" fill="#213977"/><rect x="287.4" y="649.15" width="7" height="6.9" fill="#2f57ae"/><rect x="293.95" y="649.15" width="7" height="6.9" fill="#1e3169"/><rect x="300.5" y="649.15" width="7" height="6.9" fill="#274a97"/><rect x="307.05" y="649.15" width="7" height="6.9" fill="#681c4b"/><rect x="313.6" y="649.15" width="7" height="6.9" fill="#ee723f"/><rect x="320.15" y="649.15" width="7" height="6.9" fill="#dee58e"/><rect x="326.7" y="649.15" width="7" height="6.9" fill="#ba9727"/><rect x="333.25" y="649.15" width="7" height="6.9" fill="#4c216a"/><rect x="339.8" y="649.15" width="7" height="6.9" fill="#2e57ad"/><rect x="202.25" y="655.6" width="7" height="6.9" fill="#26468e"/><rect x="208.8" y="655.6" width="7" height="6.9" fill="#3e469b"/><rect x="215.35" y="655.6" width="7" height="6.9" fill="#e84c39"/><rect x="221.9" y="655.6" width="7" height="6.9" fill="#f6f7dc"/><rect x="228.45" y="655.6" width="7" height="6.9" fill="#ebeeb7"/><rect x="235" y="655.6" width="7" height="6.9" fill="#e74938"/><rect x="241.55" y="655.6" width="7" height="6.9" fill="#2c56ac"/><rect x="248.1" y="655.6" width="7" height="6.9" fill="#274994"/><rect x="254.65" y="655.6" width="7" height="6.9" fill="#213978"/><rect x="261.2" y="655.6" width="7" height="6.9" fill="#1b2a5c"/><rect x="267.75" y="655.6" width="7" height="6.9" fill="#1f3671"/><rect x="274.3" y="655.6" width="7" height="6.9" fill="#0e1638"/><rect x="280.85" y="655.6" width="7" height="6.9" fill="#192654"/><rect x="287.4" y="655.6" width="7" height="6.9" fill="#1d2f64"/><rect x="293.95" y="655.6" width="7" height="6.9" fill="#1e3168"/><rect x="300.5" y="655.6" width="7" height="6.9" fill="#1a2857"/><rect x="307.05" y="655.6" width="7" height="6.9" fill="#2c56ab"/><rect x="313.6" y="655.6" width="7" height="6.9" fill="#821830"/><rect x="320.15" y="655.6" width="7" height="6.9" fill="#dd2030"/><rect x="326.7" y="655.6" width="7" height="6.9" fill="#961a30"/><rect x="333.25" y="655.6" width="7" height="6.9" fill="#2b55a9"/><rect x="339.8" y="655.6" width="7" height="6.9" fill="#203773"/><rect x="202.25" y="662.05" width="7" height="6.9" fill="#203875"/><rect x="208.8" y="662.05" width="7" height="6.9" fill="#244185"/><rect x="215.35" y="662.05" width="7" height="6.9" fill="#581f5c"/><rect x="221.9" y="662.05" width="7" height="6.9" fill="#ef8638"/><rect x="228.45" y="662.05" width="7" height="6.9" fill="#ef8d36"/><rect x="235" y="662.05" width="7" height="6.9" fill="#7c1934"/><rect x="241.55" y="662.05" width="7" height="6.9" fill="#26458e"/><rect x="248.1" y="662.05" width="7" height="6.9" fill="#223d7f"/><rect x="254.65" y="662.05" width="7" height="6.9" fill="#1f346e"/><rect x="261.2" y="662.05" width="7" height="6.9" fill="#233f82"/><rect x="267.75" y="662.05" width="7" height="6.9" fill="#203773"/><rect x="274.3" y="662.05" width="7" height="6.9" fill="#284c99"/><rect x="280.85" y="662.05" width="7" height="6.9" fill="#1d3066"/><rect x="287.4" y="662.05" width="7" height="6.9" fill="#26468f"/><rect x="293.95" y="662.05" width="7" height="6.9" fill="#1c2e62"/><rect x="300.5" y="662.05" width="7" height="6.9" fill="#1e326b"/><rect x="307.05" y="662.05" width="7" height="6.9" fill="#234083"/><rect x="313.6" y="662.05" width="7" height="6.9" fill="#2b52a5"/><rect x="320.15" y="662.05" width="7" height="6.9" fill="#284b97"/><rect x="326.7" y="662.05" width="7" height="6.9" fill="#2c55ab"/><rect x="333.25" y="662.05" width="7" height="6.9" fill="#1b2a5c"/><rect x="339.8" y="662.05" width="7" height="6.9" fill="#1f3570"/><rect x="202.25" y="668.5" width="7" height="6.9" fill="#1f346e"/><rect x="208.8" y="668.5" width="7" height="6.9" fill="#223c7c"/><rect x="215.35" y="668.5" width="7" height="6.9" fill="#2c56ac"/><rect x="221.9" y="668.5" width="7" height="6.9" fill="#3a5ab2"/><rect x="228.45" y="668.5" width="7" height="6.9" fill="#3058ae"/><rect x="235" y="668.5" width="7" height="6.9" fill="#284c9a"/><rect x="241.55" y="668.5" width="7" height="6.9" fill="#182451"/><rect x="248.1" y="668.5" width="7" height="6.9" fill="#223d7f"/><rect x="254.65" y="668.5" width="7" height="6.9" fill="#080d27"/><rect x="261.2" y="668.5" width="7" height="6.9" fill="#1d2f65"/><rect x="267.75" y="668.5" width="7" height="6.9" fill="#1b2a5c"/><rect x="274.3" y="668.5" width="7" height="6.9" fill="#1f346e"/><rect x="280.85" y="668.5" width="7" height="6.9" fill="#213a7a"/><rect x="287.4" y="668.5" width="7" height="6.9" fill="#1d2f65"/><rect x="293.95" y="668.5" width="7" height="6.9" fill="#1f346e"/><rect x="300.5" y="668.5" width="7" height="6.9" fill="#1a2757"/><rect x="307.05" y="668.5" width="7" height="6.9" fill="#1d3168"/><rect x="313.6" y="668.5" width="7" height="6.9" fill="#213977"/><rect x="320.15" y="668.5" width="7" height="6.9" fill="#1f346f"/><rect x="326.7" y="668.5" width="7" height="6.9" fill="#26468f"/><rect x="333.25" y="668.5" width="7" height="6.9" fill="#264892"/><rect x="339.8" y="668.5" width="7" height="6.9" fill="#1d3168"/><rect x="202.25" y="674.95" width="7" height="6.9" fill="#26468e"/><rect x="208.8" y="674.95" width="7" height="6.9" fill="#192655"/><rect x="215.35" y="674.95" width="7" height="6.9" fill="#2a52a4"/><rect x="221.9" y="674.95" width="7" height="6.9" fill="#274a97"/><rect x="228.45" y="674.95" width="7" height="6.9" fill="#254389"/><rect x="235" y="674.95" width="7" height="6.9" fill="#182451"/><rect x="241.55" y="674.95" width="7" height="6.9" fill="#26468f"/><rect x="248.1" y="674.95" width="7" height="6.9" fill="#1e336d"/><rect x="254.65" y="674.95" width="7" height="6.9" fill="#203773"/><rect x="261.2" y="674.95" width="7" height="6.9" fill="#192654"/><rect x="267.75" y="674.95" width="7" height="6.9" fill="#1c2d62"/><rect x="274.3" y="674.95" width="7" height="6.9" fill="#1e3169"/><rect x="280.85" y="674.95" width="7" height="6.9" fill="#1a2858"/><rect x="287.4" y="674.95" width="7" height="6.9" fill="#213a79"/><rect x="293.95" y="674.95" width="7" height="6.9" fill="#1f346e"/><rect x="300.5" y="674.95" width="7" height="6.9" fill="#0e1637"/><rect x="307.05" y="674.95" width="7" height="6.9" fill="#131e46"/><rect x="313.6" y="674.95" width="7" height="6.9" fill="#16224c"/><rect x="320.15" y="674.95" width="7" height="6.9" fill="#182553"/><rect x="326.7" y="674.95" width="7" height="6.9" fill="#16214c"/><rect x="333.25" y="674.95" width="7" height="6.9" fill="#25448a"/><rect x="339.8" y="674.95" width="7" height="6.9" fill="#203876"/><rect x="202.25" y="681.4" width="7" height="6.9" fill="#121b41"/><rect x="208.8" y="681.4" width="7" height="6.9" fill="#111a3f"/><rect x="215.35" y="681.4" width="7" height="6.9" fill="#1b2a5c"/><rect x="221.9" y="681.4" width="7" height="6.9" fill="#213b7b"/><rect x="228.45" y="681.4" width="7" height="6.9" fill="#1f3570"/><rect x="235" y="681.4" width="7" height="6.9" fill="#1b2a5c"/><rect x="241.55" y="681.4" width="7" height="6.9" fill="#2c56ac"/><rect x="248.1" y="681.4" width="7" height="6.9" fill="#213b7a"/><rect x="254.65" y="681.4" width="7" height="6.9" fill="#1c2c60"/><rect x="261.2" y="681.4" width="7" height="6.9" fill="#203672"/><rect x="267.75" y="681.4" width="7" height="6.9" fill="#213977"/><rect x="274.3" y="681.4" width="7" height="6.9" fill="#1b295b"/><rect x="280.85" y="681.4" width="7" height="6.9" fill="#1b295a"/><rect x="287.4" y="681.4" width="7" height="6.9" fill="#0b112e"/><rect x="293.95" y="681.4" width="7" height="6.9" fill="#192655"/><rect x="300.5" y="681.4" width="7" height="6.9" fill="#1e336c"/><rect x="307.05" y="681.4" width="7" height="6.9" fill="#244288"/><rect x="313.6" y="681.4" width="7" height="6.9" fill="#223c7d"/><rect x="320.15" y="681.4" width="7" height="6.9" fill="#203875"/><rect x="326.7" y="681.4" width="7" height="6.9" fill="#080c26"/><rect x="333.25" y="681.4" width="7" height="6.9" fill="#2c56ab"/><rect x="339.8" y="681.4" width="7" height="6.9" fill="#1a2959"/><rect x="202.25" y="687.85" width="7" height="6.9" fill="#26468e"/><rect x="208.8" y="687.85" width="7" height="6.9" fill="#1a2959"/><rect x="215.35" y="687.85" width="7" height="6.9" fill="#1d3168"/><rect x="221.9" y="687.85" width="7" height="6.9" fill="#25438a"/><rect x="228.45" y="687.85" width="7" height="6.9" fill="#1e326a"/><rect x="235" y="687.85" width="7" height="6.9" fill="#1b2a5c"/><rect x="241.55" y="687.85" width="7" height="6.9" fill="#192756"/><rect x="248.1" y="687.85" width="7" height="6.9" fill="#0a0f2a"/><rect x="254.65" y="687.85" width="7" height="6.9" fill="#1e3169"/><rect x="261.2" y="687.85" width="7" height="6.9" fill="#131d45"/><rect x="267.75" y="687.85" width="7" height="6.9" fill="#1b295b"/><rect x="274.3" y="687.85" width="7" height="6.9" fill="#1a295a"/><rect x="280.85" y="687.85" width="7" height="6.9" fill="#1b2a5b"/><rect x="287.4" y="687.85" width="7" height="6.9" fill="#244185"/><rect x="293.95" y="687.85" width="7" height="6.9" fill="#1b2a5b"/><rect x="300.5" y="687.85" width="7" height="6.9" fill="#0f173a"/><rect x="307.05" y="687.85" width="7" height="6.9" fill="#111a3e"/><rect x="313.6" y="687.85" width="7" height="6.9" fill="#182552"/><rect x="320.15" y="687.85" width="7" height="6.9" fill="#1b2b5d"/><rect x="326.7" y="687.85" width="7" height="6.9" fill="#223c7d"/><rect x="333.25" y="687.85" width="7" height="6.9" fill="#274a97"/><rect x="339.8" y="687.85" width="7" height="6.9" fill="#16224e"/><rect x="202.25" y="694.3" width="7" height="6.9" fill="#213b7a"/><rect x="208.8" y="694.3" width="7" height="6.9" fill="#1f346f"/><rect x="215.35" y="694.3" width="7" height="6.9" fill="#1f3671"/><rect x="221.9" y="694.3" width="7" height="6.9" fill="#213b7a"/><rect x="228.45" y="694.3" width="7" height="6.9" fill="#213978"/><rect x="235" y="694.3" width="7" height="6.9" fill="#264892"/><rect x="241.55" y="694.3" width="7" height="6.9" fill="#203875"/><rect x="248.1" y="694.3" width="7" height="6.9" fill="#16224d"/><rect x="254.65" y="694.3" width="7" height="6.9" fill="#131e46"/><rect x="261.2" y="694.3" width="7" height="6.9" fill="#26468f"/><rect x="267.75" y="694.3" width="7" height="6.9" fill="#080c25"/><rect x="274.3" y="694.3" width="7" height="6.9" fill="#1d3066"/><rect x="280.85" y="694.3" width="7" height="6.9" fill="#1c2c5f"/><rect x="287.4" y="694.3" width="7" height="6.9" fill="#1c2d60"/><rect x="293.95" y="694.3" width="7" height="6.9" fill="#0f173a"/><rect x="300.5" y="694.3" width="7" height="6.9" fill="#1e326b"/><rect x="307.05" y="694.3" width="7" height="6.9" fill="#1f346e"/><rect x="313.6" y="694.3" width="7" height="6.9" fill="#223d7e"/><rect x="320.15" y="694.3" width="7" height="6.9" fill="#0f1739"/><rect x="326.7" y="694.3" width="7" height="6.9" fill="#274893"/><rect x="333.25" y="694.3" width="7" height="6.9" fill="#1b2a5c"/><rect x="339.8" y="694.3" width="7" height="6.9" fill="#172451"/><rect x="202.25" y="700.75" width="7" height="6.9" fill="#1d3067"/><rect x="208.8" y="700.75" width="7" height="6.9" fill="#05081f"/><rect x="215.35" y="700.75" width="7" height="6.9" fill="#233f82"/><rect x="221.9" y="700.75" width="7" height="6.9" fill="#05081f"/><rect x="228.45" y="700.75" width="7" height="6.9" fill="#223c7d"/><rect x="235" y="700.75" width="7" height="6.9" fill="#1e336c"/><rect x="241.55" y="700.75" width="7" height="6.9" fill="#1f3570"/><rect x="248.1" y="700.75" width="7" height="6.9" fill="#25438a"/><rect x="254.65" y="700.75" width="7" height="6.9" fill="#1d3067"/><rect x="261.2" y="700.75" width="7" height="6.9" fill="#1e326a"/><rect x="267.75" y="700.75" width="7" height="6.9" fill="#1b2c5e"/><rect x="274.3" y="700.75" width="7" height="6.9" fill="#223c7c"/><rect x="280.85" y="700.75" width="7" height="6.9" fill="#17234e"/><rect x="287.4" y="700.75" width="7" height="6.9" fill="#203774"/><rect x="293.95" y="700.75" width="7" height="6.9" fill="#1e3269"/><rect x="300.5" y="700.75" width="7" height="6.9" fill="#111a3f"/><rect x="307.05" y="700.75" width="7" height="6.9" fill="#26468f"/><rect x="313.6" y="700.75" width="7" height="6.9" fill="#274893"/><rect x="320.15" y="700.75" width="7" height="6.9" fill="#1e326b"/><rect x="326.7" y="700.75" width="7" height="6.9" fill="#0c1230"/><rect x="333.25" y="700.75" width="7" height="6.9" fill="#223c7d"/><rect x="339.8" y="700.75" width="7" height="6.9" fill="#15214b"/></g>
<circle cx="126.4" cy="617" r="18.6" fill="none" stroke="#e2603e" stroke-width="1.3" stroke-dasharray="2.6,2.0"/>
<circle cx="87.4" cy="656.1" r="18.8" fill="none" stroke="#e8a830" stroke-width="1.3" stroke-dasharray="2.6,2.0"/>
<circle cx="182.4" cy="648.4" r="18.8" fill="none" stroke="#78b858" stroke-width="1.3" stroke-dasharray="2.6,2.0"/>
<circle cx="267" cy="616.9" r="18.6" fill="none" stroke="#e2603e" stroke-width="1.3" stroke-dasharray="2.6,2.0"/>
<circle cx="229.3" cy="659.1" r="19" fill="none" stroke="#e8a830" stroke-width="1.3" stroke-dasharray="2.6,2.0"/>
<circle cx="324" cy="647.2" r="19" fill="none" stroke="#78b858" stroke-width="1.3" stroke-dasharray="2.6,2.0"/>
<text x="126.3" y="590.2" font-size="17.5" fill="#ffffff" text-anchor="middle">1</text>
<text x="86.4" y="628" font-size="17.5" fill="#ffffff" text-anchor="middle">2</text>
<text x="183.3" y="623.6" font-size="17.5" fill="#ffffff" text-anchor="middle">3</text>
<line x1="65.8" y1="726.2" x2="338.3" y2="726.2" stroke="#a0a0a0" stroke-width="1"/>
<line x1="65.8" y1="921" x2="338.3" y2="921" stroke="#a0a0a0" stroke-width="1"/>
<line x1="65.8" y1="726.2" x2="65.8" y2="921" stroke="#a0a0a0" stroke-width="1"/>
<line x1="338.3" y1="726.2" x2="338.3" y2="921" stroke="#a0a0a0" stroke-width="1"/>
<line x1="205.1" y1="726.2" x2="205.1" y2="921" stroke="#a0a0a0" stroke-width="1"/>
<line x1="77.2" y1="921" x2="77.2" y2="918.5" stroke="#a0a0a0" stroke-width="0.7"/><line x1="77.2" y1="726.2" x2="77.2" y2="728.7" stroke="#a0a0a0" stroke-width="0.7"/><line x1="216.3" y1="921" x2="216.3" y2="918.5" stroke="#a0a0a0" stroke-width="0.7"/><line x1="216.3" y1="726.2" x2="216.3" y2="728.7" stroke="#a0a0a0" stroke-width="0.7"/><line x1="88.7" y1="921" x2="88.7" y2="918.5" stroke="#a0a0a0" stroke-width="0.7"/><line x1="88.7" y1="726.2" x2="88.7" y2="728.7" stroke="#a0a0a0" stroke-width="0.7"/><line x1="227.6" y1="921" x2="227.6" y2="918.5" stroke="#a0a0a0" stroke-width="0.7"/><line x1="227.6" y1="726.2" x2="227.6" y2="728.7" stroke="#a0a0a0" stroke-width="0.7"/><line x1="100.1" y1="921" x2="100.1" y2="918.5" stroke="#a0a0a0" stroke-width="0.7"/><line x1="100.1" y1="726.2" x2="100.1" y2="728.7" stroke="#a0a0a0" stroke-width="0.7"/><line x1="238.8" y1="921" x2="238.8" y2="918.5" stroke="#a0a0a0" stroke-width="0.7"/><line x1="238.8" y1="726.2" x2="238.8" y2="728.7" stroke="#a0a0a0" stroke-width="0.7"/><line x1="111.6" y1="921" x2="111.6" y2="918.5" stroke="#a0a0a0" stroke-width="0.7"/><line x1="111.6" y1="726.2" x2="111.6" y2="728.7" stroke="#a0a0a0" stroke-width="0.7"/><line x1="250.1" y1="921" x2="250.1" y2="918.5" stroke="#a0a0a0" stroke-width="0.7"/><line x1="250.1" y1="726.2" x2="250.1" y2="728.7" stroke="#a0a0a0" stroke-width="0.7"/><line x1="123" y1="921" x2="123" y2="918.5" stroke="#a0a0a0" stroke-width="0.7"/><line x1="123" y1="726.2" x2="123" y2="728.7" stroke="#a0a0a0" stroke-width="0.7"/><line x1="261.4" y1="921" x2="261.4" y2="918.5" stroke="#a0a0a0" stroke-width="0.7"/><line x1="261.4" y1="726.2" x2="261.4" y2="728.7" stroke="#a0a0a0" stroke-width="0.7"/><line x1="134.5" y1="921" x2="134.5" y2="918.5" stroke="#a0a0a0" stroke-width="0.7"/><line x1="134.5" y1="726.2" x2="134.5" y2="728.7" stroke="#a0a0a0" stroke-width="0.7"/><line x1="272.6" y1="921" x2="272.6" y2="918.5" stroke="#a0a0a0" stroke-width="0.7"/><line x1="272.6" y1="726.2" x2="272.6" y2="728.7" stroke="#a0a0a0" stroke-width="0.7"/><line x1="145.9" y1="921" x2="145.9" y2="918.5" stroke="#a0a0a0" stroke-width="0.7"/><line x1="145.9" y1="726.2" x2="145.9" y2="728.7" stroke="#a0a0a0" stroke-width="0.7"/><line x1="283.9" y1="921" x2="283.9" y2="918.5" stroke="#a0a0a0" stroke-width="0.7"/><line x1="283.9" y1="726.2" x2="283.9" y2="728.7" stroke="#a0a0a0" stroke-width="0.7"/><line x1="157.4" y1="921" x2="157.4" y2="918.5" stroke="#a0a0a0" stroke-width="0.7"/><line x1="157.4" y1="726.2" x2="157.4" y2="728.7" stroke="#a0a0a0" stroke-width="0.7"/><line x1="295.1" y1="921" x2="295.1" y2="918.5" stroke="#a0a0a0" stroke-width="0.7"/><line x1="295.1" y1="726.2" x2="295.1" y2="728.7" stroke="#a0a0a0" stroke-width="0.7"/><line x1="168.8" y1="921" x2="168.8" y2="918.5" stroke="#a0a0a0" stroke-width="0.7"/><line x1="168.8" y1="726.2" x2="168.8" y2="728.7" stroke="#a0a0a0" stroke-width="0.7"/><line x1="306.4" y1="921" x2="306.4" y2="918.5" stroke="#a0a0a0" stroke-width="0.7"/><line x1="306.4" y1="726.2" x2="306.4" y2="728.7" stroke="#a0a0a0" stroke-width="0.7"/><line x1="180.3" y1="921" x2="180.3" y2="918.5" stroke="#a0a0a0" stroke-width="0.7"/><line x1="180.3" y1="726.2" x2="180.3" y2="728.7" stroke="#a0a0a0" stroke-width="0.7"/><line x1="317.6" y1="921" x2="317.6" y2="918.5" stroke="#a0a0a0" stroke-width="0.7"/><line x1="317.6" y1="726.2" x2="317.6" y2="728.7" stroke="#a0a0a0" stroke-width="0.7"/><line x1="191.8" y1="921" x2="191.8" y2="918.5" stroke="#a0a0a0" stroke-width="0.7"/><line x1="191.8" y1="726.2" x2="191.8" y2="728.7" stroke="#a0a0a0" stroke-width="0.7"/><line x1="328.9" y1="921" x2="328.9" y2="918.5" stroke="#a0a0a0" stroke-width="0.7"/><line x1="328.9" y1="726.2" x2="328.9" y2="728.7" stroke="#a0a0a0" stroke-width="0.7"/><line x1="65.8" y1="896.6" x2="68.3" y2="896.6" stroke="#a0a0a0" stroke-width="0.7"/><line x1="338.3" y1="896.6" x2="335.8" y2="896.6" stroke="#a0a0a0" stroke-width="0.7"/><line x1="65.8" y1="872.3" x2="68.3" y2="872.3" stroke="#a0a0a0" stroke-width="0.7"/><line x1="338.3" y1="872.3" x2="335.8" y2="872.3" stroke="#a0a0a0" stroke-width="0.7"/><line x1="65.8" y1="848" x2="68.3" y2="848" stroke="#a0a0a0" stroke-width="0.7"/><line x1="338.3" y1="848" x2="335.8" y2="848" stroke="#a0a0a0" stroke-width="0.7"/><line x1="65.8" y1="823.6" x2="68.3" y2="823.6" stroke="#a0a0a0" stroke-width="0.7"/><line x1="338.3" y1="823.6" x2="335.8" y2="823.6" stroke="#a0a0a0" stroke-width="0.7"/><line x1="65.8" y1="799.2" x2="68.3" y2="799.2" stroke="#a0a0a0" stroke-width="0.7"/><line x1="338.3" y1="799.2" x2="335.8" y2="799.2" stroke="#a0a0a0" stroke-width="0.7"/><line x1="65.8" y1="774.9" x2="68.3" y2="774.9" stroke="#a0a0a0" stroke-width="0.7"/><line x1="338.3" y1="774.9" x2="335.8" y2="774.9" stroke="#a0a0a0" stroke-width="0.7"/><line x1="65.8" y1="750.6" x2="68.3" y2="750.6" stroke="#a0a0a0" stroke-width="0.7"/><line x1="338.3" y1="750.6" x2="335.8" y2="750.6" stroke="#a0a0a0" stroke-width="0.7"/>
<text x="88.7" y="931.2" font-size="12" fill="#2a2222" text-anchor="middle">2</text>
<text x="227.6" y="931.2" font-size="12" fill="#2a2222" text-anchor="middle">2</text>
<text x="111.6" y="931.2" font-size="12" fill="#2a2222" text-anchor="middle">4</text>
<text x="250.1" y="931.2" font-size="12" fill="#2a2222" text-anchor="middle">4</text>
<text x="134.5" y="931.2" font-size="12" fill="#2a2222" text-anchor="middle">6</text>
<text x="272.6" y="931.2" font-size="12" fill="#2a2222" text-anchor="middle">6</text>
<text x="157.4" y="931.2" font-size="12" fill="#2a2222" text-anchor="middle">8</text>
<text x="295.1" y="931.2" font-size="12" fill="#2a2222" text-anchor="middle">8</text>
<text x="180.3" y="931.2" font-size="12" fill="#2a2222" text-anchor="middle">10</text>
<text x="317.6" y="931.2" font-size="12" fill="#2a2222" text-anchor="middle">10</text>
<text x="63" y="925.3" font-size="12" fill="#2a2222" text-anchor="end">0</text>
<text x="63" y="876.6" font-size="12" fill="#2a2222" text-anchor="end">5</text>
<text x="63" y="827.9" font-size="12" fill="#2a2222" text-anchor="end">10</text>
<text x="63" y="779.2" font-size="12" fill="#2a2222" text-anchor="end">15</text>
<text x="63" y="730.5" font-size="12" fill="#2a2222" text-anchor="end">20</text>
<text x="341.8" y="925.3" font-size="12" fill="#2a2222">0</text>
<text x="341.8" y="886.3" font-size="12" fill="#2a2222">200</text>
<text x="341.8" y="847.4" font-size="12" fill="#2a2222">400</text>
<text x="341.8" y="808.4" font-size="12" fill="#2a2222">600</text>
<text x="341.8" y="769.5" font-size="12" fill="#2a2222">800</text>
<text x="341.8" y="730.5" font-size="12" fill="#2a2222">1000</text>
<text x="137.4" y="943.8" font-size="12.5" fill="#2a2222" text-anchor="middle">Pixel</text>
<text x="274.4" y="943.8" font-size="12.5" fill="#2a2222" text-anchor="middle">Pixel</text>
<g transform="translate(43.8,816) rotate(-90)"><text x="0" y="0" font-size="12.5" fill="#2a2222" text-anchor="middle"><tspan font-size="12.5">UCL (pps px</tspan><tspan font-size="7.6" dy="-4.5">-1</tspan><tspan font-size="12.5" dy="4.5">)</tspan></text></g>
<path d="M66.9,885.9 78.3,885.9 78.3,891.8 89.8,891.8 89.8,890.8 101.2,890.8 101.2,888.9 112.7,888.9 112.7,881.1 124.1,881.1 124.1,875.2 135.6,875.2 135.6,880.1 147,880.1 147,886.9 158.5,886.9 158.5,891.8 169.9,891.8 169.9,893.7 181.4,893.7 181.4,895.7 192.8,895.7 192.8,897.6 204.3,897.6" fill="none" stroke="#e8a830" stroke-width="0.9" stroke-dasharray="2.6,1.6" stroke-opacity="0.85"/>
<path d="M66.9,899.6 78.3,899.6 78.3,899.6 89.8,899.6 89.8,899.6 101.2,899.6 101.2,888.9 112.7,888.9 112.7,885.9 124.1,885.9 124.1,884 135.6,884 135.6,867.4 147,867.4 147,874.2 158.5,874.2 158.5,891.8 169.9,891.8 169.9,896.6 181.4,896.6 181.4,898.6 192.8,898.6 192.8,899.6 204.3,899.6" fill="none" stroke="#78b858" stroke-width="0.9" stroke-dasharray="2.6,1.6" stroke-opacity="0.85"/>
<path d="M66.9,893.7 78.3,893.7 78.3,891.8 89.8,891.8 89.8,875.2 101.2,875.2 101.2,837.2 112.7,837.2 112.7,772 124.1,772 124.1,738.9 135.6,738.9 135.6,797.3 147,797.3 147,851.8 158.5,851.8 158.5,889.8 169.9,889.8 169.9,892.8 181.4,892.8 181.4,893.7 192.8,893.7 192.8,894.7 204.3,894.7" fill="none" stroke="#e2603e" stroke-width="0.9" stroke-dasharray="2.6,1.6" stroke-opacity="0.85"/>
<path d="M205.1,891.8 216.3,891.8 216.3,891.8 227.6,891.8 227.6,880.1 238.8,880.1 238.8,866.5 250.1,866.5 250.1,802.2 261.4,802.2 261.4,765.2 272.6,765.2 272.6,794.4 283.9,794.4 283.9,856.7 295.1,856.7 295.1,882 306.4,882 306.4,891.8 317.6,891.8 317.6,895.7 328.9,895.7 328.9,899.6 340.1,899.6" fill="none" stroke="#e8a830" stroke-width="0.9" stroke-dasharray="2.6,1.6" stroke-opacity="0.85"/>
<path d="M205.1,898.6 216.3,898.6 216.3,898.6 227.6,898.6 227.6,896.6 238.8,896.6 238.8,881.1 250.1,881.1 250.1,852.8 261.4,852.8 261.4,745.7 272.6,745.7 272.6,767.1 283.9,767.1 283.9,794.4 295.1,794.4 295.1,828.5 306.4,828.5 306.4,878.1 317.6,878.1 317.6,889.8 328.9,889.8 328.9,893.7 340.1,893.7" fill="none" stroke="#78b858" stroke-width="0.9" stroke-dasharray="2.6,1.6" stroke-opacity="0.85"/>
<path d="M205.1,894.7 216.3,894.7 216.3,893.7 227.6,893.7 227.6,891.8 238.8,891.8 238.8,878.1 250.1,878.1 250.1,839.2 261.4,839.2 261.4,749.6 272.6,749.6 272.6,765.2 283.9,765.2 283.9,839.2 295.1,839.2 295.1,885.9 306.4,885.9 306.4,895.7 317.6,895.7 317.6,895.7 328.9,895.7 328.9,894.7 340.1,894.7" fill="none" stroke="#e2603e" stroke-width="0.9" stroke-dasharray="2.6,1.6" stroke-opacity="0.85"/>
<path d="M65.8,894.5 67,894.4 68.1,894.4 69.3,894.3 70.4,894.3 71.6,894.2 72.8,894.1 73.9,894 75.1,893.9 76.2,893.8 77.4,893.6 78.6,893.5 79.7,893.3 80.9,893.1 82.1,892.9 83.2,892.7 84.4,892.4 85.5,892.1 86.7,891.8 87.9,891.5 89,891.1 90.2,890.7 91.3,890.3 92.5,889.9 93.7,889.4 94.8,888.9 96,888.4 97.1,887.8 98.3,887.3 99.5,886.7 100.6,886.1 101.8,885.4 102.9,884.8 104.1,884.1 105.3,883.5 106.4,882.8 107.6,882.2 108.8,881.6 109.9,880.9 111.1,880.3 112.2,879.8 113.4,879.2 114.6,878.7 115.7,878.2 116.9,877.8 118,877.4 119.2,877 120.4,876.8 121.5,876.5 122.7,876.4 123.8,876.2 125,876.2 126.2,876.2 127.3,876.3 128.5,876.4 129.6,876.6 130.8,876.9 132,877.2 133.1,877.5 134.3,878 135.4,878.4 136.6,878.9 137.8,879.4 138.9,880 140.1,880.6 141.3,881.2 142.4,881.8 143.6,882.5 144.7,883.1 145.9,883.8 147.1,884.4 148.2,885.1 149.4,885.7 150.5,886.3 151.7,886.9 152.9,887.5 154,888.1 155.2,888.6 156.3,889.1 157.5,889.6 158.7,890.1 159.8,890.5 161,890.9 162.1,891.3 163.3,891.6 164.5,892 165.6,892.3 166.8,892.5 168,892.8 169.1,893 170.3,893.2 171.4,893.4 172.6,893.6 173.8,893.7 174.9,893.8 176.1,894 177.2,894.1 178.4,894.1 179.6,894.2 180.7,894.3 181.9,894.4 183,894.4 184.2,894.5 185.4,894.5 186.5,894.5 187.7,894.6 188.8,894.6 190,894.6 191.2,894.6 192.3,894.6 193.5,894.6 194.7,894.7 195.8,894.7 197,894.7 198.1,894.7 199.3,894.7 200.5,894.7 201.6,894.7 202.8,894.7 203.9,894.7 205.1,894.7" fill="none" stroke="#e8a830" stroke-width="1.4"/>
<path d="M65.8,896.6 67,896.6 68.1,896.6 69.3,896.6 70.4,896.6 71.6,896.6 72.8,896.6 73.9,896.6 75.1,896.6 76.2,896.6 77.4,896.6 78.6,896.6 79.7,896.6 80.9,896.6 82.1,896.6 83.2,896.6 84.4,896.6 85.5,896.6 86.7,896.6 87.9,896.6 89,896.6 90.2,896.6 91.3,896.6 92.5,896.6 93.7,896.6 94.8,896.6 96,896.6 97.1,896.6 98.3,896.6 99.5,896.5 100.6,896.5 101.8,896.4 102.9,896.3 104.1,896.2 105.3,896.1 106.4,895.9 107.6,895.7 108.8,895.4 109.9,895.1 111.1,894.7 112.2,894.2 113.4,893.7 114.6,893 115.7,892.2 116.9,891.3 118,890.3 119.2,889.2 120.4,888 121.5,886.6 122.7,885.1 123.8,883.6 125,881.9 126.2,880.2 127.3,878.5 128.5,876.8 129.6,875.2 130.8,873.6 132,872.1 133.1,870.8 134.3,869.7 135.4,868.7 136.6,868 137.8,867.6 138.9,867.4 140.1,867.5 141.3,867.9 142.4,868.5 143.6,869.4 144.7,870.5 145.9,871.8 147.1,873.2 148.2,874.8 149.4,876.4 150.5,878.1 151.7,879.8 152.9,881.5 154,883.2 155.2,884.7 156.3,886.2 157.5,887.6 158.7,888.9 159.8,890.1 161,891.1 162.1,892 163.3,892.8 164.5,893.5 165.6,894.1 166.8,894.6 168,895 169.1,895.4 170.3,895.6 171.4,895.9 172.6,896.1 173.8,896.2 174.9,896.3 176.1,896.4 177.2,896.5 178.4,896.5 179.6,896.5 180.7,896.6 181.9,896.6 183,896.6 184.2,896.6 185.4,896.6 186.5,896.6 187.7,896.6 188.8,896.6 190,896.6 191.2,896.6 192.3,896.6 193.5,896.6 194.7,896.6 195.8,896.6 197,896.6 198.1,896.6 199.3,896.6 200.5,896.6 201.6,896.6 202.8,896.6 203.9,896.6 205.1,896.6" fill="none" stroke="#78b858" stroke-width="1.4"/>
<path d="M65.8,894.2 67,894.2 68.1,894.2 69.3,894.2 70.4,894.2 71.6,894.2 72.8,894.2 73.9,894.1 75.1,894.1 76.2,894.1 77.4,894 78.6,894 79.7,893.9 80.9,893.8 82.1,893.6 83.2,893.4 84.4,893.2 85.5,892.9 86.7,892.5 87.9,892 89,891.4 90.2,890.7 91.3,889.8 92.5,888.7 93.7,887.4 94.8,885.8 96,883.9 97.1,881.7 98.3,879.2 99.5,876.3 100.6,872.9 101.8,869.1 102.9,864.9 104.1,860.1 105.3,854.9 106.4,849.2 107.6,843 108.8,836.4 109.9,829.5 111.1,822.2 112.2,814.6 113.4,806.9 114.6,799.1 115.7,791.4 116.9,783.8 118,776.5 119.2,769.6 120.4,763.3 121.5,757.6 122.7,752.7 123.8,748.6 125,745.5 126.2,743.4 127.3,742.4 128.5,742.4 129.6,743.6 130.8,745.7 132,748.9 133.1,753 134.3,758 135.4,763.8 136.6,770.2 137.8,777.1 138.9,784.4 140.1,792 141.3,799.7 142.4,807.5 143.6,815.2 144.7,822.8 145.9,830 147.1,837 148.2,843.5 149.4,849.7 150.5,855.3 151.7,860.5 152.9,865.2 154,869.4 155.2,873.2 156.3,876.5 157.5,879.4 158.7,881.9 159.8,884.1 161,885.9 162.1,887.5 163.3,888.8 164.5,889.9 165.6,890.7 166.8,891.5 168,892.1 169.1,892.5 170.3,892.9 171.4,893.2 172.6,893.5 173.8,893.6 174.9,893.8 176.1,893.9 177.2,894 178.4,894 179.6,894.1 180.7,894.1 181.9,894.1 183,894.2 184.2,894.2 185.4,894.2 186.5,894.2 187.7,894.2 188.8,894.2 190,894.2 191.2,894.2 192.3,894.2 193.5,894.2 194.7,894.2 195.8,894.2 197,894.2 198.1,894.2 199.3,894.2 200.5,894.2 201.6,894.2 202.8,894.2 203.9,894.2 205.1,894.2" fill="none" stroke="#e2603e" stroke-width="1.4"/>
<path d="M205.1,894.5 206.2,894.5 207.3,894.5 208.4,894.5 209.5,894.5 210.7,894.5 211.8,894.5 212.9,894.5 214,894.4 215.1,894.4 216.2,894.4 217.3,894.4 218.4,894.3 219.5,894.2 220.6,894.2 221.8,894.1 222.9,893.9 224,893.8 225.1,893.6 226.2,893.3 227.3,893 228.4,892.6 229.5,892.1 230.6,891.6 231.7,890.9 232.8,890.1 234,889.1 235.1,887.9 236.2,886.6 237.3,885 238.4,883.2 239.5,881.2 240.6,878.8 241.7,876.2 242.8,873.2 243.9,869.9 245.1,866.3 246.2,862.3 247.3,857.9 248.4,853.2 249.5,848.2 250.6,842.9 251.7,837.3 252.8,831.5 253.9,825.5 255.1,819.4 256.2,813.2 257.3,807.1 258.4,801 259.5,795.1 260.6,789.5 261.7,784.2 262.8,779.3 263.9,774.9 265,771.1 266.1,767.9 267.3,765.4 268.4,763.7 269.5,762.7 270.6,762.5 271.7,763 272.8,764.3 273.9,766.4 275,769.2 276.1,772.7 277.2,776.8 278.4,781.4 279.5,786.4 280.6,791.9 281.7,797.6 282.8,803.6 283.9,809.7 285,815.9 286.1,822.1 287.2,828.1 288.4,834 289.5,839.8 290.6,845.2 291.7,850.4 292.8,855.3 293.9,859.8 295,864 296.1,867.9 297.2,871.4 298.3,874.5 299.5,877.4 300.6,879.9 301.7,882.1 302.8,884 303.9,885.7 305,887.2 306.1,888.5 307.2,889.5 308.3,890.4 309.4,891.2 310.6,891.8 311.7,892.4 312.8,892.8 313.9,893.1 315,893.4 316.1,893.7 317.2,893.8 318.3,894 319.4,894.1 320.5,894.2 321.7,894.3 322.8,894.3 323.9,894.4 325,894.4 326.1,894.4 327.2,894.5 328.3,894.5 329.4,894.5 330.5,894.5 331.6,894.5 332.8,894.5 333.9,894.5 335,894.5 336.1,894.5 337.2,894.5 338.3,894.5" fill="none" stroke="#e8a830" stroke-width="1.4"/>
<path d="M205.1,894.5 206.2,894.5 207.3,894.5 208.4,894.5 209.5,894.5 210.7,894.5 211.8,894.5 212.9,894.5 214,894.5 215.1,894.5 216.2,894.5 217.3,894.5 218.4,894.5 219.5,894.5 220.6,894.5 221.8,894.5 222.9,894.5 224,894.5 225.1,894.5 226.2,894.5 227.3,894.5 228.4,894.4 229.5,894.4 230.6,894.4 231.7,894.3 232.8,894.3 234,894.2 235.1,894.1 236.2,893.9 237.3,893.7 238.4,893.5 239.5,893.2 240.6,892.8 241.7,892.3 242.8,891.6 243.9,890.8 245.1,889.9 246.2,888.7 247.3,887.3 248.4,885.6 249.5,883.6 250.6,881.3 251.7,878.6 252.8,875.4 253.9,871.9 255.1,867.9 256.2,863.4 257.3,858.4 258.4,853 259.5,847.1 260.6,840.8 261.7,834.1 262.8,827.1 263.9,819.9 265,812.6 266.1,805.3 267.3,798 268.4,791 269.5,784.3 270.6,778 271.7,772.4 272.8,767.5 273.9,763.4 275,760.3 276.1,758.1 277.2,757 278.4,756.9 279.5,757.9 280.6,759.9 281.7,762.9 282.8,766.9 283.9,771.7 285,777.2 286.1,783.3 287.2,789.9 288.4,796.9 289.5,804.2 290.6,811.5 291.7,818.9 292.8,826.1 293.9,833.1 295,839.8 296.1,846.2 297.2,852.1 298.3,857.6 299.5,862.7 300.6,867.2 301.7,871.3 302.8,874.9 303.9,878.1 305,880.9 306.1,883.3 307.2,885.3 308.3,887.1 309.4,888.5 310.6,889.7 311.7,890.7 312.8,891.5 313.9,892.2 315,892.7 316.1,893.1 317.2,893.5 318.3,893.7 319.4,893.9 320.5,894.1 321.7,894.2 322.8,894.3 323.9,894.3 325,894.4 326.1,894.4 327.2,894.4 328.3,894.5 329.4,894.5 330.5,894.5 331.6,894.5 332.8,894.5 333.9,894.5 335,894.5 336.1,894.5 337.2,894.5 338.3,894.5" fill="none" stroke="#78b858" stroke-width="1.4"/>
<path d="M205.1,894.5 206.2,894.5 207.3,894.5 208.4,894.5 209.5,894.5 210.7,894.5 211.8,894.5 212.9,894.5 214,894.5 215.1,894.5 216.2,894.5 217.3,894.5 218.4,894.5 219.5,894.5 220.6,894.5 221.8,894.5 222.9,894.4 224,894.4 225.1,894.3 226.2,894.3 227.3,894.2 228.4,894.1 229.5,893.9 230.6,893.7 231.7,893.5 232.8,893.1 234,892.7 235.1,892.1 236.2,891.4 237.3,890.5 238.4,889.4 239.5,888.1 240.6,886.4 241.7,884.5 242.8,882.1 243.9,879.4 245.1,876.1 246.2,872.4 247.3,868.2 248.4,863.4 249.5,858 250.6,852 251.7,845.5 252.8,838.5 253.9,831 255.1,823.1 256.2,814.8 257.3,806.4 258.4,797.8 259.5,789.3 260.6,781 261.7,773.1 262.8,765.7 263.9,759 265,753.2 266.1,748.3 267.3,744.5 268.4,741.8 269.5,740.4 270.6,740.3 271.7,741.5 272.8,743.9 273.9,747.6 275,752.3 276.1,758 277.2,764.6 278.4,771.9 279.5,779.7 280.6,788 281.7,796.4 282.8,805 283.9,813.4 285,821.7 286.1,829.7 287.2,837.3 288.4,844.4 289.5,851 290.6,857.1 291.7,862.5 292.8,867.4 293.9,871.8 295,875.6 296.1,878.9 297.2,881.7 298.3,884.1 299.5,886.1 300.6,887.8 301.7,889.2 302.8,890.3 303.9,891.3 305,892 306.1,892.6 307.2,893 308.3,893.4 309.4,893.7 310.6,893.9 311.7,894.1 312.8,894.2 313.9,894.3 315,894.3 316.1,894.4 317.2,894.4 318.3,894.4 319.4,894.5 320.5,894.5 321.7,894.5 322.8,894.5 323.9,894.5 325,894.5 326.1,894.5 327.2,894.5 328.3,894.5 329.4,894.5 330.5,894.5 331.6,894.5 332.8,894.5 333.9,894.5 335,894.5 336.1,894.5 337.2,894.5 338.3,894.5" fill="none" stroke="#e2603e" stroke-width="1.4"/>
<line x1="76.9" y1="740" x2="84.4" y2="740" stroke="#e2603e" stroke-width="1.3"/>
<text x="90.7" y="744.3" font-size="12" fill="#2a2222">1</text>
<line x1="76.9" y1="757.8" x2="84.4" y2="757.8" stroke="#e8a830" stroke-width="1.3"/>
<text x="90.7" y="762.1" font-size="12" fill="#2a2222">2</text>
<line x1="76.9" y1="775.5" x2="84.4" y2="775.5" stroke="#78b858" stroke-width="1.3"/>
<text x="90.7" y="779.8" font-size="12" fill="#2a2222">3</text>
<text x="406.6" y="550.8" font-size="22" fill="#231f20">f</text>
<rect x="464.6" y="591.3" width="23.6" height="273.1" fill="#0a6ab8" stroke="#333" stroke-width="0.8"/>
<rect x="493.5" y="683.4" width="23.6" height="181" fill="#5e9d3e" stroke="#333" stroke-width="0.8"/>
<rect x="523.4" y="856.2" width="23.6" height="8.2" fill="#9a1a38" stroke="#333" stroke-width="0.8"/>
<rect x="552.8" y="825.2" width="23.5" height="39.2" fill="#e0602a" stroke="#333" stroke-width="0.8"/>
<rect x="582.6" y="844.4" width="23.6" height="20" fill="#e8aa2c" stroke="#333" stroke-width="0.8"/>
<rect x="611.5" y="860.3" width="23.6" height="4.1" fill="#7e3a98" stroke="#333" stroke-width="0.8"/>
<line x1="476.4" y1="541.1" x2="476.4" y2="641.3" stroke="#222" stroke-width="0.8"/>
<line x1="473.8" y1="541.1" x2="479" y2="541.1" stroke="#222" stroke-width="0.8"/>
<line x1="473.8" y1="641.3" x2="479" y2="641.3" stroke="#222" stroke-width="0.8"/>
<line x1="505.3" y1="655.6" x2="505.3" y2="711.2" stroke="#222" stroke-width="0.8"/>
<line x1="502.7" y1="655.6" x2="507.9" y2="655.6" stroke="#222" stroke-width="0.8"/>
<line x1="502.7" y1="711.2" x2="507.9" y2="711.2" stroke="#222" stroke-width="0.8"/>
<line x1="535.2" y1="855" x2="535.2" y2="858" stroke="#222" stroke-width="0.8"/>
<line x1="532.6" y1="855" x2="537.8" y2="855" stroke="#222" stroke-width="0.8"/>
<line x1="532.6" y1="858" x2="537.8" y2="858" stroke="#222" stroke-width="0.8"/>
<line x1="564.5" y1="815" x2="564.5" y2="835.9" stroke="#222" stroke-width="0.8"/>
<line x1="561.9" y1="815" x2="567.1" y2="815" stroke="#222" stroke-width="0.8"/>
<line x1="561.9" y1="835.9" x2="567.1" y2="835.9" stroke="#222" stroke-width="0.8"/>
<line x1="594.4" y1="840.3" x2="594.4" y2="849.2" stroke="#222" stroke-width="0.8"/>
<line x1="591.8" y1="840.3" x2="597" y2="840.3" stroke="#222" stroke-width="0.8"/>
<line x1="591.8" y1="849.2" x2="597" y2="849.2" stroke="#222" stroke-width="0.8"/>
<line x1="623.3" y1="860" x2="623.3" y2="862" stroke="#222" stroke-width="0.8"/>
<line x1="620.7" y1="860" x2="625.9" y2="860" stroke="#222" stroke-width="0.8"/>
<line x1="620.7" y1="862" x2="625.9" y2="862" stroke="#222" stroke-width="0.8"/>
<path d="M480.2,586.5 A54.8,157.2 0 0 1 535,743.7" fill="none" stroke="#555" stroke-width="0.7" stroke-dasharray="1,1"/>
<path d="M480.2,586.5 A85.9,183.9 0 0 1 566.1,770.4" fill="none" stroke="#555" stroke-width="0.7" stroke-dasharray="1,1"/>
<path d="M480.2,586.5 A114.8,210.5 0 0 1 595,797" fill="none" stroke="#555" stroke-width="0.7" stroke-dasharray="1,1"/>
<path d="M480.2,586.5 A143.3,238.2 0 0 1 623.5,824.7" fill="none" stroke="#555" stroke-width="0.7" stroke-dasharray="1,1"/>
<text x="518.9" y="759.4" font-size="10.6" fill="#2a2222">33.2-fold</text>
<text x="550.5" y="786.1" font-size="10.6" fill="#2a2222">7.0-fold</text>
<text x="576.8" y="813.3" font-size="10.6" fill="#2a2222">13.6-fold</text>
<text x="603.5" y="839.1" font-size="10.6" fill="#2a2222">74.3-fold</text>
<rect x="446.8" y="534.5" width="205.7" height="329.9" fill="none" stroke="#555" stroke-width="1"/>
<line x1="446.8" y1="864.4" x2="450.4" y2="864.4" stroke="#555" stroke-width="0.9"/>
<line x1="652.5" y1="864.4" x2="648.9" y2="864.4" stroke="#555" stroke-width="0.9"/>
<text x="444" y="870" font-size="14.4" fill="#1a1a1a" text-anchor="end">0</text>
<line x1="446.8" y1="761.3" x2="450.4" y2="761.3" stroke="#555" stroke-width="0.9"/>
<line x1="652.5" y1="761.3" x2="648.9" y2="761.3" stroke="#555" stroke-width="0.9"/>
<text x="444" y="766.9" font-size="14.4" fill="#1a1a1a" text-anchor="end">0.5</text>
<line x1="446.8" y1="658.3" x2="450.4" y2="658.3" stroke="#555" stroke-width="0.9"/>
<line x1="652.5" y1="658.3" x2="648.9" y2="658.3" stroke="#555" stroke-width="0.9"/>
<text x="444" y="663.9" font-size="14.4" fill="#1a1a1a" text-anchor="end">1</text>
<line x1="446.8" y1="555.2" x2="450.4" y2="555.2" stroke="#555" stroke-width="0.9"/>
<line x1="652.5" y1="555.2" x2="648.9" y2="555.2" stroke="#555" stroke-width="0.9"/>
<text x="444" y="560.8" font-size="14.4" fill="#1a1a1a" text-anchor="end">1.5</text>
<text x="490.9" y="555.4" font-size="12.3" fill="#2a2222" textLength="156" lengthAdjust="spacingAndGlyphs"><tspan font-size="12.3">Power density: 2.8 kW cm</tspan><tspan font-size="7.4" dy="-4.6">-2</tspan></text>
<g transform="translate(420.8,698.5) rotate(-90)"><text x="0" y="0" font-size="14.4" fill="#2a2222" text-anchor="middle" textLength="158.5" lengthAdjust="spacingAndGlyphs"><tspan font-size="14.4">UCL/Volume (pps nm</tspan><tspan font-size="8.6" dy="-5.2">-3</tspan><tspan font-size="14.4" dy="5.2">)</tspan></text></g>
<rect x="383.4" y="900.6" width="6.8" height="6.8" fill="#0a6ab8"/>
<text x="393.6" y="902.2" font-size="12.6" fill="#2a2222"><tspan font-size="12.6">Yb:Gd,Er</tspan><tspan font-size="8" dy="-4.6">7 nm</tspan><tspan font-size="12.6" dy="4.6">@</tspan></text>
<text x="393.6" y="916.5" font-size="12.6" fill="#2a2222"><tspan font-size="12.6">Yb</tspan><tspan font-size="8" dy="-4.6">1 nm</tspan><tspan font-size="12.6" dy="4.6">@Lu</tspan><tspan font-size="8" dy="-4.6">0.5 nm</tspan></text>
<rect x="497.8" y="900.8" width="6.8" height="6.8" fill="#5e9d3e"/>
<text x="507.4" y="902.2" font-size="12.6" fill="#2a2222"><tspan font-size="12.6">Yb:Gd,Er</tspan><tspan font-size="8" dy="-4.6">7 nm</tspan></text>
<text x="507.4" y="916.5" font-size="12.6" fill="#2a2222"><tspan font-size="12.6">@Lu</tspan><tspan font-size="8" dy="-4.6">1.5 nm</tspan></text>
<rect x="597.2" y="902.2" width="6.8" height="6.8" fill="#9a1a38"/>
<text x="608.2" y="900.8" font-size="12.6" fill="#2a2222"><tspan font-size="12.6">Conventional</tspan></text>
<text x="608.2" y="916.3" font-size="12.6" fill="#2a2222"><tspan font-size="12.6">19-nm UCNP</tspan></text>
<rect x="383.4" y="948" width="6.8" height="6.8" fill="#e0602a"/>
<text x="393.6" y="947.7" font-size="12.6" fill="#2a2222"><tspan font-size="12.6">Yb:Gd,Er</tspan><tspan font-size="8" dy="-4.6">7 nm</tspan><tspan font-size="12.6" dy="4.6">@</tspan></text>
<text x="393.6" y="963.4" font-size="12.6" fill="#2a2222"><tspan font-size="12.6">YbEr</tspan><tspan font-size="8" dy="-4.6">1 nm</tspan><tspan font-size="12.6" dy="4.6">@Lu</tspan><tspan font-size="8" dy="-4.6">0.5 nm</tspan></text>
<rect x="500" y="948.2" width="6.8" height="6.8" fill="#e8aa2c"/>
<text x="509.6" y="949.2" font-size="12.6" fill="#2a2222"><tspan font-size="12.6">High-Er</tspan><tspan font-size="8" dy="-4.6">3+</tspan><tspan font-size="12.6" dy="4.6">(20%)</tspan></text>
<text x="509.6" y="964.7" font-size="12.6" fill="#2a2222"><tspan font-size="12.6">10-nm UCNP</tspan></text>
<rect x="597.2" y="951" width="6.8" height="6.8" fill="#7e3a98"/>
<text x="608.2" y="950" font-size="12.6" fill="#2a2222"><tspan font-size="12.6">Yb:Gd,Er</tspan><tspan font-size="8" dy="-4.6">7 nm</tspan></text>
<text x="608.2" y="964.9" font-size="12.6" fill="#2a2222"><tspan font-size="12.6">@Yb</tspan><tspan font-size="8" dy="-4.6">1 nm</tspan></text>
<text x="2.3" y="15.9" font-size="22.5" fill="#231f20">a</text>
<text x="253.4" y="15.9" font-size="22.5" fill="#231f20">b</text>
<text x="-0.3" y="210.7" font-size="22.5" fill="#231f20">c</text>
</svg>
</body></html>
